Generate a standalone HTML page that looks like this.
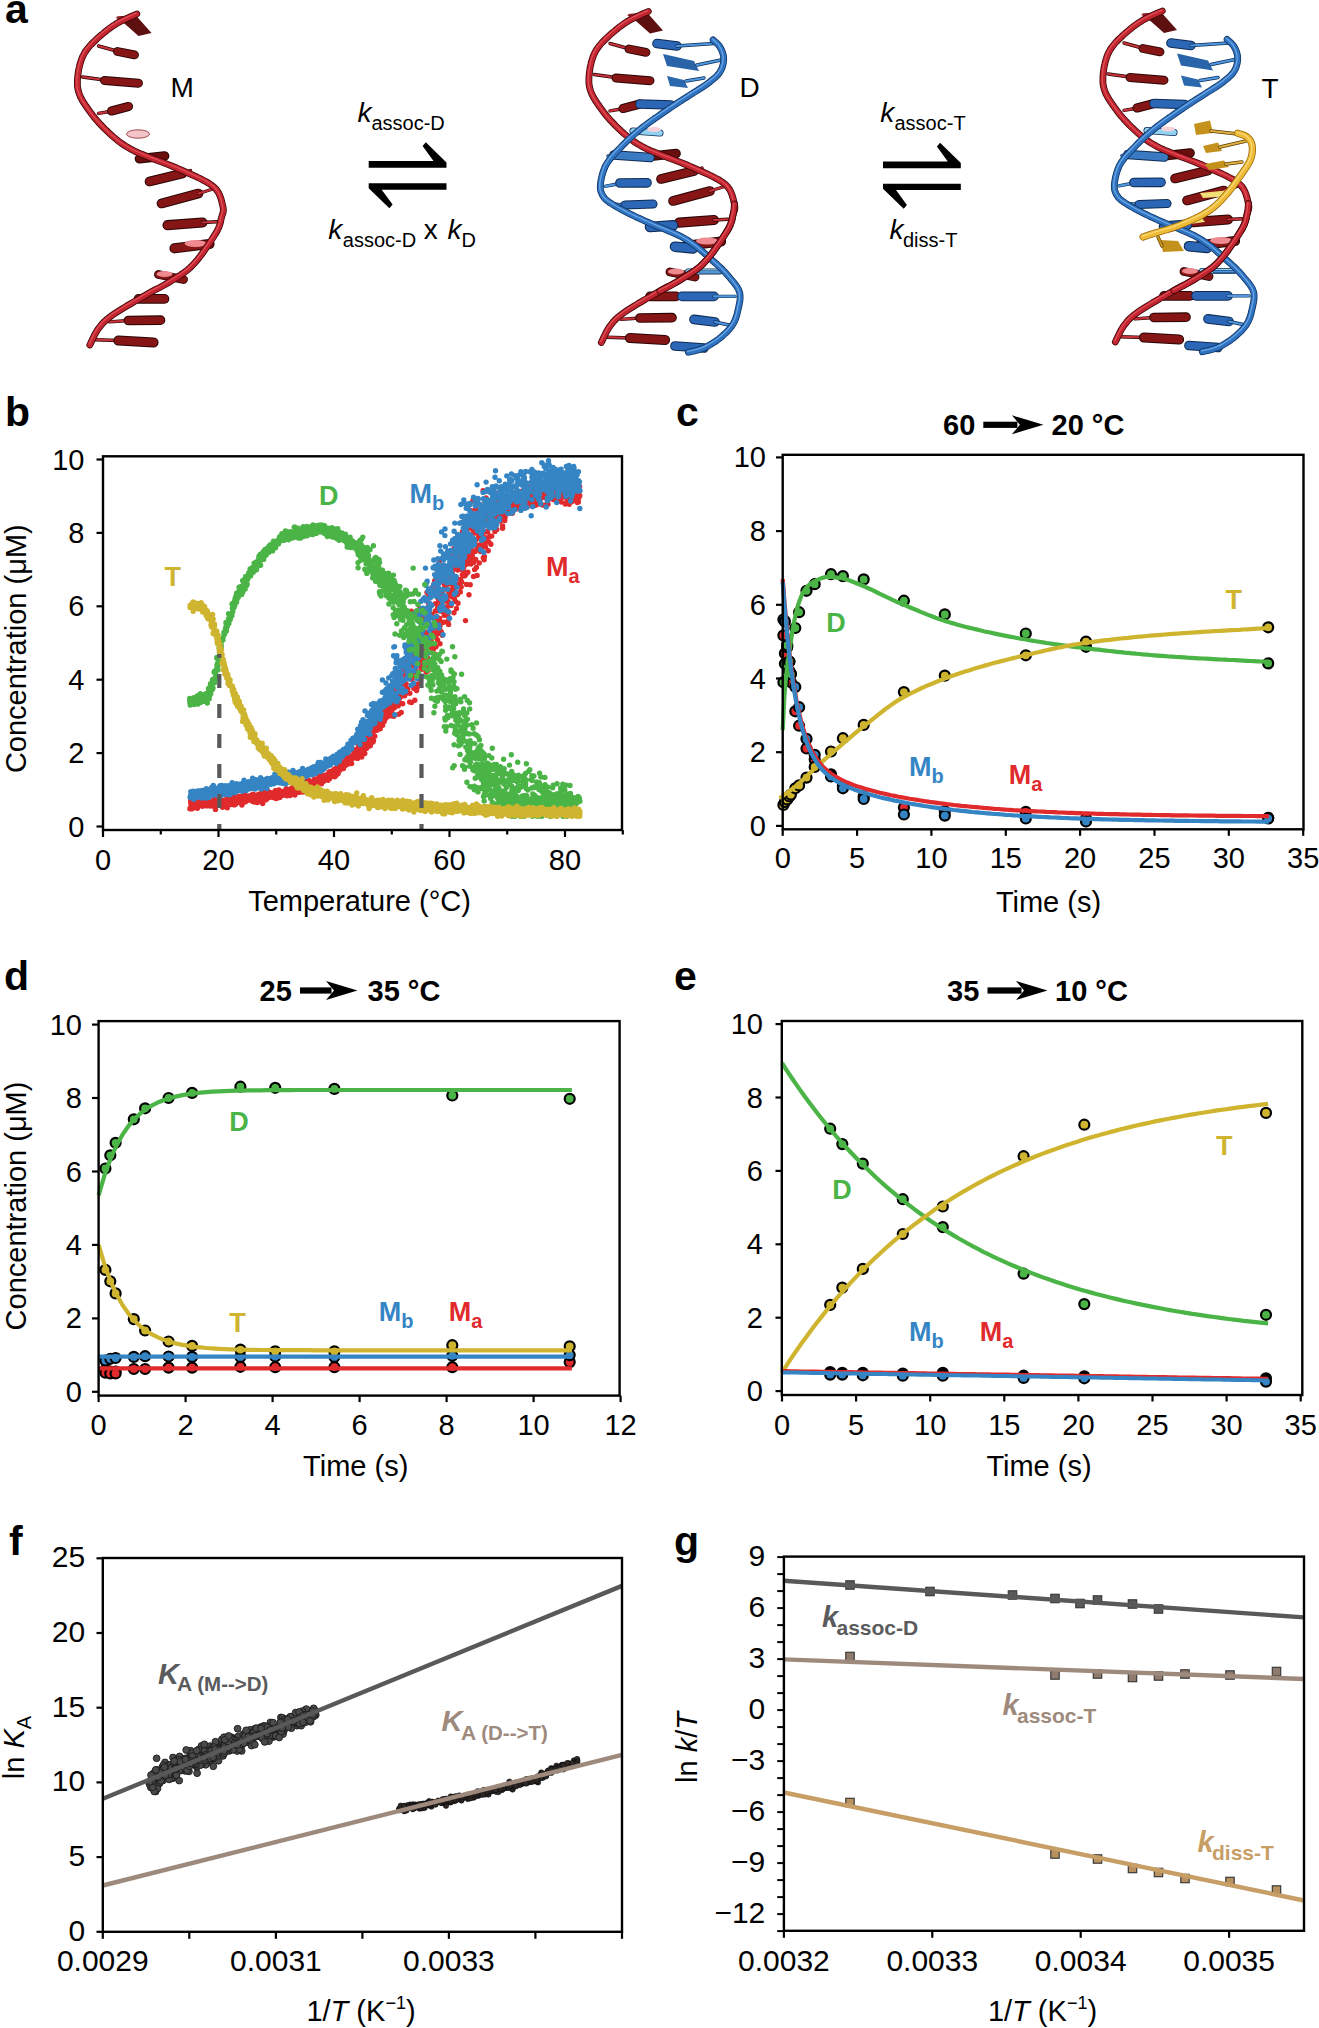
<!DOCTYPE html>
<html><head><meta charset="utf-8"><title>Figure</title><style>html,body{margin:0;padding:0;background:#fff;width:1319px;height:2028px;overflow:hidden;font-family:"Liberation Sans",sans-serif}</style></head><body>
<svg width="1319" height="2028" viewBox="0 0 1319 2028" style="display:block" font-family='"Liberation Sans", sans-serif'>
<rect width="1319" height="2028" fill="#fff"/>
<g transform="translate(-511.5 2.5)"><polygon points="628,14 647,12.5 663,30.5 650,33.5" fill="#5e0f0f"/><polygon points="627,15 640,13 645,17 632,19" fill="#a02028"/><line x1="610" y1="43.5" x2="630" y2="49" stroke="#2a0505" stroke-width="3.4" stroke-linecap="round"/><line x1="610" y1="43.5" x2="630" y2="49" stroke="#c8323a" stroke-width="2.2" stroke-linecap="round"/><line x1="629" y1="49" x2="646" y2="52.4" stroke="#2a0505" stroke-width="8.9" stroke-linecap="round"/><line x1="629" y1="49" x2="646" y2="52.4" stroke="#861616" stroke-width="7.0" stroke-linecap="round"/><line x1="594" y1="74.5" x2="616" y2="77.5" stroke="#2a0505" stroke-width="3.4" stroke-linecap="round"/><line x1="594" y1="74.5" x2="616" y2="77.5" stroke="#c8323a" stroke-width="2.2" stroke-linecap="round"/><line x1="616" y1="78" x2="650" y2="80.7" stroke="#2a0505" stroke-width="8.9" stroke-linecap="round"/><line x1="616" y1="78" x2="650" y2="80.7" stroke="#861616" stroke-width="7.0" stroke-linecap="round"/><line x1="610" y1="110.9" x2="624" y2="108.5" stroke="#2a0505" stroke-width="3.4" stroke-linecap="round"/><line x1="610" y1="110.9" x2="624" y2="108.5" stroke="#c8323a" stroke-width="2.2" stroke-linecap="round"/><line x1="623" y1="108.5" x2="640" y2="104" stroke="#2a0505" stroke-width="9.2" stroke-linecap="round"/><line x1="623" y1="108.5" x2="640" y2="104" stroke="#861616" stroke-width="7.2" stroke-linecap="round"/><line x1="651" y1="156.2" x2="676" y2="153.5" stroke="#2a0505" stroke-width="9.7" stroke-linecap="round"/><line x1="651" y1="156.2" x2="676" y2="153.5" stroke="#6a0e0e" stroke-width="7.6" stroke-linecap="round"/><line x1="661" y1="179" x2="694" y2="171" stroke="#2a0505" stroke-width="9.7" stroke-linecap="round"/><line x1="661" y1="179" x2="694" y2="171" stroke="#861616" stroke-width="7.6" stroke-linecap="round"/><line x1="694" y1="171" x2="702" y2="168" stroke="#2a0505" stroke-width="3.4" stroke-linecap="round"/><line x1="694" y1="171" x2="702" y2="168" stroke="#c8323a" stroke-width="2.2" stroke-linecap="round"/><line x1="673" y1="201" x2="710" y2="191" stroke="#2a0505" stroke-width="9.7" stroke-linecap="round"/><line x1="673" y1="201" x2="710" y2="191" stroke="#861616" stroke-width="7.6" stroke-linecap="round"/><line x1="710" y1="191" x2="726" y2="186" stroke="#2a0505" stroke-width="3.4" stroke-linecap="round"/><line x1="710" y1="191" x2="726" y2="186" stroke="#c8323a" stroke-width="2.2" stroke-linecap="round"/><line x1="679" y1="222.7" x2="714" y2="220" stroke="#2a0505" stroke-width="10.2" stroke-linecap="round"/><line x1="679" y1="222.7" x2="714" y2="220" stroke="#861616" stroke-width="8.0" stroke-linecap="round"/><line x1="714" y1="220" x2="733" y2="219" stroke="#2a0505" stroke-width="3.4" stroke-linecap="round"/><line x1="714" y1="220" x2="733" y2="219" stroke="#c8323a" stroke-width="2.2" stroke-linecap="round"/><line x1="686" y1="245.8" x2="721" y2="241.5" stroke="#2a0505" stroke-width="10.2" stroke-linecap="round"/><line x1="686" y1="245.8" x2="721" y2="241.5" stroke="#861616" stroke-width="8.0" stroke-linecap="round"/><ellipse cx="707" cy="241" rx="11" ry="3.5" fill="#ee8a90"/><line x1="670" y1="272" x2="695" y2="277" stroke="#2a0505" stroke-width="8.9" stroke-linecap="round"/><line x1="670" y1="272" x2="695" y2="277" stroke="#861616" stroke-width="7.0" stroke-linecap="round"/><ellipse cx="676" cy="271.5" rx="8" ry="3" fill="#ee8a90"/><line x1="650" y1="296.4" x2="676" y2="296.4" stroke="#2a0505" stroke-width="9.7" stroke-linecap="round"/><line x1="650" y1="296.4" x2="676" y2="296.4" stroke="#861616" stroke-width="7.6" stroke-linecap="round"/><line x1="621" y1="319.4" x2="640" y2="318" stroke="#2a0505" stroke-width="3.4" stroke-linecap="round"/><line x1="621" y1="319.4" x2="640" y2="318" stroke="#c8323a" stroke-width="2.2" stroke-linecap="round"/><line x1="640" y1="318" x2="672" y2="317.7" stroke="#2a0505" stroke-width="9.7" stroke-linecap="round"/><line x1="640" y1="318" x2="672" y2="317.7" stroke="#861616" stroke-width="7.6" stroke-linecap="round"/><line x1="607" y1="337.2" x2="630" y2="338" stroke="#2a0505" stroke-width="3.4" stroke-linecap="round"/><line x1="607" y1="337.2" x2="630" y2="338" stroke="#c8323a" stroke-width="2.2" stroke-linecap="round"/><line x1="630" y1="338" x2="665" y2="340" stroke="#2a0505" stroke-width="10.2" stroke-linecap="round"/><line x1="630" y1="338" x2="665" y2="340" stroke="#861616" stroke-width="8.0" stroke-linecap="round"/><path d="M648.3 11.5 L647.2 12 L645.8 12.6 L644 13.4 L642.1 14.2 L640.1 15.1 L637.9 16.1 L635.8 17.1 L633.7 18.1 L631.8 19 L630 20 L628.4 20.9 L626.9 21.9 L625.4 22.8 L624 23.7 L622.6 24.7 L621.2 25.7 L619.8 26.7 L618.4 27.8 L617 29 L615.5 30.2 L614 31.5 L612.3 32.9 L610.7 34.3 L609 35.8 L607.3 37.4 L605.7 38.9 L604.1 40.5 L602.6 42 L601.2 43.5 L600 45 L598.9 46.4 L597.9 47.7 L597 49 L596.2 50.2 L595.5 51.5 L594.8 52.8 L594.1 54.1 L593.5 55.5 L593 57 L592.4 58.6 L591.9 60.3 L591.3 62.2 L590.9 64.2 L590.4 66.2 L590 68.3 L589.7 70.4 L589.4 72.4 L589.2 74.4 L589 76.3 L588.9 78 L588.9 79.6 L588.9 81.1 L588.9 82.6 L589 84 L589.2 85.3 L589.4 86.6 L589.7 87.9 L590.1 89.3 L590.5 90.6 L591 92 L591.6 93.4 L592.2 94.9 L593 96.3 L593.7 97.7 L594.6 99.2 L595.5 100.6 L596.5 102.1 L597.4 103.5 L598.5 105 L599.5 106.5 L600.6 108 L601.7 109.5 L602.8 111 L604 112.6 L605.2 114.1 L606.4 115.7 L607.7 117.3 L609.1 118.8 L610.5 120.4 L612 122 L613.6 123.6 L615.2 125.3 L617 127.1 L618.8 128.8 L620.7 130.6 L622.5 132.3 L624.4 134 L626.2 135.5 L628 137 L629.7 138.4 L631.3 139.6 L632.9 140.8 L634.5 141.9 L636 142.9 L637.5 143.8 L639 144.7 L640.5 145.6 L642 146.4 L643.5 147.2 L645 148 L646.4 148.7 L647.7 149.4 L648.9 149.9 L650 150.4 L651.2 150.9 L652.5 151.4 L653.9 152 L655.6 152.7 L657.6 153.5 L659.9 154.4 L662.6 155.5 L665.8 156.7 L669.2 158 L672.8 159.4 L676.6 160.9 L680.5 162.4 L684.4 164 L688.2 165.5 L691.9 167.1 L695.3 168.6 L698.6 170.1 L702 171.6 L705.4 173.2 L708.8 174.7 L712.1 176.3 L715.2 177.9 L718.2 179.5 L720.9 181.2 L723.4 182.9 L725.5 184.6 L727.3 186.4 L728.8 188.4 L730.1 190.4 L731.1 192.5 L731.9 194.6 L732.6 196.7 L733.2 198.7 L733.6 200.6 L734 202.4 L734.4 204 L734.7 205.4 L734.8 206.7 L734.9 207.8 L734.8 208.8 L734.6 209.7 L734.4 210.7 L734.1 211.6 L733.7 212.6 L733.4 213.7 L733 215 L732.7 216.3 L732.4 217.6 L732.2 218.9 L731.9 220.2 L731.5 221.5 L731 223 L730.4 224.7 L729.6 226.4 L728.6 228.5 L727.3 230.7 L725.7 233.3 L723.8 236.3 L721.7 239.5 L719.4 243 L716.9 246.5 L714.4 250.1 L711.8 253.6 L709.2 256.9 L706.6 259.9 L704.2 262.6 L701.8 265 L699.4 267.1 L696.9 269.1 L694.4 270.9 L691.9 272.6 L689.4 274.2 L687 275.7 L684.6 277.2 L682.3 278.6 L680 280 L677.9 281.3 L676 282.4 L674.2 283.4 L672.4 284.4 L670.7 285.3 L668.9 286.2 L666.9 287.1 L664.8 288.2 L662.5 289.5 L659.9 291 L656.9 292.7 L653.4 294.7 L649.7 296.9 L645.8 299.1 L641.8 301.5 L637.8 303.8 L634 306.1 L630.4 308.4 L627.2 310.4 L624.4 312.3 L622.1 314 L620.1 315.5 L618.3 316.9 L616.8 318.2 L615.5 319.5 L614.3 320.7 L613.2 321.9 L612.2 323.2 L611.1 324.6 L610 326 L608.9 327.6 L607.8 329.4 L606.7 331.3 L605.7 333.2 L604.8 335.1 L603.9 337 L603.1 338.7 L602.4 340.2 L601.8 341.5 L601.3 342.5" fill="none" stroke="#3a0606" stroke-width="6.800000000000001" stroke-linecap="round" stroke-linejoin="round"/><path d="M648.3 11.5 L647.2 12 L645.8 12.6 L644 13.4 L642.1 14.2 L640.1 15.1 L637.9 16.1 L635.8 17.1 L633.7 18.1 L631.8 19 L630 20 L628.4 20.9 L626.9 21.9 L625.4 22.8 L624 23.7 L622.6 24.7 L621.2 25.7 L619.8 26.7 L618.4 27.8 L617 29 L615.5 30.2 L614 31.5 L612.3 32.9 L610.7 34.3 L609 35.8 L607.3 37.4 L605.7 38.9 L604.1 40.5 L602.6 42 L601.2 43.5 L600 45 L598.9 46.4 L597.9 47.7 L597 49 L596.2 50.2 L595.5 51.5 L594.8 52.8 L594.1 54.1 L593.5 55.5 L593 57 L592.4 58.6 L591.9 60.3 L591.3 62.2 L590.9 64.2 L590.4 66.2 L590 68.3 L589.7 70.4 L589.4 72.4 L589.2 74.4 L589 76.3 L588.9 78 L588.9 79.6 L588.9 81.1 L588.9 82.6 L589 84 L589.2 85.3 L589.4 86.6 L589.7 87.9 L590.1 89.3 L590.5 90.6 L591 92 L591.6 93.4 L592.2 94.9 L593 96.3 L593.7 97.7 L594.6 99.2 L595.5 100.6 L596.5 102.1 L597.4 103.5 L598.5 105 L599.5 106.5 L600.6 108 L601.7 109.5 L602.8 111 L604 112.6 L605.2 114.1 L606.4 115.7 L607.7 117.3 L609.1 118.8 L610.5 120.4 L612 122 L613.6 123.6 L615.2 125.3 L617 127.1 L618.8 128.8 L620.7 130.6 L622.5 132.3 L624.4 134 L626.2 135.5 L628 137 L629.7 138.4 L631.3 139.6 L632.9 140.8 L634.5 141.9 L636 142.9 L637.5 143.8 L639 144.7 L640.5 145.6 L642 146.4 L643.5 147.2 L645 148 L646.4 148.7 L647.7 149.4 L648.9 149.9 L650 150.4 L651.2 150.9 L652.5 151.4 L653.9 152 L655.6 152.7 L657.6 153.5 L659.9 154.4 L662.6 155.5 L665.8 156.7 L669.2 158 L672.8 159.4 L676.6 160.9 L680.5 162.4 L684.4 164 L688.2 165.5 L691.9 167.1 L695.3 168.6 L698.6 170.1 L702 171.6 L705.4 173.2 L708.8 174.7 L712.1 176.3 L715.2 177.9 L718.2 179.5 L720.9 181.2 L723.4 182.9 L725.5 184.6 L727.3 186.4 L728.8 188.4 L730.1 190.4 L731.1 192.5 L731.9 194.6 L732.6 196.7 L733.2 198.7 L733.6 200.6 L734 202.4 L734.4 204 L734.7 205.4 L734.8 206.7 L734.9 207.8 L734.8 208.8 L734.6 209.7 L734.4 210.7 L734.1 211.6 L733.7 212.6 L733.4 213.7 L733 215 L732.7 216.3 L732.4 217.6 L732.2 218.9 L731.9 220.2 L731.5 221.5 L731 223 L730.4 224.7 L729.6 226.4 L728.6 228.5 L727.3 230.7 L725.7 233.3 L723.8 236.3 L721.7 239.5 L719.4 243 L716.9 246.5 L714.4 250.1 L711.8 253.6 L709.2 256.9 L706.6 259.9 L704.2 262.6 L701.8 265 L699.4 267.1 L696.9 269.1 L694.4 270.9 L691.9 272.6 L689.4 274.2 L687 275.7 L684.6 277.2 L682.3 278.6 L680 280 L677.9 281.3 L676 282.4 L674.2 283.4 L672.4 284.4 L670.7 285.3 L668.9 286.2 L666.9 287.1 L664.8 288.2 L662.5 289.5 L659.9 291 L656.9 292.7 L653.4 294.7 L649.7 296.9 L645.8 299.1 L641.8 301.5 L637.8 303.8 L634 306.1 L630.4 308.4 L627.2 310.4 L624.4 312.3 L622.1 314 L620.1 315.5 L618.3 316.9 L616.8 318.2 L615.5 319.5 L614.3 320.7 L613.2 321.9 L612.2 323.2 L611.1 324.6 L610 326 L608.9 327.6 L607.8 329.4 L606.7 331.3 L605.7 333.2 L604.8 335.1 L603.9 337 L603.1 338.7 L602.4 340.2 L601.8 341.5 L601.3 342.5" fill="none" stroke="#c22430" stroke-width="5.2" stroke-linecap="round" stroke-linejoin="round"/><path d="M648.3 11.5 L647.2 12 L645.8 12.6 L644 13.4 L642.1 14.2 L640.1 15.1 L637.9 16.1 L635.8 17.1 L633.7 18.1 L631.8 19 L630 20 L628.4 20.9 L626.9 21.9 L625.4 22.8 L624 23.7 L622.6 24.7 L621.2 25.7 L619.8 26.7 L618.4 27.8 L617 29 L615.5 30.2 L614 31.5 L612.3 32.9 L610.7 34.3 L609 35.8 L607.3 37.4 L605.7 38.9 L604.1 40.5 L602.6 42 L601.2 43.5 L600 45 L598.9 46.4 L597.9 47.7 L597 49 L596.2 50.2 L595.5 51.5 L594.8 52.8 L594.1 54.1 L593.5 55.5 L593 57 L592.4 58.6 L591.9 60.3 L591.3 62.2 L590.9 64.2 L590.4 66.2 L590 68.3 L589.7 70.4 L589.4 72.4 L589.2 74.4 L589 76.3 L588.9 78 L588.9 79.6 L588.9 81.1 L588.9 82.6 L589 84 L589.2 85.3 L589.4 86.6 L589.7 87.9 L590.1 89.3 L590.5 90.6 L591 92 L591.6 93.4 L592.2 94.9 L593 96.3 L593.7 97.7 L594.6 99.2 L595.5 100.6 L596.5 102.1 L597.4 103.5 L598.5 105 L599.5 106.5 L600.6 108 L601.7 109.5 L602.8 111 L604 112.6 L605.2 114.1 L606.4 115.7 L607.7 117.3 L609.1 118.8 L610.5 120.4 L612 122 L613.6 123.6 L615.2 125.3 L617 127.1 L618.8 128.8 L620.7 130.6 L622.5 132.3 L624.4 134 L626.2 135.5 L628 137 L629.7 138.4 L631.3 139.6 L632.9 140.8 L634.5 141.9 L636 142.9 L637.5 143.8 L639 144.7 L640.5 145.6 L642 146.4 L643.5 147.2 L645 148 L646.4 148.7 L647.7 149.4 L648.9 149.9 L650 150.4 L651.2 150.9 L652.5 151.4 L653.9 152 L655.6 152.7 L657.6 153.5 L659.9 154.4 L662.6 155.5 L665.8 156.7 L669.2 158 L672.8 159.4 L676.6 160.9 L680.5 162.4 L684.4 164 L688.2 165.5 L691.9 167.1 L695.3 168.6 L698.6 170.1 L702 171.6 L705.4 173.2 L708.8 174.7 L712.1 176.3 L715.2 177.9 L718.2 179.5 L720.9 181.2 L723.4 182.9 L725.5 184.6 L727.3 186.4 L728.8 188.4 L730.1 190.4 L731.1 192.5 L731.9 194.6 L732.6 196.7 L733.2 198.7 L733.6 200.6 L734 202.4 L734.4 204 L734.7 205.4 L734.8 206.7 L734.9 207.8 L734.8 208.8 L734.6 209.7 L734.4 210.7 L734.1 211.6 L733.7 212.6 L733.4 213.7 L733 215 L732.7 216.3 L732.4 217.6 L732.2 218.9 L731.9 220.2 L731.5 221.5 L731 223 L730.4 224.7 L729.6 226.4 L728.6 228.5 L727.3 230.7 L725.7 233.3 L723.8 236.3 L721.7 239.5 L719.4 243 L716.9 246.5 L714.4 250.1 L711.8 253.6 L709.2 256.9 L706.6 259.9 L704.2 262.6 L701.8 265 L699.4 267.1 L696.9 269.1 L694.4 270.9 L691.9 272.6 L689.4 274.2 L687 275.7 L684.6 277.2 L682.3 278.6 L680 280 L677.9 281.3 L676 282.4 L674.2 283.4 L672.4 284.4 L670.7 285.3 L668.9 286.2 L666.9 287.1 L664.8 288.2 L662.5 289.5 L659.9 291 L656.9 292.7 L653.4 294.7 L649.7 296.9 L645.8 299.1 L641.8 301.5 L637.8 303.8 L634 306.1 L630.4 308.4 L627.2 310.4 L624.4 312.3 L622.1 314 L620.1 315.5 L618.3 316.9 L616.8 318.2 L615.5 319.5 L614.3 320.7 L613.2 321.9 L612.2 323.2 L611.1 324.6 L610 326 L608.9 327.6 L607.8 329.4 L606.7 331.3 L605.7 333.2 L604.8 335.1 L603.9 337 L603.1 338.7 L602.4 340.2 L601.8 341.5 L601.3 342.5" fill="none" stroke="#e65a60" stroke-width="1.3" stroke-linecap="round" stroke-linejoin="round" transform="translate(-0.6 -0.9)" opacity="0.8"/></g>
<ellipse cx="138" cy="134" rx="11.5" ry="4.2" fill="#f4c4c8" stroke="#8a2a30" stroke-width="0.8"/>
<g><polygon points="628,14 647,12.5 663,30.5 650,33.5" fill="#5e0f0f"/><polygon points="627,15 640,13 645,17 632,19" fill="#a02028"/><line x1="610" y1="43.5" x2="630" y2="49" stroke="#2a0505" stroke-width="3.4" stroke-linecap="round"/><line x1="610" y1="43.5" x2="630" y2="49" stroke="#c8323a" stroke-width="2.2" stroke-linecap="round"/><line x1="629" y1="49" x2="646" y2="52.4" stroke="#2a0505" stroke-width="8.9" stroke-linecap="round"/><line x1="629" y1="49" x2="646" y2="52.4" stroke="#861616" stroke-width="7.0" stroke-linecap="round"/><line x1="594" y1="74.5" x2="616" y2="77.5" stroke="#2a0505" stroke-width="3.4" stroke-linecap="round"/><line x1="594" y1="74.5" x2="616" y2="77.5" stroke="#c8323a" stroke-width="2.2" stroke-linecap="round"/><line x1="616" y1="78" x2="650" y2="80.7" stroke="#2a0505" stroke-width="8.9" stroke-linecap="round"/><line x1="616" y1="78" x2="650" y2="80.7" stroke="#861616" stroke-width="7.0" stroke-linecap="round"/><line x1="610" y1="110.9" x2="624" y2="108.5" stroke="#2a0505" stroke-width="3.4" stroke-linecap="round"/><line x1="610" y1="110.9" x2="624" y2="108.5" stroke="#c8323a" stroke-width="2.2" stroke-linecap="round"/><line x1="623" y1="108.5" x2="640" y2="104" stroke="#2a0505" stroke-width="9.2" stroke-linecap="round"/><line x1="623" y1="108.5" x2="640" y2="104" stroke="#861616" stroke-width="7.2" stroke-linecap="round"/><line x1="651" y1="156.2" x2="676" y2="153.5" stroke="#2a0505" stroke-width="9.7" stroke-linecap="round"/><line x1="651" y1="156.2" x2="676" y2="153.5" stroke="#6a0e0e" stroke-width="7.6" stroke-linecap="round"/><line x1="661" y1="179" x2="694" y2="171" stroke="#2a0505" stroke-width="9.7" stroke-linecap="round"/><line x1="661" y1="179" x2="694" y2="171" stroke="#861616" stroke-width="7.6" stroke-linecap="round"/><line x1="694" y1="171" x2="702" y2="168" stroke="#2a0505" stroke-width="3.4" stroke-linecap="round"/><line x1="694" y1="171" x2="702" y2="168" stroke="#c8323a" stroke-width="2.2" stroke-linecap="round"/><line x1="673" y1="201" x2="710" y2="191" stroke="#2a0505" stroke-width="9.7" stroke-linecap="round"/><line x1="673" y1="201" x2="710" y2="191" stroke="#861616" stroke-width="7.6" stroke-linecap="round"/><line x1="710" y1="191" x2="726" y2="186" stroke="#2a0505" stroke-width="3.4" stroke-linecap="round"/><line x1="710" y1="191" x2="726" y2="186" stroke="#c8323a" stroke-width="2.2" stroke-linecap="round"/><line x1="679" y1="222.7" x2="714" y2="220" stroke="#2a0505" stroke-width="10.2" stroke-linecap="round"/><line x1="679" y1="222.7" x2="714" y2="220" stroke="#861616" stroke-width="8.0" stroke-linecap="round"/><line x1="714" y1="220" x2="733" y2="219" stroke="#2a0505" stroke-width="3.4" stroke-linecap="round"/><line x1="714" y1="220" x2="733" y2="219" stroke="#c8323a" stroke-width="2.2" stroke-linecap="round"/><line x1="686" y1="245.8" x2="721" y2="241.5" stroke="#2a0505" stroke-width="10.2" stroke-linecap="round"/><line x1="686" y1="245.8" x2="721" y2="241.5" stroke="#861616" stroke-width="8.0" stroke-linecap="round"/><ellipse cx="707" cy="241" rx="11" ry="3.5" fill="#ee8a90"/><line x1="670" y1="272" x2="695" y2="277" stroke="#2a0505" stroke-width="8.9" stroke-linecap="round"/><line x1="670" y1="272" x2="695" y2="277" stroke="#861616" stroke-width="7.0" stroke-linecap="round"/><ellipse cx="676" cy="271.5" rx="8" ry="3" fill="#ee8a90"/><line x1="650" y1="296.4" x2="676" y2="296.4" stroke="#2a0505" stroke-width="9.7" stroke-linecap="round"/><line x1="650" y1="296.4" x2="676" y2="296.4" stroke="#861616" stroke-width="7.6" stroke-linecap="round"/><line x1="621" y1="319.4" x2="640" y2="318" stroke="#2a0505" stroke-width="3.4" stroke-linecap="round"/><line x1="621" y1="319.4" x2="640" y2="318" stroke="#c8323a" stroke-width="2.2" stroke-linecap="round"/><line x1="640" y1="318" x2="672" y2="317.7" stroke="#2a0505" stroke-width="9.7" stroke-linecap="round"/><line x1="640" y1="318" x2="672" y2="317.7" stroke="#861616" stroke-width="7.6" stroke-linecap="round"/><line x1="607" y1="337.2" x2="630" y2="338" stroke="#2a0505" stroke-width="3.4" stroke-linecap="round"/><line x1="607" y1="337.2" x2="630" y2="338" stroke="#c8323a" stroke-width="2.2" stroke-linecap="round"/><line x1="630" y1="338" x2="665" y2="340" stroke="#2a0505" stroke-width="10.2" stroke-linecap="round"/><line x1="630" y1="338" x2="665" y2="340" stroke="#861616" stroke-width="8.0" stroke-linecap="round"/><line x1="657" y1="43.5" x2="677" y2="46" stroke="#0e2c55" stroke-width="9.7" stroke-linecap="round"/><line x1="657" y1="43.5" x2="677" y2="46" stroke="#2b67b6" stroke-width="7.6" stroke-linecap="round"/><line x1="677" y1="46" x2="714" y2="43.5" stroke="#0e2c55" stroke-width="3.4" stroke-linecap="round"/><line x1="677" y1="46" x2="714" y2="43.5" stroke="#4f98e0" stroke-width="2.2" stroke-linecap="round"/><polygon points="663,54 694,61 699,71 667,66" fill="#2a64a8"/><line x1="697" y1="65" x2="721" y2="60" stroke="#0e2c55" stroke-width="3.4" stroke-linecap="round"/><line x1="697" y1="65" x2="721" y2="60" stroke="#4f98e0" stroke-width="2.2" stroke-linecap="round"/><polygon points="667,76 684,80 688,88 670,86" fill="#2c68ae"/><line x1="686" y1="81" x2="704" y2="78" stroke="#0e2c55" stroke-width="3.4" stroke-linecap="round"/><line x1="686" y1="81" x2="704" y2="78" stroke="#4f98e0" stroke-width="2.2" stroke-linecap="round"/><line x1="640" y1="104" x2="671" y2="105" stroke="#0e2c55" stroke-width="9.7" stroke-linecap="round"/><line x1="640" y1="104" x2="671" y2="105" stroke="#2b67b6" stroke-width="7.6" stroke-linecap="round"/><line x1="633" y1="131" x2="660" y2="133" stroke="#0e2c55" stroke-width="7.1" stroke-linecap="round"/><line x1="633" y1="131" x2="660" y2="133" stroke="#92d2f0" stroke-width="5.5" stroke-linecap="round"/><ellipse cx="654" cy="129.5" rx="7" ry="2.5" fill="#f6d0d8"/><line x1="608" y1="156" x2="614" y2="156" stroke="#0e2c55" stroke-width="3.4" stroke-linecap="round"/><line x1="608" y1="156" x2="614" y2="156" stroke="#4f98e0" stroke-width="2.2" stroke-linecap="round"/><line x1="614" y1="155" x2="650" y2="157.5" stroke="#0e2c55" stroke-width="9.7" stroke-linecap="round"/><line x1="614" y1="155" x2="650" y2="157.5" stroke="#3a7ac2" stroke-width="7.6" stroke-linecap="round"/><line x1="604.8" y1="186.3" x2="620" y2="183.5" stroke="#0e2c55" stroke-width="3.4" stroke-linecap="round"/><line x1="604.8" y1="186.3" x2="620" y2="183.5" stroke="#4f98e0" stroke-width="2.2" stroke-linecap="round"/><line x1="620" y1="183" x2="647" y2="182.8" stroke="#0e2c55" stroke-width="9.7" stroke-linecap="round"/><line x1="620" y1="183" x2="647" y2="182.8" stroke="#2b67b6" stroke-width="7.6" stroke-linecap="round"/><line x1="612" y1="204" x2="625" y2="205" stroke="#0e2c55" stroke-width="3.4" stroke-linecap="round"/><line x1="612" y1="204" x2="625" y2="205" stroke="#4f98e0" stroke-width="2.2" stroke-linecap="round"/><line x1="625" y1="205" x2="653" y2="204" stroke="#0e2c55" stroke-width="9.2" stroke-linecap="round"/><line x1="625" y1="205" x2="653" y2="204" stroke="#2b67b6" stroke-width="7.2" stroke-linecap="round"/><line x1="650" y1="227" x2="673" y2="225.4" stroke="#0e2c55" stroke-width="10.6" stroke-linecap="round"/><line x1="650" y1="227" x2="673" y2="225.4" stroke="#2b67b6" stroke-width="8.4" stroke-linecap="round"/><line x1="675" y1="246.7" x2="693" y2="248.4" stroke="#0e2c55" stroke-width="10.6" stroke-linecap="round"/><line x1="675" y1="246.7" x2="693" y2="248.4" stroke="#2b67b6" stroke-width="8.4" stroke-linecap="round"/><line x1="688" y1="271.5" x2="720" y2="271.5" stroke="#0e2c55" stroke-width="5.9" stroke-linecap="round"/><line x1="688" y1="271.5" x2="720" y2="271.5" stroke="#92d2f0" stroke-width="4.5" stroke-linecap="round"/><line x1="700" y1="272" x2="722" y2="272" stroke="#0e2c55" stroke-width="3.2" stroke-linecap="round"/><line x1="700" y1="272" x2="722" y2="272" stroke="#4f98e0" stroke-width="2.0" stroke-linecap="round"/><line x1="682" y1="296.4" x2="714" y2="296.4" stroke="#0e2c55" stroke-width="9.7" stroke-linecap="round"/><line x1="682" y1="296.4" x2="714" y2="296.4" stroke="#2b67b6" stroke-width="7.6" stroke-linecap="round"/><line x1="714" y1="296.4" x2="735" y2="296.4" stroke="#0e2c55" stroke-width="3.4" stroke-linecap="round"/><line x1="714" y1="296.4" x2="735" y2="296.4" stroke="#4f98e0" stroke-width="2.2" stroke-linecap="round"/><line x1="694" y1="319.4" x2="715" y2="322" stroke="#0e2c55" stroke-width="9.7" stroke-linecap="round"/><line x1="694" y1="319.4" x2="715" y2="322" stroke="#2b67b6" stroke-width="7.6" stroke-linecap="round"/><line x1="715" y1="322" x2="729" y2="325" stroke="#0e2c55" stroke-width="3.4" stroke-linecap="round"/><line x1="715" y1="322" x2="729" y2="325" stroke="#4f98e0" stroke-width="2.2" stroke-linecap="round"/><line x1="675" y1="346" x2="704" y2="348" stroke="#0e2c55" stroke-width="9.7" stroke-linecap="round"/><line x1="675" y1="346" x2="704" y2="348" stroke="#2b67b6" stroke-width="7.6" stroke-linecap="round"/><path d="M648.3 11.5 L647.2 12 L645.8 12.6 L644 13.4 L642.1 14.2 L640.1 15.1 L637.9 16.1 L635.8 17.1 L633.7 18.1 L631.8 19 L630 20 L628.4 20.9 L626.9 21.9 L625.4 22.8 L624 23.7 L622.6 24.7 L621.2 25.7 L619.8 26.7 L618.4 27.8 L617 29 L615.5 30.2 L614 31.5 L612.3 32.9 L610.7 34.3 L609 35.8 L607.3 37.4 L605.7 38.9 L604.1 40.5 L602.6 42 L601.2 43.5 L600 45 L598.9 46.4 L597.9 47.7 L597 49 L596.2 50.2 L595.5 51.5 L594.8 52.8 L594.1 54.1 L593.5 55.5 L593 57 L592.4 58.6 L591.9 60.3 L591.3 62.2 L590.9 64.2 L590.4 66.2 L590 68.3 L589.7 70.4 L589.4 72.4 L589.2 74.4 L589 76.3 L588.9 78 L588.9 79.6 L588.9 81.1 L588.9 82.6 L589 84 L589.2 85.3 L589.4 86.6 L589.7 87.9 L590.1 89.3 L590.5 90.6 L591 92 L591.6 93.4 L592.2 94.9 L593 96.3 L593.7 97.7 L594.6 99.2 L595.5 100.6 L596.5 102.1 L597.4 103.5 L598.5 105 L599.5 106.5 L600.6 108 L601.7 109.5 L602.8 111 L604 112.6 L605.2 114.1 L606.4 115.7 L607.7 117.3 L609.1 118.8 L610.5 120.4 L612 122 L613.6 123.6 L615.2 125.3 L617 127.1 L618.8 128.8 L620.7 130.6 L622.5 132.3 L624.4 134 L626.2 135.5 L628 137 L629.7 138.4 L631.3 139.6 L632.9 140.8 L634.5 141.9 L636 142.9 L637.5 143.8 L639 144.7 L640.5 145.6 L642 146.4 L643.5 147.2 L645 148 L646.4 148.7 L647.7 149.4 L648.9 149.9 L650 150.4 L651.2 150.9 L652.5 151.4 L653.9 152 L655.6 152.7 L657.6 153.5 L659.9 154.4 L662.6 155.5 L665.8 156.7 L669.2 158 L672.8 159.4 L676.6 160.9 L680.5 162.4 L684.4 164 L688.2 165.5 L691.9 167.1 L695.3 168.6 L698.6 170.1 L702 171.6 L705.4 173.2 L708.8 174.7 L712.1 176.3 L715.2 177.9 L718.2 179.5 L720.9 181.2 L723.4 182.9 L725.5 184.6 L727.3 186.4 L728.8 188.4 L730.1 190.4 L731.1 192.5 L731.9 194.6 L732.6 196.7 L733.2 198.7 L733.6 200.6 L734 202.4 L734.4 204 L734.7 205.4 L734.8 206.7 L734.9 207.8 L734.8 208.8 L734.6 209.7 L734.4 210.7 L734.1 211.6 L733.7 212.6 L733.4 213.7 L733 215 L732.7 216.3 L732.4 217.6 L732.2 218.9 L731.9 220.2 L731.5 221.5 L731 223 L730.4 224.7 L729.6 226.4 L728.6 228.5 L727.3 230.7 L725.7 233.3 L723.8 236.3 L721.7 239.5 L719.4 243 L716.9 246.5 L714.4 250.1 L711.8 253.6 L709.2 256.9 L706.6 259.9 L704.2 262.6 L701.8 265 L699.4 267.1 L696.9 269.1 L694.4 270.9 L691.9 272.6 L689.4 274.2 L687 275.7 L684.6 277.2 L682.3 278.6 L680 280 L677.9 281.3 L676 282.4 L674.2 283.4 L672.4 284.4 L670.7 285.3 L668.9 286.2 L666.9 287.1 L664.8 288.2 L662.5 289.5 L659.9 291 L656.9 292.7 L653.4 294.7 L649.7 296.9 L645.8 299.1 L641.8 301.5 L637.8 303.8 L634 306.1 L630.4 308.4 L627.2 310.4 L624.4 312.3 L622.1 314 L620.1 315.5 L618.3 316.9 L616.8 318.2 L615.5 319.5 L614.3 320.7 L613.2 321.9 L612.2 323.2 L611.1 324.6 L610 326 L608.9 327.6 L607.8 329.4 L606.7 331.3 L605.7 333.2 L604.8 335.1 L603.9 337 L603.1 338.7 L602.4 340.2 L601.8 341.5 L601.3 342.5" fill="none" stroke="#3a0606" stroke-width="6.800000000000001" stroke-linecap="round" stroke-linejoin="round"/><path d="M648.3 11.5 L647.2 12 L645.8 12.6 L644 13.4 L642.1 14.2 L640.1 15.1 L637.9 16.1 L635.8 17.1 L633.7 18.1 L631.8 19 L630 20 L628.4 20.9 L626.9 21.9 L625.4 22.8 L624 23.7 L622.6 24.7 L621.2 25.7 L619.8 26.7 L618.4 27.8 L617 29 L615.5 30.2 L614 31.5 L612.3 32.9 L610.7 34.3 L609 35.8 L607.3 37.4 L605.7 38.9 L604.1 40.5 L602.6 42 L601.2 43.5 L600 45 L598.9 46.4 L597.9 47.7 L597 49 L596.2 50.2 L595.5 51.5 L594.8 52.8 L594.1 54.1 L593.5 55.5 L593 57 L592.4 58.6 L591.9 60.3 L591.3 62.2 L590.9 64.2 L590.4 66.2 L590 68.3 L589.7 70.4 L589.4 72.4 L589.2 74.4 L589 76.3 L588.9 78 L588.9 79.6 L588.9 81.1 L588.9 82.6 L589 84 L589.2 85.3 L589.4 86.6 L589.7 87.9 L590.1 89.3 L590.5 90.6 L591 92 L591.6 93.4 L592.2 94.9 L593 96.3 L593.7 97.7 L594.6 99.2 L595.5 100.6 L596.5 102.1 L597.4 103.5 L598.5 105 L599.5 106.5 L600.6 108 L601.7 109.5 L602.8 111 L604 112.6 L605.2 114.1 L606.4 115.7 L607.7 117.3 L609.1 118.8 L610.5 120.4 L612 122 L613.6 123.6 L615.2 125.3 L617 127.1 L618.8 128.8 L620.7 130.6 L622.5 132.3 L624.4 134 L626.2 135.5 L628 137 L629.7 138.4 L631.3 139.6 L632.9 140.8 L634.5 141.9 L636 142.9 L637.5 143.8 L639 144.7 L640.5 145.6 L642 146.4 L643.5 147.2 L645 148 L646.4 148.7 L647.7 149.4 L648.9 149.9 L650 150.4 L651.2 150.9 L652.5 151.4 L653.9 152 L655.6 152.7 L657.6 153.5 L659.9 154.4 L662.6 155.5 L665.8 156.7 L669.2 158 L672.8 159.4 L676.6 160.9 L680.5 162.4 L684.4 164 L688.2 165.5 L691.9 167.1 L695.3 168.6 L698.6 170.1 L702 171.6 L705.4 173.2 L708.8 174.7 L712.1 176.3 L715.2 177.9 L718.2 179.5 L720.9 181.2 L723.4 182.9 L725.5 184.6 L727.3 186.4 L728.8 188.4 L730.1 190.4 L731.1 192.5 L731.9 194.6 L732.6 196.7 L733.2 198.7 L733.6 200.6 L734 202.4 L734.4 204 L734.7 205.4 L734.8 206.7 L734.9 207.8 L734.8 208.8 L734.6 209.7 L734.4 210.7 L734.1 211.6 L733.7 212.6 L733.4 213.7 L733 215 L732.7 216.3 L732.4 217.6 L732.2 218.9 L731.9 220.2 L731.5 221.5 L731 223 L730.4 224.7 L729.6 226.4 L728.6 228.5 L727.3 230.7 L725.7 233.3 L723.8 236.3 L721.7 239.5 L719.4 243 L716.9 246.5 L714.4 250.1 L711.8 253.6 L709.2 256.9 L706.6 259.9 L704.2 262.6 L701.8 265 L699.4 267.1 L696.9 269.1 L694.4 270.9 L691.9 272.6 L689.4 274.2 L687 275.7 L684.6 277.2 L682.3 278.6 L680 280 L677.9 281.3 L676 282.4 L674.2 283.4 L672.4 284.4 L670.7 285.3 L668.9 286.2 L666.9 287.1 L664.8 288.2 L662.5 289.5 L659.9 291 L656.9 292.7 L653.4 294.7 L649.7 296.9 L645.8 299.1 L641.8 301.5 L637.8 303.8 L634 306.1 L630.4 308.4 L627.2 310.4 L624.4 312.3 L622.1 314 L620.1 315.5 L618.3 316.9 L616.8 318.2 L615.5 319.5 L614.3 320.7 L613.2 321.9 L612.2 323.2 L611.1 324.6 L610 326 L608.9 327.6 L607.8 329.4 L606.7 331.3 L605.7 333.2 L604.8 335.1 L603.9 337 L603.1 338.7 L602.4 340.2 L601.8 341.5 L601.3 342.5" fill="none" stroke="#c22430" stroke-width="5.2" stroke-linecap="round" stroke-linejoin="round"/><path d="M648.3 11.5 L647.2 12 L645.8 12.6 L644 13.4 L642.1 14.2 L640.1 15.1 L637.9 16.1 L635.8 17.1 L633.7 18.1 L631.8 19 L630 20 L628.4 20.9 L626.9 21.9 L625.4 22.8 L624 23.7 L622.6 24.7 L621.2 25.7 L619.8 26.7 L618.4 27.8 L617 29 L615.5 30.2 L614 31.5 L612.3 32.9 L610.7 34.3 L609 35.8 L607.3 37.4 L605.7 38.9 L604.1 40.5 L602.6 42 L601.2 43.5 L600 45 L598.9 46.4 L597.9 47.7 L597 49 L596.2 50.2 L595.5 51.5 L594.8 52.8 L594.1 54.1 L593.5 55.5 L593 57 L592.4 58.6 L591.9 60.3 L591.3 62.2 L590.9 64.2 L590.4 66.2 L590 68.3 L589.7 70.4 L589.4 72.4 L589.2 74.4 L589 76.3 L588.9 78 L588.9 79.6 L588.9 81.1 L588.9 82.6 L589 84 L589.2 85.3 L589.4 86.6 L589.7 87.9 L590.1 89.3 L590.5 90.6 L591 92 L591.6 93.4 L592.2 94.9 L593 96.3 L593.7 97.7 L594.6 99.2 L595.5 100.6 L596.5 102.1 L597.4 103.5 L598.5 105 L599.5 106.5 L600.6 108 L601.7 109.5 L602.8 111 L604 112.6 L605.2 114.1 L606.4 115.7 L607.7 117.3 L609.1 118.8 L610.5 120.4 L612 122 L613.6 123.6 L615.2 125.3 L617 127.1 L618.8 128.8 L620.7 130.6 L622.5 132.3 L624.4 134 L626.2 135.5 L628 137 L629.7 138.4 L631.3 139.6 L632.9 140.8 L634.5 141.9 L636 142.9 L637.5 143.8 L639 144.7 L640.5 145.6 L642 146.4 L643.5 147.2 L645 148 L646.4 148.7 L647.7 149.4 L648.9 149.9 L650 150.4 L651.2 150.9 L652.5 151.4 L653.9 152 L655.6 152.7 L657.6 153.5 L659.9 154.4 L662.6 155.5 L665.8 156.7 L669.2 158 L672.8 159.4 L676.6 160.9 L680.5 162.4 L684.4 164 L688.2 165.5 L691.9 167.1 L695.3 168.6 L698.6 170.1 L702 171.6 L705.4 173.2 L708.8 174.7 L712.1 176.3 L715.2 177.9 L718.2 179.5 L720.9 181.2 L723.4 182.9 L725.5 184.6 L727.3 186.4 L728.8 188.4 L730.1 190.4 L731.1 192.5 L731.9 194.6 L732.6 196.7 L733.2 198.7 L733.6 200.6 L734 202.4 L734.4 204 L734.7 205.4 L734.8 206.7 L734.9 207.8 L734.8 208.8 L734.6 209.7 L734.4 210.7 L734.1 211.6 L733.7 212.6 L733.4 213.7 L733 215 L732.7 216.3 L732.4 217.6 L732.2 218.9 L731.9 220.2 L731.5 221.5 L731 223 L730.4 224.7 L729.6 226.4 L728.6 228.5 L727.3 230.7 L725.7 233.3 L723.8 236.3 L721.7 239.5 L719.4 243 L716.9 246.5 L714.4 250.1 L711.8 253.6 L709.2 256.9 L706.6 259.9 L704.2 262.6 L701.8 265 L699.4 267.1 L696.9 269.1 L694.4 270.9 L691.9 272.6 L689.4 274.2 L687 275.7 L684.6 277.2 L682.3 278.6 L680 280 L677.9 281.3 L676 282.4 L674.2 283.4 L672.4 284.4 L670.7 285.3 L668.9 286.2 L666.9 287.1 L664.8 288.2 L662.5 289.5 L659.9 291 L656.9 292.7 L653.4 294.7 L649.7 296.9 L645.8 299.1 L641.8 301.5 L637.8 303.8 L634 306.1 L630.4 308.4 L627.2 310.4 L624.4 312.3 L622.1 314 L620.1 315.5 L618.3 316.9 L616.8 318.2 L615.5 319.5 L614.3 320.7 L613.2 321.9 L612.2 323.2 L611.1 324.6 L610 326 L608.9 327.6 L607.8 329.4 L606.7 331.3 L605.7 333.2 L604.8 335.1 L603.9 337 L603.1 338.7 L602.4 340.2 L601.8 341.5 L601.3 342.5" fill="none" stroke="#e65a60" stroke-width="1.3" stroke-linecap="round" stroke-linejoin="round" transform="translate(-0.6 -0.9)" opacity="0.8"/><path d="M713.1 39.9 L713.5 40.3 L714.1 40.8 L714.8 41.4 L715.5 42 L716.3 42.7 L717.1 43.5 L717.9 44.3 L718.7 45.2 L719.4 46.1 L720 47 L720.5 48 L721.1 49 L721.6 50.1 L722.1 51.2 L722.5 52.4 L722.9 53.6 L723.2 54.8 L723.5 56.1 L723.6 57.3 L723.7 58.6 L723.7 59.9 L723.6 61.2 L723.4 62.6 L723.2 63.9 L722.8 65.3 L722.4 66.7 L722 68.1 L721.4 69.4 L720.7 70.7 L720 72 L719.1 73.2 L718.2 74.4 L717.1 75.6 L716 76.7 L714.8 77.8 L713.5 78.9 L712.1 80 L710.7 81.1 L709.3 82.3 L707.8 83.4 L706.2 84.6 L704.6 85.7 L702.9 86.9 L701.1 88 L699.2 89.2 L697.4 90.4 L695.5 91.5 L693.6 92.7 L691.8 93.8 L690 95 L688.3 96.1 L686.7 97.1 L685.1 98.1 L683.5 99.1 L681.9 100.1 L680.3 101.2 L678.5 102.3 L676.6 103.6 L674.6 105 L672.3 106.5 L669.7 108.2 L666.9 110.2 L663.9 112.2 L660.7 114.4 L657.4 116.7 L654.1 118.9 L650.9 121.2 L647.8 123.5 L644.8 125.7 L642.1 127.8 L639.6 129.8 L637.2 131.8 L634.9 133.8 L632.6 135.8 L630.5 137.8 L628.4 139.7 L626.4 141.6 L624.5 143.5 L622.6 145.4 L620.8 147.3 L619 149.1 L617.3 150.9 L615.6 152.7 L614 154.4 L612.4 156.1 L610.9 157.9 L609.6 159.6 L608.3 161.4 L607.1 163.2 L606 165 L605 166.9 L604.2 168.9 L603.4 171 L602.7 173.1 L602.1 175.2 L601.6 177.3 L601.2 179.3 L600.8 181.2 L600.6 183 L600.4 184.6 L600.3 186.1 L600.3 187.5 L600.4 188.7 L600.5 189.9 L600.8 191 L601.1 192.1 L601.5 193.1 L601.9 194.1 L602.4 195 L603 196 L603.6 196.9 L604.2 197.8 L604.9 198.6 L605.7 199.3 L606.5 200.1 L607.4 200.8 L608.4 201.6 L609.5 202.3 L610.7 203.1 L612 204 L613.4 204.9 L615 205.9 L616.6 206.9 L618.4 207.9 L620.2 208.9 L622.2 209.9 L624.1 211 L626.1 212 L628 213 L630 214 L631.9 214.9 L633.8 215.8 L635.6 216.7 L637.5 217.6 L639.4 218.4 L641.4 219.3 L643.5 220.3 L645.8 221.3 L648.3 222.4 L651 223.6 L654 224.9 L657.3 226.3 L660.8 227.7 L664.5 229.2 L668.3 230.8 L672.1 232.4 L675.9 234.1 L679.6 235.8 L683.2 237.7 L686.5 239.6 L689.7 241.7 L692.8 243.9 L696 246.2 L699 248.7 L702 251.1 L704.8 253.6 L707.6 256 L710.2 258.4 L712.6 260.6 L714.9 262.6 L717 264.5 L718.9 266.2 L720.6 267.8 L722.2 269.3 L723.6 270.8 L725 272.2 L726.3 273.7 L727.5 275.1 L728.8 276.5 L730 278 L731.2 279.5 L732.5 281 L733.7 282.4 L734.8 283.8 L735.9 285.3 L736.9 286.7 L737.8 288.2 L738.6 289.7 L739.2 291.2 L739.7 292.8 L740 294.4 L740.1 296.1 L740.1 297.9 L740 299.6 L739.8 301.4 L739.5 303.2 L739.1 304.9 L738.8 306.7 L738.4 308.4 L738 310 L737.6 311.6 L737.3 313.1 L736.9 314.7 L736.5 316.2 L736 317.7 L735.5 319.1 L734.9 320.6 L734.2 322 L733.4 323.4 L732.6 324.8 L731.6 326.2 L730.6 327.6 L729.4 329 L728.2 330.4 L727 331.7 L725.6 333 L724.2 334.3 L722.8 335.6 L721.4 336.8 L720 338 L718.6 339.1 L717 340.3 L715.5 341.4 L713.9 342.4 L712.3 343.4 L710.7 344.4 L709 345.4 L707.4 346.2 L705.8 347 L704.2 347.8 L702.5 348.5 L700.8 349.1 L698.9 349.7 L697.1 350.2 L695.3 350.7 L693.5 351.1 L691.9 351.4 L690.5 351.8 L689.2 352.1 L688.3 352.3" fill="none" stroke="#0f3464" stroke-width="6.800000000000001" stroke-linecap="round" stroke-linejoin="round"/><path d="M713.1 39.9 L713.5 40.3 L714.1 40.8 L714.8 41.4 L715.5 42 L716.3 42.7 L717.1 43.5 L717.9 44.3 L718.7 45.2 L719.4 46.1 L720 47 L720.5 48 L721.1 49 L721.6 50.1 L722.1 51.2 L722.5 52.4 L722.9 53.6 L723.2 54.8 L723.5 56.1 L723.6 57.3 L723.7 58.6 L723.7 59.9 L723.6 61.2 L723.4 62.6 L723.2 63.9 L722.8 65.3 L722.4 66.7 L722 68.1 L721.4 69.4 L720.7 70.7 L720 72 L719.1 73.2 L718.2 74.4 L717.1 75.6 L716 76.7 L714.8 77.8 L713.5 78.9 L712.1 80 L710.7 81.1 L709.3 82.3 L707.8 83.4 L706.2 84.6 L704.6 85.7 L702.9 86.9 L701.1 88 L699.2 89.2 L697.4 90.4 L695.5 91.5 L693.6 92.7 L691.8 93.8 L690 95 L688.3 96.1 L686.7 97.1 L685.1 98.1 L683.5 99.1 L681.9 100.1 L680.3 101.2 L678.5 102.3 L676.6 103.6 L674.6 105 L672.3 106.5 L669.7 108.2 L666.9 110.2 L663.9 112.2 L660.7 114.4 L657.4 116.7 L654.1 118.9 L650.9 121.2 L647.8 123.5 L644.8 125.7 L642.1 127.8 L639.6 129.8 L637.2 131.8 L634.9 133.8 L632.6 135.8 L630.5 137.8 L628.4 139.7 L626.4 141.6 L624.5 143.5 L622.6 145.4 L620.8 147.3 L619 149.1 L617.3 150.9 L615.6 152.7 L614 154.4 L612.4 156.1 L610.9 157.9 L609.6 159.6 L608.3 161.4 L607.1 163.2 L606 165 L605 166.9 L604.2 168.9 L603.4 171 L602.7 173.1 L602.1 175.2 L601.6 177.3 L601.2 179.3 L600.8 181.2 L600.6 183 L600.4 184.6 L600.3 186.1 L600.3 187.5 L600.4 188.7 L600.5 189.9 L600.8 191 L601.1 192.1 L601.5 193.1 L601.9 194.1 L602.4 195 L603 196 L603.6 196.9 L604.2 197.8 L604.9 198.6 L605.7 199.3 L606.5 200.1 L607.4 200.8 L608.4 201.6 L609.5 202.3 L610.7 203.1 L612 204 L613.4 204.9 L615 205.9 L616.6 206.9 L618.4 207.9 L620.2 208.9 L622.2 209.9 L624.1 211 L626.1 212 L628 213 L630 214 L631.9 214.9 L633.8 215.8 L635.6 216.7 L637.5 217.6 L639.4 218.4 L641.4 219.3 L643.5 220.3 L645.8 221.3 L648.3 222.4 L651 223.6 L654 224.9 L657.3 226.3 L660.8 227.7 L664.5 229.2 L668.3 230.8 L672.1 232.4 L675.9 234.1 L679.6 235.8 L683.2 237.7 L686.5 239.6 L689.7 241.7 L692.8 243.9 L696 246.2 L699 248.7 L702 251.1 L704.8 253.6 L707.6 256 L710.2 258.4 L712.6 260.6 L714.9 262.6 L717 264.5 L718.9 266.2 L720.6 267.8 L722.2 269.3 L723.6 270.8 L725 272.2 L726.3 273.7 L727.5 275.1 L728.8 276.5 L730 278 L731.2 279.5 L732.5 281 L733.7 282.4 L734.8 283.8 L735.9 285.3 L736.9 286.7 L737.8 288.2 L738.6 289.7 L739.2 291.2 L739.7 292.8 L740 294.4 L740.1 296.1 L740.1 297.9 L740 299.6 L739.8 301.4 L739.5 303.2 L739.1 304.9 L738.8 306.7 L738.4 308.4 L738 310 L737.6 311.6 L737.3 313.1 L736.9 314.7 L736.5 316.2 L736 317.7 L735.5 319.1 L734.9 320.6 L734.2 322 L733.4 323.4 L732.6 324.8 L731.6 326.2 L730.6 327.6 L729.4 329 L728.2 330.4 L727 331.7 L725.6 333 L724.2 334.3 L722.8 335.6 L721.4 336.8 L720 338 L718.6 339.1 L717 340.3 L715.5 341.4 L713.9 342.4 L712.3 343.4 L710.7 344.4 L709 345.4 L707.4 346.2 L705.8 347 L704.2 347.8 L702.5 348.5 L700.8 349.1 L698.9 349.7 L697.1 350.2 L695.3 350.7 L693.5 351.1 L691.9 351.4 L690.5 351.8 L689.2 352.1 L688.3 352.3" fill="none" stroke="#2f72c0" stroke-width="5.2" stroke-linecap="round" stroke-linejoin="round"/><path d="M713.1 39.9 L713.5 40.3 L714.1 40.8 L714.8 41.4 L715.5 42 L716.3 42.7 L717.1 43.5 L717.9 44.3 L718.7 45.2 L719.4 46.1 L720 47 L720.5 48 L721.1 49 L721.6 50.1 L722.1 51.2 L722.5 52.4 L722.9 53.6 L723.2 54.8 L723.5 56.1 L723.6 57.3 L723.7 58.6 L723.7 59.9 L723.6 61.2 L723.4 62.6 L723.2 63.9 L722.8 65.3 L722.4 66.7 L722 68.1 L721.4 69.4 L720.7 70.7 L720 72 L719.1 73.2 L718.2 74.4 L717.1 75.6 L716 76.7 L714.8 77.8 L713.5 78.9 L712.1 80 L710.7 81.1 L709.3 82.3 L707.8 83.4 L706.2 84.6 L704.6 85.7 L702.9 86.9 L701.1 88 L699.2 89.2 L697.4 90.4 L695.5 91.5 L693.6 92.7 L691.8 93.8 L690 95 L688.3 96.1 L686.7 97.1 L685.1 98.1 L683.5 99.1 L681.9 100.1 L680.3 101.2 L678.5 102.3 L676.6 103.6 L674.6 105 L672.3 106.5 L669.7 108.2 L666.9 110.2 L663.9 112.2 L660.7 114.4 L657.4 116.7 L654.1 118.9 L650.9 121.2 L647.8 123.5 L644.8 125.7 L642.1 127.8 L639.6 129.8 L637.2 131.8 L634.9 133.8 L632.6 135.8 L630.5 137.8 L628.4 139.7 L626.4 141.6 L624.5 143.5 L622.6 145.4 L620.8 147.3 L619 149.1 L617.3 150.9 L615.6 152.7 L614 154.4 L612.4 156.1 L610.9 157.9 L609.6 159.6 L608.3 161.4 L607.1 163.2 L606 165 L605 166.9 L604.2 168.9 L603.4 171 L602.7 173.1 L602.1 175.2 L601.6 177.3 L601.2 179.3 L600.8 181.2 L600.6 183 L600.4 184.6 L600.3 186.1 L600.3 187.5 L600.4 188.7 L600.5 189.9 L600.8 191 L601.1 192.1 L601.5 193.1 L601.9 194.1 L602.4 195 L603 196 L603.6 196.9 L604.2 197.8 L604.9 198.6 L605.7 199.3 L606.5 200.1 L607.4 200.8 L608.4 201.6 L609.5 202.3 L610.7 203.1 L612 204 L613.4 204.9 L615 205.9 L616.6 206.9 L618.4 207.9 L620.2 208.9 L622.2 209.9 L624.1 211 L626.1 212 L628 213 L630 214 L631.9 214.9 L633.8 215.8 L635.6 216.7 L637.5 217.6 L639.4 218.4 L641.4 219.3 L643.5 220.3 L645.8 221.3 L648.3 222.4 L651 223.6 L654 224.9 L657.3 226.3 L660.8 227.7 L664.5 229.2 L668.3 230.8 L672.1 232.4 L675.9 234.1 L679.6 235.8 L683.2 237.7 L686.5 239.6 L689.7 241.7 L692.8 243.9 L696 246.2 L699 248.7 L702 251.1 L704.8 253.6 L707.6 256 L710.2 258.4 L712.6 260.6 L714.9 262.6 L717 264.5 L718.9 266.2 L720.6 267.8 L722.2 269.3 L723.6 270.8 L725 272.2 L726.3 273.7 L727.5 275.1 L728.8 276.5 L730 278 L731.2 279.5 L732.5 281 L733.7 282.4 L734.8 283.8 L735.9 285.3 L736.9 286.7 L737.8 288.2 L738.6 289.7 L739.2 291.2 L739.7 292.8 L740 294.4 L740.1 296.1 L740.1 297.9 L740 299.6 L739.8 301.4 L739.5 303.2 L739.1 304.9 L738.8 306.7 L738.4 308.4 L738 310 L737.6 311.6 L737.3 313.1 L736.9 314.7 L736.5 316.2 L736 317.7 L735.5 319.1 L734.9 320.6 L734.2 322 L733.4 323.4 L732.6 324.8 L731.6 326.2 L730.6 327.6 L729.4 329 L728.2 330.4 L727 331.7 L725.6 333 L724.2 334.3 L722.8 335.6 L721.4 336.8 L720 338 L718.6 339.1 L717 340.3 L715.5 341.4 L713.9 342.4 L712.3 343.4 L710.7 344.4 L709 345.4 L707.4 346.2 L705.8 347 L704.2 347.8 L702.5 348.5 L700.8 349.1 L698.9 349.7 L697.1 350.2 L695.3 350.7 L693.5 351.1 L691.9 351.4 L690.5 351.8 L689.2 352.1 L688.3 352.3" fill="none" stroke="#7ab4ee" stroke-width="1.3" stroke-linecap="round" stroke-linejoin="round" transform="translate(-0.6 -0.9)" opacity="0.8"/><path d="M734.4 204 L734.3 204.6 L734.3 205.4 L734.2 206.3 L734.1 207.4 L734.1 208.5 L733.9 209.7 L733.8 211 L733.6 212.3 L733.3 213.7 L733 215 L732.7 216.3 L732.4 217.6 L732.2 218.9 L731.9 220.2 L731.5 221.5 L731 223 L730.4 224.7 L729.6 226.4 L728.6 228.5 L727.3 230.7 L725.7 233.3 L723.8 236.3 L721.7 239.5 L719.4 243 L716.9 246.5 L714.4 250.1 L711.8 253.6 L709.2 256.9 L706.6 259.9 L704.2 262.6 L701.8 265 L699.4 267.1 L696.9 269.1 L694.4 270.9 L691.9 272.6 L689.4 274.2 L687 275.7 L684.6 277.2 L682.3 278.6 L680 280 L677.7 281.4 L675.4 282.8 L673 284.1 L670.7 285.4 L668.4 286.6 L666.3 287.7 L664.3 288.7 L662.6 289.6 L661.1 290.4 L659.9 291" fill="none" stroke="#3a0606" stroke-width="6.800000000000001" stroke-linecap="round" stroke-linejoin="round"/><path d="M734.4 204 L734.3 204.6 L734.3 205.4 L734.2 206.3 L734.1 207.4 L734.1 208.5 L733.9 209.7 L733.8 211 L733.6 212.3 L733.3 213.7 L733 215 L732.7 216.3 L732.4 217.6 L732.2 218.9 L731.9 220.2 L731.5 221.5 L731 223 L730.4 224.7 L729.6 226.4 L728.6 228.5 L727.3 230.7 L725.7 233.3 L723.8 236.3 L721.7 239.5 L719.4 243 L716.9 246.5 L714.4 250.1 L711.8 253.6 L709.2 256.9 L706.6 259.9 L704.2 262.6 L701.8 265 L699.4 267.1 L696.9 269.1 L694.4 270.9 L691.9 272.6 L689.4 274.2 L687 275.7 L684.6 277.2 L682.3 278.6 L680 280 L677.7 281.4 L675.4 282.8 L673 284.1 L670.7 285.4 L668.4 286.6 L666.3 287.7 L664.3 288.7 L662.6 289.6 L661.1 290.4 L659.9 291" fill="none" stroke="#c22430" stroke-width="5.2" stroke-linecap="round" stroke-linejoin="round"/><path d="M734.4 204 L734.3 204.6 L734.3 205.4 L734.2 206.3 L734.1 207.4 L734.1 208.5 L733.9 209.7 L733.8 211 L733.6 212.3 L733.3 213.7 L733 215 L732.7 216.3 L732.4 217.6 L732.2 218.9 L731.9 220.2 L731.5 221.5 L731 223 L730.4 224.7 L729.6 226.4 L728.6 228.5 L727.3 230.7 L725.7 233.3 L723.8 236.3 L721.7 239.5 L719.4 243 L716.9 246.5 L714.4 250.1 L711.8 253.6 L709.2 256.9 L706.6 259.9 L704.2 262.6 L701.8 265 L699.4 267.1 L696.9 269.1 L694.4 270.9 L691.9 272.6 L689.4 274.2 L687 275.7 L684.6 277.2 L682.3 278.6 L680 280 L677.7 281.4 L675.4 282.8 L673 284.1 L670.7 285.4 L668.4 286.6 L666.3 287.7 L664.3 288.7 L662.6 289.6 L661.1 290.4 L659.9 291" fill="none" stroke="#e65a60" stroke-width="1.3" stroke-linecap="round" stroke-linejoin="round" transform="translate(-0.6 -0.9)" opacity="0.8"/></g>
<g transform="translate(514 -0.5)"><polygon points="628,14 647,12.5 663,30.5 650,33.5" fill="#5e0f0f"/><polygon points="627,15 640,13 645,17 632,19" fill="#a02028"/><line x1="610" y1="43.5" x2="630" y2="49" stroke="#2a0505" stroke-width="3.4" stroke-linecap="round"/><line x1="610" y1="43.5" x2="630" y2="49" stroke="#c8323a" stroke-width="2.2" stroke-linecap="round"/><line x1="629" y1="49" x2="646" y2="52.4" stroke="#2a0505" stroke-width="8.9" stroke-linecap="round"/><line x1="629" y1="49" x2="646" y2="52.4" stroke="#861616" stroke-width="7.0" stroke-linecap="round"/><line x1="594" y1="74.5" x2="616" y2="77.5" stroke="#2a0505" stroke-width="3.4" stroke-linecap="round"/><line x1="594" y1="74.5" x2="616" y2="77.5" stroke="#c8323a" stroke-width="2.2" stroke-linecap="round"/><line x1="616" y1="78" x2="650" y2="80.7" stroke="#2a0505" stroke-width="8.9" stroke-linecap="round"/><line x1="616" y1="78" x2="650" y2="80.7" stroke="#861616" stroke-width="7.0" stroke-linecap="round"/><line x1="610" y1="110.9" x2="624" y2="108.5" stroke="#2a0505" stroke-width="3.4" stroke-linecap="round"/><line x1="610" y1="110.9" x2="624" y2="108.5" stroke="#c8323a" stroke-width="2.2" stroke-linecap="round"/><line x1="623" y1="108.5" x2="640" y2="104" stroke="#2a0505" stroke-width="9.2" stroke-linecap="round"/><line x1="623" y1="108.5" x2="640" y2="104" stroke="#861616" stroke-width="7.2" stroke-linecap="round"/><line x1="651" y1="156.2" x2="676" y2="153.5" stroke="#2a0505" stroke-width="9.7" stroke-linecap="round"/><line x1="651" y1="156.2" x2="676" y2="153.5" stroke="#6a0e0e" stroke-width="7.6" stroke-linecap="round"/><line x1="661" y1="179" x2="694" y2="171" stroke="#2a0505" stroke-width="9.7" stroke-linecap="round"/><line x1="661" y1="179" x2="694" y2="171" stroke="#861616" stroke-width="7.6" stroke-linecap="round"/><line x1="694" y1="171" x2="702" y2="168" stroke="#2a0505" stroke-width="3.4" stroke-linecap="round"/><line x1="694" y1="171" x2="702" y2="168" stroke="#c8323a" stroke-width="2.2" stroke-linecap="round"/><line x1="673" y1="201" x2="710" y2="191" stroke="#2a0505" stroke-width="9.7" stroke-linecap="round"/><line x1="673" y1="201" x2="710" y2="191" stroke="#861616" stroke-width="7.6" stroke-linecap="round"/><line x1="710" y1="191" x2="726" y2="186" stroke="#2a0505" stroke-width="3.4" stroke-linecap="round"/><line x1="710" y1="191" x2="726" y2="186" stroke="#c8323a" stroke-width="2.2" stroke-linecap="round"/><line x1="679" y1="222.7" x2="714" y2="220" stroke="#2a0505" stroke-width="10.2" stroke-linecap="round"/><line x1="679" y1="222.7" x2="714" y2="220" stroke="#861616" stroke-width="8.0" stroke-linecap="round"/><line x1="714" y1="220" x2="733" y2="219" stroke="#2a0505" stroke-width="3.4" stroke-linecap="round"/><line x1="714" y1="220" x2="733" y2="219" stroke="#c8323a" stroke-width="2.2" stroke-linecap="round"/><line x1="686" y1="245.8" x2="721" y2="241.5" stroke="#2a0505" stroke-width="10.2" stroke-linecap="round"/><line x1="686" y1="245.8" x2="721" y2="241.5" stroke="#861616" stroke-width="8.0" stroke-linecap="round"/><ellipse cx="707" cy="241" rx="11" ry="3.5" fill="#ee8a90"/><line x1="670" y1="272" x2="695" y2="277" stroke="#2a0505" stroke-width="8.9" stroke-linecap="round"/><line x1="670" y1="272" x2="695" y2="277" stroke="#861616" stroke-width="7.0" stroke-linecap="round"/><ellipse cx="676" cy="271.5" rx="8" ry="3" fill="#ee8a90"/><line x1="650" y1="296.4" x2="676" y2="296.4" stroke="#2a0505" stroke-width="9.7" stroke-linecap="round"/><line x1="650" y1="296.4" x2="676" y2="296.4" stroke="#861616" stroke-width="7.6" stroke-linecap="round"/><line x1="621" y1="319.4" x2="640" y2="318" stroke="#2a0505" stroke-width="3.4" stroke-linecap="round"/><line x1="621" y1="319.4" x2="640" y2="318" stroke="#c8323a" stroke-width="2.2" stroke-linecap="round"/><line x1="640" y1="318" x2="672" y2="317.7" stroke="#2a0505" stroke-width="9.7" stroke-linecap="round"/><line x1="640" y1="318" x2="672" y2="317.7" stroke="#861616" stroke-width="7.6" stroke-linecap="round"/><line x1="607" y1="337.2" x2="630" y2="338" stroke="#2a0505" stroke-width="3.4" stroke-linecap="round"/><line x1="607" y1="337.2" x2="630" y2="338" stroke="#c8323a" stroke-width="2.2" stroke-linecap="round"/><line x1="630" y1="338" x2="665" y2="340" stroke="#2a0505" stroke-width="10.2" stroke-linecap="round"/><line x1="630" y1="338" x2="665" y2="340" stroke="#861616" stroke-width="8.0" stroke-linecap="round"/><line x1="657" y1="43.5" x2="677" y2="46" stroke="#0e2c55" stroke-width="9.7" stroke-linecap="round"/><line x1="657" y1="43.5" x2="677" y2="46" stroke="#2b67b6" stroke-width="7.6" stroke-linecap="round"/><line x1="677" y1="46" x2="714" y2="43.5" stroke="#0e2c55" stroke-width="3.4" stroke-linecap="round"/><line x1="677" y1="46" x2="714" y2="43.5" stroke="#4f98e0" stroke-width="2.2" stroke-linecap="round"/><polygon points="663,54 694,61 699,71 667,66" fill="#2a64a8"/><line x1="697" y1="65" x2="721" y2="60" stroke="#0e2c55" stroke-width="3.4" stroke-linecap="round"/><line x1="697" y1="65" x2="721" y2="60" stroke="#4f98e0" stroke-width="2.2" stroke-linecap="round"/><polygon points="667,76 684,80 688,88 670,86" fill="#2c68ae"/><line x1="686" y1="81" x2="704" y2="78" stroke="#0e2c55" stroke-width="3.4" stroke-linecap="round"/><line x1="686" y1="81" x2="704" y2="78" stroke="#4f98e0" stroke-width="2.2" stroke-linecap="round"/><line x1="640" y1="104" x2="671" y2="105" stroke="#0e2c55" stroke-width="9.7" stroke-linecap="round"/><line x1="640" y1="104" x2="671" y2="105" stroke="#2b67b6" stroke-width="7.6" stroke-linecap="round"/><line x1="633" y1="131" x2="660" y2="133" stroke="#0e2c55" stroke-width="7.1" stroke-linecap="round"/><line x1="633" y1="131" x2="660" y2="133" stroke="#92d2f0" stroke-width="5.5" stroke-linecap="round"/><ellipse cx="654" cy="129.5" rx="7" ry="2.5" fill="#f6d0d8"/><line x1="608" y1="156" x2="614" y2="156" stroke="#0e2c55" stroke-width="3.4" stroke-linecap="round"/><line x1="608" y1="156" x2="614" y2="156" stroke="#4f98e0" stroke-width="2.2" stroke-linecap="round"/><line x1="614" y1="155" x2="650" y2="157.5" stroke="#0e2c55" stroke-width="9.7" stroke-linecap="round"/><line x1="614" y1="155" x2="650" y2="157.5" stroke="#3a7ac2" stroke-width="7.6" stroke-linecap="round"/><line x1="604.8" y1="186.3" x2="620" y2="183.5" stroke="#0e2c55" stroke-width="3.4" stroke-linecap="round"/><line x1="604.8" y1="186.3" x2="620" y2="183.5" stroke="#4f98e0" stroke-width="2.2" stroke-linecap="round"/><line x1="620" y1="183" x2="647" y2="182.8" stroke="#0e2c55" stroke-width="9.7" stroke-linecap="round"/><line x1="620" y1="183" x2="647" y2="182.8" stroke="#2b67b6" stroke-width="7.6" stroke-linecap="round"/><line x1="612" y1="204" x2="625" y2="205" stroke="#0e2c55" stroke-width="3.4" stroke-linecap="round"/><line x1="612" y1="204" x2="625" y2="205" stroke="#4f98e0" stroke-width="2.2" stroke-linecap="round"/><line x1="625" y1="205" x2="653" y2="204" stroke="#0e2c55" stroke-width="9.2" stroke-linecap="round"/><line x1="625" y1="205" x2="653" y2="204" stroke="#2b67b6" stroke-width="7.2" stroke-linecap="round"/><line x1="650" y1="227" x2="673" y2="225.4" stroke="#0e2c55" stroke-width="10.6" stroke-linecap="round"/><line x1="650" y1="227" x2="673" y2="225.4" stroke="#2b67b6" stroke-width="8.4" stroke-linecap="round"/><line x1="675" y1="246.7" x2="693" y2="248.4" stroke="#0e2c55" stroke-width="10.6" stroke-linecap="round"/><line x1="675" y1="246.7" x2="693" y2="248.4" stroke="#2b67b6" stroke-width="8.4" stroke-linecap="round"/><line x1="688" y1="271.5" x2="720" y2="271.5" stroke="#0e2c55" stroke-width="5.9" stroke-linecap="round"/><line x1="688" y1="271.5" x2="720" y2="271.5" stroke="#92d2f0" stroke-width="4.5" stroke-linecap="round"/><line x1="700" y1="272" x2="722" y2="272" stroke="#0e2c55" stroke-width="3.2" stroke-linecap="round"/><line x1="700" y1="272" x2="722" y2="272" stroke="#4f98e0" stroke-width="2.0" stroke-linecap="round"/><line x1="682" y1="296.4" x2="714" y2="296.4" stroke="#0e2c55" stroke-width="9.7" stroke-linecap="round"/><line x1="682" y1="296.4" x2="714" y2="296.4" stroke="#2b67b6" stroke-width="7.6" stroke-linecap="round"/><line x1="714" y1="296.4" x2="735" y2="296.4" stroke="#0e2c55" stroke-width="3.4" stroke-linecap="round"/><line x1="714" y1="296.4" x2="735" y2="296.4" stroke="#4f98e0" stroke-width="2.2" stroke-linecap="round"/><line x1="694" y1="319.4" x2="715" y2="322" stroke="#0e2c55" stroke-width="9.7" stroke-linecap="round"/><line x1="694" y1="319.4" x2="715" y2="322" stroke="#2b67b6" stroke-width="7.6" stroke-linecap="round"/><line x1="715" y1="322" x2="729" y2="325" stroke="#0e2c55" stroke-width="3.4" stroke-linecap="round"/><line x1="715" y1="322" x2="729" y2="325" stroke="#4f98e0" stroke-width="2.2" stroke-linecap="round"/><line x1="675" y1="346" x2="704" y2="348" stroke="#0e2c55" stroke-width="9.7" stroke-linecap="round"/><line x1="675" y1="346" x2="704" y2="348" stroke="#2b67b6" stroke-width="7.6" stroke-linecap="round"/><path d="M648.3 11.5 L647.2 12 L645.8 12.6 L644 13.4 L642.1 14.2 L640.1 15.1 L637.9 16.1 L635.8 17.1 L633.7 18.1 L631.8 19 L630 20 L628.4 20.9 L626.9 21.9 L625.4 22.8 L624 23.7 L622.6 24.7 L621.2 25.7 L619.8 26.7 L618.4 27.8 L617 29 L615.5 30.2 L614 31.5 L612.3 32.9 L610.7 34.3 L609 35.8 L607.3 37.4 L605.7 38.9 L604.1 40.5 L602.6 42 L601.2 43.5 L600 45 L598.9 46.4 L597.9 47.7 L597 49 L596.2 50.2 L595.5 51.5 L594.8 52.8 L594.1 54.1 L593.5 55.5 L593 57 L592.4 58.6 L591.9 60.3 L591.3 62.2 L590.9 64.2 L590.4 66.2 L590 68.3 L589.7 70.4 L589.4 72.4 L589.2 74.4 L589 76.3 L588.9 78 L588.9 79.6 L588.9 81.1 L588.9 82.6 L589 84 L589.2 85.3 L589.4 86.6 L589.7 87.9 L590.1 89.3 L590.5 90.6 L591 92 L591.6 93.4 L592.2 94.9 L593 96.3 L593.7 97.7 L594.6 99.2 L595.5 100.6 L596.5 102.1 L597.4 103.5 L598.5 105 L599.5 106.5 L600.6 108 L601.7 109.5 L602.8 111 L604 112.6 L605.2 114.1 L606.4 115.7 L607.7 117.3 L609.1 118.8 L610.5 120.4 L612 122 L613.6 123.6 L615.2 125.3 L617 127.1 L618.8 128.8 L620.7 130.6 L622.5 132.3 L624.4 134 L626.2 135.5 L628 137 L629.7 138.4 L631.3 139.6 L632.9 140.8 L634.5 141.9 L636 142.9 L637.5 143.8 L639 144.7 L640.5 145.6 L642 146.4 L643.5 147.2 L645 148 L646.4 148.7 L647.7 149.4 L648.9 149.9 L650 150.4 L651.2 150.9 L652.5 151.4 L653.9 152 L655.6 152.7 L657.6 153.5 L659.9 154.4 L662.6 155.5 L665.8 156.7 L669.2 158 L672.8 159.4 L676.6 160.9 L680.5 162.4 L684.4 164 L688.2 165.5 L691.9 167.1 L695.3 168.6 L698.6 170.1 L702 171.6 L705.4 173.2 L708.8 174.7 L712.1 176.3 L715.2 177.9 L718.2 179.5 L720.9 181.2 L723.4 182.9 L725.5 184.6 L727.3 186.4 L728.8 188.4 L730.1 190.4 L731.1 192.5 L731.9 194.6 L732.6 196.7 L733.2 198.7 L733.6 200.6 L734 202.4 L734.4 204 L734.7 205.4 L734.8 206.7 L734.9 207.8 L734.8 208.8 L734.6 209.7 L734.4 210.7 L734.1 211.6 L733.7 212.6 L733.4 213.7 L733 215 L732.7 216.3 L732.4 217.6 L732.2 218.9 L731.9 220.2 L731.5 221.5 L731 223 L730.4 224.7 L729.6 226.4 L728.6 228.5 L727.3 230.7 L725.7 233.3 L723.8 236.3 L721.7 239.5 L719.4 243 L716.9 246.5 L714.4 250.1 L711.8 253.6 L709.2 256.9 L706.6 259.9 L704.2 262.6 L701.8 265 L699.4 267.1 L696.9 269.1 L694.4 270.9 L691.9 272.6 L689.4 274.2 L687 275.7 L684.6 277.2 L682.3 278.6 L680 280 L677.9 281.3 L676 282.4 L674.2 283.4 L672.4 284.4 L670.7 285.3 L668.9 286.2 L666.9 287.1 L664.8 288.2 L662.5 289.5 L659.9 291 L656.9 292.7 L653.4 294.7 L649.7 296.9 L645.8 299.1 L641.8 301.5 L637.8 303.8 L634 306.1 L630.4 308.4 L627.2 310.4 L624.4 312.3 L622.1 314 L620.1 315.5 L618.3 316.9 L616.8 318.2 L615.5 319.5 L614.3 320.7 L613.2 321.9 L612.2 323.2 L611.1 324.6 L610 326 L608.9 327.6 L607.8 329.4 L606.7 331.3 L605.7 333.2 L604.8 335.1 L603.9 337 L603.1 338.7 L602.4 340.2 L601.8 341.5 L601.3 342.5" fill="none" stroke="#3a0606" stroke-width="6.800000000000001" stroke-linecap="round" stroke-linejoin="round"/><path d="M648.3 11.5 L647.2 12 L645.8 12.6 L644 13.4 L642.1 14.2 L640.1 15.1 L637.9 16.1 L635.8 17.1 L633.7 18.1 L631.8 19 L630 20 L628.4 20.9 L626.9 21.9 L625.4 22.8 L624 23.7 L622.6 24.7 L621.2 25.7 L619.8 26.7 L618.4 27.8 L617 29 L615.5 30.2 L614 31.5 L612.3 32.9 L610.7 34.3 L609 35.8 L607.3 37.4 L605.7 38.9 L604.1 40.5 L602.6 42 L601.2 43.5 L600 45 L598.9 46.4 L597.9 47.7 L597 49 L596.2 50.2 L595.5 51.5 L594.8 52.8 L594.1 54.1 L593.5 55.5 L593 57 L592.4 58.6 L591.9 60.3 L591.3 62.2 L590.9 64.2 L590.4 66.2 L590 68.3 L589.7 70.4 L589.4 72.4 L589.2 74.4 L589 76.3 L588.9 78 L588.9 79.6 L588.9 81.1 L588.9 82.6 L589 84 L589.2 85.3 L589.4 86.6 L589.7 87.9 L590.1 89.3 L590.5 90.6 L591 92 L591.6 93.4 L592.2 94.9 L593 96.3 L593.7 97.7 L594.6 99.2 L595.5 100.6 L596.5 102.1 L597.4 103.5 L598.5 105 L599.5 106.5 L600.6 108 L601.7 109.5 L602.8 111 L604 112.6 L605.2 114.1 L606.4 115.7 L607.7 117.3 L609.1 118.8 L610.5 120.4 L612 122 L613.6 123.6 L615.2 125.3 L617 127.1 L618.8 128.8 L620.7 130.6 L622.5 132.3 L624.4 134 L626.2 135.5 L628 137 L629.7 138.4 L631.3 139.6 L632.9 140.8 L634.5 141.9 L636 142.9 L637.5 143.8 L639 144.7 L640.5 145.6 L642 146.4 L643.5 147.2 L645 148 L646.4 148.7 L647.7 149.4 L648.9 149.9 L650 150.4 L651.2 150.9 L652.5 151.4 L653.9 152 L655.6 152.7 L657.6 153.5 L659.9 154.4 L662.6 155.5 L665.8 156.7 L669.2 158 L672.8 159.4 L676.6 160.9 L680.5 162.4 L684.4 164 L688.2 165.5 L691.9 167.1 L695.3 168.6 L698.6 170.1 L702 171.6 L705.4 173.2 L708.8 174.7 L712.1 176.3 L715.2 177.9 L718.2 179.5 L720.9 181.2 L723.4 182.9 L725.5 184.6 L727.3 186.4 L728.8 188.4 L730.1 190.4 L731.1 192.5 L731.9 194.6 L732.6 196.7 L733.2 198.7 L733.6 200.6 L734 202.4 L734.4 204 L734.7 205.4 L734.8 206.7 L734.9 207.8 L734.8 208.8 L734.6 209.7 L734.4 210.7 L734.1 211.6 L733.7 212.6 L733.4 213.7 L733 215 L732.7 216.3 L732.4 217.6 L732.2 218.9 L731.9 220.2 L731.5 221.5 L731 223 L730.4 224.7 L729.6 226.4 L728.6 228.5 L727.3 230.7 L725.7 233.3 L723.8 236.3 L721.7 239.5 L719.4 243 L716.9 246.5 L714.4 250.1 L711.8 253.6 L709.2 256.9 L706.6 259.9 L704.2 262.6 L701.8 265 L699.4 267.1 L696.9 269.1 L694.4 270.9 L691.9 272.6 L689.4 274.2 L687 275.7 L684.6 277.2 L682.3 278.6 L680 280 L677.9 281.3 L676 282.4 L674.2 283.4 L672.4 284.4 L670.7 285.3 L668.9 286.2 L666.9 287.1 L664.8 288.2 L662.5 289.5 L659.9 291 L656.9 292.7 L653.4 294.7 L649.7 296.9 L645.8 299.1 L641.8 301.5 L637.8 303.8 L634 306.1 L630.4 308.4 L627.2 310.4 L624.4 312.3 L622.1 314 L620.1 315.5 L618.3 316.9 L616.8 318.2 L615.5 319.5 L614.3 320.7 L613.2 321.9 L612.2 323.2 L611.1 324.6 L610 326 L608.9 327.6 L607.8 329.4 L606.7 331.3 L605.7 333.2 L604.8 335.1 L603.9 337 L603.1 338.7 L602.4 340.2 L601.8 341.5 L601.3 342.5" fill="none" stroke="#c22430" stroke-width="5.2" stroke-linecap="round" stroke-linejoin="round"/><path d="M648.3 11.5 L647.2 12 L645.8 12.6 L644 13.4 L642.1 14.2 L640.1 15.1 L637.9 16.1 L635.8 17.1 L633.7 18.1 L631.8 19 L630 20 L628.4 20.9 L626.9 21.9 L625.4 22.8 L624 23.7 L622.6 24.7 L621.2 25.7 L619.8 26.7 L618.4 27.8 L617 29 L615.5 30.2 L614 31.5 L612.3 32.9 L610.7 34.3 L609 35.8 L607.3 37.4 L605.7 38.9 L604.1 40.5 L602.6 42 L601.2 43.5 L600 45 L598.9 46.4 L597.9 47.7 L597 49 L596.2 50.2 L595.5 51.5 L594.8 52.8 L594.1 54.1 L593.5 55.5 L593 57 L592.4 58.6 L591.9 60.3 L591.3 62.2 L590.9 64.2 L590.4 66.2 L590 68.3 L589.7 70.4 L589.4 72.4 L589.2 74.4 L589 76.3 L588.9 78 L588.9 79.6 L588.9 81.1 L588.9 82.6 L589 84 L589.2 85.3 L589.4 86.6 L589.7 87.9 L590.1 89.3 L590.5 90.6 L591 92 L591.6 93.4 L592.2 94.9 L593 96.3 L593.7 97.7 L594.6 99.2 L595.5 100.6 L596.5 102.1 L597.4 103.5 L598.5 105 L599.5 106.5 L600.6 108 L601.7 109.5 L602.8 111 L604 112.6 L605.2 114.1 L606.4 115.7 L607.7 117.3 L609.1 118.8 L610.5 120.4 L612 122 L613.6 123.6 L615.2 125.3 L617 127.1 L618.8 128.8 L620.7 130.6 L622.5 132.3 L624.4 134 L626.2 135.5 L628 137 L629.7 138.4 L631.3 139.6 L632.9 140.8 L634.5 141.9 L636 142.9 L637.5 143.8 L639 144.7 L640.5 145.6 L642 146.4 L643.5 147.2 L645 148 L646.4 148.7 L647.7 149.4 L648.9 149.9 L650 150.4 L651.2 150.9 L652.5 151.4 L653.9 152 L655.6 152.7 L657.6 153.5 L659.9 154.4 L662.6 155.5 L665.8 156.7 L669.2 158 L672.8 159.4 L676.6 160.9 L680.5 162.4 L684.4 164 L688.2 165.5 L691.9 167.1 L695.3 168.6 L698.6 170.1 L702 171.6 L705.4 173.2 L708.8 174.7 L712.1 176.3 L715.2 177.9 L718.2 179.5 L720.9 181.2 L723.4 182.9 L725.5 184.6 L727.3 186.4 L728.8 188.4 L730.1 190.4 L731.1 192.5 L731.9 194.6 L732.6 196.7 L733.2 198.7 L733.6 200.6 L734 202.4 L734.4 204 L734.7 205.4 L734.8 206.7 L734.9 207.8 L734.8 208.8 L734.6 209.7 L734.4 210.7 L734.1 211.6 L733.7 212.6 L733.4 213.7 L733 215 L732.7 216.3 L732.4 217.6 L732.2 218.9 L731.9 220.2 L731.5 221.5 L731 223 L730.4 224.7 L729.6 226.4 L728.6 228.5 L727.3 230.7 L725.7 233.3 L723.8 236.3 L721.7 239.5 L719.4 243 L716.9 246.5 L714.4 250.1 L711.8 253.6 L709.2 256.9 L706.6 259.9 L704.2 262.6 L701.8 265 L699.4 267.1 L696.9 269.1 L694.4 270.9 L691.9 272.6 L689.4 274.2 L687 275.7 L684.6 277.2 L682.3 278.6 L680 280 L677.9 281.3 L676 282.4 L674.2 283.4 L672.4 284.4 L670.7 285.3 L668.9 286.2 L666.9 287.1 L664.8 288.2 L662.5 289.5 L659.9 291 L656.9 292.7 L653.4 294.7 L649.7 296.9 L645.8 299.1 L641.8 301.5 L637.8 303.8 L634 306.1 L630.4 308.4 L627.2 310.4 L624.4 312.3 L622.1 314 L620.1 315.5 L618.3 316.9 L616.8 318.2 L615.5 319.5 L614.3 320.7 L613.2 321.9 L612.2 323.2 L611.1 324.6 L610 326 L608.9 327.6 L607.8 329.4 L606.7 331.3 L605.7 333.2 L604.8 335.1 L603.9 337 L603.1 338.7 L602.4 340.2 L601.8 341.5 L601.3 342.5" fill="none" stroke="#e65a60" stroke-width="1.3" stroke-linecap="round" stroke-linejoin="round" transform="translate(-0.6 -0.9)" opacity="0.8"/><path d="M713.1 39.9 L713.5 40.3 L714.1 40.8 L714.8 41.4 L715.5 42 L716.3 42.7 L717.1 43.5 L717.9 44.3 L718.7 45.2 L719.4 46.1 L720 47 L720.5 48 L721.1 49 L721.6 50.1 L722.1 51.2 L722.5 52.4 L722.9 53.6 L723.2 54.8 L723.5 56.1 L723.6 57.3 L723.7 58.6 L723.7 59.9 L723.6 61.2 L723.4 62.6 L723.2 63.9 L722.8 65.3 L722.4 66.7 L722 68.1 L721.4 69.4 L720.7 70.7 L720 72 L719.1 73.2 L718.2 74.4 L717.1 75.6 L716 76.7 L714.8 77.8 L713.5 78.9 L712.1 80 L710.7 81.1 L709.3 82.3 L707.8 83.4 L706.2 84.6 L704.6 85.7 L702.9 86.9 L701.1 88 L699.2 89.2 L697.4 90.4 L695.5 91.5 L693.6 92.7 L691.8 93.8 L690 95 L688.3 96.1 L686.7 97.1 L685.1 98.1 L683.5 99.1 L681.9 100.1 L680.3 101.2 L678.5 102.3 L676.6 103.6 L674.6 105 L672.3 106.5 L669.7 108.2 L666.9 110.2 L663.9 112.2 L660.7 114.4 L657.4 116.7 L654.1 118.9 L650.9 121.2 L647.8 123.5 L644.8 125.7 L642.1 127.8 L639.6 129.8 L637.2 131.8 L634.9 133.8 L632.6 135.8 L630.5 137.8 L628.4 139.7 L626.4 141.6 L624.5 143.5 L622.6 145.4 L620.8 147.3 L619 149.1 L617.3 150.9 L615.6 152.7 L614 154.4 L612.4 156.1 L610.9 157.9 L609.6 159.6 L608.3 161.4 L607.1 163.2 L606 165 L605 166.9 L604.2 168.9 L603.4 171 L602.7 173.1 L602.1 175.2 L601.6 177.3 L601.2 179.3 L600.8 181.2 L600.6 183 L600.4 184.6 L600.3 186.1 L600.3 187.5 L600.4 188.7 L600.5 189.9 L600.8 191 L601.1 192.1 L601.5 193.1 L601.9 194.1 L602.4 195 L603 196 L603.6 196.9 L604.2 197.8 L604.9 198.6 L605.7 199.3 L606.5 200.1 L607.4 200.8 L608.4 201.6 L609.5 202.3 L610.7 203.1 L612 204 L613.4 204.9 L615 205.9 L616.6 206.9 L618.4 207.9 L620.2 208.9 L622.2 209.9 L624.1 211 L626.1 212 L628 213 L630 214 L631.9 214.9 L633.8 215.8 L635.6 216.7 L637.5 217.6 L639.4 218.4 L641.4 219.3 L643.5 220.3 L645.8 221.3 L648.3 222.4 L651 223.6 L654 224.9 L657.3 226.3 L660.8 227.7 L664.5 229.2 L668.3 230.8 L672.1 232.4 L675.9 234.1 L679.6 235.8 L683.2 237.7 L686.5 239.6 L689.7 241.7 L692.8 243.9 L696 246.2 L699 248.7 L702 251.1 L704.8 253.6 L707.6 256 L710.2 258.4 L712.6 260.6 L714.9 262.6 L717 264.5 L718.9 266.2 L720.6 267.8 L722.2 269.3 L723.6 270.8 L725 272.2 L726.3 273.7 L727.5 275.1 L728.8 276.5 L730 278 L731.2 279.5 L732.5 281 L733.7 282.4 L734.8 283.8 L735.9 285.3 L736.9 286.7 L737.8 288.2 L738.6 289.7 L739.2 291.2 L739.7 292.8 L740 294.4 L740.1 296.1 L740.1 297.9 L740 299.6 L739.8 301.4 L739.5 303.2 L739.1 304.9 L738.8 306.7 L738.4 308.4 L738 310 L737.6 311.6 L737.3 313.1 L736.9 314.7 L736.5 316.2 L736 317.7 L735.5 319.1 L734.9 320.6 L734.2 322 L733.4 323.4 L732.6 324.8 L731.6 326.2 L730.6 327.6 L729.4 329 L728.2 330.4 L727 331.7 L725.6 333 L724.2 334.3 L722.8 335.6 L721.4 336.8 L720 338 L718.6 339.1 L717 340.3 L715.5 341.4 L713.9 342.4 L712.3 343.4 L710.7 344.4 L709 345.4 L707.4 346.2 L705.8 347 L704.2 347.8 L702.5 348.5 L700.8 349.1 L698.9 349.7 L697.1 350.2 L695.3 350.7 L693.5 351.1 L691.9 351.4 L690.5 351.8 L689.2 352.1 L688.3 352.3" fill="none" stroke="#0f3464" stroke-width="6.800000000000001" stroke-linecap="round" stroke-linejoin="round"/><path d="M713.1 39.9 L713.5 40.3 L714.1 40.8 L714.8 41.4 L715.5 42 L716.3 42.7 L717.1 43.5 L717.9 44.3 L718.7 45.2 L719.4 46.1 L720 47 L720.5 48 L721.1 49 L721.6 50.1 L722.1 51.2 L722.5 52.4 L722.9 53.6 L723.2 54.8 L723.5 56.1 L723.6 57.3 L723.7 58.6 L723.7 59.9 L723.6 61.2 L723.4 62.6 L723.2 63.9 L722.8 65.3 L722.4 66.7 L722 68.1 L721.4 69.4 L720.7 70.7 L720 72 L719.1 73.2 L718.2 74.4 L717.1 75.6 L716 76.7 L714.8 77.8 L713.5 78.9 L712.1 80 L710.7 81.1 L709.3 82.3 L707.8 83.4 L706.2 84.6 L704.6 85.7 L702.9 86.9 L701.1 88 L699.2 89.2 L697.4 90.4 L695.5 91.5 L693.6 92.7 L691.8 93.8 L690 95 L688.3 96.1 L686.7 97.1 L685.1 98.1 L683.5 99.1 L681.9 100.1 L680.3 101.2 L678.5 102.3 L676.6 103.6 L674.6 105 L672.3 106.5 L669.7 108.2 L666.9 110.2 L663.9 112.2 L660.7 114.4 L657.4 116.7 L654.1 118.9 L650.9 121.2 L647.8 123.5 L644.8 125.7 L642.1 127.8 L639.6 129.8 L637.2 131.8 L634.9 133.8 L632.6 135.8 L630.5 137.8 L628.4 139.7 L626.4 141.6 L624.5 143.5 L622.6 145.4 L620.8 147.3 L619 149.1 L617.3 150.9 L615.6 152.7 L614 154.4 L612.4 156.1 L610.9 157.9 L609.6 159.6 L608.3 161.4 L607.1 163.2 L606 165 L605 166.9 L604.2 168.9 L603.4 171 L602.7 173.1 L602.1 175.2 L601.6 177.3 L601.2 179.3 L600.8 181.2 L600.6 183 L600.4 184.6 L600.3 186.1 L600.3 187.5 L600.4 188.7 L600.5 189.9 L600.8 191 L601.1 192.1 L601.5 193.1 L601.9 194.1 L602.4 195 L603 196 L603.6 196.9 L604.2 197.8 L604.9 198.6 L605.7 199.3 L606.5 200.1 L607.4 200.8 L608.4 201.6 L609.5 202.3 L610.7 203.1 L612 204 L613.4 204.9 L615 205.9 L616.6 206.9 L618.4 207.9 L620.2 208.9 L622.2 209.9 L624.1 211 L626.1 212 L628 213 L630 214 L631.9 214.9 L633.8 215.8 L635.6 216.7 L637.5 217.6 L639.4 218.4 L641.4 219.3 L643.5 220.3 L645.8 221.3 L648.3 222.4 L651 223.6 L654 224.9 L657.3 226.3 L660.8 227.7 L664.5 229.2 L668.3 230.8 L672.1 232.4 L675.9 234.1 L679.6 235.8 L683.2 237.7 L686.5 239.6 L689.7 241.7 L692.8 243.9 L696 246.2 L699 248.7 L702 251.1 L704.8 253.6 L707.6 256 L710.2 258.4 L712.6 260.6 L714.9 262.6 L717 264.5 L718.9 266.2 L720.6 267.8 L722.2 269.3 L723.6 270.8 L725 272.2 L726.3 273.7 L727.5 275.1 L728.8 276.5 L730 278 L731.2 279.5 L732.5 281 L733.7 282.4 L734.8 283.8 L735.9 285.3 L736.9 286.7 L737.8 288.2 L738.6 289.7 L739.2 291.2 L739.7 292.8 L740 294.4 L740.1 296.1 L740.1 297.9 L740 299.6 L739.8 301.4 L739.5 303.2 L739.1 304.9 L738.8 306.7 L738.4 308.4 L738 310 L737.6 311.6 L737.3 313.1 L736.9 314.7 L736.5 316.2 L736 317.7 L735.5 319.1 L734.9 320.6 L734.2 322 L733.4 323.4 L732.6 324.8 L731.6 326.2 L730.6 327.6 L729.4 329 L728.2 330.4 L727 331.7 L725.6 333 L724.2 334.3 L722.8 335.6 L721.4 336.8 L720 338 L718.6 339.1 L717 340.3 L715.5 341.4 L713.9 342.4 L712.3 343.4 L710.7 344.4 L709 345.4 L707.4 346.2 L705.8 347 L704.2 347.8 L702.5 348.5 L700.8 349.1 L698.9 349.7 L697.1 350.2 L695.3 350.7 L693.5 351.1 L691.9 351.4 L690.5 351.8 L689.2 352.1 L688.3 352.3" fill="none" stroke="#2f72c0" stroke-width="5.2" stroke-linecap="round" stroke-linejoin="round"/><path d="M713.1 39.9 L713.5 40.3 L714.1 40.8 L714.8 41.4 L715.5 42 L716.3 42.7 L717.1 43.5 L717.9 44.3 L718.7 45.2 L719.4 46.1 L720 47 L720.5 48 L721.1 49 L721.6 50.1 L722.1 51.2 L722.5 52.4 L722.9 53.6 L723.2 54.8 L723.5 56.1 L723.6 57.3 L723.7 58.6 L723.7 59.9 L723.6 61.2 L723.4 62.6 L723.2 63.9 L722.8 65.3 L722.4 66.7 L722 68.1 L721.4 69.4 L720.7 70.7 L720 72 L719.1 73.2 L718.2 74.4 L717.1 75.6 L716 76.7 L714.8 77.8 L713.5 78.9 L712.1 80 L710.7 81.1 L709.3 82.3 L707.8 83.4 L706.2 84.6 L704.6 85.7 L702.9 86.9 L701.1 88 L699.2 89.2 L697.4 90.4 L695.5 91.5 L693.6 92.7 L691.8 93.8 L690 95 L688.3 96.1 L686.7 97.1 L685.1 98.1 L683.5 99.1 L681.9 100.1 L680.3 101.2 L678.5 102.3 L676.6 103.6 L674.6 105 L672.3 106.5 L669.7 108.2 L666.9 110.2 L663.9 112.2 L660.7 114.4 L657.4 116.7 L654.1 118.9 L650.9 121.2 L647.8 123.5 L644.8 125.7 L642.1 127.8 L639.6 129.8 L637.2 131.8 L634.9 133.8 L632.6 135.8 L630.5 137.8 L628.4 139.7 L626.4 141.6 L624.5 143.5 L622.6 145.4 L620.8 147.3 L619 149.1 L617.3 150.9 L615.6 152.7 L614 154.4 L612.4 156.1 L610.9 157.9 L609.6 159.6 L608.3 161.4 L607.1 163.2 L606 165 L605 166.9 L604.2 168.9 L603.4 171 L602.7 173.1 L602.1 175.2 L601.6 177.3 L601.2 179.3 L600.8 181.2 L600.6 183 L600.4 184.6 L600.3 186.1 L600.3 187.5 L600.4 188.7 L600.5 189.9 L600.8 191 L601.1 192.1 L601.5 193.1 L601.9 194.1 L602.4 195 L603 196 L603.6 196.9 L604.2 197.8 L604.9 198.6 L605.7 199.3 L606.5 200.1 L607.4 200.8 L608.4 201.6 L609.5 202.3 L610.7 203.1 L612 204 L613.4 204.9 L615 205.9 L616.6 206.9 L618.4 207.9 L620.2 208.9 L622.2 209.9 L624.1 211 L626.1 212 L628 213 L630 214 L631.9 214.9 L633.8 215.8 L635.6 216.7 L637.5 217.6 L639.4 218.4 L641.4 219.3 L643.5 220.3 L645.8 221.3 L648.3 222.4 L651 223.6 L654 224.9 L657.3 226.3 L660.8 227.7 L664.5 229.2 L668.3 230.8 L672.1 232.4 L675.9 234.1 L679.6 235.8 L683.2 237.7 L686.5 239.6 L689.7 241.7 L692.8 243.9 L696 246.2 L699 248.7 L702 251.1 L704.8 253.6 L707.6 256 L710.2 258.4 L712.6 260.6 L714.9 262.6 L717 264.5 L718.9 266.2 L720.6 267.8 L722.2 269.3 L723.6 270.8 L725 272.2 L726.3 273.7 L727.5 275.1 L728.8 276.5 L730 278 L731.2 279.5 L732.5 281 L733.7 282.4 L734.8 283.8 L735.9 285.3 L736.9 286.7 L737.8 288.2 L738.6 289.7 L739.2 291.2 L739.7 292.8 L740 294.4 L740.1 296.1 L740.1 297.9 L740 299.6 L739.8 301.4 L739.5 303.2 L739.1 304.9 L738.8 306.7 L738.4 308.4 L738 310 L737.6 311.6 L737.3 313.1 L736.9 314.7 L736.5 316.2 L736 317.7 L735.5 319.1 L734.9 320.6 L734.2 322 L733.4 323.4 L732.6 324.8 L731.6 326.2 L730.6 327.6 L729.4 329 L728.2 330.4 L727 331.7 L725.6 333 L724.2 334.3 L722.8 335.6 L721.4 336.8 L720 338 L718.6 339.1 L717 340.3 L715.5 341.4 L713.9 342.4 L712.3 343.4 L710.7 344.4 L709 345.4 L707.4 346.2 L705.8 347 L704.2 347.8 L702.5 348.5 L700.8 349.1 L698.9 349.7 L697.1 350.2 L695.3 350.7 L693.5 351.1 L691.9 351.4 L690.5 351.8 L689.2 352.1 L688.3 352.3" fill="none" stroke="#7ab4ee" stroke-width="1.3" stroke-linecap="round" stroke-linejoin="round" transform="translate(-0.6 -0.9)" opacity="0.8"/><path d="M734.4 204 L734.3 204.6 L734.3 205.4 L734.2 206.3 L734.1 207.4 L734.1 208.5 L733.9 209.7 L733.8 211 L733.6 212.3 L733.3 213.7 L733 215 L732.7 216.3 L732.4 217.6 L732.2 218.9 L731.9 220.2 L731.5 221.5 L731 223 L730.4 224.7 L729.6 226.4 L728.6 228.5 L727.3 230.7 L725.7 233.3 L723.8 236.3 L721.7 239.5 L719.4 243 L716.9 246.5 L714.4 250.1 L711.8 253.6 L709.2 256.9 L706.6 259.9 L704.2 262.6 L701.8 265 L699.4 267.1 L696.9 269.1 L694.4 270.9 L691.9 272.6 L689.4 274.2 L687 275.7 L684.6 277.2 L682.3 278.6 L680 280 L677.7 281.4 L675.4 282.8 L673 284.1 L670.7 285.4 L668.4 286.6 L666.3 287.7 L664.3 288.7 L662.6 289.6 L661.1 290.4 L659.9 291" fill="none" stroke="#3a0606" stroke-width="6.800000000000001" stroke-linecap="round" stroke-linejoin="round"/><path d="M734.4 204 L734.3 204.6 L734.3 205.4 L734.2 206.3 L734.1 207.4 L734.1 208.5 L733.9 209.7 L733.8 211 L733.6 212.3 L733.3 213.7 L733 215 L732.7 216.3 L732.4 217.6 L732.2 218.9 L731.9 220.2 L731.5 221.5 L731 223 L730.4 224.7 L729.6 226.4 L728.6 228.5 L727.3 230.7 L725.7 233.3 L723.8 236.3 L721.7 239.5 L719.4 243 L716.9 246.5 L714.4 250.1 L711.8 253.6 L709.2 256.9 L706.6 259.9 L704.2 262.6 L701.8 265 L699.4 267.1 L696.9 269.1 L694.4 270.9 L691.9 272.6 L689.4 274.2 L687 275.7 L684.6 277.2 L682.3 278.6 L680 280 L677.7 281.4 L675.4 282.8 L673 284.1 L670.7 285.4 L668.4 286.6 L666.3 287.7 L664.3 288.7 L662.6 289.6 L661.1 290.4 L659.9 291" fill="none" stroke="#c22430" stroke-width="5.2" stroke-linecap="round" stroke-linejoin="round"/><path d="M734.4 204 L734.3 204.6 L734.3 205.4 L734.2 206.3 L734.1 207.4 L734.1 208.5 L733.9 209.7 L733.8 211 L733.6 212.3 L733.3 213.7 L733 215 L732.7 216.3 L732.4 217.6 L732.2 218.9 L731.9 220.2 L731.5 221.5 L731 223 L730.4 224.7 L729.6 226.4 L728.6 228.5 L727.3 230.7 L725.7 233.3 L723.8 236.3 L721.7 239.5 L719.4 243 L716.9 246.5 L714.4 250.1 L711.8 253.6 L709.2 256.9 L706.6 259.9 L704.2 262.6 L701.8 265 L699.4 267.1 L696.9 269.1 L694.4 270.9 L691.9 272.6 L689.4 274.2 L687 275.7 L684.6 277.2 L682.3 278.6 L680 280 L677.7 281.4 L675.4 282.8 L673 284.1 L670.7 285.4 L668.4 286.6 L666.3 287.7 L664.3 288.7 L662.6 289.6 L661.1 290.4 L659.9 291" fill="none" stroke="#e65a60" stroke-width="1.3" stroke-linecap="round" stroke-linejoin="round" transform="translate(-0.6 -0.9)" opacity="0.8"/></g>
<polygon points="1194,124 1210,120.5 1213,133 1196,135" fill="#c4921c"/><line x1="1211" y1="131" x2="1238" y2="134" stroke="#5a3c05" stroke-width="3.4" stroke-linecap="round"/><line x1="1211" y1="131" x2="1238" y2="134" stroke="#e0b040" stroke-width="2.2" stroke-linecap="round"/><polygon points="1203,146 1218,142.5 1222,151 1206,153" fill="#c4921c"/><line x1="1220" y1="147" x2="1246" y2="141" stroke="#5a3c05" stroke-width="3.4" stroke-linecap="round"/><line x1="1220" y1="147" x2="1246" y2="141" stroke="#e0b040" stroke-width="2.2" stroke-linecap="round"/><polygon points="1205,164 1224,160.5 1229,167 1209,170" fill="#c4921c"/><line x1="1226" y1="164" x2="1242" y2="162" stroke="#5a3c05" stroke-width="3.4" stroke-linecap="round"/><line x1="1226" y1="164" x2="1242" y2="162" stroke="#e0b040" stroke-width="2.2" stroke-linecap="round"/><polygon points="1200,193 1226,190.5 1231,196 1203,198" fill="#f3df78"/><polygon points="1187,218 1200,215.5 1205,222 1190,224" fill="#f3e070"/><polygon points="1160,240 1178,241 1184,251 1163,252" fill="#c4921c"/><line x1="1158" y1="237" x2="1162" y2="246" stroke="#5a3c05" stroke-width="3.4" stroke-linecap="round"/><line x1="1158" y1="237" x2="1162" y2="246" stroke="#c4921c" stroke-width="2.2" stroke-linecap="round"/><path d="M1237.6 133.2 L1238.2 133.4 L1238.9 133.6 L1239.9 133.9 L1240.9 134.2 L1242 134.6 L1243.1 135 L1244.2 135.4 L1245.3 135.9 L1246.2 136.4 L1247 137 L1247.7 137.6 L1248.4 138.3 L1249 138.9 L1249.6 139.7 L1250.2 140.4 L1250.6 141.2 L1251.1 142.1 L1251.5 143 L1251.8 144 L1252 145 L1252.2 146.1 L1252.3 147.3 L1252.4 148.5 L1252.4 149.8 L1252.3 151.1 L1252.2 152.5 L1252 153.9 L1251.7 155.3 L1251.4 156.6 L1251 158 L1250.5 159.3 L1250 160.6 L1249.4 161.8 L1248.8 163 L1248.1 164.3 L1247.3 165.6 L1246.4 167 L1245.4 168.5 L1244.2 170.2 L1243 172 L1241.6 174 L1240 176.3 L1238.3 178.7 L1236.5 181.3 L1234.6 183.9 L1232.7 186.5 L1230.7 189.1 L1228.8 191.6 L1226.8 193.9 L1225 196 L1223.2 197.9 L1221.5 199.8 L1219.9 201.5 L1218.2 203.1 L1216.6 204.7 L1214.8 206.2 L1213.1 207.7 L1211.2 209.1 L1209.2 210.6 L1207 212 L1204.7 213.4 L1202.2 214.9 L1199.6 216.2 L1196.9 217.6 L1194.1 218.9 L1191.3 220.2 L1188.5 221.5 L1185.6 222.7 L1182.8 223.9 L1180 225 L1177.2 226.1 L1174.2 227.2 L1171.1 228.2 L1168 229.2 L1164.9 230.1 L1161.9 231 L1159 231.9 L1156.4 232.6 L1154 233.4 L1152 234 L1150.3 234.6 L1148.8 235 L1147.6 235.4 L1146.6 235.8 L1145.8 236.1 L1145 236.3 L1144.4 236.5 L1143.9 236.7 L1143.4 236.8 L1143 237" fill="none" stroke="#9a6a10" stroke-width="7.199999999999999" stroke-linecap="round" stroke-linejoin="round"/><path d="M1237.6 133.2 L1238.2 133.4 L1238.9 133.6 L1239.9 133.9 L1240.9 134.2 L1242 134.6 L1243.1 135 L1244.2 135.4 L1245.3 135.9 L1246.2 136.4 L1247 137 L1247.7 137.6 L1248.4 138.3 L1249 138.9 L1249.6 139.7 L1250.2 140.4 L1250.6 141.2 L1251.1 142.1 L1251.5 143 L1251.8 144 L1252 145 L1252.2 146.1 L1252.3 147.3 L1252.4 148.5 L1252.4 149.8 L1252.3 151.1 L1252.2 152.5 L1252 153.9 L1251.7 155.3 L1251.4 156.6 L1251 158 L1250.5 159.3 L1250 160.6 L1249.4 161.8 L1248.8 163 L1248.1 164.3 L1247.3 165.6 L1246.4 167 L1245.4 168.5 L1244.2 170.2 L1243 172 L1241.6 174 L1240 176.3 L1238.3 178.7 L1236.5 181.3 L1234.6 183.9 L1232.7 186.5 L1230.7 189.1 L1228.8 191.6 L1226.8 193.9 L1225 196 L1223.2 197.9 L1221.5 199.8 L1219.9 201.5 L1218.2 203.1 L1216.6 204.7 L1214.8 206.2 L1213.1 207.7 L1211.2 209.1 L1209.2 210.6 L1207 212 L1204.7 213.4 L1202.2 214.9 L1199.6 216.2 L1196.9 217.6 L1194.1 218.9 L1191.3 220.2 L1188.5 221.5 L1185.6 222.7 L1182.8 223.9 L1180 225 L1177.2 226.1 L1174.2 227.2 L1171.1 228.2 L1168 229.2 L1164.9 230.1 L1161.9 231 L1159 231.9 L1156.4 232.6 L1154 233.4 L1152 234 L1150.3 234.6 L1148.8 235 L1147.6 235.4 L1146.6 235.8 L1145.8 236.1 L1145 236.3 L1144.4 236.5 L1143.9 236.7 L1143.4 236.8 L1143 237" fill="none" stroke="#efbb36" stroke-width="5.6" stroke-linecap="round" stroke-linejoin="round"/><path d="M1237.6 133.2 L1238.2 133.4 L1238.9 133.6 L1239.9 133.9 L1240.9 134.2 L1242 134.6 L1243.1 135 L1244.2 135.4 L1245.3 135.9 L1246.2 136.4 L1247 137 L1247.7 137.6 L1248.4 138.3 L1249 138.9 L1249.6 139.7 L1250.2 140.4 L1250.6 141.2 L1251.1 142.1 L1251.5 143 L1251.8 144 L1252 145 L1252.2 146.1 L1252.3 147.3 L1252.4 148.5 L1252.4 149.8 L1252.3 151.1 L1252.2 152.5 L1252 153.9 L1251.7 155.3 L1251.4 156.6 L1251 158 L1250.5 159.3 L1250 160.6 L1249.4 161.8 L1248.8 163 L1248.1 164.3 L1247.3 165.6 L1246.4 167 L1245.4 168.5 L1244.2 170.2 L1243 172 L1241.6 174 L1240 176.3 L1238.3 178.7 L1236.5 181.3 L1234.6 183.9 L1232.7 186.5 L1230.7 189.1 L1228.8 191.6 L1226.8 193.9 L1225 196 L1223.2 197.9 L1221.5 199.8 L1219.9 201.5 L1218.2 203.1 L1216.6 204.7 L1214.8 206.2 L1213.1 207.7 L1211.2 209.1 L1209.2 210.6 L1207 212 L1204.7 213.4 L1202.2 214.9 L1199.6 216.2 L1196.9 217.6 L1194.1 218.9 L1191.3 220.2 L1188.5 221.5 L1185.6 222.7 L1182.8 223.9 L1180 225 L1177.2 226.1 L1174.2 227.2 L1171.1 228.2 L1168 229.2 L1164.9 230.1 L1161.9 231 L1159 231.9 L1156.4 232.6 L1154 233.4 L1152 234 L1150.3 234.6 L1148.8 235 L1147.6 235.4 L1146.6 235.8 L1145.8 236.1 L1145 236.3 L1144.4 236.5 L1143.9 236.7 L1143.4 236.8 L1143 237" fill="none" stroke="#fbe08a" stroke-width="1.3" stroke-linecap="round" stroke-linejoin="round" transform="translate(-0.6 -0.9)" opacity="0.8"/>
<text x="170.5" y="97.2" font-size="28" text-anchor="start" font-weight="normal" font-style="normal" fill="#000" >M</text>
<text x="739.5" y="97.2" font-size="28" text-anchor="start" font-weight="normal" font-style="normal" fill="#000" >D</text>
<text x="1261.5" y="97.8" font-size="28" text-anchor="start" font-weight="normal" font-style="normal" fill="#000" >T</text>
<g transform="translate(0 0)"><polygon points="368.7,161 433.5,161 422.6,146 425.8,142.3 446.5,162.5 446.5,167.8 368.7,167.8" fill="#000"/><polygon points="446.5,189.7 381.7,189.7 392.6,204.6 389.4,208.3 368.7,188.3 368.7,183.3 446.5,183.3" fill="#000"/></g>
<g transform="translate(514.3 0.4)"><polygon points="368.7,161 433.5,161 422.6,146 425.8,142.3 446.5,162.5 446.5,167.8 368.7,167.8" fill="#000"/><polygon points="446.5,189.7 381.7,189.7 392.6,204.6 389.4,208.3 368.7,188.3 368.7,183.3 446.5,183.3" fill="#000"/></g>
<text x="357.5" y="122" font-size="28" font-style="italic">k</text>
<text x="371.4" y="130.3" font-size="20">assoc-D</text>
<text x="328.2" y="238.7" font-size="28" font-style="italic">k</text>
<text x="342.8" y="246.9" font-size="20">assoc-D</text>
<text x="423.8" y="238.7" font-size="28" text-anchor="start" font-weight="normal" font-style="normal" fill="#000" >x</text>
<text x="447.6" y="238.7" font-size="28" font-style="italic">k</text>
<text x="461.6" y="246.9" font-size="20">D</text>
<text x="880.3" y="121.8" font-size="28" font-style="italic">k</text>
<text x="894.5" y="130.3" font-size="20">assoc-T</text>
<text x="889.4" y="238.6" font-size="28" font-style="italic">k</text>
<text x="903" y="247.1" font-size="20">diss-T</text>
<text x="5" y="23.2" font-size="41" text-anchor="start" font-weight="bold" font-style="normal" fill="#000" >a</text>
<path d="M433.7 585.1h0M539.9 499.8h0M492.4 527h0M277.5 793.8h0M306.8 783.4h0M530.7 497.3h0M191.7 804.7h0M510.2 507.7h0M500.8 509.7h0M372.3 726.8h0M307.9 785.3h0M298.3 792.1h0M289.1 793.3h0M363.4 739.8h0M386.6 712.6h0M405.7 679.1h0M578.3 493.5h0M499.1 514.5h0M432.5 587.3h0M575.7 492.4h0M273.7 796.8h0M252.2 798.6h0M428.8 596.2h0M206.8 805.9h0M203.6 804.4h0M390.6 695.8h0M371.6 733.7h0M547.7 497.5h0M435.3 657.2h0M390.3 700.7h0M383.6 708.4h0M286.3 788.6h0M194.2 804h0M264.7 794.1h0M459.8 586.7h0M267.9 795.3h0M333.9 774.7h0M191.1 804h0M513.7 500h0M249.9 795.8h0M294.1 792.4h0M533.3 490.6h0M388.6 708.1h0M520.3 505.7h0M439.4 620h0M479.2 562.9h0M225.3 801.6h0M400.9 678.1h0M387.9 711h0M529.8 494.8h0M330.7 775h0M423.2 653.7h0M212.8 806h0M341 767.8h0M315.7 783.8h0M248.3 799.3h0M508.3 506.4h0M337.8 770.4h0M571.7 501.5h0M420 656.1h0M425.8 613.8h0M438.7 599.9h0M453.7 554.3h0M248.5 796.6h0M361.5 739.2h0M283.1 791.9h0M346.8 761.7h0M227.4 803.7h0M567.5 497.7h0M273.6 795.6h0M451.9 596.8h0M306.9 785.8h0M530.9 496.9h0M448.1 601.5h0M241 798.4h0M519.5 499.6h0M558.5 491.1h0M542.5 493.1h0M412 643.5h0M246.4 801h0M264.8 795.2h0M551.9 491.1h0M405.2 694.3h0M260.1 797.8h0M534.8 485.1h0M440.1 625.7h0M412 677.2h0M336.5 768.9h0M350.1 760.7h0M283.1 792.6h0M204.5 799.5h0M531.7 492.3h0M372.2 725.9h0M403.4 680.6h0M315.4 781.6h0M482.9 524.8h0M199.5 804.2h0M334.9 773.5h0M201.5 803.5h0M237.6 797.9h0M567.2 491.6h0M446.4 596.5h0M356.8 756.4h0M394.1 695.8h0M530.4 486.2h0M324 776.2h0M420.1 656.9h0M456.5 608.5h0M328.4 775.4h0M392.3 706.2h0M488.4 517.8h0M544.6 496.8h0M248.6 796.5h0M554 486.2h0M191.6 808.9h0M483.6 510.7h0M506 508.3h0M243 802.4h0M353.2 758.2h0M507.9 506.9h0M195.2 801.7h0M435 654.1h0M499.2 507.7h0M389.9 692.1h0M473 529.2h0M278 792.5h0M267.1 795.9h0M331.4 776.5h0M259.7 795.9h0M324.7 776.3h0M559.8 489h0M413.4 665.7h0M322.4 777.8h0M295.6 788.8h0M561.3 485.1h0M363.1 751.8h0M572.4 499.4h0M390.9 704.4h0M393.1 684.6h0M539.6 491.7h0M479.6 524.9h0M416.3 634.8h0M356.2 749.5h0M532.5 492.9h0M350.3 759.5h0M549.9 490.5h0M216.5 800.6h0M357.5 758.4h0M392.4 685.2h0M560.9 489.1h0M287.6 791.5h0M504.3 504.1h0M453.7 567.6h0M469.6 548.5h0M435.4 603.6h0M568.9 497.3h0M319.5 779.1h0M345.1 765.8h0M268.8 793.5h0M209.4 802.3h0M272.7 792.7h0M547 494.4h0M517.6 508.8h0M233.5 796.5h0M425.3 633h0M376.7 720.7h0M421.8 645.5h0M447 609.6h0M309.3 780.5h0M564.9 491.4h0M371.5 725.3h0M434.8 635.1h0M437.6 608.3h0M261.4 797.1h0M213.8 803h0M350.3 757.6h0M487.9 525.4h0M507.9 497.7h0M474.6 569.6h0M233.8 800.4h0M546.2 497.1h0M502.7 500.7h0M532.3 498.9h0M393.9 704h0M547.1 495.7h0M207.8 801.7h0M201.4 801.4h0M197.5 804.9h0M288.3 791.6h0M286.7 795.2h0M262.8 795.7h0M411 655.2h0M204.8 804.5h0M420.1 634.4h0M254.4 802.1h0M454.3 588h0M197.9 806.9h0M310.9 786h0M555.9 492.5h0M399.8 692.9h0M506.5 508.5h0M446.5 601.2h0M428.1 670.6h0M264.3 799.1h0M413.9 688.4h0M205.1 798.7h0M502.6 528.3h0M564.4 493.7h0M523 492.5h0M209.4 802h0M321.8 781.8h0M313.8 783.4h0M233.6 798.7h0M434.2 618.7h0M500.9 514.4h0M312.1 782.2h0M526.5 497.6h0M500.8 506.2h0M240 796.7h0M489 522.2h0M534.2 502.7h0M266.6 794.9h0M413.6 650.8h0M439 632.5h0M427.5 657.7h0M227.2 796.2h0M447.7 589.9h0M436.3 621h0M511.3 507.3h0M503.3 511.3h0M317.3 781.5h0M471.5 510.7h0M528.2 502.5h0M538.2 497.9h0M252.7 801.5h0M200 802.6h0M443.7 622.3h0M273.4 794h0M409.7 702h0M558.5 494.3h0M337.7 767.1h0M288.3 791.6h0M367.8 735.4h0M446.2 572.3h0M229.1 801.8h0M338.2 773.4h0M241.8 797.3h0M448.2 590.8h0M513.9 499h0M336.7 773.5h0M334.7 776.7h0M400.2 695.9h0M273.6 796.7h0M286.2 790.1h0M318.4 779.9h0M368.2 736.2h0M221.5 801.7h0M483.5 513.9h0M415.7 656h0M306.6 785.7h0M219.9 801.7h0M487.6 532.1h0M240.8 800.3h0M241.6 796.3h0M240.6 800.6h0M221.3 802.3h0M543.5 497.3h0M294.7 791.2h0M309.2 782.1h0M514.7 504.6h0M431.6 642h0M262.7 803.5h0M359.4 752.2h0M534.7 505.4h0M336.2 775.3h0M467.1 552.2h0M227.4 799.5h0M473.6 576.5h0M492.8 514.8h0M512 502.4h0M452.8 569.4h0M334.4 769.2h0M214.7 806.2h0M392.2 716h0M485.3 543.1h0M264.1 798.6h0M293.6 788.6h0M398.9 680.1h0M481.8 529h0M539.6 499.5h0M238.7 799.3h0M261.6 797.3h0M501.8 499.5h0M441.2 631.8h0M471.1 544h0M578.8 497.7h0M556.3 492.6h0M518.7 505.7h0M493 514.2h0M343.8 761.4h0M440 643.8h0M261.6 796.6h0M486.1 497.9h0M485.4 517.9h0M471.2 544.4h0M363.3 748.6h0M337.3 769.5h0M353.5 754.4h0M202.6 803.9h0M519.2 501.3h0M401.4 691.5h0M340.9 765.2h0M403.6 695h0M471.3 558h0M338.5 768.6h0M513.9 500.1h0M548.6 494.6h0M340.9 768.6h0M243.4 800.3h0M486.5 541.3h0M577.3 495.3h0M247.4 800.1h0M467.8 549.8h0M511.8 509.1h0M549 495.6h0M237.8 802h0M225.5 804.1h0M575.3 491.3h0M235.2 801.5h0M258.6 796.1h0M414.1 684h0M363.8 743.4h0M482.6 539.3h0M264 797.4h0M546.6 496.5h0M274.4 793.2h0M489.9 510.9h0M216 803h0M374.4 722.6h0M202.3 803.3h0M312.1 782.3h0M311.5 782.5h0M470.6 556.4h0M367.3 740.7h0M211.8 802.3h0M578.2 497.5h0M536.6 494h0M547.3 488.6h0M285.9 790.7h0M343.5 768.5h0M278.3 796.9h0M238.4 800.3h0M202.5 804h0M386.1 703.1h0M237.7 800.9h0M258.5 797.7h0M525.5 495.4h0M378.7 724.7h0M261.3 797.2h0M451.1 573.8h0M293.4 787.4h0M395.3 679h0M300.1 787.8h0M391.1 707.1h0M435 618.9h0M399 689.8h0M344.1 764.2h0M498.4 512.3h0M530.6 497.2h0M259.6 797.4h0M242.8 798.8h0M233.8 797.5h0M572 492.7h0M557.2 500.8h0M279.7 796h0M568.3 501.2h0M270.8 796.9h0M387.3 705h0M383.8 712.5h0M546.8 496.6h0M205.4 802.9h0M312.7 785.2h0M423.8 665.4h0M215.5 805.9h0M282 795.5h0M371.2 724.7h0M533.5 502.9h0M486.7 511h0M513.3 498.1h0M486.7 537.7h0M465.9 558.5h0M521.3 503.8h0M455.7 560.4h0M476.8 516.8h0M307.4 784.8h0M255.1 795.3h0M485 516.7h0M254.4 797.1h0M548.6 492.6h0M422.5 659.3h0M318.2 780.7h0M555.3 498.2h0M250.2 797.4h0M390.5 702.1h0M225.4 803.5h0M566.5 483h0M414.2 655.1h0M503.4 518.2h0M299.7 788h0M502.6 526h0M464 544.1h0M440.9 601.1h0M560.7 497.4h0M358.9 751.8h0M351.7 756.6h0M459.8 556.9h0M515.6 499h0M320.4 777.9h0M451.1 569h0M271.2 796.4h0M405 664.2h0M489.9 522.9h0M215.1 804.1h0M473.8 523.5h0M195.6 802.5h0M563.8 491.9h0M372.6 727.2h0M349.3 757.5h0M470.9 564.1h0M393.9 716.3h0M474.9 541.3h0M222.7 801.8h0M409.3 672.7h0M407.5 664.1h0M553.5 490.9h0M205.1 805.4h0M366.4 740.6h0M436 646.7h0M404.6 695.7h0M218.6 801.1h0M421.2 653.2h0M276.4 798.6h0M266 796.9h0M532.7 494.4h0M266.9 795.4h0M367 732.8h0M482.5 536.7h0M465.8 547h0M405.7 689.4h0M504.7 512.3h0M371.5 730.2h0M431.8 614.3h0M509.3 508.7h0M454.3 586.8h0M440.2 611h0M348.2 761.9h0M407.6 677.7h0M344.3 764.3h0M480.2 544.7h0M338.1 773h0M371.8 732h0M484.5 514.2h0M386.2 702.9h0M321.6 778.3h0M512.4 513.2h0M338.3 769.7h0M519.4 498.9h0M496.2 515.1h0M364.2 740.7h0M467.9 572.3h0M203.1 799.8h0M341.8 762.7h0M525.5 498.8h0M415.9 663.5h0M407.4 662.4h0M449.1 575.3h0M454.2 548.3h0M417.5 612.1h0M353.8 756.4h0M261.3 796.2h0M303.9 787.8h0M304 785.8h0M357.8 749h0M579.6 486.5h0M327.3 776h0M364.3 745.3h0M334.7 770h0M416.6 690.5h0M559.7 494.5h0M536.7 485.2h0M336.9 773.3h0M293.8 791.3h0M534.9 495.9h0M382.4 722h0M457.3 569h0M218.2 799.9h0M527.9 502.2h0M311.8 784.9h0M382.7 717.4h0M266.9 798.1h0M353.7 756.9h0M512.9 503.7h0M512.7 493h0M374.5 725.2h0M489.4 517.9h0M368.4 745.5h0M335.4 772.5h0M402.7 703.8h0M268.2 794h0M313.2 784.1h0M465.4 548h0M490.4 536.3h0M211.8 804.4h0M475.7 559.4h0M508.7 503.4h0M363.4 752.3h0M214 805.4h0M456.2 577.1h0M285.7 794.1h0M440.8 603h0M336.7 767.9h0M438.4 618.1h0M290.4 790.7h0M375.7 725.8h0M394.5 691.5h0M436 637.5h0M268.9 794.8h0M565.2 497.6h0M302.5 790h0M309.1 785h0M289.7 792.2h0M216 801.4h0M354.7 750.7h0M490.9 544.2h0M466.6 584.4h0M266 791.6h0M243.1 797.4h0M315.1 780h0M489.5 520.2h0M380.2 728.8h0M550 498.8h0M445.9 578.8h0M432 644h0M489.3 524.1h0M482.5 534h0M323.9 777.3h0M290 795.6h0M360.5 752.2h0M380.6 710.1h0M245 794.3h0M361.9 747h0M439.4 628.2h0M242.6 800.5h0M243.5 800.9h0M257.4 802.5h0M300.2 785.9h0M565.1 494.8h0M199.7 798.6h0M261.4 796h0M254.1 797.4h0M374.8 736.3h0M195.5 800.9h0M368.5 739.7h0M253.2 798.2h0M294.9 795.1h0M499 519.3h0M261.5 794.3h0M430.5 644.7h0M348.2 761h0M352.7 755.3h0M508.5 502.4h0M252.4 797.9h0M550.3 485.4h0M538.4 496.8h0M450.5 590.2h0M208.9 804.2h0M448.6 624.4h0M424 647.5h0M491.1 503.2h0M273.1 794.6h0M561.8 496.7h0M535.6 494.7h0M234.3 804.9h0M312.7 784.2h0M202.3 802.6h0M514 500.8h0M546.9 497.7h0M576 490.5h0M428.5 602.8h0M449.6 593.2h0M454.5 581.1h0M412.2 673.8h0M561.4 502.1h0M426.9 643.3h0M320.7 779.8h0M389.8 704.3h0M196.9 805.4h0M472.3 543h0M460.5 566.7h0M354 751.7h0M522 501.3h0M484.6 532.1h0M321.1 776.7h0M219.9 800.9h0M241.2 797.9h0M261.6 796.3h0M308.3 780.2h0M364.3 741.3h0M551.9 490.9h0M298.3 792.4h0M540.4 497.8h0M455.3 601.2h0M522.8 499.6h0M347.1 761.4h0M190.9 806.2h0M496.8 529.4h0M285.5 794.7h0M245.2 799.9h0M501.7 505.5h0M457.6 568.9h0M272.5 793.6h0M294.1 788.9h0M556.3 494.3h0M294.5 786.2h0M463.8 561.8h0M240.2 799h0M507.8 511h0M235.5 804.2h0M391.1 706.1h0M203.4 804.4h0M404.4 694.6h0M520.1 497.1h0M222.6 807.3h0M296.7 792.4h0M488.2 550.7h0M427 592.4h0M311.7 785.8h0M435.1 621.4h0M367.1 744.2h0M526.3 494.2h0M304 788.3h0M485.4 524.4h0M437.8 633.1h0M478.7 512h0M337.3 769.6h0M472.6 551h0M462.3 532h0M340.9 766.9h0M200 804.2h0M565.5 489.5h0M468.2 538.3h0M269.6 796.1h0M474.9 528.4h0M298.4 790.4h0M372.8 726.6h0M525.3 494.6h0M364.5 743.7h0M302.1 783.5h0M308.9 788.6h0M219.7 802.8h0M275.3 790.8h0M295.5 791.2h0M257.2 800.9h0M214.2 799.7h0M371.5 729.3h0M273.3 797.4h0M478 538.5h0M549.8 498.6h0M296.2 792.5h0M413 663.3h0M387.4 708.5h0M218.9 804.7h0M238.4 800.9h0M535 500.9h0M374.7 728.6h0M503.7 516.5h0M215.6 800.8h0M421.8 651.2h0M527.4 504.5h0M528.1 504.2h0M191.9 804.9h0M393.3 687.9h0M333.7 770.1h0M486.3 539.1h0M218.2 800.5h0M293 792.8h0M506.9 497h0M372.9 731.9h0M366.5 735.2h0M567.7 490.4h0M314.5 783.8h0M205.9 802.6h0M342.7 767.6h0M249.5 798.5h0M221.6 799.6h0M411.3 611.2h0M561.9 489.4h0M415.8 651.1h0M442.3 635.3h0M316 779.9h0M412.6 653.6h0M483.3 539.9h0M419.7 653.4h0M503 511.4h0M404.5 661.2h0M267 793.4h0M417.1 687.8h0M381.3 720.4h0M254.4 800.8h0M431.3 659.8h0M508.6 503.8h0M242.4 798.1h0M402.4 673.4h0M476 508.5h0M347 762.5h0M295 789h0M335 775.6h0M401.1 695.1h0M457.7 570h0M407.9 675.7h0M231.4 802h0M508.9 507.9h0M550.3 486.9h0M229.2 797.3h0M287 795.8h0M257.4 798.4h0M521.1 499.2h0M545 488.4h0M206.9 805.2h0M319.4 779.1h0M264.8 797h0M372.9 716.5h0M549.4 491.7h0M217 802.6h0M256.5 798h0M379.8 714.7h0M394.2 707.9h0M480.7 538.2h0M360.5 748.5h0M244.7 802.1h0M327.7 777.9h0M573 500.5h0M482.7 546.2h0M235 801.8h0M505.1 517.3h0M311 783.1h0M494.7 509.4h0M194.6 804.8h0M529.8 502.8h0M253 796.3h0M367.5 747.1h0M448 620.9h0M387.9 701.3h0M254.2 796.4h0M243.9 797h0M300.7 789h0M210.1 806h0M274.2 795.9h0M240.4 798.4h0M371.1 739h0M328.8 776.9h0M418.7 683.6h0M299.3 791.2h0M202.9 801.8h0M318.9 779.9h0M484.4 556.4h0M289.5 793.6h0M347.6 762.2h0M484.4 522.8h0M348.4 764h0M535.9 497.2h0M548 504.2h0M310.9 787h0M476.9 533.3h0M288.4 790.1h0M244.1 801.8h0M360.6 750.2h0M424.8 641.4h0M554.9 494.9h0M246.6 799.8h0M467.7 537.4h0M375.2 725.9h0M241 797.2h0M569.3 489.5h0M461.2 586.9h0M239.9 800.1h0M543.2 494.9h0M229.9 804.1h0M225.8 803.7h0M319.1 778.8h0M555.8 500.5h0M202.5 801.5h0M548.1 492.7h0M428.4 647.2h0M215.8 801.5h0M411.6 673.3h0M368.7 730.2h0M409.8 693.2h0M477.4 549.4h0M454.6 580.4h0M578.9 486.6h0M250.8 796.2h0M507 509.5h0M350.1 759.8h0M495.4 529.3h0M537.8 495.5h0M576.9 494.5h0M293.5 785.6h0M366.4 748.5h0M557.7 487.8h0M558.8 490.6h0M335.2 773.7h0M556.7 493.5h0M348.1 761.9h0M335.9 771.1h0M485 515.3h0M373.6 737.1h0M364.6 735h0M340.4 768.6h0M358.6 740.4h0M244.2 798.3h0M213.5 800.2h0M484 512.9h0M410 651.6h0M451.9 564h0M502.8 518.4h0M279.5 792.2h0M280.9 791.9h0M298.1 783.9h0M308.3 790.2h0M486.6 523.1h0M335.7 769.1h0M315.8 785.8h0M438 628.6h0M262.5 791.7h0M231.2 797.8h0M461.8 582.1h0M484.9 501.8h0M305.3 783.6h0M437.9 587h0M202.9 802.8h0M347.5 760.9h0M415.3 658.3h0M288.6 793.1h0M325.6 776.5h0M427.6 621.6h0M419.9 608.2h0M249.8 799.2h0M465.5 620.6h0M220.9 803h0M568.2 491.8h0M268.6 794.8h0M288.6 791.5h0M267.8 797.6h0M576.7 487.8h0M301.5 789.3h0M425.9 649.3h0M576.4 496.3h0M560.5 498.3h0M206.2 800.1h0M393.1 704.3h0M424.4 667.7h0M463.8 567.5h0M320.8 781.2h0M317.6 780.6h0M191.3 804.7h0M203.4 804.6h0M404.4 658.9h0M219.3 802.8h0M268.7 796.1h0M319.7 783.6h0M217.1 804.2h0M201.7 802.3h0M551.5 490.6h0M359.5 747.6h0M269.6 797.1h0M466.2 530.5h0M193.3 808h0M285.3 793.3h0M564.7 493.9h0M540.1 499.3h0M437.9 597.9h0M226 802.8h0M313.8 784.9h0M200.5 799.8h0M275.2 793h0M199.6 801.2h0M238.9 799.8h0M436.8 587.3h0M228.8 799.4h0M250.4 795.6h0M542.1 483.4h0M320.6 780.6h0M319.6 780h0M223.4 802h0M500.3 520.5h0M453.7 589h0M403.2 683.7h0M430.9 595.9h0M228.8 802.3h0M291.2 788.5h0M417.5 637.4h0M561.4 494.5h0M508.6 499.5h0M439.8 629.6h0M392.2 684.4h0M195.5 806.4h0M537.4 488.4h0M215.7 803h0M240 800.6h0M460.2 565.9h0M506.7 508.5h0M496.7 504.9h0M366.2 733.4h0M258.7 794.3h0M203.4 802.2h0M522 503.9h0M571.3 494.6h0M284.9 790.6h0M527.7 500h0M346.8 755.7h0M311.2 784.7h0M386.8 712.3h0M192.8 801.7h0M362.5 741.4h0M267.5 795.9h0M467.8 541.5h0M385.8 710.7h0M528.8 493.8h0M539.7 491.1h0M313.3 784.9h0M299.1 787.9h0M556.3 488.6h0M386.4 708h0M227.3 807.8h0M207.5 805.4h0M576.3 498.8h0M415.7 641.2h0M210.9 802.5h0M389.2 700.9h0M386.4 706.1h0M359.6 750.2h0M561 492.4h0M560 484.1h0M238.4 801.3h0M248.9 797.6h0M348.7 757.7h0M515.2 501.3h0M433.1 643.8h0M474.5 551.3h0M414.5 652.1h0M271.6 795.3h0M508.9 501.5h0M195.1 803.1h0M462.3 574.6h0M265.5 794.2h0M373.5 726.8h0M570.3 492.9h0M400.1 675.4h0M211.9 802.4h0M357 751.4h0M447.4 596.5h0M211.8 802.8h0M288.3 794h0M196.8 806.8h0M400.5 694.5h0M338.6 769.1h0M386.3 709.1h0M305.1 786.1h0M446 573h0M257.2 797.1h0M543.6 494h0M564.4 496.6h0M382.1 711.4h0M371.3 734.6h0M525.2 493.6h0M302.8 791.8h0M503.1 517.1h0M301.8 785.1h0M470.7 541.2h0M320 782.1h0M424.9 618.7h0M551.1 498.2h0M210.8 802.8h0M504.8 520.5h0M401.2 712.4h0M337.6 770.6h0M326.4 776.7h0M216.7 800.6h0M290.5 793.3h0M432.9 593.6h0M227.7 802.6h0M451 605.5h0M565.3 504h0M572.5 486.6h0M536.8 496.3h0M504.5 510h0M259.1 798.6h0M568.4 498.4h0M268.8 792.3h0M528.9 497.9h0M532.3 488h0M432.4 625.8h0M393.1 714.8h0M267.9 793.7h0M392.4 690h0M303.1 788.1h0M238.8 796.3h0M239.7 800.2h0M502.4 499.9h0M549.7 493.3h0M245 800.8h0M194.8 803.1h0M292.5 791.5h0M242.1 796.6h0M263.3 794.4h0M417.3 653.8h0M354.5 753.4h0M357.2 750.2h0M269.9 796.3h0M449.1 604.7h0M302.6 787.8h0M345.4 761.9h0M370.5 739.3h0M542.7 493.9h0M285.8 791.4h0M470.2 584.7h0M310.4 785.5h0M538.8 497.9h0M343.5 764.3h0M386.8 714h0M532.1 494.6h0M452.3 567.8h0M226.5 800.8h0M243 802.8h0M576.4 494.6h0M201 801.5h0M307.1 786.9h0M564 487.3h0M195.5 802.7h0M252.6 796.9h0M272.9 795.6h0M223.4 802.8h0M373.9 731.2h0M420.9 667.5h0M313.9 782.2h0M232 799.8h0M506.2 505.9h0M503.7 505.7h0M409.1 672.2h0M243.4 802.6h0M401.2 690.4h0M435.4 611h0M356.8 753.7h0M526.9 499.9h0M341.9 766.3h0M389.1 712.5h0M234.2 799h0M409.6 671.1h0M488.8 541.8h0M475.1 541.4h0M289.9 793.5h0M576.8 486.3h0M470.7 538.1h0M355.1 752.5h0M351.6 757.1h0M493.9 517.2h0M258.2 797.1h0M439.3 561.6h0M470.3 559.1h0M391.2 697.8h0M530.5 491.7h0M372.6 735.3h0M371.1 723.3h0M300.8 786.3h0M548.5 488.9h0M313.1 785.3h0M461.1 563.5h0M349.4 759.1h0M554.8 495.3h0M559.7 481.5h0M201.4 802.5h0M577.9 496.5h0M425.8 642.3h0M218.5 800.4h0M383.7 706.4h0M208.9 801.8h0M403.9 669.6h0M262 793.3h0M333.3 775.4h0M308.6 786.2h0M424.7 663.7h0M510.7 504.3h0M555.2 485.6h0M318 780.8h0M412 679.4h0M191.9 804.9h0M334.9 770.1h0M564.7 495h0M236 800.1h0M529.2 496.1h0M444.4 584.4h0M304.4 784.8h0M493.4 511h0M302.6 786h0M539 499.6h0M221.9 803.5h0M236.1 801.4h0M482.4 522.7h0M365 740.9h0M247.2 798.1h0M390.1 693.3h0M305.6 783.7h0M404.1 694h0M480 533.9h0M524.1 491.1h0M212.7 803.5h0M420.9 650.6h0M573.6 486.4h0M369.1 738.1h0M490.1 515h0M227.6 801h0M530.6 500.7h0M416.9 671.9h0M536.4 496.9h0M496.9 504h0M529 499.5h0M212 803.3h0M469 594.8h0M266.5 798.9h0M293.4 787h0M316.4 786.5h0M420.5 679.2h0M434.7 580.8h0M553.3 499.5h0M194.6 802.7h0M265.1 793.6h0M330.9 776.3h0M509 504.8h0M404.3 679.4h0M389.5 702.2h0M486.4 531.4h0M445.4 577.4h0M302.8 784.1h0M223.6 800.6h0M370.1 725.6h0M533.2 493.1h0M423.1 661.4h0M210.4 802.5h0M361.4 745h0M339.8 770.2h0M417 634.8h0M418.8 654.2h0M561 490.6h0M321.6 781.7h0M348.9 759.7h0M429.1 637h0M535.7 497.5h0M465.3 526.8h0M373.5 740.7h0M507.6 500.1h0M379.1 728.8h0M565.8 503.1h0M299.9 790.2h0M239.4 801.5h0M513.8 500.8h0M305.7 788.2h0M520.4 499.2h0M427.5 666.3h0M388.3 693.1h0M223.6 800.5h0M496.6 493.4h0M215.4 804.8h0M566.4 489.6h0M532 501h0M307.9 784.2h0M239.5 798.4h0M535.4 503.6h0M377 730.3h0M238.4 802.4h0M384.2 721.6h0M286 793.7h0M348.8 761.3h0M439.6 618.4h0M547 493.2h0M502.3 507.8h0M252.5 800.7h0M376 727.5h0M381.7 717h0M575.9 495.9h0M223.5 803.3h0M389 703.3h0M546.6 489.8h0M345.3 761.2h0M291.8 791.2h0M406.7 646.1h0M314.6 779h0M551.5 494.9h0M222.7 801.9h0M270.3 792.5h0M222.4 803.7h0M467.5 547.5h0M304.1 786.7h0M541 498.2h0M538.5 496.2h0M555.2 500.1h0M289.6 792.7h0M189.9 808.7h0M340.9 762.2h0M565.4 485.5h0M487.8 509.3h0M212.9 802.2h0M463.9 539.2h0M547.6 487.5h0M567.4 488.4h0M469.1 528.3h0M526.5 502.5h0M518.2 499.5h0M329.5 777.3h0M228.3 803.8h0M473.6 562.4h0M243.1 798.2h0M339.6 765.9h0M578.4 502h0M408.2 656.4h0M393.3 681.6h0M559.7 494.3h0M300.5 789.1h0M579.8 495.8h0M545.7 489.1h0M331.7 775.2h0M317.4 783.9h0M239 798.7h0M547.1 503.6h0M262.2 796.2h0M193.1 801.7h0M537.1 494.3h0M423.1 618.6h0M451.9 574.8h0M475.8 524.2h0M206.3 802.9h0M225.5 803.1h0M384.8 714.9h0M209.2 803.2h0M386.5 702h0M477.1 511.8h0M446.3 580.8h0M430.4 640.2h0M207.7 804.7h0M282 793.5h0M540 488.3h0M237.7 799.1h0M397.8 682h0M209.2 804.8h0M556.3 488.5h0M256.6 796.5h0M349.7 758.9h0M403.1 684.6h0M470.2 538.3h0M555.6 493.5h0M477.1 527.5h0M325.2 775.1h0M219 802.1h0M465.8 574.6h0M569.3 493.9h0M196.3 805.8h0M492.1 518.5h0M258.4 799.2h0M369.2 731.3h0M393.7 706.7h0M429.5 647.6h0M575.9 490.6h0M458 603.2h0M342.8 764.1h0M468.8 552.8h0M371.8 730.7h0M350.9 761h0M332.4 773.7h0M382.2 709.9h0M299.4 792.3h0M284.1 792.7h0M247.6 798.7h0M361.5 755.9h0M304.1 785.5h0M516.4 501.9h0M520.6 503.2h0M323.9 780.9h0M431.3 605.2h0M541.9 496.3h0M329.8 778.6h0M406.2 689.8h0M362.8 745.2h0M443.5 609h0M564.3 493.2h0M243.7 801.4h0M566.5 490.3h0M449.5 579.1h0M500.3 521h0M437.6 640h0M529.4 499.7h0M317 779.9h0M466 547.7h0M292.7 791.3h0M388.2 707.6h0M455.7 549h0M268.1 791.2h0M213.5 804.2h0M498.4 504.2h0M505.4 498.9h0M449.5 591.4h0M315.1 782.8h0M446.6 600.7h0M222.4 802.8h0M448.3 582.3h0M414.6 630h0M430.6 641.3h0M364.1 743h0M277.5 793.8h0M473 500.5h0M370.8 739.5h0M480.6 518h0M331.8 772.3h0M223.9 801.5h0M401.4 696.2h0M432.7 634.9h0M549.5 489.9h0M536.2 489.4h0M211.9 803.3h0M490.9 513.6h0M291.7 791.3h0M461.8 567.1h0M337.8 770.1h0M315.4 784.5h0M380.2 714.8h0M396.7 679h0M460.7 550.4h0M438.6 633.2h0M454.4 598.7h0M339.6 765.6h0M454.1 578.9h0M324.5 778.4h0M426.8 632.5h0M369 742.3h0M409.3 643h0M196.5 803.4h0M384.3 715.1h0M275.5 796.4h0M340.2 767.2h0M218.4 803.3h0M446.1 573.5h0M538.4 489.1h0M328.1 780.2h0M230.6 802h0M431.8 630.7h0M239.2 802.4h0M537.7 500.8h0M237.4 799.9h0M330.9 774.4h0M382.7 725.2h0M235.6 801.5h0M314.1 781.9h0M297.1 791.9h0M468.1 560.9h0M574.7 487.1h0M331.3 771.4h0M498.3 518.7h0M244.4 802h0M416 670.9h0M358.6 757.3h0M302.1 788.4h0M510.4 507.1h0M481 529.4h0M241.9 805.1h0M303.8 791.7h0M509.6 511.1h0M577.1 489.8h0M428.4 606.5h0M529.9 505.5h0M573.9 491.9h0M478.7 514.4h0M441.3 605.7h0M276 795.2h0M334.2 769.9h0M433.1 630.8h0M551.3 492.5h0M307.5 784.2h0M343.9 765.5h0M198.3 804.7h0M461.6 565.4h0M362.8 740.3h0M501.1 516.1h0M280.8 794h0M447.1 570.5h0M452.4 573.5h0M370.9 729.9h0M263.3 799.8h0M346.9 760.6h0M480.5 531.8h0M263.5 798h0M224.8 803.4h0M370.3 726.9h0M281.2 791.5h0M502.2 518.4h0M508.7 511.4h0M558.7 492.5h0M517.5 504.1h0M442.4 581.8h0M262.6 799.8h0M510.9 512.9h0M473.9 521.4h0M481.2 531.8h0M461.9 553.1h0M513.7 500h0M305.9 781.2h0M452.1 577.7h0M391.6 705h0M321.5 783.8h0M317.2 781.2h0M250.3 796.4h0M381.5 717.9h0M333.6 770.5h0M354.2 754.2h0M522.1 492.6h0M455.7 552.9h0M455.2 586.3h0M573.8 497.5h0M274.7 798.1h0M387.9 716.4h0M225.7 800.9h0M343 763.3h0M560.6 483.2h0M223.2 801.8h0M485.4 546.8h0M527.5 503.2h0M388.3 703.6h0M501 503.4h0M361.8 751.2h0M327.6 775.6h0M387.1 708.1h0M265.7 799.9h0M309.7 783.6h0M308.8 784.7h0M575.5 496.4h0M320.5 781.9h0M279 790h0M556.5 485.3h0M243.7 795.1h0M566.7 498.5h0M522.7 502.9h0M442.2 592h0M356.6 755.1h0M266.6 797.4h0M231.1 804.6h0M230.1 796.8h0M325.9 775.1h0M348.6 759.8h0M550.2 492.3h0M399 674.8h0M576.4 496.5h0M471.1 549.2h0M246.7 800.3h0M405.7 678.3h0M251.8 798.8h0M204.9 805.5h0M558.1 486.4h0M321.5 779.8h0M263.6 795.2h0M229.4 802h0M444.2 615.3h0M369.7 730h0M194.2 807.2h0M468.8 558.8h0M289.8 794.6h0M494.3 528h0M380.4 717.9h0M398.7 714.2h0M368.1 734.8h0M453.5 594.3h0M576.1 490.8h0M501.1 517.2h0M216.6 803.5h0M382.8 720.4h0M281.1 794h0M229.6 799h0M265.8 797.7h0M286.5 791.2h0M564.3 489.5h0M480.4 551.6h0M522.6 505.7h0M462.4 563.7h0M312.9 784.9h0M342.3 765.3h0M361.7 757.1h0M304.2 785.3h0M354.2 753.6h0M490.7 517.5h0M219.2 805.3h0M297.6 789.2h0M376.6 727.9h0M453.6 551.3h0M441.8 597.7h0M472.7 533.5h0M230.7 801.8h0M260.2 793.6h0M310.2 789.3h0M299.6 790.5h0M484.6 506.5h0M577.4 502.5h0M456.3 564.6h0M202.5 806.3h0M305.8 785.7h0M503.1 511.1h0M550.5 495.4h0M421.9 669.2h0M325.8 778.7h0M328.3 776.8h0M436.9 577.3h0M527 497.9h0M322.7 781.9h0M264.1 794.1h0M190.7 802.6h0M243.3 796.5h0M521.9 491.3h0M433.5 648.9h0M576.4 489.7h0M216.7 800.1h0M332.5 774h0M500.3 521h0M447.8 616h0M215.7 803.8h0M346.3 757.7h0M438.6 624.1h0M458.1 584.1h0M366 738.2h0M263.1 795.2h0M566.7 485.2h0M371.7 741.3h0M469.7 559.5h0M398.4 686.8h0M221.1 804.9h0M282 793.4h0M214.2 798.5h0M264.1 793.1h0M267.8 794.6h0M351.6 763.5h0M315.2 783.7h0M331.2 773.6h0M508.5 507.7h0M198 804.2h0M230 794.2h0M505 506.6h0M398.1 705.9h0M361 746h0M294 791.2h0M401.3 679.2h0M276.1 794.8h0M524.7 495.3h0M511.3 502.7h0M315.3 785.2h0M199.2 804.1h0M536.2 493.5h0M306.2 787.5h0M446.1 581.5h0M524.6 495.1h0M501.3 520h0M526.3 496.8h0M380.6 706.3h0M518.4 493.5h0M369.7 737.3h0M292.6 788.9h0M377.4 729.4h0M320.6 783h0M489.1 509.1h0M514.3 501.7h0M244.7 798h0M253.8 797.9h0M339.4 767.6h0M370.5 736.5h0M563 490.3h0M557.3 488.6h0M567.1 493.4h0M474.5 525.8h0M454 612.8h0M295.2 792.1h0M335.1 768.6h0M190.7 800.5h0M514.8 501.9h0M297.4 789.5h0M220.6 804.9h0M312.8 782.5h0M315.8 780.7h0M472.3 555.6h0M191.9 803.1h0M279.4 792.8h0M539.6 492.9h0M523.4 505.1h0M435.2 636.5h0M407.8 688.6h0M276.5 790.8h0M531.3 496.3h0M486.6 525.1h0M389.9 697.4h0M252.5 795.4h0M273.9 796.4h0M337.7 765.2h0M318.9 782.7h0M213.5 802h0M348.3 757.4h0M364.8 753.5h0M301.7 785.5h0M339.7 768.4h0M319.4 780.8h0M336.7 772.3h0M431.3 616.8h0M383.8 719.4h0M266.8 798h0M500.1 516.8h0M390 711.6h0M368.6 729.1h0M468.1 550.2h0M483.3 557.7h0M521.1 501.9h0M506.3 499.1h0M450.8 580.2h0M471.1 550.1h0M251 798.8h0M462.6 545h0M289 791.6h0M290.3 789.3h0M236.5 798.6h0M344.6 765.4h0M197.4 808.3h0M446.1 568.7h0M481.7 522.3h0M492.4 517.1h0M239.9 798.9h0M439.9 606.2h0M516.9 506.5h0M203.7 804.2h0M265.1 796.8h0M294.2 791.4h0M370 742.9h0M256.8 798h0M400 703h0M323.9 780h0M445.4 607.3h0M397 705.5h0M457.5 594.6h0M285.8 792.7h0M465.7 564.6h0M476.4 567.4h0M471.5 546.2h0M216.3 804.3h0M559 490.2h0M414.8 700.2h0M295.9 788.3h0M359.1 752.8h0M391.7 710.7h0M391.8 692.5h0M286.4 793.1h0M293.1 789h0M331.6 775.5h0M494.5 510.1h0M360.4 741.9h0M204.7 800.8h0M366.2 737.4h0M268.2 793.5h0M194.5 803.1h0M571 490h0M304.3 784.9h0M399.5 683.7h0M329.5 776h0M210.5 802.6h0M541.3 483.2h0M554.9 492.7h0M262.4 797.1h0M352.8 756.5h0M335.5 771.8h0M254.9 796.9h0M447.9 584.3h0M494.9 531.5h0M486.2 515.3h0M453.2 586.3h0M196.5 803.6h0M279.3 793.3h0M390.5 697.7h0M464 536.5h0M340.5 766.9h0M365 746.2h0M517.8 507.4h0M198.8 805.6h0M294.5 789.6h0M302.8 792.1h0M577.2 494.5h0M278.5 793.7h0M208 801.8h0M352.2 755.7h0M443.2 597.9h0M249.5 800h0M517.4 503.6h0M266.3 799.6h0M464.6 575.9h0M252.8 794.2h0M533.8 495.6h0M268.2 794.6h0M475.1 551.6h0M517 495.7h0M289.2 793.1h0M225.9 799.6h0M418.4 620.6h0M384.4 716h0M376.7 718h0M494.7 515.7h0M370.4 733.6h0M383.7 712h0M379.8 721.1h0M367.1 741.1h0M348 761.9h0M252.4 798.8h0M304.9 786.4h0M293 791.3h0M286.5 795.3h0M495.2 524.4h0M234.1 801.5h0M269.8 795.5h0M395.1 697h0M311.6 788.4h0M283.4 792.4h0M335.4 775.9h0M385.6 718.5h0M452.9 585.7h0M569.2 504.2h0M522.5 508.5h0M357.5 749.9h0M365.9 740.9h0M351.9 757.9h0M282.9 794.8h0M561.2 482.2h0M216.4 802.9h0M269.6 797.5h0M448.1 552.9h0M419.8 660.8h0M298.4 789.3h0M555.4 487h0M349.5 758.4h0M422.4 611.4h0M225.2 801h0M537.4 500.2h0M229.8 799h0M343.5 765.1h0M535.3 500.6h0M558.5 496.1h0M542.5 489.7h0M512.7 504.8h0M280.7 793.3h0M202.1 802.2h0M366 738.3h0M214.3 806h0M564.6 489.7h0M192.8 802.2h0M316.7 779.7h0M269 792.1h0M195 803.3h0M384.5 710.5h0M219.3 798.6h0M541 496.3h0M458.1 536.4h0M334.1 769.5h0M518.2 497.9h0M500.7 496.7h0M317.1 780.2h0M520.4 504.8h0M552.5 487.7h0M431.6 661.4h0M327 775.9h0M541.2 493.9h0M557.7 486.2h0M325.2 776.4h0M223.3 803.4h0M528.4 495.7h0M449.2 578.8h0M280.2 795.3h0M410.9 641.6h0M309.9 786h0M548.5 496.3h0M323.2 777.8h0M266.2 793.9h0M206.5 799.2h0M323.3 776h0M575.9 489.8h0M274.9 792h0M368.4 728h0M569.1 495.1h0M192.2 802.8h0M304.8 786.7h0M510.2 505.7h0M227 802.4h0M552 495.5h0M515.4 503.9h0M245.5 801.8h0M420.9 617h0M406.5 664.5h0M460.4 549.6h0M309.4 784.5h0M339.6 766.9h0M283.6 794.3h0M303.6 787.4h0M258.2 800.8h0M542.7 505h0M536.1 505h0M330.2 771.4h0M460.3 591.9h0M381 713.8h0M299.2 785.2h0M326.1 779.7h0M566.4 485.1h0M322.9 775.1h0M415.5 638.4h0M558.6 481.2h0M305.8 784.9h0M505.4 513.9h0M234.2 799.2h0M475.9 545.2h0M504.5 516.9h0M516.6 508.5h0M570.3 482.6h0M467.2 563.9h0M571.1 493.5h0M298.3 790.1h0M393.2 706.8h0M273.2 795.3h0M222.2 802.7h0M361 752.1h0M470.6 547.2h0M493.5 527.6h0M196.3 803.4h0M557.5 482.7h0M286.1 789.6h0M303.7 782.8h0M514.6 500.1h0M538.7 495.6h0M477.1 575.4h0M319.6 780.1h0M370.3 745.7h0M515.4 504h0M329.1 772h0M504 504.2h0M494.9 498.8h0M372.6 734.7h0M539.6 501.3h0M339.7 769.4h0M482.4 535.3h0M439.4 566.7h0M318.9 776.3h0M397.2 701.3h0M426.2 672.2h0M399.2 689.1h0M232.8 801.3h0M576.7 500.7h0M567 492.3h0M204.3 802.7h0M558.3 490.7h0M397.1 697.6h0M238.7 799.9h0M510 513h0M358.7 745.3h0M468 556h0M512.6 505h0M399.7 697.9h0M209 804.3h0M510.7 508.9h0M460.6 579.4h0M544.9 485.5h0M295.1 789.4h0M496.1 511.6h0M530.5 487.4h0M328.2 776.4h0M349.8 756.9h0M320 779.6h0M191.9 801.6h0M280 792.3h0M319.1 780.2h0M231.9 801.3h0M488.5 518.1h0M356.3 749.2h0M411.5 702.6h0M300.7 788h0M330.3 776.3h0M483.7 547h0M373 742.1h0M422.5 664h0M354.6 757.3h0M407.1 663.7h0M539.9 497.2h0M294 793.8h0M392.3 689.8h0M457.9 569.6h0M223.5 803.8h0M565.2 494.2h0M384.3 712.4h0M285.4 792.3h0M486.5 520h0M508 496.5h0M435.8 627.4h0M547.3 499.4h0M224.3 802.9h0M395.6 703.6h0M479.6 533h0M547.5 496.3h0M440 592.9h0M424.8 612.6h0M341.2 765.8h0M412.8 676.2h0M406.2 684h0M542.9 495.2h0M512.5 497.3h0M477.4 533h0M550.3 487.6h0M215.5 809.4h0M490.1 522.5h0M370.6 727h0M483.1 490.6h0M305.2 786.3h0M372.1 739.2h0M511.5 501.7h0M203.4 804.8h0M303.3 791.2h0M380.3 722.6h0M522 494.1h0M295 787.5h0M510.9 500.5h0M285.1 795h0M308 779.9h0M405.8 675h0M444.9 586.4h0M533.2 503.1h0M533 490.4h0M287.3 790.9h0M480.7 529.4h0M437.5 569.6h0M340.4 767.8h0M492.6 512.6h0M540 504h0M376.7 719.6h0M547.3 489.3h0M239.4 800.4h0M254.5 797.6h0M488 512.8h0M308.9 781.7h0M418.1 659.6h0M383.7 711.9h0M246.5 799.9h0M484.1 559.8h0M479.1 533.4h0M246.3 798.7h0M291 791.6h0M502.2 505.2h0M545.8 490.3h0M529.3 495h0M385.5 710.4h0M333.1 770.6h0M363.4 740.8h0M258.5 797.1h0M383.3 712.2h0M279.8 797.5h0M252.8 795h0M338.2 771.2h0M214.6 800.8h0M373.2 728.3h0M461.4 569.4h0M443.9 612.6h0M570.4 497.5h0M535.4 490.1h0M437 610.9h0M540 494.1h0M363.1 744.1h0M501.5 500.5h0M300.7 786.8h0M395.2 694.6h0M572.2 501.5h0M423.4 657.2h0M387.5 707.4h0M497 500.7h0M311.6 783.3h0M514.1 503.5h0M196.9 801.2h0M282.6 793.2h0M258.8 796.9h0M290.1 790.9h0M558.8 499.4h0M199 801.6h0M306.3 784.5h0M413.9 658.2h0M464.1 571.9h0M491.7 536.1h0M339.3 764.7h0M275.6 795.6h0M522.4 504.9h0M237.3 799.2h0M215 806.1h0" stroke="#e02a2c" stroke-width="5.4" stroke-linecap="round" fill="none"/>
<path d="M373.9 709.8h0M448 565.9h0M304.9 770.4h0M341.5 753.7h0M410.6 645.7h0M307.9 772.8h0M246.6 785.8h0M544.3 466.6h0M237.5 790.3h0M574.9 484.8h0M519.3 495.9h0M364.1 723.3h0M525.6 471.4h0M214.7 792.7h0M409.2 679.1h0M327.7 761.4h0M307 770.4h0M538.9 499.7h0M204.6 794h0M526.2 489h0M220.4 796.3h0M454.1 531.2h0M301.1 772.8h0M395.3 668.4h0M550.9 492.1h0M500.9 507.4h0M228.3 790.7h0M308.8 770.2h0M380.1 711.6h0M469.5 503.4h0M191.8 794.6h0M526.9 507.5h0M518.3 475.4h0M562.9 480.7h0M268.7 782.5h0M272.9 780h0M514.8 509.5h0M390.6 686.4h0M285.4 783.9h0M196.3 797.5h0M274.2 776.7h0M453.2 561.5h0M475.7 517h0M327.9 764.9h0M547.9 474.5h0M388.6 690.8h0M391.7 685h0M343.7 750h0M347.1 752.6h0M329.8 760h0M511.6 513h0M361.5 722.2h0M279.9 782.9h0M359.6 736.4h0M551 488.6h0M439.1 564.9h0M230.6 786.8h0M353.3 741.2h0M371.8 712.6h0M195.1 793.9h0M565 483.2h0M547.3 500.7h0M229.3 794.8h0M405.2 658.3h0M311.6 771h0M272.3 781h0M296.7 775.6h0M210.5 792.1h0M458.3 544.9h0M332.8 762.2h0M462.8 562.3h0M507.9 513.6h0M413.2 630.3h0M323.8 763.6h0M244.3 789.3h0M443.9 577.3h0M453 550.9h0M494.6 487.6h0M243.4 787.9h0M207.6 792.7h0M532.8 475.9h0M426.4 640.6h0M226.4 791.7h0M466.4 520.7h0M211.6 794.3h0M436.4 569.2h0M406.2 664.8h0M468.9 543.8h0M226.3 791.9h0M544.3 476.1h0M556.7 476.2h0M574 489.3h0M488.7 511.5h0M311.3 773.9h0M571.6 484.4h0M429.4 625.4h0M470.1 504.5h0M447.8 556.6h0M270.3 779h0M522.7 494.8h0M442.1 601.1h0M275.9 776.8h0M337.2 755.3h0M245.7 788.1h0M358.6 732.4h0M575.9 478.4h0M339.4 752.5h0M344 752h0M503.1 501.4h0M221.9 789.7h0M236.4 783.7h0M480.8 516.6h0M240.5 788.8h0M428.3 638.8h0M508.5 507.4h0M409.4 661.6h0M220.9 791.5h0M270.2 778.4h0M400.6 677.4h0M562.1 472.5h0M444.9 535.6h0M461.7 535h0M422.1 641h0M316.9 767.7h0M426.9 582h0M193.4 795.1h0M351.3 746.4h0M506.6 497.5h0M269.4 780.9h0M442.8 605.4h0M470.9 513.4h0M250.7 784.3h0M524.5 477.8h0M284.8 779.3h0M565.4 490.3h0M324.1 763.1h0M428.4 589.9h0M560 481.1h0M509.7 490.4h0M379.3 702.3h0M265.5 782h0M429.6 630.4h0M419.1 656.6h0M214.6 792.9h0M338.9 757.3h0M549.1 464.7h0M394.9 677h0M260.3 785.3h0M441 579.5h0M366.8 726h0M546.4 490h0M380.9 715.6h0M199.8 792.4h0M252.6 782.8h0M258.1 783h0M561 485.8h0M329.9 761.4h0M325.8 763.3h0M570.7 493.5h0M270.1 781.9h0M432.4 617.9h0M559.6 475.7h0M544.9 481.4h0M252.2 788.1h0M373.5 718h0M288 773.2h0M462.9 545.5h0M285.7 777.5h0M258.7 785.1h0M295.8 772.6h0M240.7 787.3h0M469.3 536.2h0M298.7 777.7h0M345.8 750.9h0M297.1 773.4h0M338.1 754.2h0M308.8 774.9h0M327.6 759.7h0M466.4 526.9h0M257.5 786.2h0M457.7 549.8h0M325.2 766.4h0M226.2 790.8h0M236.4 789.3h0M541.2 485.1h0M206 794.6h0M297.5 779.3h0M526.7 482.9h0M220.6 792.1h0M272 777.6h0M294.6 774.3h0M515.9 486.3h0M234.8 787.5h0M558.8 470.3h0M236.4 788.6h0M410.4 672.4h0M491.5 490.3h0M407.7 669h0M387.7 695.2h0M360.4 730.2h0M288.3 778.4h0M577.1 474.8h0M347.3 747.6h0M439.3 583h0M417 650.1h0M565.1 472.9h0M284.9 779.7h0M250.1 786.3h0M540.6 477.9h0M388.3 689.2h0M439.9 569.7h0M433.7 584.2h0M495 521h0M516.7 485.8h0M463.5 538.8h0M191.6 796h0M516.5 478.2h0M206.2 788.9h0M524.5 495h0M190.1 797.2h0M492 524.3h0M439 593.1h0M199.8 792.3h0M483.9 507.1h0M415.9 659.3h0M236.9 789.5h0M531.9 499.7h0M420.4 633.8h0M370.2 728.5h0M558.7 496.6h0M268.9 781.2h0M258.5 782.5h0M538 479.7h0M252.3 784.8h0M508.8 501h0M271.6 781h0M507.4 490.7h0M348.9 747.8h0M430.6 594.3h0M426.7 619.4h0M343.7 753.8h0M392 696h0M443.1 634.8h0M242.9 783.9h0M547.2 497.9h0M511.1 490.3h0M270.9 784h0M277.6 775.9h0M343.7 749.6h0M490.9 516.1h0M391.4 689.2h0M312.6 773.4h0M489.6 510.7h0M266 780.7h0M466.2 508.2h0M483.8 538.7h0M229.4 786.2h0M412.1 648.8h0M421.5 643.9h0M568.8 475.9h0M306.3 771.2h0M369.2 716h0M555 484.3h0M240.6 787h0M539.8 483.8h0M332.3 758.1h0M323.7 769.2h0M578.1 491.2h0M342 756.7h0M286.2 780.2h0M270.6 783.1h0M461.2 535.3h0M437.9 558.6h0M282.9 775.1h0M382.9 706.7h0M301.5 773.7h0M516.5 501.9h0M329.3 762.4h0M430 606.1h0M546.3 478.3h0M282.8 776.5h0M561.4 483.7h0M379.1 716.7h0M439.6 608.5h0M295.8 775.8h0M460.7 522.6h0M472.2 514.9h0M420.8 641.2h0M526.4 487.6h0M373.7 712.3h0M195.5 792.3h0M546.2 484.2h0M411.3 653.3h0M429.7 609.3h0M423.3 636.6h0M205.7 792.5h0M301.9 777.8h0M224.7 790.1h0M443.3 580.9h0M523.3 507.6h0M447.5 572.6h0M507.2 496.5h0M319.5 766.4h0M201.9 790.4h0M349.5 744.6h0M255.5 779.6h0M308.8 773.1h0M282.9 776.5h0M260.2 786.2h0M458.1 542.6h0M422.9 630.6h0M510.8 495.9h0M573.9 479.4h0M282.4 783.3h0M555.8 481.3h0M489.3 521.9h0M409.4 654.7h0M569.3 480.1h0M389.7 691.8h0M200.7 795h0M238.4 790.1h0M311.7 769.4h0M461.5 558.3h0M410.7 643.8h0M456.3 559.6h0M196.9 791.3h0M286.4 780.6h0M406.2 649h0M445.1 610h0M358.3 732.2h0M274.8 780.4h0M310.6 769.5h0M486.7 503.9h0M469.8 511h0M286.2 776.3h0M560.7 476.2h0M206.8 789h0M281.1 780.6h0M360.7 725.4h0M503.6 502h0M410.3 653.9h0M453.3 557.1h0M561 484.1h0M332.9 756.6h0M260.5 784.5h0M349.5 746.6h0M409.6 634.3h0M242.1 791.3h0M204.7 792.2h0M473 523.5h0M575.6 472.8h0M553.2 467.5h0M336.5 757.1h0M366.9 730.4h0M513.2 492.2h0M574.1 483.3h0M328.7 761h0M561.2 485h0M462.4 565.9h0M247.1 786.1h0M365.5 732.3h0M190.8 791.7h0M348.7 749.1h0M393.8 685.4h0M501.2 497.2h0M318.7 770.8h0M443.2 577.9h0M448.5 569.6h0M394.2 693.2h0M429 642.8h0M369.2 714.4h0M428 591.2h0M369.5 727.3h0M545.6 487.3h0M233.7 786.6h0M526.9 494.6h0M480.5 508.7h0M194 795.3h0M470.3 535.1h0M331.2 762.7h0M387.6 694.2h0M391.7 690.9h0M476.6 526.8h0M379.5 711.5h0M437.8 584.6h0M275.2 780.3h0M217.2 792.2h0M450.5 550.4h0M575.5 486.4h0M219.9 790.9h0M545.2 484.7h0M339.7 756.1h0M444.7 599h0M293.5 777.9h0M459.5 546.8h0M359.8 737.2h0M500 510.8h0M297.8 776.2h0M319.6 766.1h0M433.8 560h0M230.8 791.4h0M570.3 479h0M426.7 622.2h0M569.2 487h0M259.2 782.4h0M466.4 545.4h0M268.3 779.5h0M222 790h0M362.6 735.1h0M373.6 705.4h0M407.5 650h0M371.7 710.4h0M266 785.6h0M455.9 557.3h0M293.5 777.8h0M302.9 772.3h0M494.6 492h0M455.8 576.4h0M473.5 517.5h0M549.5 484.2h0M522.5 480.6h0M275.3 780h0M570.7 495.1h0M392.6 681.3h0M407.7 664.2h0M298.4 776.9h0M340.9 755.4h0M407.2 654.3h0M202.7 793.1h0M470.8 535.5h0M325.8 759h0M459.8 523.2h0M475.4 506h0M431.1 588.5h0M218.8 796.3h0M409.5 662.6h0M328 763.9h0M468.6 504.2h0M467.2 515.9h0M385.8 700h0M475.1 502h0M245.6 783.2h0M508.2 495.8h0M568 472.6h0M541.2 481.7h0M506.6 503.1h0M347.8 752.8h0M553.7 483.6h0M409.1 644.3h0M273.6 783.7h0M401.4 672.8h0M521.8 485h0M454.3 594.2h0M514.8 475.6h0M203.3 795h0M568.3 477.1h0M549.8 466.1h0M385.9 705.2h0M550.1 492.5h0M260.6 777.7h0M332.2 761.1h0M255.6 784.5h0M451.1 573.3h0M547.8 473.7h0M553.3 470.6h0M220.8 790.7h0M489.6 504.5h0M407.8 655.5h0M275.9 778.7h0M539 473h0M396 685.7h0M206 789h0M336.4 760.7h0M456 543.8h0M521.8 474.2h0M267.3 778.4h0M420.7 628.3h0M223.4 792.7h0M545.6 490.3h0M193.4 795.6h0M568.7 481.1h0M410.3 658.2h0M483.2 530.3h0M450.9 571.3h0M387 691.5h0M360.7 730h0M270.8 784.2h0M301.5 775.2h0M226.4 793.9h0M294.3 777.8h0M445 528.9h0M405 645h0M411.2 685.2h0M396.1 662.8h0M558.8 493.2h0M521.5 507.1h0M292.7 776.8h0M407 645.5h0M567.9 470.2h0M294.1 779.9h0M463.4 537.2h0M442.5 576.9h0M451 571.4h0M406.8 669h0M478.8 529.1h0M336.2 757.9h0M555.4 469.2h0M411 671.5h0M321.6 765.5h0M439.1 628h0M457.2 560.9h0M548.5 473h0M437.9 586.7h0M393.6 655.8h0M327.5 761.9h0M355.8 736.7h0M301.5 778h0M431.7 636.8h0M525.9 495h0M421 631.8h0M268.9 778.9h0M203.8 793.2h0M532.4 475.3h0M304.9 775.8h0M458.5 539.2h0M558.7 491.2h0M556.6 481.8h0M406.2 664.1h0M546.1 485.4h0M346.8 752.7h0M556.8 483h0M454.6 583.1h0M221 789.2h0M506.7 495.7h0M252.3 781.9h0M578.9 484.9h0M208.9 797.4h0M485.2 501.8h0M249.2 788.9h0M400.5 682.8h0M334.9 756.2h0M531.3 487.1h0M296.6 774.1h0M470.7 537.1h0M556.7 502.6h0M214.7 793.3h0M468.4 551.4h0M222.4 794.4h0M493.7 514.6h0M524.2 486.5h0M244 785.1h0M534.8 472.1h0M360.7 728.5h0M310 772.9h0M566.6 482.3h0M339.6 753.6h0M271.5 783.6h0M318.3 765h0M542.8 476h0M573.8 487.1h0M367.3 726.2h0M382.4 679.9h0M423.1 599.2h0M517.4 483.1h0M193.2 791.1h0M500.2 488.9h0M569.3 482h0M347.9 746.2h0M360.5 738.7h0M563.5 476h0M348.5 751.6h0M336.7 757.2h0M525.1 483.8h0M374.4 722h0M442.2 558.2h0M301.4 777h0M455.1 539.2h0M333.2 760.7h0M495.5 494h0M381.9 706.7h0M548.5 460.7h0M403.3 665.2h0M524.4 472.7h0M361.6 727.4h0M450.9 561.6h0M293.9 776h0M418.5 674h0M448.5 555.7h0M264.2 781.7h0M401.9 681.9h0M549.4 495.3h0M268.4 782.2h0M380.2 701h0M516.5 496.4h0M356 738.5h0M201.3 794.5h0M394.8 714.7h0M370.1 724.4h0M551.8 489.3h0M448.8 612h0M492.7 504h0M333.3 757.5h0M539.5 494.6h0M513 511.6h0M225.2 788.4h0M447.6 589.4h0M542.7 485.3h0M443.5 554h0M568.8 470.7h0M291.5 774.8h0M419.1 632.8h0M397.9 681.3h0M304.9 770.7h0M494.6 507.1h0M358 741.2h0M443.2 599.8h0M495 477.2h0M473.5 497.3h0M228.8 791h0M211.2 789.9h0M509.9 496.4h0M443.5 560h0M247.5 786.4h0M240.4 784.8h0M383.9 701.9h0M259.1 784h0M552.9 482.5h0M277 779.2h0M558 487.3h0M469.1 540.1h0M406.6 651.6h0M451.6 580h0M459.8 564.3h0M301 780.1h0M380.2 719.4h0M215.5 793.1h0M208.3 789.7h0M558 496.7h0M521.7 492.3h0M483.8 552.4h0M230.2 786.3h0M433.1 567.8h0M468.8 545.2h0M357.7 729.3h0M337.2 754.3h0M473.2 513.7h0M193.6 797h0M373.3 724.3h0M289.8 779.6h0M362.9 739.4h0M405.4 647.3h0M353.8 741.8h0M531.9 485.1h0M533.9 484.1h0M486.1 482.1h0M499.8 509.3h0M385.1 690.8h0M295.4 774.2h0M508.1 495.9h0M235.1 792.6h0M421.6 608.6h0M436.9 582.5h0M232.2 789.8h0M269.4 780.3h0M452 562.6h0M524.4 478.6h0M342.2 753.4h0M397 701.8h0M466.1 527.5h0M416.7 664.7h0M370.3 716.1h0M438.7 591.5h0M466.8 523.9h0M502.3 504h0M408.7 675.4h0M447.6 568.8h0M265.9 779.2h0M252.7 785.9h0M505.7 507.8h0M276.9 780.4h0M360.2 733.9h0M535.1 487.1h0M246.9 785.1h0M454.6 577.4h0M286.6 773.7h0M434 591.1h0M508.4 503.8h0M509.9 481.8h0M493.2 521.5h0M391.8 675.4h0M401.8 681.5h0M256.7 779.9h0M235.2 787.9h0M481.6 540.3h0M210 790.5h0M553.8 485h0M262.2 784.8h0M470.7 517.5h0M364.4 739.3h0M428.8 622.3h0M485 505h0M305.2 773.7h0M511.8 480.8h0M484.5 512.9h0M416.2 666.5h0M413.8 662.6h0M339.6 756.4h0M568 473.1h0M340.9 756.1h0M283.7 780.5h0M407.6 630.6h0M549.2 482.3h0M551.1 482.7h0M415.3 612.9h0M342.7 754.9h0M481.3 510h0M407.9 674.8h0M510.8 497h0M514.9 486.6h0M463.8 499.9h0M569.4 494.8h0M442.9 608.1h0M570.2 476.7h0M444.1 576.7h0M274.9 774h0M434.6 574.6h0M489.4 516.4h0M354.8 740.8h0M255.1 789h0M326.9 760.1h0M494.7 498.7h0M270.7 781.8h0M194.1 793.9h0M532.8 481.5h0M569 465.5h0M528.8 493h0M502.4 511.7h0M474.5 540.5h0M404.9 646.5h0M444.1 594.9h0M481 524.8h0M317.9 766.6h0M269.8 782.1h0M460.5 546.8h0M425.2 598.2h0M576.3 487.9h0M351.5 742.8h0M351.3 741.6h0M237.3 790.7h0M195.4 797.4h0M244 780.3h0M420.7 636.6h0M565.9 492.1h0M233.8 788.9h0M252.1 786.1h0M455.8 565.3h0M307.6 773.4h0M207.4 793.3h0M536.2 485.4h0M247.8 784.2h0M360 744.5h0M484.2 525.1h0M494.1 492.1h0M562.8 486.1h0M420.9 645.2h0M247.4 785.1h0M221 794.3h0M440.7 551.1h0M398.6 692.1h0M286.9 777h0M254 781.5h0M326.4 759.3h0M302 774h0M328 762.6h0M326.8 764.6h0M483.4 498.8h0M369.8 734.2h0M520.6 493.8h0M385.6 693.5h0M303 772.2h0M550.4 489.7h0M443.9 567.9h0M518.7 480.4h0M280.6 778.8h0M569.6 485.5h0M437.5 576.9h0M335.9 758.2h0M287.6 774.7h0M228.2 785.8h0M202.5 795.2h0M266.1 784h0M310.6 773.7h0M396.8 659.1h0M345 751.6h0M207.4 792.3h0M246 785h0M196.8 793.9h0M205.4 793.5h0M305.7 775.1h0M438.9 571.8h0M249.5 785h0M534.6 482.2h0M575.1 488.7h0M429.7 603.5h0M208.5 789.6h0M260.5 783.9h0M389.1 689.3h0M554.6 484.9h0M573 492.4h0M477.3 530.7h0M537.2 490.2h0M227.5 791.6h0M387.6 690.3h0M376.3 717.3h0M274.2 781.2h0M409.8 635h0M409.4 673.9h0M568.9 479.7h0M215.8 789.6h0M306.4 776.3h0M256.4 784.7h0M276.7 782.5h0M313.9 766.8h0M333.6 759.3h0M563.4 477.5h0M317.8 764h0M378.5 710.3h0M254.4 784.2h0M275.7 778.8h0M274.2 781.2h0M411.7 633.7h0M307 770.6h0M298.1 772.7h0M394 673.8h0M196 795.3h0M526.7 491.1h0M209.7 793.5h0M350.2 749.7h0M575.5 481.9h0M255.2 782.1h0M207.2 792.9h0M379.3 708.6h0M435.8 577.3h0M338.9 755.7h0M275.6 778.7h0M459.4 548h0M419.9 635.3h0M325.1 763.8h0M430 597.9h0M517.6 490.9h0M390.6 691.6h0M341 757.1h0M430 615.7h0M386.8 692.4h0M228.2 786h0M542.2 489.8h0M238.1 786.2h0M479.5 516.1h0M358.8 730.4h0M495.5 503.6h0M393.8 647.1h0M510 486.3h0M373.1 721.8h0M286.1 777.4h0M490.4 515.3h0M512.7 510.5h0M385.8 702.7h0M552.3 496.2h0M465.8 534.2h0M553.7 473.4h0M265.9 782.8h0M558 483.2h0M489.3 517.6h0M557.7 484.3h0M326.3 764h0M406.7 678.1h0M538.8 489.3h0M452.1 574.1h0M302.5 774.9h0M302.5 771.8h0M559.1 485.7h0M451.7 603.5h0M210.3 793.2h0M290.6 773.6h0M407 671.1h0M263.6 784.3h0M371.5 715.4h0M450.3 566.4h0M222.5 790.4h0M288.7 772.1h0M533.5 485.6h0M205.6 792.7h0M233.2 789.9h0M509.7 479.9h0M453.7 551.8h0M373.7 712.1h0M525 502.8h0M271 779.8h0M191.8 796.7h0M506.7 488.2h0M438.6 573.2h0M321.1 769.1h0M415.8 665.5h0M221.4 788.7h0M311.7 770.5h0M411.6 649.2h0M519.3 499.7h0M313.2 772.1h0M213.4 795.2h0M224 787.7h0M309.2 771.1h0M434.1 623.5h0M464.9 532.8h0M460.9 541.8h0M531.2 515.8h0M455.8 539.4h0M451.4 582.2h0M421.5 623.5h0M449.8 561.9h0M474.8 519.2h0M570.7 487.2h0M259.7 785.5h0M440.7 589.8h0M238.2 788.1h0M270.1 782.2h0M551.4 480.9h0M347.6 747.6h0M411 660h0M272.3 780.3h0M388.7 702.2h0M199.1 790.9h0M416.4 642.1h0M562.1 482.9h0M457.9 565h0M449.4 564h0M406.2 652.2h0M314.7 767.2h0M491.7 527.9h0M341.3 754.2h0M321 767h0M403.3 659.8h0M570.2 488.7h0M476.2 526.5h0M453 576h0M239.6 788.1h0M505.1 502.8h0M354.7 741.2h0M435 590.6h0M408.6 671.5h0M496.3 494h0M202.1 793.6h0M227.7 788.3h0M299.4 771.8h0M268.7 783.7h0M455.7 579.4h0M235.2 789.2h0M225.7 788.3h0M396.5 668.6h0M215.5 792.2h0M499.7 518.2h0M318.3 764.5h0M307.7 773.9h0M422.8 608.1h0M570.7 474.4h0M300.1 774.2h0M277.8 775h0M333.4 756.3h0M493.8 491.9h0M554 480.2h0M249.8 783.6h0M201.3 797.1h0M309 771.4h0M314.8 769.4h0M481.4 521.1h0M455.3 543.6h0M481.3 534.1h0M343 750h0M356.9 734.3h0M557.3 493.4h0M208.5 792.4h0M198 790.9h0M196.2 794h0M508.5 504.3h0M391.8 699.8h0M460.9 504.5h0M444.8 556.6h0M507 503.7h0M396.5 660.2h0M317.9 770.8h0M233.4 789.3h0M350.1 745.5h0M265.8 782.2h0M551.2 488.8h0M487.5 489.5h0M300.7 774.4h0M389.3 690.9h0M372.9 709.4h0M425.6 622.1h0M559.3 483.9h0M297.2 772.8h0M429.4 615.4h0M386.5 692.6h0M562.3 473.2h0M274.8 778.6h0M442.5 589.4h0M225.1 790.2h0M401.9 688.1h0M564.3 483.5h0M470.5 520.7h0M201.9 791.9h0M573.7 483.8h0M400.3 676.9h0M415.9 657.8h0M558.7 482.5h0M417.9 664h0M275.8 776.8h0M357.2 737h0M482.1 519h0M344.4 752.1h0M255.4 785.3h0M341.5 755.4h0M229.9 794.6h0M228.6 793.1h0M237 790.9h0M388.5 688.5h0M315.1 769.4h0M259.8 783.5h0M478 521.8h0M428.4 621.5h0M509.7 484.8h0M252.4 783.8h0M431.8 605.2h0M292.4 772.7h0M382.9 707.3h0M363.8 732.4h0M417.3 642.2h0M412.3 633.1h0M548.2 485.1h0M433.4 627.7h0M326.9 765.3h0M499.8 495.4h0M252.6 778.3h0M492.3 486.8h0M414.8 661.9h0M291.2 779.3h0M483.4 508.8h0M234.2 791h0M203.5 793.1h0M295.7 774.6h0M386.7 700.7h0M435.9 567.4h0M312.3 771.6h0M415.6 657.6h0M572.4 471.6h0M579.4 481.8h0M471.1 546.7h0M307.6 774.5h0M375.7 710.4h0M505 489h0M536 478h0M561 469.3h0M341 753.8h0M321.6 768.7h0M320.8 762.5h0M496.1 486h0M563.3 475.2h0M409.5 637.1h0M362.6 738.5h0M449.7 562.9h0M354.2 742.9h0M412.2 646.5h0M263 785.3h0M228.3 790.3h0M347.9 744.2h0M294.4 774.4h0M249 786.4h0M566.3 466.5h0M461.5 559.5h0M341.2 752h0M576.8 488h0M231.4 787.7h0M325.8 765.4h0M534.7 493.1h0M567.6 481.3h0M499.1 512.3h0M262.3 781.5h0M410.8 653.8h0M217.4 789.2h0M214.4 792.9h0M526.6 494.6h0M190.6 795.1h0M227.5 787.1h0M230.9 793.7h0M467.4 520.3h0M435 566.3h0M273.9 783.6h0M349.8 747.3h0M561.1 476.6h0M271.8 782.7h0M216.1 793.4h0M442.1 575.2h0M231.8 791.1h0M406.8 651.9h0M289.2 782.3h0M202.3 796.6h0M446.7 576.9h0M483.1 492.4h0M312.3 768.1h0M251.4 788.2h0M570.9 466.9h0M285.2 776.5h0M285.8 778.4h0M332.5 758.9h0M283.3 777.5h0M285.6 779.7h0M550.5 498.1h0M221.6 793h0M515.4 492.1h0M398.4 698.5h0M203.4 795.5h0M248.6 783.2h0M445.6 596.2h0M408.3 674.7h0M284.1 779.3h0M303.4 773.5h0M551.6 492.4h0M477.4 513.2h0M448 575h0M550.4 498.1h0M280.1 778.9h0M318.3 768.2h0M516.9 484.9h0M361.5 729.9h0M364 733.1h0M505.5 501.5h0M579.8 508.5h0M536.1 495.5h0M490.7 492.7h0M363.9 721.2h0M465.3 546h0M277.7 778.7h0M288.7 776h0M269.4 780.1h0M455.8 592.4h0M559.7 489.8h0M484.6 505.5h0M293.7 772.7h0M447.4 581.9h0M326.5 765.4h0M511.3 497.1h0M379.1 708h0M287.1 780.2h0M303.1 778.2h0M223 790h0M330.7 763.5h0M322.1 766.7h0M368.5 713.3h0M446.3 580.5h0M552.1 488.9h0M508.7 490.5h0M413.6 683.4h0M330.7 758.1h0M256.2 783.4h0M420.4 647.3h0M214.6 790.5h0M210.5 789.2h0M440.4 567.2h0M253.8 786.9h0M520.9 471.8h0M451.1 559.2h0M394.4 672.7h0M555.1 488.3h0M241.1 786.1h0M310.6 772.3h0M387.9 690.7h0M566.5 485.4h0M220.4 792.6h0M424.6 597.7h0M548.6 480.2h0M246.2 790.6h0M464.5 557.1h0M459.3 552.9h0M330.3 765h0M398.7 682.3h0M554.8 486.6h0M372.3 718.7h0M367.8 726.9h0M409.9 672.7h0M202.1 795.5h0M505.7 489.6h0M209.6 795.8h0M571.7 479h0M568.5 479.7h0M509.2 499.2h0M539.2 482.5h0M429.9 636.9h0M309 772.9h0M425.3 608.6h0M454.6 538.6h0M244.9 783.1h0M492.1 507.5h0M308.2 769.3h0M389.7 702.9h0M293.7 778.1h0M299.8 777.2h0M531.8 472.2h0M490.3 506.3h0M214.1 790.5h0M490.7 525.4h0M550.7 482.1h0M464.4 531.8h0M459.9 548.1h0M292.7 782.9h0M462.5 568.1h0M337.6 755.4h0M549.9 471.5h0M464.6 544.1h0M315.6 773.5h0M534.6 487.8h0M491.8 500h0M268.1 783.4h0M273.5 779.3h0M194.7 796.3h0M490.2 501.8h0M223.2 788.2h0M297.1 776.8h0M477.1 484.8h0M309 771.1h0M301.2 773.7h0M215.5 793.4h0M209.3 792.8h0M412.9 660.3h0M243.7 789.8h0M565.9 496.5h0M199.7 793.5h0M312.9 771.1h0M261.4 789.1h0M540.6 503.7h0M482.7 519.2h0M233.1 789h0M211.3 790.9h0M222.1 793.5h0M478.3 521.4h0M481.4 530.8h0M436.6 616.4h0M380.6 703.3h0M370.4 714h0M422.1 629.7h0M232 786.6h0M499.8 505.9h0M493.2 506h0M455.4 556.1h0M281.6 780h0M273.4 781.2h0M572.3 488.5h0M559.9 476h0M481.7 512.9h0M496.2 494.8h0M368.5 721.3h0M532 477.5h0M459.2 549.4h0M360.5 726.7h0M455.6 554.1h0M220.7 789.3h0M343.7 751.9h0M519 501.6h0M376.9 718h0M406.8 647.4h0M408.5 666.3h0M557.8 478.4h0M268 781.7h0M455.7 547.1h0M365 710.9h0M281.5 781.5h0M208.5 793.3h0M427.9 611h0M261.3 785.5h0M417 638.5h0M357.5 738.8h0M348 748.6h0M536.3 489.8h0M224.7 788.4h0M408.7 646.1h0M351.4 742.7h0M248.7 781.8h0M343.9 749.3h0M528 497.9h0M266.9 788.5h0M455 552.9h0M294.4 774.7h0M392.3 675.3h0M404.7 667.5h0M217.5 792.6h0M505.1 494.6h0M337.4 759.7h0M271.5 780h0M270.7 781.9h0M574.2 489.5h0M557.8 472.8h0M372.8 713.2h0M295.3 779.4h0M466.1 530.3h0M210.3 790.8h0M525 496h0M191.8 796.3h0M208.9 793h0M320.1 767.8h0M367.7 721.3h0M191.7 794.2h0M301.1 775.5h0M573.7 466.5h0M491.7 518h0M212.5 793.6h0M531.9 469.4h0M371.5 704.4h0M575.8 485.8h0M315 770.1h0M310.5 774.3h0M454.8 523.1h0M380.2 702.5h0M297.5 777.4h0M394.4 656.2h0M438.4 563.9h0M311.6 769.3h0M511.4 474h0M481.9 525.5h0M483.6 521.5h0M447.4 557.7h0M279.5 777.9h0M465.2 533.9h0M257.8 781.3h0M245 783.6h0M386.3 696h0M256.9 782.1h0M239.4 784.3h0M420.8 601.4h0M570.4 495.1h0M211.3 788.3h0M363.1 726.8h0M224.9 791.4h0M399.9 673.3h0M414 670.8h0M381.1 713.5h0M204.9 793.8h0M463.2 548.8h0M387.9 691h0M413.4 639.9h0M450.5 543.9h0M543.3 485.1h0M359.3 734h0M546 486.4h0M258.2 784.3h0M366.8 732.9h0M258.7 781.2h0M335 757.9h0M542.3 489.3h0M570.3 482.1h0M374.1 717.2h0M297.6 776.8h0M315.6 768.7h0M541.6 473.9h0M360.8 733.4h0M267.1 785h0M515.6 497.8h0M388.7 677.9h0M356.4 739h0M542.3 473.8h0M480.9 510.3h0M195.2 793h0M566.9 484.4h0M367.1 733.4h0M259.9 784.1h0M545 465.3h0M353.4 743h0M456.9 539.9h0M482.7 515h0M265.6 782.3h0M573.6 482.1h0M409.4 637.9h0M211.9 787.3h0M399.2 662.3h0M196.8 795.3h0M571.9 490.5h0M449.6 618.3h0M337.7 759.8h0M501.6 501.4h0M499.6 520.1h0M463.1 516.3h0M281.4 776.8h0M226 790.7h0M523.9 500.1h0M536.4 485.5h0M324.5 765.1h0M340.5 751.7h0M347 751h0M297.7 776h0M555.9 482.8h0M397.1 687.2h0M466.6 549.1h0M425.9 600.8h0M224.6 794.2h0M217.8 792.8h0M247.2 786.3h0M383.6 692.3h0M434.7 584.5h0M578.4 471.7h0M541.2 481h0M478.1 499.4h0M339.3 755.9h0M324.2 767h0M461.8 516.4h0M324.6 768h0M488.5 507.6h0M474 526.9h0M236.5 784.6h0M503.5 504.4h0M226.1 788h0M313.7 771.4h0M570.3 495.2h0M443.9 565.1h0M524 487.5h0M551.4 493.1h0M292.9 778.4h0M500.3 502.7h0M335 757.6h0M214.9 790.7h0M231.3 788.3h0M238.9 786.3h0M436.1 596.2h0M440.1 598.5h0M520.5 495.7h0M304.8 776.7h0M487.3 526.1h0M293.8 775.3h0M312.1 770.8h0M445.7 598.1h0M342.9 756.1h0M579.2 488.7h0M313.2 770.5h0M282.3 780.9h0M532.9 484.1h0M530.5 490.7h0M253.2 787h0M321.4 764.2h0M388.8 698.5h0M215.5 789.5h0M334.4 760.3h0M490.3 509h0M489.6 513.3h0M247.7 787.4h0M308.1 774.7h0M294.4 775.4h0M456.9 587.2h0M241.1 783.9h0M574.5 477.8h0M234.9 784.8h0M396 696.8h0M464.2 543.5h0M559.8 487.7h0M429.4 610.6h0M523.6 485.9h0M396.9 677.6h0M275.9 780.3h0M354 740.5h0M426.6 615.9h0M396.9 655.7h0M495.1 527.6h0M400.3 667h0M339.3 754.7h0M390.7 690.2h0M392.5 684.3h0M193.5 791.5h0M317.8 768.9h0M413.3 628.6h0M467.8 542.4h0M356.5 735.9h0M480.9 508.9h0M386.1 699.3h0M333.9 759.5h0M284.3 775.6h0M501 492.1h0M549.6 478.5h0M474.4 544.8h0M275.7 779.7h0M465.2 503.6h0M386.8 688.7h0M550.6 479.6h0M192 797h0M491.4 506.7h0M371.7 713.6h0M523.7 477.2h0M426.1 645h0M192.6 792.5h0M459.7 546.6h0M397.8 663.1h0M283 780.9h0M237.2 787.3h0M345.1 753.4h0M408.6 650.8h0M376.4 706.5h0M196.3 797.1h0M247.4 787.5h0M455.4 553.2h0M402.7 681.3h0M479.6 520.3h0M351.5 746.9h0M289.9 774.8h0M501.2 486.7h0M274.8 781.1h0M213.3 792.9h0M333.5 759.7h0M365.8 728.3h0M271.3 781.5h0M562.7 474.9h0M280 778.7h0M237.2 787.9h0M447.9 569.6h0M245.5 782.5h0M298.9 776h0M351.2 744.7h0M296.6 778.3h0M444.9 580.3h0M244.3 786.4h0M441.1 609.8h0M234.8 786.7h0M416.1 632.4h0M571.7 496.4h0M496.8 524.6h0M559.1 473.4h0M402.8 692.8h0M251.5 781.3h0M334.2 759.7h0M492.7 504.5h0M241.1 785.8h0M448.9 553h0M315.5 769.6h0M547.8 491.3h0M326.4 763.1h0M315.5 766.5h0M295.9 776.9h0M400.4 672.3h0M561.5 487.2h0M400.6 662.6h0M479.1 531.5h0M392.8 673.6h0M221.9 785.5h0M418.6 658h0M421.6 623.9h0M422.4 676.2h0M306.2 772.3h0M293.8 774.9h0M318.2 768.6h0M201.7 793.5h0M252.5 786.9h0M301.7 774.5h0M389.6 694.4h0M545.5 486.7h0M463.2 528.2h0M391.1 689.8h0M469.4 537.6h0M363.1 731.7h0M208.1 793.1h0M457.6 534.4h0M465 522.1h0M445.4 546.8h0M522.4 502.3h0M494.8 510.5h0M513.2 486.3h0M207.6 795.3h0M580 490.7h0M419.3 621.7h0M421.1 650.8h0M429 652.8h0M295.1 777.2h0M307.9 771.2h0M531.9 477h0M424 639h0M564.6 474.1h0M271 780.3h0M418.2 636.3h0M423.9 614.3h0M204.1 794.9h0M434 593.3h0M339.7 753.3h0M357.5 736.4h0M262.1 782.6h0M421.7 635.5h0M452.5 560.6h0M537.9 497.4h0M518.3 498.2h0M572.3 494.3h0M570.6 501h0M463.1 536.9h0M299.2 777.5h0M400.5 677.7h0M222.2 793h0M410.7 658.8h0M308.9 772.1h0M399.1 663.1h0M482.4 510.8h0M213.3 793.1h0M531.6 481.6h0M204.4 792.1h0M380.9 702.8h0M274.9 782.6h0M204.9 794.9h0M376.9 715.9h0M291.9 777.2h0M220.9 790.6h0M511.5 480.1h0M285.5 774.9h0M555.9 476.4h0M427.2 581.1h0M328.3 762.2h0M213.3 785.4h0M523.6 476.3h0M232.1 782.6h0M492.7 496.7h0M396 680.4h0M367.5 715.4h0M221.1 790.3h0M353.7 740.9h0M196.1 797.3h0M487.6 499.7h0M465.7 531.6h0M242.7 784.9h0M388.6 693.3h0M259.1 787.7h0M467.6 523.4h0M263.4 779.9h0M257.1 787.1h0M300.6 776.6h0M568.9 486.4h0M509.1 497.7h0M347 753.1h0M499.8 489h0M330.7 758.3h0M262.9 784.3h0M539.8 500.5h0M203.9 793h0M499.3 480.7h0M564.3 475.4h0M222.5 787.8h0M525.1 496.9h0M494.2 496.7h0M206.2 797h0M363 719.7h0M291.2 774.9h0M339.6 759.6h0M338.7 760.6h0M343.6 751.2h0M193.4 795h0M295.5 776.4h0M302.9 772h0M443.1 570.5h0M461.3 537h0M482.6 539.3h0M438.3 566.4h0M538.7 496.4h0M406.8 664.4h0M312 769.8h0M205.3 793.7h0M473.4 538.4h0M409.2 667.7h0M253.4 786.3h0M389.3 687.2h0M558.3 484.5h0M426 585.4h0M310.3 772h0M504.6 498.4h0M343.7 752.1h0M195.5 795.1h0M220.8 791.9h0M565 481.6h0M226.2 794.1h0M495.5 470.8h0M201.6 795.7h0M355.1 741.4h0M299.7 775.7h0M323.9 766.9h0M225.1 788.9h0M346.6 748.6h0M486 523.1h0M394.5 700.7h0M241.2 789.3h0M504.1 510.2h0M529.8 471.8h0M367.7 730.3h0M329.8 764.3h0M196.6 794.7h0M217.2 788.3h0M336.1 763.4h0M233.9 791.9h0M568.1 482.8h0M441.1 606.6h0M311.8 774.8h0M418 655.5h0M255.3 786.3h0M547.7 476.8h0M385.1 697.4h0M462.7 523.1h0M260.7 783.3h0M374.6 714h0M468.3 506.2h0M340.9 754.9h0M215 791.5h0M372.8 721.4h0M511.3 500.2h0M370 717.1h0M572.1 487.2h0M408.1 678.1h0M534.2 480.4h0M202.3 792.4h0M436.1 584.7h0M388.9 697.4h0M329.3 760.9h0M541.8 462.7h0M225.5 792.2h0M379.4 716.2h0M309.3 773.7h0M564.4 491.1h0M494.8 513.9h0M268 784.6h0M239.5 785h0M198.9 792.4h0M259.7 779.6h0M552.3 476.4h0M530.4 491.3h0M501.9 490.4h0M345.9 750h0M377.7 709.1h0M414.2 670.4h0M505.9 487.5h0M191.3 793.1h0M260.4 784.1h0M416.6 646.1h0M244.8 786.2h0M555.9 480.8h0M207 791.4h0M569.7 483.5h0M273.4 779.6h0M265.3 785.8h0M355.3 740.1h0M438.6 625h0M572 469.4h0M375.6 703.9h0M540.2 478.6h0M537.3 475.8h0M574 468.2h0M330.1 759.6h0M374.9 720.6h0M198.1 795.2h0M339.5 761h0M327.7 766h0M238.2 790.6h0M514.6 492.8h0M298.6 774.1h0M240.7 789.3h0M234.7 789.2h0M199.2 793.7h0M484.5 517.5h0M397.3 671.9h0M394 695.7h0M351.1 744.9h0M565.9 476.2h0M337.2 757.5h0M375 723.2h0M459 552.4h0M552.3 480.8h0M524.8 497.7h0M533.8 480.4h0M261.2 785.3h0M558.4 485.5h0M511.3 495.4h0M318.4 762.5h0M504 499.3h0M561.6 487.7h0M479.8 504.3h0M478 518.7h0M517 489.9h0M532.7 506.7h0M494.6 507.4h0M220 791.2h0M271.1 784h0M236.8 784.8h0M371.5 719.3h0M215.3 792.4h0M404.6 680.1h0M550.5 497.5h0M572.8 490.1h0M204.3 797.5h0M456.1 554.8h0M245.5 784.1h0M526.2 493.9h0M201.8 798h0M229.9 789.9h0M316 771.7h0M191.7 795.7h0M448.1 557.7h0M269.9 782.4h0M470.7 542.2h0M560.3 473.4h0M373.3 703.5h0M373.2 720.2h0M578.6 480.7h0M312.1 771h0M535.5 495.4h0M468 538.2h0M193.2 794.6h0M305.8 772.8h0M471.1 525.2h0M207.2 793.5h0M524.4 498.9h0M545.8 468.5h0M486.1 491.5h0M506.3 502.1h0M422.9 623.1h0M505.2 484.1h0M372.1 719.5h0M349 746.2h0M464.1 557.6h0M371.3 714.3h0M310.9 772.1h0M293 770.4h0M360.3 734.2h0M338.8 755.1h0M484 509.7h0M495.7 503.9h0M501.3 490.6h0M519.4 492.4h0M331 762.1h0M333.8 759.8h0M516.8 498.6h0M259.9 780.7h0M463.7 521.3h0M394.5 646.6h0M449.8 568.3h0M461.7 557.2h0M450.8 568.1h0M281.4 778.7h0M198.8 791.6h0M561.5 480.4h0M540 486.7h0M386.7 689.6h0M447.8 551.3h0M225.2 785.8h0M368.6 732.1h0M419.2 614.9h0M462.8 550h0M275.1 782.1h0M225.8 789.9h0M564.9 493.3h0M520.9 510.4h0M259.3 785.3h0M510.8 497.4h0M506.8 475.9h0M260.5 785.2h0M503.7 508.7h0M338.8 760.4h0M320.1 768.1h0M252.3 785.6h0M420.5 649.1h0M428.9 609.8h0M389.3 697h0M228.6 794.8h0M500.3 500.3h0M313.3 774.1h0M292.9 782.5h0M439.9 545.8h0M261.8 781.6h0M545 481.4h0M442.7 567.3h0M497.7 509.9h0M322.6 763.8h0M356.9 738.9h0M287.8 773.3h0M287.6 777h0M351.6 748.5h0M496.9 497.7h0M386 683h0M514.9 495.7h0M233.2 786.1h0M302.5 774.4h0M203.9 795.6h0M546.2 507h0M214.2 789.3h0M401.2 660.5h0M452.5 540.3h0M269.3 783.9h0M572.2 493.1h0M572.5 474.7h0M282.6 779.5h0M244.1 787.5h0M443.3 571.5h0M390.5 686h0M425.5 568.1h0M430.9 597.2h0M562.9 484.6h0M489.6 527.7h0M311.7 767.6h0M481.4 532.8h0M365 726.7h0M570.4 469.3h0M376 712.7h0M193.9 799.2h0M547.6 492h0M297.7 776h0M510.4 479.4h0M428.4 607.1h0M480.2 527.7h0M478 498.4h0M543.1 473.1h0M514.9 499.3h0M441.6 531.9h0M317.1 767.7h0M382.4 700.5h0M298.5 780.7h0M321.1 766.1h0M369.4 713.6h0M354.8 740.8h0M302.6 768.5h0M308.5 771.7h0M311.2 773.9h0M264.4 780.8h0M417.2 678.7h0M225.7 788.3h0M286.6 778h0M256.2 780.9h0M465.5 552.4h0M298.9 774.1h0M228.5 792.3h0M510.2 501.6h0M360.5 732.5h0M503.6 501.4h0M314.9 770.7h0M324.9 766.4h0M407.9 647.1h0M216.8 789.8h0M571 478.1h0M241.7 784.3h0M546.1 482.2h0M447 582.9h0M488 524.4h0M271.6 781.6h0M537.9 492.7h0M398.8 685.6h0M351 740.4h0M264.9 786.6h0M256.5 782.9h0M526.4 483.6h0M568.2 485.6h0M352.9 738.3h0M472.1 517.7h0M462.3 552.8h0M382.4 692.2h0M377.1 714.3h0M405.6 691.3h0M324.9 767.7h0M480.7 549.8h0M352.8 743.2h0M386.6 694.5h0M260.6 786.5h0M570.5 481.3h0M220 785.7h0M469.5 535.6h0M447.5 557.4h0M324.1 764.2h0M570.9 473.6h0M203.9 795.4h0M296.1 777.4h0M321.4 769.3h0M440.3 610.4h0M420 610.1h0M467.4 532.9h0M525.5 508.3h0M197.2 797.4h0M408.5 665.1h0M346.2 747.9h0M458.7 551.3h0M395.3 672.9h0M325.6 763.4h0M192.3 795.5h0M310.9 769h0M363.7 732.2h0M321.2 770.8h0M337.7 756.8h0M443.8 558.2h0M320.6 771.5h0M521.8 482.2h0M330.7 759.8h0M359.3 738.2h0M358.8 734.4h0M542.2 487h0M425.7 637.5h0M566.2 475.8h0M191.4 797.9h0M562.7 473.4h0M265.7 779.7h0M539.9 476.7h0M206.8 798h0" stroke="#3585c5" stroke-width="5.4" stroke-linecap="round" fill="none"/>
<path d="M367.4 561.3h0M502.8 800.8h0M545 797.6h0M217.8 657.9h0M503.8 797.4h0M566.4 808.6h0M198.7 697.5h0M507.3 804h0M206.4 696.4h0M454.1 744.7h0M575.3 804.5h0M223 637.7h0M480.9 764.9h0M232.8 609.2h0M417.6 663.6h0M324.9 529.6h0M407.5 616.5h0M485.6 791h0M265.1 549.5h0M306.5 535.3h0M234.7 600.7h0M348.8 544.3h0M221.2 645.4h0M200.8 701.6h0M475.8 757.1h0M464.5 769.3h0M200.9 699.9h0M444.8 718.1h0M453.1 706.6h0M323.9 531.3h0M304.6 533.5h0M279.3 541.7h0M424.9 663.6h0M241.7 594.5h0M403.7 637.5h0M348.1 537.7h0M389.7 594.5h0M485.8 781.7h0M277.6 543.2h0M311.8 531.7h0M377.6 574.6h0M316.6 532.7h0M456.1 725.6h0M245.2 589h0M547.3 796.6h0M557.7 813.4h0M238.9 593.6h0M379.6 570.3h0M324.6 533.5h0M324.1 527.9h0M267.8 551.1h0M399.7 635.2h0M502.9 792.5h0M282.1 539.7h0M495.6 787.1h0M481.8 752.5h0M435.8 698.1h0M536.1 787.4h0M424.7 662.5h0M501.9 791.3h0M562.6 803.2h0M523.1 781.5h0M414.5 627.6h0M303.4 527.9h0M425.5 652.8h0M471.2 786.9h0M470.5 751.6h0M344.9 538.2h0M482.3 787.3h0M319.3 527h0M239.6 587h0M563.7 798.3h0M548.2 814.2h0M355.1 544.1h0M404.4 627.8h0M195.7 700.7h0M561.4 794.4h0M327.9 530.4h0M428.3 651.4h0M242.3 586h0M243.7 582.1h0M418.7 619.5h0M452.5 646.8h0M571.8 807.6h0M462.8 736.1h0M428.2 642.3h0M425.6 638.1h0M297 533.3h0M334 531.4h0M433.9 712.7h0M242.8 591.9h0M307.7 529.5h0M255.2 567h0M203.7 699.2h0M365.8 554.2h0M335.3 530.4h0M408.1 633.8h0M345.1 534.5h0M218.1 665.3h0M525.8 808.9h0M204.9 695.9h0M198.1 700.2h0M198.4 697.1h0M497.8 798.5h0M333.5 530.5h0M559 808.4h0M313.3 529.5h0M349.2 540.9h0M462.5 765.7h0M559.6 795.8h0M546 804.4h0M336.3 531.5h0M455.3 700.3h0M213.5 680.6h0M412.9 625.2h0M441.8 679.6h0M297.8 534.9h0M445.7 695.3h0M309 530.9h0M488.9 770.8h0M217.7 666.5h0M393.2 607.8h0M560.5 803.4h0M435.1 658.3h0M556.7 801.7h0M559.4 796.5h0M487.5 763.1h0M503.6 770.4h0M476.4 765.9h0M388.9 598.1h0M497.9 773.7h0M497.5 795.2h0M526.2 788.5h0M192.4 703.5h0M203.9 695.1h0M370.7 561.4h0M469.8 745.8h0M353.2 547.2h0M338.7 534.3h0M197.6 701.3h0M426.5 647.2h0M562.5 806.9h0M430 685.7h0M285.3 536.1h0M437.8 672.7h0M334.1 535.9h0M332.5 532.8h0M211.5 689h0M468.4 750.8h0M189.9 702.7h0M517.7 762.3h0M192.1 703h0M493.5 783.5h0M326.1 531.4h0M325.9 530.1h0M381 596h0M261.7 554.6h0M270.4 548.8h0M468.3 751.1h0M544.3 786h0M244.5 583.6h0M297.1 534.3h0M572.7 802.8h0M457.8 731.1h0M547.6 799.5h0M340.1 536.3h0M489.5 795h0M466.9 741.7h0M480.2 750h0M375.6 572.5h0M304.1 536.2h0M331.9 534.8h0M245.6 581.2h0M220.3 645.2h0M338 536.3h0M524.2 816.2h0M318.8 527.9h0M408.5 630.2h0M511.2 810.8h0M230.6 617h0M334.2 533.5h0M334.1 536.1h0M467.5 750.5h0M542.6 799.9h0M192.6 700.9h0M402.2 607.8h0M190.8 699.4h0M307 533.7h0M345.8 535.9h0M299.3 531.7h0M350.7 541.8h0M330.7 531.2h0M384.4 588h0M287.2 536.8h0M341.9 532.9h0M275.3 544.8h0M353.7 542.1h0M466.1 719.4h0M201.6 698.8h0M579.5 798.9h0M247.7 579h0M498.8 787.6h0M301.9 536.7h0M217.4 663.7h0M497.7 787.3h0M410.2 623.8h0M292.3 533h0M338.1 536.9h0M527 798.8h0M465.5 721.3h0M298.3 536.2h0M282.1 538.1h0M410.5 629h0M236.7 600.4h0M279 542.5h0M504.1 800.6h0M472.8 768h0M199.6 700.7h0M364.2 559.2h0M345.3 538.4h0M478 768.6h0M355.8 547.7h0M278.3 540.1h0M518.2 780.9h0M265.2 555.3h0M442.4 678h0M299.9 532.6h0M431.2 690.2h0M257 562.4h0M531.6 788h0M333.9 528.7h0M455.3 729.8h0M482.4 779.9h0M372.2 566.2h0M400 597.3h0M236 598.6h0M400.8 613.5h0M397.2 598.5h0M539.1 789.7h0M327 535.5h0M249.4 572.2h0M348.1 540.8h0M496.2 766.1h0M194.1 701.1h0M203.8 698.6h0M579.5 801.2h0M406.5 613.8h0M470.1 740.7h0M371.6 566.1h0M265.8 554.7h0M450.1 695.6h0M283.8 540.4h0M366 551.3h0M271.6 549.6h0M544.1 787h0M343.3 536.8h0M460.7 744.6h0M260.7 556h0M427.4 670.3h0M304.9 531.8h0M236 598.9h0M313 528.5h0M214.6 681.9h0M424.9 612.7h0M406.5 590.6h0M522.9 813.7h0M200.2 700h0M349 539h0M574 800.5h0M325.1 527.6h0M212.5 679.8h0M501.9 774.8h0M226 628.1h0M468.4 733.7h0M395 634h0M531.9 775.6h0M390 597.3h0M454.8 656.7h0M290 534.4h0M573.4 802.8h0M271.2 548.5h0M516.2 795.5h0M455.9 731.7h0M377.7 562.7h0M335.4 533.9h0M222.9 640h0M499.3 780.4h0M278.4 543.1h0M530.2 805.8h0M536.3 797.1h0M271.7 547.3h0M303.2 531.7h0M467.2 725.1h0M488.1 775.9h0M208.6 691.4h0M512 800.6h0M508.3 802h0M432.9 685h0M537.5 816.2h0M570.6 804.7h0M269.6 549.4h0M557.8 802h0M526.1 795.5h0M419 628.2h0M232.7 611.7h0M565 803h0M479.8 758.9h0M334.1 535.3h0M315.6 526.8h0M560.9 801h0M279.7 536.6h0M509.9 806.9h0M362.8 537.1h0M461.6 674.2h0M510.4 802.7h0M228.5 623.1h0M291.3 534.7h0M234.1 604.1h0M346.6 541.8h0M245 581.3h0M547 793.3h0M497.1 788.2h0M416.6 676.2h0M264.1 557h0M271.8 547.5h0M420.8 621.9h0M543.9 803.7h0M553.8 809.1h0M552.4 794.7h0M315.6 528.9h0M462 712.9h0M392.1 579.6h0M406.5 596.1h0M454 698.4h0M304.6 535.3h0M294.1 533.7h0M350.6 540.9h0M280.7 539.4h0M525.5 773.5h0M332.5 533.6h0M204.7 696.2h0M436.8 691.1h0M574.6 800.8h0M404 598.3h0M300.1 534.5h0M541.8 816.2h0M435.5 668.5h0M431.3 666.5h0M369.4 565.1h0M490.7 798.6h0M451.4 708.2h0M402.9 595h0M320.2 531.9h0M495.8 769.6h0M545.2 812.3h0M225.3 630.8h0M199.8 697.7h0M228.5 618.7h0M530.5 802.7h0M430.7 662.5h0M344.8 541h0M570.4 793.5h0M558.3 801.1h0M355.2 547.7h0M333.9 534.3h0M397.6 591.4h0M421 619.6h0M518.3 775.2h0M532.5 816.2h0M300.8 530.3h0M523.1 801.6h0M219.8 654.7h0M270.9 547.9h0M353.5 544.5h0M219.2 661.2h0M325 528.9h0M200.3 702.6h0M504.1 784.1h0M453.6 708.3h0M291.1 534.3h0M393.9 602.3h0M341.8 536.7h0M509.6 774.2h0M304.4 533.8h0M281.9 533.6h0M492.7 796.3h0M484.9 792.4h0M464.3 725.5h0M214.6 671.3h0M205.8 693.7h0M552.7 787.7h0M569.3 796.9h0M269.6 548.5h0M381.5 576.8h0M370.5 562h0M300.4 533.3h0M220.3 647.1h0M288.4 532h0M564.8 800.5h0M362.5 553.5h0M270.1 549.3h0M219.2 655.8h0M441.8 686.1h0M517.7 800.5h0M288 536.8h0M484.2 801h0M198.1 704.1h0M240.1 588.7h0M439 680.5h0M226.4 630.2h0M371.2 562.9h0M378.8 567.1h0M200.6 701.6h0M510.7 810.9h0M477.9 774.5h0M498.3 791.4h0M444.3 726.6h0M299.6 528.9h0M460.9 727h0M412.8 593.9h0M433.1 669.7h0M483.3 767.7h0M302.6 530h0M546.4 800.7h0M370 549.8h0M313 527.1h0M395.7 586.8h0M569.5 794.4h0M464.7 715.6h0M226.8 625.8h0M297.4 534.9h0M452.6 701.4h0M563.5 803h0M400 591.7h0M400.7 619.5h0M189.9 702.4h0M249.4 574.3h0M504.2 768.8h0M284.1 538.9h0M399.1 616.3h0M456.2 717.9h0M422.1 639.5h0M488.7 770.4h0M441.2 661.6h0M310.5 529.8h0M418.2 630.3h0M461.4 721h0M216.7 658h0M566.7 807.7h0M431.4 698.3h0M570.4 804.3h0M526.4 801.8h0M201.9 697.8h0M221.9 640.7h0M523.7 785.7h0M285.5 531h0M545.6 802.7h0M572 801.4h0M489.8 764.7h0M433.5 677h0M361 545.3h0M544.4 803.2h0M435.1 700.2h0M226.2 625.3h0M473.1 728.2h0M319 527.3h0M242.6 580.6h0M332.7 532.1h0M524.8 803.8h0M479.4 767.7h0M338 534.5h0M511.3 754.8h0M408 624.1h0M321.9 525.5h0M229.5 617.5h0M455.8 720.3h0M286.4 536.9h0M387 591.8h0M283.1 540.1h0M436.1 699.3h0M212.5 680.3h0M298.5 530.4h0M433.8 657h0M518.7 786.1h0M474.3 789.7h0M302.1 532.1h0M344.8 537.4h0M385.3 573.8h0M559.1 807.4h0M258.8 562h0M497.6 787.9h0M234 604.4h0M517.3 801.8h0M232.9 603.4h0M338.9 534.1h0M334 537.3h0M450.1 689.2h0M313 524.9h0M504.3 801.8h0M574.3 798h0M470.1 766.3h0M197.9 701h0M227.1 623.8h0M503.4 782.7h0M349.1 538.2h0M389.7 588.1h0M519.6 776.4h0M468.3 755.3h0M395.4 591.9h0M306.8 526.5h0M221 647h0M233.7 605.9h0M210.3 691.2h0M345.7 539.9h0M559.6 794.2h0M232.8 604.7h0M390.7 596.8h0M430.1 644h0M557.1 803.6h0M578 796.5h0M445.6 679.7h0M416 633.4h0M465.8 747.1h0M359.8 556h0M494.3 806h0M516.3 780.1h0M273.6 547.4h0M395.9 599h0M311.9 529.3h0M238.5 592h0M353.9 547h0M425.8 646.4h0M391.7 589.4h0M339.6 533.5h0M406.6 624.7h0M386.7 581.4h0M200.3 700.7h0M459 740.5h0M497.6 788.6h0M369.8 562.9h0M443.9 683.6h0M284 534.6h0M474.4 767.1h0M367.3 547.5h0M439.8 671.1h0M452.2 672.3h0M358.2 554.5h0M262.7 557.4h0M555.8 806h0M513.1 788.1h0M339.2 533.1h0M337.4 536.3h0M520.5 816.2h0M483.3 773.2h0M297.9 531.6h0M510.2 784.6h0M321.9 530.9h0M518.2 778h0M232.8 605h0M559.5 792.9h0M332.5 534.1h0M549.2 794.4h0M285.9 535h0M335.3 534.7h0M288.6 536.8h0M418.6 645.7h0M288.6 534.3h0M453 677.6h0M455 727.3h0M489.2 785.4h0M366.6 556.5h0M356.7 549.6h0M287.4 535.9h0M379.5 591.8h0M395.8 584.9h0M298 528.3h0M407.4 610.8h0M256.8 563.2h0M353 545.2h0M316.5 527.3h0M398 588.9h0M492.3 784.6h0M201.7 695.7h0M361.3 544.8h0M228.9 623.4h0M328 531.1h0M477 777.3h0M437.7 667.6h0M469.4 734h0M507.5 795.9h0M322.5 526.4h0M335.3 533.2h0M263.1 554.9h0M317.6 528.6h0M431 664.7h0M451.2 725.5h0M466.8 713.1h0M399.2 601.2h0M209.4 692.7h0M441.6 675h0M520.3 800.9h0M530.3 803h0M198.5 699.5h0M336.8 534.9h0M381.4 575.7h0M433.2 678.6h0M500.3 792h0M200.3 693.7h0M541.1 797.7h0M359.9 546.1h0M566.9 798.9h0M497.6 789.8h0M344.4 535.7h0M560.7 788.3h0M371.1 563.5h0M232 615.6h0M268 548.9h0M398.9 601.9h0M485.7 772.1h0M311.1 530.4h0M555.8 796.5h0M289.7 538.4h0M571.2 801.5h0M442.9 697.2h0M476.4 751.8h0M340.6 534.2h0M397.3 599.1h0M327.4 531.8h0M386.8 577.2h0M518.3 790.4h0M489.2 808h0M511.6 804.1h0M350.8 540.2h0M305.6 529.7h0M420.7 626.7h0M561.4 797.8h0M465.2 767.1h0M280.4 539.6h0M499 801.6h0M535.5 808.4h0M477.3 764.1h0M472.9 756.9h0M454 681.8h0M410.6 632h0M343.5 538.4h0M469.9 746.8h0M354.1 545.8h0M258.8 558.7h0M539.3 782.7h0M547.2 808.2h0M238.7 592.3h0M503.6 807.8h0M431.9 643.2h0M318.7 528.6h0M318.3 531.4h0M246.6 585.6h0M363.8 555.8h0M272.4 549.4h0M452.2 712.8h0M558.7 809.8h0M305.7 531.3h0M290.5 535.1h0M393.2 587.5h0M234.8 604.3h0M245 582.3h0M258.8 557.6h0M513.2 803.9h0M386 579.2h0M496.9 803.8h0M514.8 789.1h0M307.4 533.6h0M258.1 561.4h0M213.2 680.2h0M476.3 735h0M399.8 613.4h0M522.1 804.9h0M445.6 706.5h0M255.9 562.2h0M378.8 579.9h0M348 538.7h0M236.5 602.3h0M244.8 585.5h0M465 729h0M447.8 717.8h0M353.7 543.1h0M238.4 593.2h0M290.1 532.2h0M361.1 557.9h0M478.1 748.7h0M351.6 540.7h0M484.2 795h0M332 527.7h0M424.8 584.5h0M481.7 787.3h0M353.3 542.9h0M372.8 573.8h0M210.8 689.4h0M233.5 608.1h0M455.4 714.2h0M227.3 626.5h0M263.1 554.9h0M379.1 582.5h0M551.8 796.4h0M578.9 799.4h0M492.1 783.1h0M330.8 528.8h0M259 558.7h0M348.9 539.5h0M214.2 679.9h0M300.7 534.5h0M466 760h0M431.3 675.7h0M552.7 799.6h0M312.1 531.1h0M352.5 541.1h0M476.5 767.4h0M288 538.4h0M283.2 538.8h0M571.6 801.1h0M325.4 528.3h0M531.6 809.2h0M346.9 543.6h0M540.7 816.2h0M513.3 774.6h0M304.1 534h0M209.2 692.4h0M449.1 689h0M322.7 527.3h0M318.5 530.8h0M468.9 757.7h0M350.3 543.3h0M297.7 532.2h0M525.7 783.8h0M500.3 766.7h0M504.7 791h0M317 530.2h0M571.2 800.9h0M388.9 604h0M312.8 528.7h0M243.9 583.5h0M505.8 781.5h0M464.9 759.8h0M555.4 798.4h0M226.1 629.1h0M211 686.7h0M537 805.2h0M288 534.5h0M319 525.1h0M239.2 594.8h0M385.4 586.1h0M270.4 548h0M213 688h0M562.2 803.3h0M243.6 580h0M332.9 534.4h0M267.8 551.1h0M511.2 772.8h0M494.6 777.6h0M548.5 797.2h0M375 571.6h0M496.8 787h0M506.3 787.5h0M517.3 781.9h0M250.7 571.6h0M381.1 570.5h0M445.3 720.1h0M309.1 528.6h0M496 791.6h0M437.8 668.9h0M503.1 793.1h0M480.3 772.6h0M359.8 550h0M235.1 602.3h0M284 540.2h0M383 579.6h0M561.4 790.4h0M270.5 544.8h0M508.3 794.1h0M289.7 535.4h0M419.2 630.6h0M541.3 799.6h0M364.7 554.9h0M275.5 541.5h0M310.6 529.1h0M480.9 745.4h0M451 669.9h0M434.4 698.7h0M272.8 543.8h0M484.2 755.2h0M516.8 815.1h0M369.9 570.7h0M297 534.3h0M426.9 624.1h0M496.6 782.6h0M367.1 561.1h0M408.5 636h0M481.6 779.6h0M547.7 797.5h0M220.7 648.8h0M458.5 745.7h0M214.5 682.8h0M294.7 526.9h0M455.6 701.4h0M257.8 561h0M449.4 706.9h0M495.1 784.7h0M455.6 712.9h0M511.1 776.9h0M427.9 684.9h0M386 589.3h0M574.7 801.6h0M322.7 529.8h0M256.8 563.8h0M382.9 579.4h0M418.5 594.3h0M331 531.3h0M561.7 792.3h0M319.2 527.1h0M262.4 556.4h0M398.8 604.1h0M276.5 543.8h0M434.8 663.8h0M303.5 532.1h0M332.7 533.5h0M457.6 724.9h0M454.9 696.6h0M208.3 697.2h0M410.3 601.8h0M410.7 614.5h0M330 532.8h0M334.1 533.2h0M426.1 644.4h0M494.9 794.2h0M494.4 781.2h0M519.7 803.2h0M397.3 601.4h0M290.2 535.5h0M475.7 758.5h0M253.7 567.3h0M197.2 695.9h0M243.9 586.6h0M210.6 693.6h0M354.5 543.9h0M344.2 540.7h0M566.1 785.1h0M522.5 815.2h0M512.5 809.5h0M477 764.8h0M260.4 554.2h0M250.3 575.5h0M509.7 781.2h0M487.3 766.4h0M208.5 688.7h0M351.6 545.9h0M295.2 532.6h0M405.6 590.1h0M366.1 563.8h0M371.8 562.6h0M432.2 658.9h0M491.8 758h0M537 799.5h0M379.1 559.7h0M337.1 533.6h0M523.5 778.3h0M199.1 702h0M490.2 790h0M210.8 693.6h0M305 527.3h0M550 816.2h0M311 534.2h0M208.8 693.1h0M239 595.5h0M563 816.2h0M349.7 541.9h0M333.4 533.5h0M542.9 788.8h0M520.9 816.2h0M286 538h0M236.5 594.8h0M539 786.6h0M338.5 537h0M369.4 562.7h0M251.1 574.1h0M349.9 538.7h0M538.5 803.5h0M544.4 788.2h0M263.8 554.1h0M440.5 679.9h0M244.9 581.8h0M387.1 581.2h0M495.9 774.6h0M290.7 531.6h0M419.4 636.4h0M265.5 550.6h0M298.7 531.1h0M439.7 697.3h0M321.1 530.4h0M274.5 543.6h0M315 529h0M487.2 785.3h0M352.5 543.2h0M424.3 668.3h0M291.3 536.5h0M433.1 637h0M206.1 699.3h0M211.8 688.3h0M274.4 543.5h0M497.9 783.8h0M258 562.3h0M353.4 546.7h0M577.5 800.8h0M280.5 540.6h0M246.7 580.6h0M297.5 534h0M397.3 612.4h0M539.8 785.7h0M201.9 694.6h0M397.1 592h0M196.5 697.1h0M576.8 800.5h0M367.9 569.4h0M453.7 686.1h0M290.3 532.3h0M374.7 558.5h0M511.1 801.5h0M235.7 597h0M273.5 547.5h0M308.1 532.3h0M510.5 797h0M540.9 777h0M482.4 763.8h0M285.4 535.3h0M312.9 534.6h0M476.7 764.1h0M363.2 552.8h0M325.4 527.7h0M578.6 801.7h0M289.7 533.1h0M493.9 795.5h0M258.5 564.8h0M545.7 811.3h0M300.9 529.1h0M549.3 792.8h0M466.9 782.3h0M530.9 779.7h0M438.1 674.2h0M229.9 619.1h0M344.7 540.5h0M571.9 801.8h0M238.1 597.5h0M397.5 595.6h0M393.2 614.7h0M360.1 540.3h0M299.2 529.5h0M310.1 532.1h0M269.1 548.4h0M292.1 537.4h0M204.2 696.6h0M482.1 788.5h0M538.4 799.2h0M275.7 541.4h0M212.1 689.7h0M339.6 532.5h0M231.8 613.3h0M355.9 547.1h0M289.2 535h0M414.7 616.2h0M479.2 747.3h0M531.7 798.6h0M469.3 749.5h0M512.9 780.2h0M578.1 800.5h0M346.2 537.6h0M250.7 568.8h0M256 562.9h0M371.2 568.2h0M460.7 737.4h0M514.2 799.4h0M254.5 570.6h0M394.1 580.5h0M219.5 652.5h0M413.2 568.1h0M527.3 802.4h0M324.1 527.9h0M454.3 674h0M436.6 668.8h0M448.8 696.8h0M260.9 556.6h0M388.6 588.8h0M211.1 687.8h0M350.6 547.6h0M210.5 689.3h0M566.5 805.9h0M324.6 525.6h0M286.4 535.1h0M542.1 791.7h0M358.4 542.5h0M389.3 590.5h0M528.4 771.4h0M393.7 595h0M342.8 539.5h0M477.6 754h0M307.2 528.4h0M248.7 572.9h0M469.9 762.2h0M383.8 575.8h0M579 797.4h0M402.8 603.7h0M539.6 773.3h0M206.4 695.6h0M198.7 695.4h0M326.6 533h0M515.4 776.9h0M375.2 566.3h0M427.6 645.4h0M331.3 535.3h0M324.5 526.9h0M318.6 529.7h0M300.4 533.8h0M203.7 699.2h0M453.7 701.1h0M310.1 530.1h0M548.3 805.5h0M419.9 654.7h0M250.4 570.7h0M304.4 531.3h0M260.6 554.1h0M484.2 785h0M288.4 534.2h0M407.7 615.8h0M358.9 549.9h0M333.2 530.3h0M527.9 790h0M389.6 587.2h0M310.7 526.6h0M256.2 565.7h0M306.1 532.2h0M263.6 559.4h0M448.9 708.2h0M479.9 753.3h0M422.6 655.5h0M467.4 719.3h0M481.8 769.6h0M413.5 636.2h0M263.3 556.2h0M439.6 684h0M199 695.5h0M375.6 567.1h0M252.4 567.4h0M461.7 731.9h0M450.4 690.5h0M319 529h0M417.8 633.5h0M467.3 700.4h0M389.2 587.7h0M289 534.9h0M233.7 605h0M529.8 769.7h0M224 635h0M267.1 550.1h0M494.1 780.7h0M209 693.2h0M245.6 582.8h0M334.7 532.2h0M248.6 574.7h0M205.5 697h0M492.3 802.5h0M257.2 562.9h0M546.3 796.5h0M208.9 689.3h0M296.4 530.3h0M412.5 618.5h0M228.6 613.7h0M376.4 558h0M379.7 593.8h0M423.9 642.8h0M551.2 802.2h0M349.1 539h0M544.4 796.5h0M274.8 546.2h0M444.8 688h0M356.9 546h0M492.5 781.2h0M392.9 582.5h0M522.9 798.1h0M250.1 569h0M292.8 534.2h0M402.2 600.6h0M437.4 701.3h0M337.6 533.1h0M503.2 773.2h0M337.3 536.8h0M554.1 806.6h0M553 796h0M206.3 695h0M440 660.1h0M525.5 786.2h0M209.4 687.8h0M477.9 773.9h0M417.1 647.8h0M391.5 580.5h0M296.5 534.3h0M476.5 722.9h0M275.6 547.5h0M260.9 557.1h0M326.2 533.3h0M576.6 799.9h0M348.1 538.3h0M245.5 579.7h0M345.7 537.4h0M488.5 781.4h0M433.3 658.2h0M469.9 786.6h0M512.1 795.7h0M303.2 526.8h0M325.2 532.3h0M524.4 801.4h0M338.9 537.8h0M389.7 577.9h0M514.9 793.9h0M435.3 656.9h0M546.1 808h0M195.3 697.6h0M431.6 659.4h0M388.8 582.6h0M350 541.6h0M305.2 528.9h0M336.6 531.4h0M508.9 779.3h0M375.6 581.3h0M275.5 547.8h0M460.5 730.5h0M509.6 784.8h0M348.2 542.9h0M240.5 591.4h0M480.2 773.9h0M459.4 737.3h0M460.4 737.8h0M195.2 698.9h0M236.4 600.1h0M567.1 794.3h0M406 613.9h0M291.1 532.8h0M209 696.4h0M375.3 570.8h0M316.1 533.4h0M250.4 573.7h0M438.6 678.5h0M259.8 556.5h0M559.5 794.7h0M280.3 537.3h0M536.6 781.9h0M328.2 528.6h0M303.8 530.4h0M485.7 776h0M387 589.7h0M244.4 584.8h0M517.7 805.7h0M404.5 615.5h0M411.7 621.9h0M337.1 538.8h0M511.8 816.2h0M429.6 680.8h0M218.4 660.4h0M535.1 801.1h0M410.6 594.3h0M296 534.3h0M205.7 700.1h0M205.9 696.5h0M237.4 596.8h0M290 532.1h0M395.8 615.5h0M277.7 541.1h0M497.4 794.3h0M395.2 590.8h0M356.9 546h0M357.2 546.7h0M283.6 537h0M399.6 594.9h0M280.5 539.7h0M315.8 529.8h0M388.9 592.2h0M437.5 670.1h0M317.6 528.8h0M471.2 743.1h0M329.3 528.4h0M546.9 792.2h0M247.8 575.5h0M415.2 643.2h0M328.1 534.2h0M367.2 561.3h0M234.8 605.6h0M321.6 532h0M263.3 555.3h0M453.6 704h0M492.4 791.8h0M496.4 785h0M545.8 799.7h0M339.1 536.3h0M439.4 698.1h0M562.9 801.6h0M384.7 581.2h0M392.6 601.1h0M445.6 710.3h0M201.5 700.7h0M521.1 786.9h0M352.1 546h0M484.4 758.8h0M241.4 589.8h0M381.8 577.2h0M411.7 649.2h0M491.4 775.3h0M422.6 611.4h0M432.5 653.1h0M550.5 814.4h0M295.3 531.8h0M364.8 569.3h0M533.5 801.7h0M367.8 554.4h0M420.7 645.5h0M387 582.4h0M569.8 799.7h0M454.7 733.2h0M491.4 794.3h0M202.1 696.1h0M343.7 535.5h0M481.4 778.6h0M255.3 567.9h0M494 775.4h0M549.2 805.2h0M486.8 779.7h0M471.9 758h0M297 531.7h0M236.9 596.6h0M556 796.6h0M354.3 547.8h0M541.6 810.6h0M450.2 701.4h0M553.2 785.1h0M199.5 700h0M501.8 800.9h0M478.2 736.6h0M409.5 650h0M253.2 568.3h0M269.1 546h0M552.4 807.2h0M341.8 537.1h0M483.4 774.7h0M570.6 797h0M278.6 539.5h0M215.7 674.2h0M203.5 697h0M358 562.6h0M511.5 785.9h0M501.7 782.1h0M420.1 646.9h0M190.7 704.2h0M285.8 537.5h0M247.6 579.2h0M250.7 568.8h0M241.4 592.1h0M203.1 699.2h0M386.4 586.9h0M323 528.2h0M327.3 530.5h0M297.3 532h0M498.5 794.6h0M302.9 529.3h0M251 573.5h0M299.9 531.1h0M286.8 536h0M325 527.3h0M337.8 534.9h0M278.4 543.9h0M434.9 706.3h0M250.2 573h0M544.5 788.3h0M534.4 802.9h0M382.3 579.8h0M474.8 743.6h0M273.2 545.6h0M303.4 530.7h0M544.3 796.7h0M374.6 574.8h0M478.8 764.7h0M506.7 774h0M463.6 708.9h0M366.4 559.7h0M337.8 528.6h0M213.1 679.1h0M527.2 799.4h0M460.1 754.4h0M214.1 672.3h0M515.2 780.2h0M300.8 538.1h0M521.9 796.3h0M248 578.3h0M198.3 699.6h0M524.8 795.9h0M536.8 816h0M382.2 586.1h0M546.1 789.4h0M224.5 633.9h0M248.2 576.2h0M568.7 803.4h0M556.4 794h0M460.8 701.8h0M320.4 527.4h0M468.3 745.9h0M189.7 700.6h0M328 533.5h0M522.3 776.3h0M278.9 542.4h0M239.9 592.7h0M381.4 580.8h0M452.7 767.7h0M311 529.4h0M508.9 779.2h0M543.7 788.8h0M274.2 543.8h0M339.9 536.8h0M515.7 796h0M385.8 592.7h0M481.2 764.8h0M311.9 526.3h0M508.9 801h0M515.6 798.9h0M492.2 769.4h0M532.8 794h0M342.4 534.2h0M391.2 600.2h0M504.7 804.6h0M471.8 724.8h0M399.1 604h0M203.4 698.6h0M274.5 543.8h0M366.8 573.4h0M483.5 782.7h0M542.8 803.6h0M574.8 799.8h0M339.8 535.4h0M566.8 816.2h0M338.7 533.3h0M260.6 565.2h0M552.2 802.8h0M230.9 617.1h0M375.6 574.9h0M492.3 782.6h0M434.3 622.4h0M521.8 806.5h0M396.8 623.8h0M363.4 547.2h0M321.5 528.2h0M433 675.1h0M410 632.4h0M388.2 592.4h0M455 696.9h0M387.2 591.6h0M460.5 699.2h0M384.8 575.2h0M492.3 748.2h0M269 552.3h0M330.2 532.8h0M308.9 530.6h0M532.7 799.4h0M416.4 652.2h0M557.1 783.7h0M407.3 631.4h0M555 801.2h0M478.2 767.6h0M538.6 798.3h0M306.2 533.6h0M578.3 801.6h0M306.8 529.6h0M482 751.8h0M431.7 635.3h0M328.3 528.3h0M230.2 618.9h0M207.3 703.1h0M193.8 697.7h0M404.8 634.1h0M408.7 635.4h0M232 604h0M204.6 699.9h0M197.2 701.7h0M415.9 642.3h0M484 753.6h0M540.4 785.4h0M372.7 577.9h0M479.5 739.8h0M282.4 539h0M208.7 693h0M414.4 638.1h0M316.7 525.8h0M346.3 537.4h0M234.4 602.2h0M459.6 719.5h0M534.4 787.6h0M479.5 767.2h0M242.7 586.8h0M295.7 535.3h0M266.2 555.1h0M576.4 803.3h0M341.5 537.9h0M247 579.3h0M507.3 780.6h0M272.6 550.9h0M220.3 647.7h0M334.7 534.4h0M204 701.2h0M368.6 561.8h0M359.7 551.8h0M311.6 530.7h0M406.9 592.5h0M497.3 779.8h0M322.9 527.6h0M295.7 532.8h0M438.2 657.7h0M353.7 545.8h0M290.8 536.6h0M558.8 795.3h0M271.5 545.8h0M345.4 534.1h0M303.5 532h0M505.4 803.1h0M448.9 682.8h0M544.6 802.1h0M295.2 535.8h0M511.7 771.4h0M450.4 692.7h0M233.6 606.1h0M287.4 537.3h0M517.2 789.1h0M359.4 550.2h0M252.7 572h0M240.4 592.6h0M303.5 530.7h0M442.4 651.5h0M242.2 589.4h0M250.7 569.4h0M523.1 795.8h0M292.5 538h0M455.6 689.2h0M514.9 816.2h0M481.6 787.9h0M434.6 667.9h0M365.2 570.1h0M464.6 696.6h0M332.4 533.4h0M487.7 783.7h0M462.1 741.5h0M234.1 607.2h0M192.4 701.1h0M448.8 697.7h0M375.7 570.1h0M426.8 651.8h0M449.3 686.4h0M372.6 569.3h0M241.1 591.8h0M416.1 653.3h0M302.7 532.4h0M385.1 588.4h0M200.8 702.1h0M564.3 785.9h0M260.9 560.2h0M577.2 797.3h0M499.2 768.9h0M340.2 533.2h0M410.4 623.1h0M275.1 543.1h0M194.7 699.5h0M382.4 575.3h0M217 667.5h0M259 556.2h0M215.1 679.2h0M405.4 612.7h0M450 678.8h0M564.8 789.8h0M284.8 539.3h0M516.7 787.6h0M419.2 653.4h0M194.8 700.1h0M332.2 536.9h0M572.1 798.9h0M475.2 778.3h0M451 671.3h0M462.9 727.9h0M563.5 801.3h0M399.8 586.5h0M242.8 585.8h0M209.4 696.1h0M411.4 613.9h0M258.9 557h0M554.8 806h0M570.8 799.2h0M410 633.8h0M428.2 661.6h0M240.4 587.1h0M506.3 773.6h0M355.8 544.2h0M484.1 754.3h0M356.9 546.1h0M502.8 782.2h0M237.1 597.8h0M570 785.5h0M456.9 734.7h0M324.3 532.3h0M350.1 537.1h0M273.5 541.2h0M388.6 573.2h0M539 784.9h0M375.8 567.1h0M319.3 530.7h0M370.2 569.8h0M352.2 540.6h0M355 542.6h0M391.4 589.2h0M470.4 761.9h0M469.6 746.4h0M200.6 700.2h0M556.7 802h0M327.4 536.5h0M361.4 549.8h0M391.2 579.5h0M543.9 802.7h0M205.7 697.4h0M519 788.2h0M454.2 765.6h0M398.8 616.1h0M347 541.1h0M398.9 614.1h0M463.2 739.2h0M365.8 556.1h0M551.2 798.5h0M411.4 640.3h0M368.5 555.5h0M544.1 806.6h0M200.4 696.9h0M541.5 804.7h0M379.8 584.2h0M243.9 585.2h0M461 738.9h0M288 537.8h0M376.7 571.6h0M399.5 604.9h0M568.2 794.2h0M455.7 703.8h0M366.5 556.8h0M443.6 699.4h0M445.3 701.5h0M247.9 577.8h0M339.1 535.3h0M258.2 563.8h0M235.7 601.4h0M319.7 527.6h0M204.6 700.2h0M262.4 555.9h0M261.8 554.6h0M401.5 630.9h0M356.2 548h0M232.4 608.2h0M578 801.5h0M483.1 769h0M457.1 720.7h0M441.7 691.9h0M474.4 753h0M266.2 553.2h0M474.5 770.8h0M333.4 532.3h0M268.9 550.8h0M304 528.9h0M513.2 795.3h0M350.7 542.1h0M532.1 811h0M578.2 801.7h0M556.8 807.7h0M377.6 577.8h0M410.7 675.4h0M425.7 652.5h0M225.5 628.1h0M485.8 806.7h0M503.6 759.2h0M268.5 549.9h0M322.7 527.3h0M437.8 697.4h0M562.8 784.3h0M330.2 533.7h0M533.2 797.5h0M216.9 657.5h0M404.3 607.1h0M307.1 535.8h0M526.8 796h0M263.3 559.2h0M227.1 623.1h0M338.8 536.6h0M485.5 795.3h0M477 758h0M323.8 526.5h0M474.4 786.2h0M248.2 577.3h0M365.4 559.5h0M532 780.1h0M253.7 567.7h0M284.7 534.6h0M330.7 532.1h0M273.4 546.4h0M397.5 600.3h0M354.2 545.6h0M422.4 610.2h0M197.7 699.3h0M507.8 795.5h0M344.8 537.7h0M216.5 669.8h0M432 681h0M258.3 564.3h0M274 541.8h0M485.2 773.6h0M218 669.9h0M559.6 800.9h0M285.8 534.8h0M426.6 676.9h0M236.5 600.6h0M579.9 801.2h0M562 794.9h0M445.9 689.2h0M294.2 527.1h0M331.3 533.7h0M416.7 610.8h0M298.5 538h0M419 649.5h0M543.7 792h0M247.2 584.2h0M296.2 537.3h0M565.4 799.7h0M525.7 779.7h0M203 695.2h0M228.5 621h0M441.9 651.2h0M515.8 811.6h0M571.7 796.9h0M240.4 594.6h0M375.2 558.6h0M390 596.1h0M522.7 799.4h0M379.6 562.5h0M204.8 699.2h0M219.1 648h0M385 586.2h0M242.3 591.8h0M389.7 598.4h0M419.3 621h0M387.6 588.5h0M415.5 649.2h0M195.7 703.8h0M461.2 743.3h0M204.1 695.5h0M385.6 582.1h0M248.7 574.6h0M347.2 547.1h0M505.2 798.3h0M517.8 789.7h0M535.1 795.6h0M460.5 730.7h0M398.2 587.4h0M502.8 795.8h0M216.9 665.1h0M202 701.1h0M534.1 795h0M471.6 755.8h0M357.2 551h0M289.2 532.6h0M569 801.1h0M273.3 545.3h0M288.5 539.7h0M558.1 804.1h0M486.2 767.7h0M521.6 785.7h0M556.1 799.3h0M563.5 802h0M342.9 536.6h0M285.8 536.1h0M409 641.5h0M339.1 540.3h0M321 525h0M415.5 590.4h0M538.7 800h0M403.2 602h0M322 532.1h0M263.5 551.5h0M514.7 788.4h0M438.4 682.7h0M274.4 545.8h0M506.6 787h0M220.9 643.2h0M224 632.2h0M303.9 530h0M495.8 777.9h0M394.8 615.5h0M459.6 719.7h0M543.5 796.7h0M574.8 801.3h0M517.2 797.2h0M360.7 560.3h0M402.4 611.8h0M190.2 705.1h0M220.3 649h0M360.7 551h0M317 529.1h0M393.8 601.9h0M191.9 702h0M560.1 805.4h0M377.7 562.8h0M253.3 572.3h0M439.3 688.6h0M414.9 592.4h0M465.8 733.6h0M575.8 804.2h0M361.4 539.4h0M189.7 698.4h0M267.9 547.7h0M348.9 547h0M288.1 536.1h0M379.8 583.2h0M436.3 671.2h0M394.1 617.5h0M210.5 683.7h0M199.4 700.9h0M200.5 698h0M457 688.6h0M348.2 539h0M404.8 594.7h0M345.7 539.5h0M459.3 712.8h0M576.4 801.3h0M429 677h0M269.9 545.8h0M473 770.1h0M273.1 546.9h0M458.4 716h0M413.7 631h0M194.1 703.5h0M263.2 558.7h0M278.2 540.5h0M337 531.7h0M534.8 796.2h0M466.9 757.2h0M376.9 561.5h0M348 541.3h0M201.3 702.1h0M274.6 548h0M533.1 794.1h0M337 531.7h0M296.6 533.9h0M556.8 805h0M276.3 543h0M502.2 803.7h0M338.5 536.5h0M332.2 532h0M320 530.9h0M295.1 531.3h0M292.5 536.5h0M299.6 530.6h0M371.1 561.4h0M362.7 556.1h0M197.1 700.3h0M343.5 537.7h0M509.5 765.1h0M483.5 796.6h0M239.1 587.5h0M270.6 545.1h0M435.3 673.7h0M435 625.5h0M209.2 698.8h0M311 529.5h0M389.1 586.5h0M455.8 688.5h0M409.2 619.9h0M440.7 697.6h0M535.7 799.7h0M531.7 779.6h0M268 550h0M528.6 810.5h0M272.1 544.2h0M191 701.9h0M494.5 794.8h0M543.6 794.1h0M230.1 619.7h0M483.4 770.4h0M221.2 646.9h0M546.9 800.4h0M370.7 562.3h0M380 585.2h0M545 784.8h0M308.3 529.1h0M400.7 595.2h0M229 619.3h0M258.7 565.7h0M398.4 594.3h0M527.9 810.7h0M334.5 532.7h0M191.8 703.9h0M280.4 537.8h0M383.8 582.4h0M214.5 679.1h0M245.7 576.5h0M277.4 540.6h0M518.6 813.3h0M356.2 546.5h0M243.8 581.7h0M399.5 600.4h0M414.1 601.4h0M430.4 666.6h0M478 791.9h0M411 621.9h0M210 694.7h0M421.7 629.3h0M426.1 656.6h0M385.9 575.4h0M246 577.7h0M270.1 549h0M434.4 654.3h0M490.4 778.9h0M218.2 660h0M486.7 786h0M365.7 550.7h0M435 658.4h0M496.4 764.4h0M222.4 639.2h0M474.3 733.8h0M479.9 769.7h0M372.3 568.7h0M290.3 533.9h0M413.9 649.9h0M418.7 672.7h0M347 540.9h0M394.9 582.8h0M477.3 754.1h0M499 800.1h0M558.4 799.1h0M569.7 799.7h0M198.8 698.8h0M542.9 803.8h0M533.9 776h0M579 801.6h0M498.9 772.2h0M559.3 814h0M572.7 799.9h0M242 590.3h0M236.6 593.2h0M408.7 631.1h0M547.1 794.4h0M397.2 592.3h0M387.6 590.4h0M524.3 775.4h0M417.9 604.4h0M511.5 777.5h0M425.3 627h0M391.7 583.1h0M384 577.8h0M499.8 769.4h0M237.7 596.9h0M321.9 530.7h0M227.6 622h0M446.8 659.1h0M347.7 537.9h0M539 807.7h0M322.8 529.1h0M547.9 787.1h0M311.3 534h0M558 807.5h0M540.3 787.6h0M302.5 529.9h0M397.3 611.4h0M218.7 663.5h0M432.1 662.6h0M454.6 704.5h0M369.4 559.9h0M358.1 567.7h0M382.5 570.1h0M497.5 783.3h0M267.6 551.1h0M515.7 809.6h0M469.5 702.8h0M344.6 537.3h0M569.8 797.5h0M417.3 620.4h0M388.8 586.9h0M396.5 594.7h0M323.3 525.4h0M395.6 610.6h0M226.1 630.1h0M426.3 663.2h0M322.4 525.5h0M447.5 715.5h0M425.4 638h0M577.1 800.8h0M477.8 787.8h0M192.8 702.6h0M236.5 601.4h0M383 590.9h0M400.5 616h0M375.6 557.4h0M475.6 764.7h0M554.3 807.2h0M213.8 681.3h0M434.4 643.7h0M302.3 535.5h0M342.1 537.1h0M562.3 798.1h0M215.8 675.9h0M269.7 547.7h0M386.4 595.8h0M481.6 776.7h0M561.1 801.3h0M569.4 797.3h0M551.9 799.2h0M493.3 791.5h0M365.5 558.7h0M300.8 536.7h0M526.4 763.7h0M481.5 758.5h0M466.9 747.1h0M490.8 782.6h0M547.4 794.4h0M402.9 620.3h0M289.3 537.4h0M194.2 704.6h0M283.4 539.1h0M445.8 731h0M333.6 534h0M266.4 552.4h0M241.4 586.7h0M203.1 695.4h0M412.4 623.6h0M446.4 726.7h0M562.1 795.7h0M494.9 767h0M250.6 575.9h0M269.9 547.4h0M567 799.2h0M303 532.7h0M400.6 593.1h0M503.5 780.2h0M439.3 654.4h0M204.9 694.8h0M374 568.3h0M397.5 610.2h0M399.3 594.6h0M233.2 607.9h0M565.8 802.9h0M384.8 585.2h0M452.1 715.8h0M488.8 755.6h0M288.2 538.2h0M199.9 696.5h0M429.9 686.6h0M544.9 777.4h0M536.8 807.5h0M532.2 780.6h0M269.1 550.9h0M534.6 786.6h0M219.4 657.2h0M300.8 531.9h0M511.9 790.4h0M226 622.4h0M494.4 764.5h0M500.2 795.2h0M543.7 801.1h0M524 814.1h0M469.7 708.9h0M254.9 567.6h0M235.1 598.7h0M220.9 647.9h0M311.1 531.7h0M311.4 529.3h0M576.5 797.9h0M523 797.3h0M226.2 631.3h0M373.4 545.8h0M502.4 777.4h0M342.6 535.7h0M393.4 575.1h0M531.8 808.1h0M547.5 796.8h0M256.5 569.8h0M510 782.2h0M365.2 553h0M198.4 701.6h0M307.9 532.6h0M536.9 800h0M261.4 559.5h0M254.1 563.1h0M563.1 802.4h0M358.7 549.3h0M546 800.3h0M299.3 536.1h0M213.6 680.4h0M547.1 810h0M314.4 529.5h0M556.7 816.2h0" stroke="#4bb447" stroke-width="5.4" stroke-linecap="round" fill="none"/>
<path d="M517.2 811.2h0M249.2 726.8h0M383.6 804.1h0M360.3 799.1h0M508.4 810.1h0M463.4 807.4h0M435.7 808h0M539.6 812.3h0M232.3 689.3h0M235.9 699.8h0M379.1 802.9h0M445.4 810.2h0M449.8 809.4h0M525.4 814.2h0M258.3 742.1h0M230.6 685.8h0M325.9 796.6h0M460.3 807.1h0M306.9 788.7h0M472.8 808.8h0M402.5 804.7h0M302.5 784.7h0M407.8 804.5h0M370.6 806.3h0M519.6 808.7h0M503 809.2h0M279.9 773.5h0M274.4 762.2h0M519.8 811.9h0M520.9 811.3h0M526.6 809.1h0M335 795.4h0M239.4 701.6h0M402.7 800.2h0M561.6 810.1h0M418.6 808h0M456.7 811.4h0M201.3 605.5h0M349.8 802.6h0M258.5 744.5h0M221.4 656.4h0M275.2 765.3h0M302 783.6h0M385 803.2h0M428.8 807.9h0M401 803.3h0M329.1 796.5h0M249.2 725.4h0M383.1 799.7h0M540.4 812.1h0M540.5 812.2h0M546.7 809.8h0M537.5 815.6h0M413.6 808.5h0M392 806.2h0M276 769.8h0M480.5 809.2h0M416.7 805.4h0M346.5 798.9h0M213.4 626.3h0M260 744h0M458 807.1h0M390.9 802h0M492.7 810.4h0M234.6 699.6h0M453.8 805.6h0M533 811h0M201.6 605.2h0M570.9 813.3h0M213.3 625.5h0M473.8 811.1h0M398 804.3h0M310.8 789h0M326.7 796.4h0M203.6 606.5h0M485.6 813h0M198.1 603.8h0M564.8 814.4h0M568.4 811.8h0M515.9 812.8h0M239.2 703.8h0M432.1 806h0M506.6 811.7h0M347.6 801.4h0M355.1 801.5h0M499.2 810.9h0M197.8 604.2h0M336.2 793.8h0M518.9 814.7h0M502.2 810.4h0M551.3 813h0M528.1 811.6h0M267.8 756h0M550.8 810.6h0M286.6 775.6h0M404.6 805.4h0M414.5 803.5h0M451.4 808h0M432 807.2h0M279.3 766.6h0M528.8 813.9h0M247.7 725.6h0M480 807.4h0M191.2 606.2h0M539 815.3h0M532.5 810.2h0M291.8 777.8h0M405.3 807.1h0M378.4 805.8h0M553.5 812.2h0M303.3 785.6h0M219.5 647.6h0M344.6 800.6h0M310.4 788.6h0M292 779.4h0M492.7 813.6h0M339.4 800.3h0M244.5 719.3h0M261.9 748.1h0M529.2 811.3h0M370.8 801.3h0M268.3 754.7h0M376 802.3h0M232.4 686.9h0M377 805.8h0M282.9 774h0M339.3 795.8h0M553.1 814.9h0M378.6 800.7h0M477.8 808.2h0M316.5 791.2h0M264.8 752.3h0M325.2 797.2h0M272.4 762.8h0M388.4 805.2h0M452.5 809.7h0M293.1 778.8h0M464.2 810.2h0M389.7 805.6h0M499.7 814.2h0M486.9 809.9h0M557.3 812.2h0M457.6 806.8h0M214.5 631.6h0M323.7 793.5h0M344.6 800.2h0M530.3 811.3h0M528.1 811.1h0M274.4 765.8h0M540.2 814h0M351.2 799h0M452.5 810.8h0M450.7 808.2h0M357.8 801h0M409 810.1h0M373.6 801.5h0M456.2 804.7h0M512.3 812h0M401.4 806h0M532.3 810h0M385.7 806.4h0M210.6 620.2h0M422.4 805.9h0M316.2 793.2h0M477.6 810.3h0M300.5 787.3h0M441.1 808.3h0M264.8 750.9h0M442.8 809h0M424.5 808.3h0M459.8 809.8h0M202.4 607.8h0M365.6 802.1h0M480.7 812h0M364.1 800.6h0M303.7 790.5h0M483.7 813.8h0M454.1 807.9h0M362.6 797.5h0M518.2 812.4h0M454.8 808.4h0M578 815.2h0M446.5 807.6h0M566.7 812h0M477.4 808.7h0M365.4 802.5h0M193.1 601.9h0M476.9 811.8h0M357 797.3h0M526.7 813.7h0M534.8 810.3h0M514.9 808.8h0M403.6 800.9h0M436.3 807.2h0M440 810.5h0M363.8 799.6h0M346.5 800.2h0M571.5 814.5h0M190.1 607.4h0M528.4 813.4h0M240.8 707.3h0M233.5 690.9h0M490.3 808.9h0M195.4 603.7h0M447.7 809h0M283.7 773h0M524.7 809.3h0M410.1 801.8h0M279.3 769h0M417.5 806.3h0M475.7 810.3h0M520.9 812.3h0M197.2 605.3h0M550.7 811.6h0M511.8 813.8h0M280.4 770.7h0M424.6 806.9h0M394.2 806.6h0M426.2 808.3h0M285 775h0M550 813.9h0M465.3 808.3h0M410.8 808.6h0M559.6 811.8h0M334.3 799.2h0M399.6 802.9h0M436.7 806.1h0M430.4 804.7h0M320.4 795.1h0M421.9 809.3h0M356.8 802.7h0M473.4 810.2h0M331.4 794.2h0M365.4 800.2h0M419.7 805.5h0M262 751h0M402.8 803h0M532.7 810.4h0M461.1 810.1h0M385 808.6h0M240.1 707.3h0M414 806.6h0M350.5 796.4h0M336.3 796.7h0M469.5 808.5h0M570.2 809.4h0M392 800.3h0M262.2 748.5h0M454.6 807.2h0M365.7 799.3h0M521.8 812.9h0M484.2 809.6h0M328.7 796.4h0M511 813h0M398.1 803.9h0M465.6 806.6h0M213.5 626.8h0M298 782.2h0M523.7 809.4h0M198 606.6h0M457.9 811.2h0M551 813.3h0M518.6 810.7h0M249.1 727.9h0M239.3 703.2h0M336.4 795.2h0M213.1 623.3h0M429.4 803.3h0M446.7 806.6h0M455.9 804.8h0M511.9 811.5h0M314.5 789.8h0M195.4 605.8h0M259.5 745.7h0M510.4 809h0M247.5 721.2h0M231.1 686.2h0M457.9 807.6h0M427.5 808.1h0M547.5 812.4h0M506.4 810.2h0M532.2 814.1h0M541.8 812.7h0M194.5 607.6h0M560.5 811.8h0M292.5 778.7h0M226.1 670.1h0M542 812.4h0M305.8 790h0M245.9 724.9h0M410.7 806h0M512.4 808.3h0M316.3 793h0M524 811.7h0M567.7 813.2h0M398.2 806.8h0M279.7 767.2h0M306.2 787h0M255.4 742.1h0M362 803.3h0M344.7 796.2h0M303.3 788.6h0M347.4 799.1h0M291.9 782.9h0M524.6 810.9h0M547.2 813.5h0M359.4 801.7h0M235 700.6h0M304.1 783.8h0M456.8 803.3h0M572 812h0M484.9 809.1h0M215.3 631.1h0M325.6 795h0M215.8 635.3h0M408.9 807.1h0M343.9 797h0M364 803.4h0M301 786.8h0M224.6 665.5h0M495.2 813.2h0M323.9 791.6h0M217 639.2h0M268.5 757.6h0M209 614.4h0M531 811.8h0M256.8 739.9h0M556.1 813.3h0M568.9 811.3h0M237.4 700.4h0M497.9 812.4h0M273.6 761.7h0M467.8 807.5h0M566.9 811.4h0M370.5 803.7h0M273.5 762h0M447.2 804.9h0M427.2 808.3h0M284.8 777.6h0M400 806.1h0M388 804.1h0M349.9 796.7h0M335.2 794.8h0M549.7 810.7h0M447.4 808.6h0M349.9 797.9h0M409.5 805.9h0M434.3 809.5h0M529 815.1h0M365.4 799.5h0M507.5 814.2h0M251.5 731.5h0M474.4 805.3h0M463.7 809.2h0M194.4 607h0M441 808.7h0M218.4 643h0M544.6 811.2h0M406.3 803.9h0M248.3 724.3h0M475.5 809.7h0M296.1 783h0M216.6 631.3h0M408.9 803.4h0M501.9 812.6h0M468.5 809.7h0M503.1 810.9h0M467 812.3h0M340 798.9h0M274.6 763h0M322 796.6h0M514.6 810.9h0M198.7 605.4h0M219.8 645.7h0M548.3 810h0M193.7 607.3h0M406.3 804.4h0M539.3 812.3h0M393.1 802.3h0M480.1 811.5h0M201.4 607.1h0M477.9 809.1h0M430.7 804.3h0M436.8 804h0M297.2 785.1h0M427.6 806h0M487.4 811.6h0M519.2 809.5h0M219.7 644.5h0M535.5 812.3h0M467.7 808.4h0M402.5 802.4h0M477 809h0M481.4 810.7h0M404.7 807.6h0M525.2 812.9h0M530.8 809.7h0M505.2 813.9h0M276.1 763.2h0M340.6 797.6h0M549 812h0M410.7 803.9h0M256 739.5h0M504.4 808.5h0M258.2 747.9h0M565.8 810.3h0M447.3 809h0M559.7 811.7h0M311.8 791.2h0M534.2 808.5h0M309.2 790.8h0M219.4 650.8h0M484.1 806.5h0M553.5 810.5h0M550.2 812.1h0M241.8 709.4h0M406.6 808.3h0M450.2 809.3h0M312.2 789.8h0M474.9 807.4h0M336.8 795.8h0M527.6 808.8h0M409.1 805.4h0M357.2 801.9h0M385.2 804.5h0M351.3 796.8h0M378.9 803.1h0M462.4 806.2h0M318.1 796h0M198.8 606.8h0M455.2 810.1h0M365.3 800.8h0M526.8 813.1h0M198.4 608.1h0M488.8 810.8h0M307.2 793h0M507.8 812.3h0M315.6 790.9h0M237.5 706.2h0M442.1 806.7h0M272.3 762.4h0M501.2 811.8h0M405.7 804.8h0M522 810.6h0M452.9 808.1h0M366.4 803.1h0M424.8 802.9h0M211.3 620.3h0M228.8 678.5h0M287.4 774.2h0M390.4 805.2h0M539.8 808h0M193.1 603.9h0M292 780h0M224.9 674.3h0M509.7 812.8h0M535 813.3h0M405.6 806.2h0M275.2 763.1h0M512.1 810.9h0M319 793.1h0M430.9 806.2h0M499.8 811.5h0M321.8 796.5h0M273.2 765.1h0M216.8 631.2h0M548.2 812.5h0M203.8 606.1h0M509.7 807.4h0M555.2 811.5h0M352.5 798.1h0M242.3 712.5h0M458.1 809.1h0M266.4 753.8h0M360.5 800.7h0M318.8 790.4h0M473.7 809.8h0M481.6 807.8h0M431.1 807.3h0M388.1 802.8h0M478.6 805.8h0M260.2 750.1h0M268.8 753.7h0M257 742.9h0M264.4 752.2h0M366.6 802.3h0M245.5 720.1h0M551.4 814.7h0M217.2 642.1h0M553.7 807.8h0M499.4 808.4h0M405.7 806.2h0M395.1 808.5h0M500.8 809.8h0M317.6 789h0M507.3 810.2h0M358.3 803.7h0M503.2 812h0M391.3 803.8h0M570.8 812.5h0M429.8 804.6h0M440.8 809.7h0M280.9 772.6h0M579.4 816.2h0M214.6 624.5h0M199.8 605.2h0M328.4 796.5h0M572.7 816h0M291.6 778.7h0M216.5 637h0M314.9 794h0M488.1 813.9h0M498.2 812.9h0M220 650.9h0M352.1 801.9h0M357 798.2h0M257.2 740.6h0M247.6 727.8h0M314.9 792.5h0M339.5 798h0M426.1 809.1h0M444.9 806.9h0M429 808.6h0M354.6 800.9h0M257.7 741.6h0M233.4 694.1h0M243.3 718.1h0M476.3 807.2h0M264.3 755.9h0M374.5 805.2h0M285.5 777.7h0M293 782.1h0M480.4 809.4h0M497.6 816.2h0M399.3 806.5h0M433.6 804h0M437.5 804.7h0M501.1 809h0M190.2 606.4h0M294.6 781.5h0M499.6 811.8h0M579.8 815.9h0M462.9 808h0M511.4 809h0M261.8 747.7h0M204.3 609.6h0M555.9 810.4h0M284.4 775h0M297.6 781h0M437.7 808.2h0M391.1 808.1h0M519.1 810.4h0M283.7 772.3h0M258.3 744h0M220.4 652.8h0M498.7 808.6h0M444.8 813.7h0M454.3 803.7h0M293.8 780.8h0M267 754.8h0M474.1 812.2h0M502.4 814.3h0M302.1 778.7h0M312.5 791.4h0M499.3 809.1h0M503.3 812h0M256.7 740h0M291.8 778.4h0M485.8 811.7h0M465.5 808.4h0M338.4 798.2h0M501.9 809.4h0M459.3 807.2h0M359.9 801.1h0M383.5 800.8h0M271.4 759.9h0M348.1 799.8h0M233.8 689.7h0M391.1 804.9h0M218.1 638.1h0M193.2 611.2h0M565.5 815.9h0M243 717.8h0M314.4 788.7h0M534.4 810.1h0M222 663h0M414.6 804.8h0M384.6 807.5h0M418.7 805.6h0M445.2 804.8h0M383.5 802.5h0M541.7 807.5h0M440.2 808h0M250.6 727.2h0M415.6 804.9h0M210 616.3h0M291.9 778.6h0M542.2 810.3h0M211.6 617.8h0M323.5 794.4h0M216.3 633h0M538.5 812h0M211.7 625h0M409.7 807.8h0M370 799.8h0M533.9 810.3h0M208.3 615.4h0M195.7 605.3h0M511.6 812.6h0M261.2 747.6h0M360.7 803h0M545.1 813.5h0M313.8 788.7h0M272.7 760.4h0M512.1 814.2h0M502.9 812.9h0M577.6 809.7h0M499.1 807.5h0M423.8 804.3h0M270.8 756.5h0M483.5 811.5h0M406 804.1h0M354.3 801.2h0M418.2 801.4h0M249.9 729.7h0M554.1 811.2h0M335.1 796.2h0M552.7 813.4h0M494 811.1h0M442.8 813.7h0M299.8 786.3h0M462.9 811h0M332.9 794.9h0M548.1 809.2h0M330.5 795.6h0M524.9 813.5h0M208 618.7h0M504.8 809.9h0M385.1 804.2h0M424 806.6h0M431.9 808.9h0M573.1 811.8h0M431.8 806.9h0M559.5 810.4h0M465.7 811.1h0M365.1 801.3h0M549 814.8h0M484.9 808.9h0M462.4 808.8h0M548.1 812.6h0M263.8 750.2h0M260.2 749.2h0M425.3 803h0M326.1 794.4h0M250.5 731.7h0M295.3 782.1h0M205.3 611.1h0M514.7 812.3h0M237.3 697h0M200.4 606.3h0M406 805h0M292.7 780.1h0M248.5 729.7h0M392.4 803.7h0M352.1 802.1h0M340.6 793.8h0M447.4 805.7h0M254.2 735.4h0M380.7 802.5h0M548.6 812h0M330.6 794h0M476.5 804h0M336.1 797.6h0M283.7 775.5h0M342.3 798.2h0M217.5 643.8h0M301.5 783.6h0M310.4 792.3h0M513.3 812h0M522.1 812h0M488.3 808h0M383.4 801.3h0M217.6 640.6h0M458.5 807h0M385.9 803.6h0M505 810.6h0M377.6 807.5h0M207.5 614.7h0M392.5 806.2h0M238.1 705h0M537.4 811.5h0M209.2 615.2h0M359.4 800.5h0M243.2 716.6h0M408.4 804.3h0M209.4 619.3h0M571.7 813.8h0M444.1 805.3h0M516.1 811.8h0M337.9 795.5h0M323.9 796.3h0M349.6 799.6h0M199.2 606.8h0M460.8 810.5h0M400.3 803.6h0M430.3 810.3h0M310.1 788.7h0M211 625h0M449.4 807.3h0M515.4 811.2h0M346.3 796.4h0M348.5 794.9h0M291.1 781h0M278.2 767.2h0M480.3 812.5h0M400.1 805.2h0M574.4 812.3h0M428.3 805.9h0M258.7 742.8h0M291.9 779.2h0M453.1 806h0M328.6 796.8h0M464.7 808.1h0M445.7 809.1h0M495.2 811.4h0M424.5 811.2h0M383.8 803.8h0M386.8 803.9h0M292.7 781.4h0M266.9 757h0M515.5 814.8h0M454.7 809.9h0M414.1 807.1h0M498.1 810.1h0M225.4 668.1h0M423.5 807.8h0M517.8 811.7h0M412.9 805.4h0M531.5 813.4h0M238.7 700.7h0M560.8 808.1h0M303.4 785.5h0M463.3 809.4h0M565.4 811.8h0M407.5 803.6h0M300.9 783.5h0M572.5 815.1h0M290.6 778.2h0M469.5 810.8h0M420 807.1h0M391 803.8h0M493.6 809.7h0M550.7 812.6h0M561.7 813.9h0M494.4 810.2h0M511 813.3h0M201.1 602.7h0M335 800h0M409 804.4h0M375.1 802.4h0M554.7 812.1h0M547.3 814.1h0M377.5 804.2h0M548.8 812.7h0M328 796.5h0M499.4 811.4h0M241.6 711.2h0M576 813.4h0M366.3 800.6h0M569.8 810.9h0M289.6 779.6h0M298.5 783.1h0M299.2 783.6h0M304.1 788.1h0M224.1 663.4h0M497.4 808.6h0M388.9 804.8h0M390.5 808.1h0M293 778.3h0M377.6 801.1h0M369.4 804.3h0M195.8 605.7h0M306.6 787.3h0M256.3 742.9h0M306 786.5h0M357 798.7h0M574.6 810.8h0M335.8 794.2h0M537.8 813.9h0M478.6 807.1h0M574.6 807.9h0M508.5 815.7h0M557.3 813h0M247 722h0M495.7 812.8h0M326.3 799h0M342.8 798h0M232.8 690.6h0M245.5 722h0M454.5 808.2h0M275.3 762.3h0M441.8 805.4h0M328.5 795.3h0M437.3 809.9h0M434.2 807.3h0M273.9 768.4h0M544.2 814.1h0M467.8 809h0M410.3 805.2h0M431.3 807.8h0M442.7 808.6h0M328 799.9h0M427.8 809.8h0M250.5 734.1h0M575.2 813.7h0M463 810.2h0M489.1 806.7h0M480.8 807.9h0M521.7 813.7h0M370.1 803.5h0M289 779.8h0M202 607.3h0M390.8 805.5h0M250 732.9h0M370.9 800.1h0M213.7 629.1h0M492.6 809.1h0M329.1 795.8h0M309 788.7h0M502.4 811.8h0M345 802.8h0M373 802.4h0M448.5 807.6h0M202.7 612.1h0M310.9 794.8h0M578.1 810.3h0M457.2 810.4h0M240.4 708.9h0M560.4 813.8h0M552.7 808.8h0M445.3 810.4h0M196.1 603.3h0M352.1 805h0M340.2 796.2h0M259.3 747.6h0M425.5 811.2h0M301.9 785.8h0M451.5 809h0M285.9 779.1h0M545.4 811.4h0M296.9 783h0M195.3 604.4h0M520.6 814.4h0M276.6 766.7h0M206.7 615.1h0M559.7 812.1h0M315.9 793.2h0M463.7 811.2h0M232.2 686h0M505.5 811.9h0M518.3 809.3h0M298 782.8h0M284 774.7h0M242.6 721.4h0M418.6 806.7h0M350.7 798.2h0M537.5 809.6h0M333.8 796h0M387.6 803.3h0M340.9 799.4h0M294.1 782.7h0M212.6 614.5h0M421.8 804.2h0M303.4 789h0M544.6 811.4h0M444.9 806.2h0M436.5 811.2h0M527.8 812.4h0M263.3 749.3h0M537.3 808.6h0M508.2 807.9h0M261.9 749.1h0M275.2 764.8h0M207.3 612.5h0M363.7 800.7h0M235.2 693.6h0M507.3 813.3h0M297.7 783.8h0M278 769.4h0M546.7 813.7h0M311 791.5h0M320.4 789.8h0M407.2 801.3h0M399.9 802.2h0M306.7 791.7h0M430.9 807h0M273.6 758.5h0M451.4 808.7h0M311.5 791.7h0M277.8 767.2h0M323.6 794.8h0M292.2 780.5h0M500.9 810.4h0M485.9 809.4h0M233.1 693.1h0M540.1 812h0M510 813.4h0M226.8 678.3h0M382.7 802.4h0M394.5 805.1h0M387.3 804.5h0M197.5 608.5h0M548.2 809.8h0M357.6 802.7h0M474.6 808.6h0M404.3 806.4h0M551.1 810.5h0M305.9 786.4h0M464.2 809.5h0M313.9 797.1h0M551.9 816.2h0M308.8 790.9h0M206 615.1h0M379.3 802.6h0M464.7 804.5h0M348.9 798h0M481.6 810.6h0M479.9 806.7h0M277.5 769h0M347.5 797.2h0M575.9 811.8h0M391.6 808.4h0M532.3 809.8h0M345.2 795.4h0M276.9 767.4h0M533.5 810.2h0M367.2 800.7h0M195.2 605.9h0M463.4 809.8h0M399 802.7h0M511.6 812.6h0M565.1 813.5h0M459 806.8h0M240.6 705.8h0M227.5 674.8h0M523.5 812.8h0M477.9 812.8h0M508.9 809h0M402.5 809.1h0M420.3 806.5h0M217.9 640.4h0M355.7 796.6h0M409.8 806h0M300.9 787.9h0M220.6 651.5h0M534.6 809.1h0M248.8 729.5h0M390 806.9h0M451.8 806.7h0M381.5 803.3h0M537.3 813.9h0M281.3 771.9h0M539.2 811.8h0M526.4 814h0M402.4 806.4h0M352.5 796.9h0M525.4 810.9h0M380.6 801.1h0M565.2 812.4h0M247.8 725.5h0M228.1 680.2h0M256.7 743.5h0M517.6 810.7h0M359 801.3h0M372.5 803h0M450.6 808.7h0M269.3 759.4h0M361.6 798.1h0M426.2 809.6h0M200 605.8h0M359.8 803.1h0M418.9 804.5h0M353 800.3h0M266.8 755.2h0M214.5 625.7h0M559.8 811.5h0M500.5 810.7h0M405.7 804.5h0M473.7 809.1h0M198.4 606.4h0M579.9 813.2h0M321.5 794h0M363.4 802.6h0M215.1 630.5h0M315 788.6h0M235.3 702.4h0M321.4 790.4h0M352.8 800.8h0M425.4 806.2h0M240.4 710.1h0M528.9 812.1h0M558.5 811.1h0M241.2 706.4h0M247.9 727.3h0M496.3 810.3h0M319.9 794.8h0M295.5 778h0M293.3 779h0M262.6 747.3h0M543.1 811.9h0M450.2 812.4h0M273.9 763.6h0M579.6 816.2h0M318.6 794.7h0M487.1 807.9h0M475.8 811h0M360.1 802.2h0M452.3 812.7h0M299.7 783.6h0M474.5 808.1h0M268.9 758.6h0M239.7 708.1h0M337.5 800.9h0M464.9 810.5h0M468.3 809h0M298.6 782.4h0M202.4 607.3h0M404.9 808.5h0M482.4 810.9h0M204.6 606.7h0M244.5 719.7h0M368.1 801.3h0M265.7 752.7h0M339.7 799.1h0M259.5 744.9h0M464 812.9h0M493.6 811.9h0M562.4 812.3h0M201.5 605.4h0M243 712.2h0M532 812.7h0M460.1 808h0M458.4 808.1h0M196.5 606.9h0M578.7 814.2h0M313.3 791.3h0M210.9 620.7h0M232.3 691.1h0M245.9 718.1h0M442.7 807.7h0M351.2 798.2h0M308 789.9h0M254.9 733.8h0M297.5 787.9h0M505.4 811.6h0M333.3 796.7h0M192.7 603.4h0M578.9 812.7h0M563.5 814.4h0M335 793.8h0M442.7 806.5h0M225.6 673.1h0M412.7 806.3h0M210.1 618.3h0M281.6 771.6h0M557 815.7h0M241.1 709.5h0M395.3 806.5h0M422.6 805.1h0M276.7 767.2h0M564.9 814.5h0M386.7 801.4h0M220 646.2h0M489.4 812.5h0M375.2 804.9h0M257.7 744.6h0M328.7 795.4h0M407.5 803.6h0M383.4 805.5h0M361.2 802.6h0M191.5 605.1h0M228.5 680h0M352.1 799.9h0M570.7 812.7h0M256.8 741.5h0M282.9 769.8h0M367.6 800h0M310.2 790.3h0M533.2 809.3h0M484.9 806.7h0M459.6 808.3h0M244.1 717.3h0M333.7 798h0M498.7 810.8h0M408.6 805.1h0M245.9 719.4h0M521.6 813.5h0M548.2 815.4h0M487.7 810.5h0M422 805h0M253.8 741.5h0M327.3 796.1h0M362.8 802.8h0M412.8 808.3h0M400.2 804.8h0M245.9 720.1h0M423 809.1h0M505.5 810.7h0M272.5 763.6h0M218.1 635.1h0M342.5 798.4h0M342.2 799.6h0M551.2 810.4h0M293.7 779.7h0M491.9 813h0M511 815.3h0M241.2 711.5h0M544.4 811.7h0M414.1 804.1h0M526.4 812.9h0M497.9 811.6h0M379.8 807h0M520.2 812.5h0M317.4 792.5h0M315.1 793h0M422.9 806.7h0M336.4 799.2h0M271.8 760.9h0M504.7 810.6h0M506.8 814.5h0M221.9 654h0M465.6 806.9h0M548.4 813.3h0M506.6 811.8h0M246.8 724.9h0M223.7 669h0M363.4 802.5h0M539.1 814.6h0M545.6 812.6h0M199.7 607.3h0M540.9 814.3h0M441.5 807.3h0M446.5 806h0M282.3 770.7h0M434.5 808h0M556.7 812.4h0M416.9 808.6h0M546.1 812.6h0M458.4 806.5h0M282.8 771.9h0M326.8 793h0M290.8 782.6h0M306.2 785.1h0M450.6 807.8h0M380.9 800.6h0M542 812.1h0M266.7 752.6h0M240.6 707.2h0M224.2 667.3h0M286.7 775h0M468.7 810.1h0M254.3 735h0M439.2 806.7h0M545.7 810.6h0M434.1 804.7h0M270.3 758.8h0M487.4 813.5h0M517.1 809.2h0M395.5 806.8h0M339.1 797.8h0M426.3 807.7h0M228 683.5h0M447.2 806.5h0M278.4 770.8h0M438.3 808.7h0M310.9 787.2h0M334.6 801.6h0M552.1 815.7h0M322.8 792.3h0M497.3 812.1h0M229.9 681h0M459.6 809.3h0M219.8 653.5h0M387.4 803h0M536.1 813.4h0M294.6 783.8h0M299.3 783.2h0M547.2 814.4h0M357.4 803.2h0M437 810.5h0M468.4 807.5h0M472.5 805.5h0M565.8 810.1h0M561.9 813.7h0M219.6 649.5h0M209.9 617.3h0M480.2 810.3h0M268.6 756.5h0M463.4 809.8h0M234.3 694.8h0M369.1 808.6h0M359.2 800.1h0M360 803.6h0M406.5 806.7h0M239.9 708h0M364.2 801.2h0M576.4 811.2h0M213.2 619h0M498.5 815.7h0M411.6 808.8h0M262.2 743.3h0M451.1 807.9h0M322.7 795.6h0M377.6 803.8h0M273.7 762.5h0M578.7 810.6h0M553.7 812.9h0M386.5 804.2h0M376.9 805.8h0M343.1 795.4h0M415.1 805.6h0M435.7 808.1h0M485.6 813.2h0M246.5 720.8h0M545.7 810.3h0M218.8 641.2h0M554.3 808.4h0M274.3 765h0M379.8 804.2h0M517 813.5h0M327.7 794.8h0M230.3 685.7h0M455.1 808.7h0M473.8 809.3h0M348.5 798.4h0M446.8 810.4h0M517.9 809.2h0M190.7 606.4h0M443.2 809.9h0M432.9 808.2h0M366.7 801.3h0M267.6 755.6h0M322.1 792h0M349 796.9h0M508.2 806.7h0M478.9 810.2h0M388.6 801.7h0M307.8 793.9h0M530 808h0M205 611.2h0M330.6 793.7h0M320.3 794h0M378.7 802.4h0M207.1 611.6h0M355.7 801.5h0M245.7 719.7h0M213.1 633.5h0M577.2 811.4h0M515.1 811.7h0M320.7 794.4h0M443.9 805.8h0M282.7 771.4h0M535.9 811.4h0M438.7 811.2h0M360.8 800.5h0M302.2 786.4h0M361.6 798.9h0M482.2 811.1h0M493.7 813.1h0M211 620.5h0M568.9 808.7h0M393.5 807h0M542.3 809.4h0M211.7 626.9h0M525.3 815.7h0M420.1 805.7h0M226.6 673.5h0M190.1 605.4h0M282.8 775.2h0M546.8 812.5h0M446.2 810.3h0M317.4 786.9h0M308.1 788.1h0M470.4 813.6h0M345.2 797h0M223.9 665.7h0M439.2 808.7h0M388.2 805.4h0M530.8 811.9h0M227.8 674.5h0M447.9 809.6h0M491.5 812.1h0M386.5 802h0M501.8 811.9h0M535.8 814h0M476.8 810.3h0M266.5 753.5h0M238 702.8h0M403.1 806.2h0M572.9 809.6h0M562.9 809.5h0M368.3 805.2h0M432.4 809h0M311.3 792.2h0M438.3 808.3h0M196.8 605.5h0M539.8 812.1h0M544 811.9h0M456.7 807.2h0M244.9 719.5h0M299.2 788.1h0M527.5 811h0M308.1 786.6h0M498.8 810.4h0M525 812.5h0M467.3 807.4h0M306.8 788.1h0M432.3 808.9h0M524.4 812.4h0M470.1 808.3h0M509.4 810.5h0M531.1 810.4h0M397.1 806.1h0M452.6 806.8h0M410.7 802.6h0M572.9 813.2h0M226.1 675.2h0M200 604.3h0M500.6 810.8h0M491.7 812.9h0M429.4 808h0M194.1 602.8h0M308.8 789h0M518.7 807.7h0M248.4 726.4h0M199.5 605.5h0M571.8 810.3h0M402.2 806.5h0M235.4 693.8h0M333.9 797h0M521.4 812h0M520 810.7h0M290.3 779.9h0M490.4 812.7h0M322.1 795.6h0M262 746.1h0M413.9 805.6h0M336 797.2h0M492.5 808.8h0M537.2 813.6h0M570 813.2h0M483.9 807.3h0M329.2 797.9h0M324.9 792.3h0M263.1 752.8h0M372.1 801h0M480 809.6h0M208.3 616h0M233.9 692.2h0M460 806.8h0M289.5 780.4h0M404.3 807h0M395.3 802.7h0M255.1 742h0M533.3 812.1h0M370.9 802.6h0M203.6 610.3h0M532.2 815.4h0M474.8 809.7h0M254.1 738h0M501.4 813.7h0M235.9 698h0M378.6 802.5h0M450.6 804.7h0M577.2 813.6h0M561 809.5h0M535.2 812.7h0M552.7 811.2h0M235.1 698.6h0M208.8 614.6h0M233.1 690.5h0M455.8 809.6h0M206.7 616.6h0M268.2 754.3h0M209.1 618.2h0M434.7 809.1h0M453.4 804.6h0M279.7 769.5h0M287.1 775.9h0M570.5 812.1h0M358.5 800.2h0M294.8 783.3h0M452.7 807.1h0M470.5 809.1h0M393.5 802.6h0M224 665.8h0M291.1 779h0M502.2 810.3h0M298.1 781.7h0M252.1 731.4h0M298.6 780.1h0M482 810h0M544.8 814.2h0M531 809.4h0M536.8 811.6h0M539 810.3h0M567.8 813h0M521 809.7h0M434.2 810.3h0M306.6 788.2h0M579.2 815.2h0M275.2 760.7h0M314.1 791.8h0M488.3 814.2h0M361.2 798.3h0M206 610h0M404.1 802.8h0M532.6 813.9h0M394.1 802h0M489.1 807.6h0M267.2 754.5h0M495 809.2h0M318.3 793.8h0M329 796.3h0M478.4 806.9h0M408.4 807h0M358.4 800.3h0M328.4 794.8h0M311.1 789.2h0M532.5 810h0M415.5 809.7h0M490.4 808.5h0M562.4 814.6h0M366.7 802h0M469 809.3h0M217.8 641.6h0M383.6 804.1h0M454.9 809.5h0M485.6 808.6h0M431.1 803.2h0M375 803.8h0M553.1 813.3h0M258.9 746.2h0M458.5 810.9h0M342.4 800.5h0M195 606.2h0M578.7 811h0M491 810.9h0M521.1 813.1h0M233 690.7h0M510.6 812.7h0M363.4 795.6h0M299.7 781.7h0M406.7 805.3h0M521.3 814.8h0M557.7 813.2h0M387.3 805.8h0M483.7 811.4h0M515 815.6h0M441.3 809.2h0M575.1 813.6h0M368.7 803.3h0M229.4 685.4h0M363.8 800.4h0M394.7 806.3h0M485.8 815.2h0M514 813.3h0M207 610.7h0M282.3 769.1h0M250.4 732.7h0M544.3 812.2h0M229.2 680.2h0M528.5 809.8h0M264.6 753.7h0M528.2 811h0M387.9 805h0M502.7 814.3h0M561.5 810.4h0M575 812.6h0M221.6 653.9h0M534.2 812.1h0M480.5 811.9h0M328.1 796.6h0M270.9 759.4h0M443.4 810.6h0M461.8 805.2h0M242.9 711.1h0M474.2 813.6h0M405.3 803h0M455.9 809.2h0M514 810.1h0M369.9 801.6h0M550.7 812.4h0M413.2 803.7h0M295 782h0M334.1 794h0M305.1 787.2h0M557.4 815h0M445.7 808.2h0M400.6 804h0M547.1 813.1h0M425.9 809.5h0M388.4 800.3h0M364 801.3h0M528.3 811.7h0M391.6 807.7h0M333.6 795.6h0M268.3 757.1h0M304.4 785h0M493.2 807.2h0M270.7 760h0M522.1 812.9h0M505.3 808.8h0M283.7 771.8h0M234.4 696.9h0M519.7 810h0M417.3 806.3h0M519.8 811.5h0M557.2 812.1h0M260.4 750.1h0M444.1 805.7h0M288.8 774.9h0M383.3 805.4h0M236.8 700.2h0M501.5 810.3h0M341.7 796.8h0M246.6 723h0M236.4 703.8h0M352.4 798.8h0M309.1 789.4h0M464.4 810.6h0M257.4 742.1h0M309.3 789.8h0M551.3 810.7h0M325.2 797.8h0M239.4 708h0M263.7 752.7h0M541.9 811.8h0M252.4 730.4h0M271.2 762.2h0M416.1 802.9h0M332.4 795.2h0M207.4 611.1h0M351.9 796.1h0M273.3 762.5h0M349.4 801.2h0M413.3 806.2h0M382.2 800.4h0M238.1 702.2h0M452.2 804.6h0M271.3 755.7h0M505.2 810h0M384.9 805.5h0M205 609.3h0M577.5 811.9h0M285.3 772.5h0M192 604h0M520.6 813.1h0M356.5 797.7h0M334.6 797.8h0M486.3 810h0M579.8 811.2h0M244.5 714.2h0M500.1 810.3h0M573.1 813.4h0M554.7 812.3h0M309 786.9h0M209.3 619.1h0M387.5 806.3h0M431.6 812h0M281.8 769.6h0M422.3 807.9h0M202 607.5h0M524.7 813.6h0M328.1 796.8h0M209.1 618.1h0M294.9 778.3h0M537.6 813.5h0M264.6 753.6h0M289.8 778h0M321.8 792.3h0M359.4 802.5h0M262.6 746.6h0M278.2 765.9h0M499.7 810h0M424 809.7h0M273.1 759.9h0M572.1 812.9h0M322.9 793.7h0M403.2 806h0M438.8 807.1h0M572.1 816.2h0M460.7 808.3h0M523.6 808.8h0M346.8 798.6h0M308 788.4h0M486.3 810.3h0M427.2 803.3h0M362.2 802.6h0M229.8 683.3h0M365.4 803.6h0M219.3 648.5h0M473.6 809.8h0M278.4 767.1h0M395.6 806h0M374.7 804.7h0M192 603.8h0M566.2 810.2h0M268.1 757.5h0M477.1 808.7h0M550.3 812.4h0M375 803.7h0M316.9 792.2h0M222.1 654.6h0M306.5 791.6h0M367.1 804.1h0M345 800.2h0M274.8 764.1h0M430.3 805.4h0M493.3 809.3h0M343.3 800.3h0M280.2 769.1h0M306 790.7h0M266.8 756.8h0M564.6 810.3h0M526.6 811.9h0M220.2 647.5h0M238.3 705.4h0M510.2 812.1h0M379.2 804.7h0M313.3 795.1h0M551.4 809.5h0M348.1 797.3h0M356.7 793h0M528.4 807.5h0M477.9 809.4h0M400 806.1h0M198.7 609.1h0M388.8 805h0M512.7 811.3h0M395.9 806.8h0M254.9 735.7h0M431.3 805h0M492.2 812.7h0M391.7 805h0M382.9 806.5h0M498.5 808.5h0M320.6 795.3h0M302.5 787.1h0M347.7 803.1h0M325.3 797.2h0M449.6 811.7h0M485.9 807.7h0M390 803.2h0M551.1 814.6h0M526.8 813.5h0M523.1 811.7h0M475.5 809.1h0M559.8 814.4h0M302.4 783h0M460.1 807.4h0M346.2 794.9h0M358.4 806.1h0M569.1 815.6h0M396.4 803.4h0M417.9 805.9h0M234.3 694.5h0M496.6 813.2h0M298.9 783.5h0M360.9 801.9h0M286 773.3h0M445.6 805.7h0M278.4 767.4h0M412.6 809.8h0M356.2 799.7h0M416 802.4h0M532.5 808h0M378 800.5h0M426 804.4h0M419.3 808h0M266.1 751.2h0M516.4 807.6h0M391.5 803.5h0M518.3 810.3h0M210.8 620.1h0M388.7 803.8h0M311.9 791h0M221.2 655.2h0M562.6 812.7h0M451.5 810.8h0M534.4 813h0M421.7 805.5h0M323.1 793.5h0M379.3 800.2h0M232.5 690.3h0M431.1 804.4h0M451.2 808.3h0M403.9 803.7h0M484.6 810.9h0M307.5 789.9h0M540.6 810.1h0M452.4 807.9h0M281.6 772.2h0M453.2 806.3h0M461.4 805.8h0M545 810.4h0M377.6 800.3h0M281.3 769.8h0M243.7 710h0M319.7 795h0M355.5 804h0M481.2 810.3h0M213.5 632.6h0M232.8 691.4h0M479.8 812.3h0M267.6 757.1h0M199.2 607.4h0M224.2 664.8h0M443.6 809.6h0M419.7 806.9h0M553.5 809.1h0M245.9 723.8h0M448.8 811.5h0M216.5 630.9h0M507.9 809.5h0M388 804.2h0M210.3 618.9h0M191 605.6h0M560.5 813h0M375.6 800.7h0M548 812.7h0M241.6 710.1h0M375 801.7h0M460.6 810.6h0M213.1 627h0M408.6 808.3h0M565.7 813.4h0M288.2 776.9h0M289.5 779.3h0M288.2 774.9h0M394.5 804.3h0M319.9 792.8h0M420.4 810.4h0M567.7 811.2h0M223.3 669.7h0M557 816.2h0M493.9 810.1h0M435.6 806.6h0M333.5 798.3h0M488.2 812.4h0M244.6 721.3h0M197.7 605.4h0M413.7 806.2h0M272.3 762.4h0M296.3 778.1h0M309 789.3h0M320.9 793.4h0M411.8 808.9h0M528.2 811.1h0M542.2 810.1h0M392.9 806.8h0M249 724h0M326.4 796.3h0M567 812.1h0M237.8 705.5h0M503 811.5h0M413.9 812.1h0M490.8 808.6h0M501.7 816.1h0M409.4 803.4h0M509.8 813.5h0M505 812.1h0M516.7 806.3h0M532.7 813.7h0M247.5 728.8h0M377.8 805.7h0M576.2 812.9h0M301.1 784.6h0M318.4 789.7h0M520.8 816.2h0M491.1 810.7h0M502 809.9h0M521.1 809.7h0M578.9 814.2h0M251.1 727.4h0M397.4 800.1h0M349.6 798.7h0M346 794.8h0M520.6 814h0M576.5 814h0M462.2 808.8h0M198.9 607.8h0M351.9 798.5h0M560.1 814.5h0M393.6 804h0M276.7 770h0M238.2 704.2h0M266 754.6h0M223.9 662.4h0M509.3 813.2h0M452.3 811.5h0M436.2 806.4h0M492.2 812.2h0M370.2 801.1h0M496.1 807.5h0M503.2 809.8h0M454.9 810.7h0M262.3 748.2h0M565.7 810.1h0M382.9 804.8h0M473.6 810.6h0M294.4 778h0M233.3 690.9h0M210.8 618.8h0M213.1 625.6h0M570.6 811.3h0M223.2 659.2h0M245 715.5h0M543.5 811.7h0M193 605.4h0M513.1 811.9h0M493.3 808.2h0M545.8 814.4h0M440.9 805.2h0M288.8 779.3h0M576.9 816.2h0M492.4 808.6h0M293.1 779.8h0M296.8 782.4h0M488.8 810.5h0M404.9 805.8h0M538 813.1h0M329.6 793.4h0M266.2 750.7h0M480.1 809.7h0M214 627.8h0M309 788.9h0M352.5 797.7h0M408.4 804.9h0M391.5 805.3h0M536.6 812.2h0M513.2 810.7h0M254 738.7h0M245.7 722.7h0M447.2 805.5h0M336.1 796.5h0M572.6 810.5h0M306.6 789.6h0M267.4 753.4h0M324.1 794.7h0M464.5 810.3h0M411.4 806h0M286.7 776.9h0M544.6 812.9h0M554.6 811.8h0M505.8 811.3h0M306 783.8h0M212.3 620.3h0M441.6 806.9h0M448 808.3h0M539.5 813.4h0M199.3 607.7h0M281.5 770.8h0M554.5 815.2h0M578.5 809.2h0M323.7 791.1h0M528.8 814.6h0M510.2 808.6h0M233.3 692h0M489.4 807.9h0M347.6 797.8h0M316.3 789.3h0M467.6 811.4h0M357.6 801.2h0M534.6 810.5h0M299.5 784.3h0M284.5 777.2h0M219.9 643.9h0M521.6 809.3h0M338.2 798.1h0M213.6 626h0M571 810.4h0M250.3 737.3h0M275.6 765h0M453.6 809.7h0M568.7 812.6h0M566.6 814.8h0M576 815h0M323.3 793.9h0M327.2 791.2h0M213.2 632.9h0M490.5 806.8h0M525.3 809.6h0M198.3 603.6h0M317.8 789.6h0M537.4 812.6h0M350.7 797.3h0M499.2 813.7h0M352.7 801.3h0M565.7 811.6h0M224.3 667.2h0M475.9 812.7h0M556.6 815.9h0M499.7 809.6h0M521.4 810.8h0M313.2 788.5h0M404 804.8h0M386 806.5h0M202.7 605.2h0M498.9 808.9h0M215.1 632.4h0M277.8 763.4h0M301.7 785.5h0M554.7 809h0M545.6 812.2h0M324.1 800.2h0M334 799.2h0M259.8 749.2h0M298.3 783.8h0M221.8 655.8h0M546.8 815.4h0M323.7 792.9h0M268.9 756.9h0M225.4 669.4h0M246.6 720.6h0M203.1 610.2h0M348.9 797.9h0M511.5 811.2h0M548.9 810.1h0M284.7 769.6h0M233 688.7h0M336.6 794h0M197.7 605.7h0M506.8 810h0M309.4 788.8h0M308.6 789.8h0M533.6 811.4h0M554.8 812.9h0M543.1 810.7h0M387.9 806.2h0M320.5 795.3h0M221.5 649.7h0M562.7 811.1h0M203.7 608.4h0M511.3 810h0M523.2 809.3h0M506.5 809.8h0M520.9 809.5h0M356.2 801.6h0M527.1 810.4h0M330.5 798h0M557.6 814.5h0M209.2 616h0M527.3 810.2h0M336.9 797.3h0M414.4 803h0M203.6 607.2h0M194.5 604.4h0M229.2 681h0M278 770.1h0M307.5 788.4h0M439.8 808.5h0M355.3 796.4h0M430.5 808.4h0M296.2 782.7h0M230.1 679.9h0M487.3 810h0M420 809.6h0M530.5 810.9h0M547.7 811.9h0M369.9 801.6h0M266.3 748.1h0M257 743.1h0M364.9 800.2h0M304 786.1h0M467.4 807.2h0M371.7 797.6h0M415.7 802.5h0M324.7 793.6h0M493.2 812.5h0M390.8 803.3h0M521.8 814.7h0M374 804.2h0M520.9 812.6h0M509 813.3h0M300.5 785h0M304.6 787.7h0M575.8 813.9h0M348 798.3h0M434.5 809.1h0M544.6 809.2h0M399.9 803.6h0M215.7 632.3h0M349.4 798.2h0M396.3 806.3h0M559 813.4h0M556.7 810h0M296.4 786.1h0M233.5 695.3h0M383.1 799.5h0" stroke="#cfb52f" stroke-width="5.4" stroke-linecap="round" fill="none"/>
<line x1="219.3" y1="831" x2="219.3" y2="654" stroke="#58595b" stroke-width="4.2" stroke-dasharray="14 16" stroke-dashoffset="7"/>
<line x1="421.5" y1="831" x2="421.5" y2="641" stroke="#58595b" stroke-width="4.2" stroke-dasharray="14 16" stroke-dashoffset="7"/>
<rect x="103" y="456.3" width="519" height="373.7" fill="none" stroke="#000" stroke-width="2.4"/>
<line x1="96.5" y1="826.5" x2="103" y2="826.5" stroke="#000" stroke-width="2.2"/>
<text x="84.5" y="836.5" font-size="29" text-anchor="end" font-weight="normal" font-style="normal" fill="#000" >0</text>
<line x1="96.5" y1="753.1" x2="103" y2="753.1" stroke="#000" stroke-width="2.2"/>
<text x="84.5" y="763.1" font-size="29" text-anchor="end" font-weight="normal" font-style="normal" fill="#000" >2</text>
<line x1="96.5" y1="679.7" x2="103" y2="679.7" stroke="#000" stroke-width="2.2"/>
<text x="84.5" y="689.7" font-size="29" text-anchor="end" font-weight="normal" font-style="normal" fill="#000" >4</text>
<line x1="96.5" y1="606.3" x2="103" y2="606.3" stroke="#000" stroke-width="2.2"/>
<text x="84.5" y="616.3" font-size="29" text-anchor="end" font-weight="normal" font-style="normal" fill="#000" >6</text>
<line x1="96.5" y1="532.9" x2="103" y2="532.9" stroke="#000" stroke-width="2.2"/>
<text x="84.5" y="542.9" font-size="29" text-anchor="end" font-weight="normal" font-style="normal" fill="#000" >8</text>
<line x1="96.5" y1="459.5" x2="103" y2="459.5" stroke="#000" stroke-width="2.2"/>
<text x="84.5" y="469.5" font-size="29" text-anchor="end" font-weight="normal" font-style="normal" fill="#000" >10</text>
<line x1="103" y1="830" x2="103" y2="837" stroke="#000" stroke-width="2.2"/>
<text x="103" y="869.5" font-size="29" text-anchor="middle" font-weight="normal" font-style="normal" fill="#000" >0</text>
<line x1="160.8" y1="830" x2="160.8" y2="834.5" stroke="#000" stroke-width="2.2"/>
<line x1="218.5" y1="830" x2="218.5" y2="837" stroke="#000" stroke-width="2.2"/>
<text x="218.5" y="869.5" font-size="29" text-anchor="middle" font-weight="normal" font-style="normal" fill="#000" >20</text>
<line x1="276.2" y1="830" x2="276.2" y2="834.5" stroke="#000" stroke-width="2.2"/>
<line x1="334" y1="830" x2="334" y2="837" stroke="#000" stroke-width="2.2"/>
<text x="334" y="869.5" font-size="29" text-anchor="middle" font-weight="normal" font-style="normal" fill="#000" >40</text>
<line x1="391.8" y1="830" x2="391.8" y2="834.5" stroke="#000" stroke-width="2.2"/>
<line x1="449.5" y1="830" x2="449.5" y2="837" stroke="#000" stroke-width="2.2"/>
<text x="449.5" y="869.5" font-size="29" text-anchor="middle" font-weight="normal" font-style="normal" fill="#000" >60</text>
<line x1="507.2" y1="830" x2="507.2" y2="834.5" stroke="#000" stroke-width="2.2"/>
<line x1="565" y1="830" x2="565" y2="837" stroke="#000" stroke-width="2.2"/>
<text x="565" y="869.5" font-size="29" text-anchor="middle" font-weight="normal" font-style="normal" fill="#000" >80</text>
<line x1="622.8" y1="830" x2="622.8" y2="834.5" stroke="#000" stroke-width="2.2"/>
<text transform="translate(25.5 648.7) rotate(-90)" font-size="29" text-anchor="middle">Concentration (μM)</text>
<text x="359.5" y="911" font-size="29" text-anchor="middle" font-weight="normal" font-style="normal" fill="#000" >Temperature (°C)</text>
<text x="319" y="505.3" font-size="27" text-anchor="start" font-weight="bold" font-style="normal" fill="#4bb447" >D</text>
<text x="164.5" y="586.1" font-size="27" text-anchor="start" font-weight="bold" font-style="normal" fill="#cfb52f" >T</text>
<text x="409.4" y="502.5" font-size="27" font-weight="bold" fill="#3585c5">M<tspan font-size="20" dy="7">b</tspan></text>
<text x="546" y="576" font-size="27" font-weight="bold" fill="#e02a2c">M<tspan font-size="20" dy="7">a</tspan></text>
<text x="5" y="425.5" font-size="41" text-anchor="start" font-weight="bold" font-style="normal" fill="#000" >b</text>
<circle cx="783.4" cy="635.4" r="5" fill="#e02a2c" stroke="#000" stroke-width="2.2"/>
<circle cx="784.9" cy="653.4" r="5" fill="#e02a2c" stroke="#000" stroke-width="2.2"/>
<circle cx="787.2" cy="647.2" r="5" fill="#e02a2c" stroke="#000" stroke-width="2.2"/>
<circle cx="789.4" cy="671.1" r="5" fill="#e02a2c" stroke="#000" stroke-width="2.2"/>
<circle cx="790.9" cy="682.2" r="5" fill="#e02a2c" stroke="#000" stroke-width="2.2"/>
<circle cx="795.3" cy="711.3" r="5" fill="#e02a2c" stroke="#000" stroke-width="2.2"/>
<circle cx="799.1" cy="725.7" r="5" fill="#e02a2c" stroke="#000" stroke-width="2.2"/>
<circle cx="806.5" cy="748.5" r="5" fill="#e02a2c" stroke="#000" stroke-width="2.2"/>
<circle cx="814.7" cy="759.6" r="5" fill="#e02a2c" stroke="#000" stroke-width="2.2"/>
<circle cx="831" cy="774.3" r="5" fill="#e02a2c" stroke="#000" stroke-width="2.2"/>
<circle cx="842.9" cy="785.4" r="5" fill="#e02a2c" stroke="#000" stroke-width="2.2"/>
<circle cx="863.7" cy="796.4" r="5" fill="#e02a2c" stroke="#000" stroke-width="2.2"/>
<circle cx="903.9" cy="807.5" r="5" fill="#e02a2c" stroke="#000" stroke-width="2.2"/>
<circle cx="944.8" cy="811.2" r="5" fill="#e02a2c" stroke="#000" stroke-width="2.2"/>
<circle cx="1025.8" cy="811.9" r="5" fill="#e02a2c" stroke="#000" stroke-width="2.2"/>
<circle cx="1086" cy="818.5" r="5" fill="#e02a2c" stroke="#000" stroke-width="2.2"/>
<circle cx="1268.2" cy="817.8" r="5" fill="#e02a2c" stroke="#000" stroke-width="2.2"/>
<circle cx="783.4" cy="619.5" r="5" fill="#3585c5" stroke="#000" stroke-width="2.2"/>
<circle cx="784.9" cy="621.4" r="5" fill="#3585c5" stroke="#000" stroke-width="2.2"/>
<circle cx="787.2" cy="645.3" r="5" fill="#3585c5" stroke="#000" stroke-width="2.2"/>
<circle cx="789.4" cy="661.5" r="5" fill="#3585c5" stroke="#000" stroke-width="2.2"/>
<circle cx="790.9" cy="674.1" r="5" fill="#3585c5" stroke="#000" stroke-width="2.2"/>
<circle cx="795.3" cy="687" r="5" fill="#3585c5" stroke="#000" stroke-width="2.2"/>
<circle cx="799.1" cy="707.2" r="5" fill="#3585c5" stroke="#000" stroke-width="2.2"/>
<circle cx="806.5" cy="738.9" r="5" fill="#3585c5" stroke="#000" stroke-width="2.2"/>
<circle cx="814.7" cy="754.8" r="5" fill="#3585c5" stroke="#000" stroke-width="2.2"/>
<circle cx="831" cy="776.5" r="5" fill="#3585c5" stroke="#000" stroke-width="2.2"/>
<circle cx="842.9" cy="788.3" r="5" fill="#3585c5" stroke="#000" stroke-width="2.2"/>
<circle cx="863.7" cy="799" r="5" fill="#3585c5" stroke="#000" stroke-width="2.2"/>
<circle cx="903.9" cy="814.5" r="5" fill="#3585c5" stroke="#000" stroke-width="2.2"/>
<circle cx="944.8" cy="815.6" r="5" fill="#3585c5" stroke="#000" stroke-width="2.2"/>
<circle cx="1025.8" cy="818.5" r="5" fill="#3585c5" stroke="#000" stroke-width="2.2"/>
<circle cx="1086" cy="821.5" r="5" fill="#3585c5" stroke="#000" stroke-width="2.2"/>
<circle cx="1268.2" cy="818.5" r="5" fill="#3585c5" stroke="#000" stroke-width="2.2"/>
<circle cx="783.4" cy="682.2" r="5" fill="#4bb447" stroke="#000" stroke-width="2.2"/>
<circle cx="784.9" cy="663.8" r="5" fill="#4bb447" stroke="#000" stroke-width="2.2"/>
<circle cx="787.2" cy="645.3" r="5" fill="#4bb447" stroke="#000" stroke-width="2.2"/>
<circle cx="789.4" cy="661.5" r="5" fill="#4bb447" stroke="#000" stroke-width="2.2"/>
<circle cx="790.9" cy="674.1" r="5" fill="#4bb447" stroke="#000" stroke-width="2.2"/>
<circle cx="795.3" cy="628" r="5" fill="#4bb447" stroke="#000" stroke-width="2.2"/>
<circle cx="799.1" cy="612.2" r="5" fill="#4bb447" stroke="#000" stroke-width="2.2"/>
<circle cx="806.5" cy="590.8" r="5" fill="#4bb447" stroke="#000" stroke-width="2.2"/>
<circle cx="814.7" cy="584.2" r="5" fill="#4bb447" stroke="#000" stroke-width="2.2"/>
<circle cx="831" cy="574.2" r="5" fill="#4bb447" stroke="#000" stroke-width="2.2"/>
<circle cx="842.9" cy="576.1" r="5" fill="#4bb447" stroke="#000" stroke-width="2.2"/>
<circle cx="863.7" cy="579.4" r="5" fill="#4bb447" stroke="#000" stroke-width="2.2"/>
<circle cx="903.9" cy="600.7" r="5" fill="#4bb447" stroke="#000" stroke-width="2.2"/>
<circle cx="944.8" cy="614.4" r="5" fill="#4bb447" stroke="#000" stroke-width="2.2"/>
<circle cx="1025.8" cy="633.5" r="5" fill="#4bb447" stroke="#000" stroke-width="2.2"/>
<circle cx="1086" cy="646.8" r="5" fill="#4bb447" stroke="#000" stroke-width="2.2"/>
<circle cx="1268.2" cy="663.4" r="5" fill="#4bb447" stroke="#000" stroke-width="2.2"/>
<circle cx="783.4" cy="804.9" r="5" fill="#cfb52f" stroke="#000" stroke-width="2.2"/>
<circle cx="784.9" cy="801.9" r="5" fill="#cfb52f" stroke="#000" stroke-width="2.2"/>
<circle cx="787.2" cy="799.4" r="5" fill="#cfb52f" stroke="#000" stroke-width="2.2"/>
<circle cx="789.4" cy="796.4" r="5" fill="#cfb52f" stroke="#000" stroke-width="2.2"/>
<circle cx="790.9" cy="794.6" r="5" fill="#cfb52f" stroke="#000" stroke-width="2.2"/>
<circle cx="795.3" cy="788.3" r="5" fill="#cfb52f" stroke="#000" stroke-width="2.2"/>
<circle cx="799.1" cy="785.4" r="5" fill="#cfb52f" stroke="#000" stroke-width="2.2"/>
<circle cx="806.5" cy="777.6" r="5" fill="#cfb52f" stroke="#000" stroke-width="2.2"/>
<circle cx="814.7" cy="766.9" r="5" fill="#cfb52f" stroke="#000" stroke-width="2.2"/>
<circle cx="831" cy="751.5" r="5" fill="#cfb52f" stroke="#000" stroke-width="2.2"/>
<circle cx="842.9" cy="738.2" r="5" fill="#cfb52f" stroke="#000" stroke-width="2.2"/>
<circle cx="863.7" cy="724.9" r="5" fill="#cfb52f" stroke="#000" stroke-width="2.2"/>
<circle cx="903.9" cy="692.1" r="5" fill="#cfb52f" stroke="#000" stroke-width="2.2"/>
<circle cx="944.8" cy="675.6" r="5" fill="#cfb52f" stroke="#000" stroke-width="2.2"/>
<circle cx="1025.8" cy="655.3" r="5" fill="#cfb52f" stroke="#000" stroke-width="2.2"/>
<circle cx="1086" cy="641.6" r="5" fill="#cfb52f" stroke="#000" stroke-width="2.2"/>
<circle cx="1268.2" cy="627.3" r="5" fill="#cfb52f" stroke="#000" stroke-width="2.2"/>
<path d="M782.7 730.1 L783.5 714.2 L784.2 699.3 L785 688.8 L785.7 680.5 L786.5 673.3 L787.2 666.8 L788 660.8 L788.7 655.4 L789.5 650.2 L790.3 645.2 L791 640.2 L791.8 635.3 L792.5 630.6 L793.3 626.2 L794 622.3 L794.8 618.6 L795.6 615.1 L796.3 611.8 L797.1 608.7 L797.8 605.9 L798.6 603.5 L799.3 601.3 L800.1 599.3 L800.8 597.3 L801.6 595.5 L802.4 593.8 L803.1 592.3 L803.9 591 L804.6 589.8 L805.4 588.8 L806.1 587.9 L806.9 587.1 L807.7 586.3 L808.4 585.5 L809.2 584.8 L809.9 584.2 L810.7 583.6 L811.4 583.1 L812.2 582.6 L812.9 582.1 L813.7 581.7 L814.5 581.3 L815.2 581 L816 580.6 L816.7 580.2 L817.5 579.9 L818.2 579.5 L819 579.2 L819.7 578.9 L820.5 578.6 L821.3 578.3 L822 578.1 L822.8 577.8 L823.5 577.6 L824.3 577.4 L825 577.2 L825.8 577.1 L826.6 576.9 L827.3 576.9 L828.1 576.8 L831.8 576.9 L835.5 577.3 L839.2 577.8 L842.9 578.4 L846.6 579.4 L850.3 580.7 L854 582.2 L857.7 583.7 L861.4 585.2 L865.1 586.8 L868.8 588.5 L872.5 590.2 L876.2 592 L879.9 593.8 L883.6 595.6 L887.3 597.4 L891 599.1 L894.7 600.8 L898.4 602.5 L902.2 604 L905.9 605.6 L909.6 607.2 L913.3 608.8 L917 610.3 L920.7 611.9 L924.4 613.4 L928.1 614.9 L931.8 616.3 L935.5 617.7 L939.2 619 L942.9 620.3 L946.6 621.5 L950.3 622.6 L954 623.6 L957.7 624.7 L961.4 625.7 L965.1 626.7 L968.8 627.6 L972.5 628.5 L976.3 629.4 L980 630.3 L983.7 631.2 L987.4 632 L991.1 632.8 L994.8 633.6 L998.5 634.4 L1002.2 635.1 L1005.9 635.9 L1009.6 636.6 L1013.3 637.3 L1017 638 L1020.7 638.7 L1024.4 639.3 L1028.1 640 L1031.8 640.6 L1035.5 641.2 L1039.2 641.8 L1042.9 642.4 L1046.6 643 L1050.4 643.5 L1054.1 644.1 L1057.8 644.6 L1061.5 645.1 L1065.2 645.6 L1068.9 646.1 L1072.6 646.6 L1076.3 647.1 L1080 647.5 L1083.7 648 L1087.4 648.4 L1091.1 648.9 L1094.8 649.3 L1098.5 649.7 L1102.2 650.2 L1105.9 650.6 L1109.6 651 L1113.3 651.4 L1117 651.8 L1120.7 652.2 L1124.5 652.6 L1128.2 652.9 L1131.9 653.3 L1135.6 653.7 L1139.3 654 L1143 654.4 L1146.7 654.7 L1150.4 655 L1154.1 655.3 L1157.8 655.6 L1161.5 655.9 L1165.2 656.2 L1168.9 656.5 L1172.6 656.7 L1176.3 657 L1180 657.2 L1183.7 657.4 L1187.4 657.7 L1191.1 657.9 L1194.8 658.1 L1198.6 658.3 L1202.3 658.5 L1206 658.7 L1209.7 658.9 L1213.4 659.1 L1217.1 659.3 L1220.8 659.5 L1224.5 659.7 L1228.2 659.9 L1231.9 660 L1235.6 660.2 L1239.3 660.4 L1243 660.6 L1246.7 660.8 L1250.4 661 L1254.1 661.1 L1257.8 661.3 L1261.5 661.5 L1265.2 661.7 L1268.9 661.9" fill="none" stroke="#4bb447" stroke-width="4.2" stroke-linejoin="round"/>
<path d="M779.7 798.3 L782.7 796 L783.5 795.5 L784.2 794.9 L785 794.3 L785.7 793.8 L786.5 793.2 L787.2 792.7 L788 792.1 L788.7 791.5 L789.5 791 L790.3 790.4 L791 789.8 L791.8 789.3 L792.5 788.7 L793.3 788.1 L794 787.5 L794.8 786.9 L795.6 786.3 L796.3 785.7 L797.1 785 L797.8 784.4 L798.6 783.8 L799.3 783.1 L800.1 782.4 L800.8 781.8 L801.6 781.1 L802.4 780.4 L803.1 779.7 L803.9 779 L804.6 778.3 L805.4 777.5 L806.1 776.8 L806.9 776.1 L807.7 775.4 L808.4 774.6 L809.2 773.9 L809.9 773.1 L810.7 772.4 L811.4 771.7 L812.2 770.9 L812.9 770.2 L813.7 769.5 L814.5 768.8 L815.2 768 L816 767.3 L816.7 766.6 L817.5 765.9 L818.2 765.2 L819 764.6 L819.7 763.9 L820.5 763.2 L821.3 762.5 L822 761.8 L822.8 761.2 L823.5 760.5 L824.3 759.8 L825 759.2 L825.8 758.5 L826.6 757.8 L827.3 757.2 L828.1 756.5 L831.8 753.3 L835.5 750.1 L839.2 746.9 L842.9 743.7 L846.6 740.5 L850.3 737.3 L854 734.2 L857.7 731.1 L861.4 728.1 L865.1 725.2 L868.8 722.3 L872.5 719.3 L876.2 716.3 L879.9 713.4 L883.6 710.5 L887.3 707.7 L891 705.1 L894.7 702.5 L898.4 700.1 L902.2 697.9 L905.9 695.9 L909.6 693.9 L913.3 692.1 L917 690.3 L920.7 688.5 L924.4 686.9 L928.1 685.2 L931.8 683.7 L935.5 682.2 L939.2 680.7 L942.9 679.3 L946.6 677.9 L950.3 676.6 L954 675.3 L957.7 674 L961.4 672.7 L965.1 671.5 L968.8 670.4 L972.5 669.2 L976.3 668.1 L980 667 L983.7 665.9 L987.4 664.9 L991.1 663.8 L994.8 662.8 L998.5 661.9 L1002.2 660.9 L1005.9 660 L1009.6 659 L1013.3 658.1 L1017 657.2 L1020.7 656.3 L1024.4 655.4 L1028.1 654.6 L1031.8 653.7 L1035.5 652.8 L1039.2 652 L1042.9 651.1 L1046.6 650.3 L1050.4 649.4 L1054.1 648.6 L1057.8 647.8 L1061.5 647.1 L1065.2 646.3 L1068.9 645.6 L1072.6 644.9 L1076.3 644.3 L1080 643.7 L1083.7 643.1 L1087.4 642.6 L1091.1 642.1 L1094.8 641.6 L1098.5 641.1 L1102.2 640.6 L1105.9 640.2 L1109.6 639.8 L1113.3 639.3 L1117 638.9 L1120.7 638.5 L1124.5 638.1 L1128.2 637.8 L1131.9 637.4 L1135.6 637 L1139.3 636.7 L1143 636.4 L1146.7 636 L1150.4 635.7 L1154.1 635.4 L1157.8 635.1 L1161.5 634.8 L1165.2 634.5 L1168.9 634.2 L1172.6 633.9 L1176.3 633.6 L1180 633.4 L1183.7 633.1 L1187.4 632.9 L1191.1 632.6 L1194.8 632.4 L1198.6 632.1 L1202.3 631.9 L1206 631.7 L1209.7 631.5 L1213.4 631.2 L1217.1 631 L1220.8 630.8 L1224.5 630.6 L1228.2 630.4 L1231.9 630.2 L1235.6 630 L1239.3 629.8 L1243 629.5 L1246.7 629.3 L1250.4 629.1 L1254.1 628.9 L1257.8 628.7 L1261.5 628.5 L1265.2 628.2 L1268.9 628" fill="none" stroke="#cfb52f" stroke-width="4.2" stroke-linejoin="round"/>
<path d="M782.7 579 L783.5 589.2 L784.2 598.8 L785 607.9 L785.7 616.5 L786.5 624.7 L787.2 632.5 L788 639.8 L788.7 646.8 L789.5 653.4 L790.3 659.6 L791 665.5 L791.8 671.2 L792.5 676.5 L793.3 681.6 L794 686.4 L794.8 690.9 L795.6 695.3 L796.3 699.4 L797.1 703.3 L797.8 707 L798.6 710.5 L799.3 713.8 L800.1 717 L800.8 720 L801.6 722.9 L802.4 725.6 L803.1 728.2 L803.9 730.7 L804.6 733.1 L805.4 735.3 L806.1 737.5 L806.9 739.5 L807.7 741.4 L808.4 743.3 L809.2 745 L809.9 746.7 L810.7 748.3 L811.4 749.9 L812.2 751.4 L812.9 752.8 L813.7 754.1 L814.5 755.4 L815.2 756.6 L816 757.8 L816.7 758.9 L817.5 760 L818.2 761 L819 762 L819.7 763 L820.5 763.9 L821.3 764.8 L822 765.6 L822.8 766.5 L823.5 767.2 L824.3 768 L825 768.7 L825.8 769.4 L826.6 770.1 L827.3 770.8 L828.1 771.4 L831.8 774.2 L835.5 776.6 L839.2 778.7 L842.9 780.6 L846.6 782.3 L850.3 783.8 L854 785.2 L857.7 786.5 L861.4 787.6 L865.1 788.8 L868.8 789.8 L872.5 790.8 L876.2 791.8 L879.9 792.7 L883.6 793.5 L887.3 794.4 L891 795.2 L894.7 795.9 L898.4 796.7 L902.2 797.4 L905.9 798 L909.6 798.7 L913.3 799.3 L917 799.9 L920.7 800.5 L924.4 801.1 L928.1 801.6 L931.8 802.2 L935.5 802.7 L939.2 803.2 L942.9 803.6 L946.6 804.1 L950.3 804.5 L954 805 L957.7 805.4 L961.4 805.8 L965.1 806.1 L968.8 806.5 L972.5 806.9 L976.3 807.2 L980 807.5 L983.7 807.9 L987.4 808.2 L991.1 808.5 L994.8 808.8 L998.5 809 L1002.2 809.3 L1005.9 809.6 L1009.6 809.8 L1013.3 810.1 L1017 810.3 L1020.7 810.5 L1024.4 810.7 L1028.1 810.9 L1031.8 811.1 L1035.5 811.3 L1039.2 811.5 L1042.9 811.7 L1046.6 811.9 L1050.4 812 L1054.1 812.2 L1057.8 812.4 L1061.5 812.5 L1065.2 812.7 L1068.9 812.8 L1072.6 812.9 L1076.3 813.1 L1080 813.2 L1083.7 813.3 L1087.4 813.4 L1091.1 813.5 L1094.8 813.7 L1098.5 813.8 L1102.2 813.9 L1105.9 814 L1109.6 814.1 L1113.3 814.2 L1117 814.2 L1120.7 814.3 L1124.5 814.4 L1128.2 814.5 L1131.9 814.6 L1135.6 814.6 L1139.3 814.7 L1143 814.8 L1146.7 814.8 L1150.4 814.9 L1154.1 815 L1157.8 815 L1161.5 815.1 L1165.2 815.1 L1168.9 815.2 L1172.6 815.3 L1176.3 815.3 L1180 815.4 L1183.7 815.4 L1187.4 815.4 L1191.1 815.5 L1194.8 815.5 L1198.6 815.6 L1202.3 815.6 L1206 815.6 L1209.7 815.7 L1213.4 815.7 L1217.1 815.8 L1220.8 815.8 L1224.5 815.8 L1228.2 815.8 L1231.9 815.9 L1235.6 815.9 L1239.3 815.9 L1243 816 L1246.7 816 L1250.4 816 L1254.1 816 L1257.8 816.1 L1261.5 816.1 L1265.2 816.1 L1268.9 816.1" fill="none" stroke="#e02a2c" stroke-width="4.2" stroke-linejoin="round"/>
<path d="M782.7 582 L783.5 592.1 L784.2 601.8 L785 610.9 L785.7 619.5 L786.5 627.7 L787.2 635.5 L788 642.9 L788.7 649.9 L789.5 656.5 L790.3 662.7 L791 668.7 L791.8 674.3 L792.5 679.7 L793.3 684.8 L794 689.6 L794.8 694.2 L795.6 698.5 L796.3 702.6 L797.1 706.5 L797.8 710.3 L798.6 713.8 L799.3 717.2 L800.1 720.4 L800.8 723.4 L801.6 726.3 L802.4 729 L803.1 731.6 L803.9 734.1 L804.6 736.5 L805.4 738.8 L806.1 740.9 L806.9 743 L807.7 744.9 L808.4 746.8 L809.2 748.6 L809.9 750.3 L810.7 751.9 L811.4 753.5 L812.2 754.9 L812.9 756.4 L813.7 757.7 L814.5 759 L815.2 760.3 L816 761.4 L816.7 762.6 L817.5 763.7 L818.2 764.7 L819 765.7 L819.7 766.7 L820.5 767.6 L821.3 768.5 L822 769.4 L822.8 770.2 L823.5 771 L824.3 771.8 L825 772.5 L825.8 773.3 L826.6 773.9 L827.3 774.6 L828.1 775.3 L831.8 778.1 L835.5 780.6 L839.2 782.8 L842.9 784.7 L846.6 786.4 L850.3 788 L854 789.4 L857.7 790.7 L861.4 792 L865.1 793.1 L868.8 794.2 L872.5 795.3 L876.2 796.2 L879.9 797.2 L883.6 798.1 L887.3 798.9 L891 799.8 L894.7 800.6 L898.4 801.3 L902.2 802.1 L905.9 802.8 L909.6 803.5 L913.3 804.1 L917 804.8 L920.7 805.4 L924.4 806 L928.1 806.5 L931.8 807.1 L935.5 807.6 L939.2 808.1 L942.9 808.6 L946.6 809.1 L950.3 809.5 L954 810 L957.7 810.4 L961.4 810.8 L965.1 811.2 L968.8 811.6 L972.5 812 L976.3 812.3 L980 812.7 L983.7 813 L987.4 813.3 L991.1 813.7 L994.8 814 L998.5 814.2 L1002.2 814.5 L1005.9 814.8 L1009.6 815 L1013.3 815.3 L1017 815.5 L1020.7 815.8 L1024.4 816 L1028.1 816.2 L1031.8 816.4 L1035.5 816.6 L1039.2 816.8 L1042.9 817 L1046.6 817.2 L1050.4 817.4 L1054.1 817.5 L1057.8 817.7 L1061.5 817.9 L1065.2 818 L1068.9 818.2 L1072.6 818.3 L1076.3 818.4 L1080 818.6 L1083.7 818.7 L1087.4 818.8 L1091.1 818.9 L1094.8 819.1 L1098.5 819.2 L1102.2 819.3 L1105.9 819.4 L1109.6 819.5 L1113.3 819.6 L1117 819.7 L1120.7 819.8 L1124.5 819.8 L1128.2 819.9 L1131.9 820 L1135.6 820.1 L1139.3 820.2 L1143 820.2 L1146.7 820.3 L1150.4 820.4 L1154.1 820.4 L1157.8 820.5 L1161.5 820.5 L1165.2 820.6 L1168.9 820.7 L1172.6 820.7 L1176.3 820.8 L1180 820.8 L1183.7 820.9 L1187.4 820.9 L1191.1 821 L1194.8 821 L1198.6 821 L1202.3 821.1 L1206 821.1 L1209.7 821.2 L1213.4 821.2 L1217.1 821.2 L1220.8 821.3 L1224.5 821.3 L1228.2 821.3 L1231.9 821.4 L1235.6 821.4 L1239.3 821.4 L1243 821.5 L1246.7 821.5 L1250.4 821.5 L1254.1 821.5 L1257.8 821.6 L1261.5 821.6 L1265.2 821.6 L1268.9 821.6" fill="none" stroke="#3585c5" stroke-width="4.2" stroke-linejoin="round"/>
<rect x="782.7" y="454.8" width="520.8" height="374.5" fill="none" stroke="#000" stroke-width="2.4"/>
<line x1="776" y1="825.9" x2="782.7" y2="825.9" stroke="#000" stroke-width="2.2"/>
<text x="766" y="835.9" font-size="29" text-anchor="end" font-weight="normal" font-style="normal" fill="#000" >0</text>
<line x1="776" y1="752.2" x2="782.7" y2="752.2" stroke="#000" stroke-width="2.2"/>
<text x="766" y="762.2" font-size="29" text-anchor="end" font-weight="normal" font-style="normal" fill="#000" >2</text>
<line x1="776" y1="678.5" x2="782.7" y2="678.5" stroke="#000" stroke-width="2.2"/>
<text x="766" y="688.5" font-size="29" text-anchor="end" font-weight="normal" font-style="normal" fill="#000" >4</text>
<line x1="776" y1="604.8" x2="782.7" y2="604.8" stroke="#000" stroke-width="2.2"/>
<text x="766" y="614.8" font-size="29" text-anchor="end" font-weight="normal" font-style="normal" fill="#000" >6</text>
<line x1="776" y1="531.1" x2="782.7" y2="531.1" stroke="#000" stroke-width="2.2"/>
<text x="766" y="541.1" font-size="29" text-anchor="end" font-weight="normal" font-style="normal" fill="#000" >8</text>
<line x1="776" y1="457.4" x2="782.7" y2="457.4" stroke="#000" stroke-width="2.2"/>
<text x="766" y="467.4" font-size="29" text-anchor="end" font-weight="normal" font-style="normal" fill="#000" >10</text>
<line x1="782.7" y1="829.3" x2="782.7" y2="835.8" stroke="#000" stroke-width="2.2"/>
<text x="782.7" y="868.3" font-size="29" text-anchor="middle" font-weight="normal" font-style="normal" fill="#000" >0</text>
<line x1="857.1" y1="829.3" x2="857.1" y2="835.8" stroke="#000" stroke-width="2.2"/>
<text x="857.1" y="868.3" font-size="29" text-anchor="middle" font-weight="normal" font-style="normal" fill="#000" >5</text>
<line x1="931.4" y1="829.3" x2="931.4" y2="835.8" stroke="#000" stroke-width="2.2"/>
<text x="931.4" y="868.3" font-size="29" text-anchor="middle" font-weight="normal" font-style="normal" fill="#000" >10</text>
<line x1="1005.8" y1="829.3" x2="1005.8" y2="835.8" stroke="#000" stroke-width="2.2"/>
<text x="1005.8" y="868.3" font-size="29" text-anchor="middle" font-weight="normal" font-style="normal" fill="#000" >15</text>
<line x1="1080.1" y1="829.3" x2="1080.1" y2="835.8" stroke="#000" stroke-width="2.2"/>
<text x="1080.1" y="868.3" font-size="29" text-anchor="middle" font-weight="normal" font-style="normal" fill="#000" >20</text>
<line x1="1154.5" y1="829.3" x2="1154.5" y2="835.8" stroke="#000" stroke-width="2.2"/>
<text x="1154.5" y="868.3" font-size="29" text-anchor="middle" font-weight="normal" font-style="normal" fill="#000" >25</text>
<line x1="1228.8" y1="829.3" x2="1228.8" y2="835.8" stroke="#000" stroke-width="2.2"/>
<text x="1228.8" y="868.3" font-size="29" text-anchor="middle" font-weight="normal" font-style="normal" fill="#000" >30</text>
<line x1="1303.2" y1="829.3" x2="1303.2" y2="835.8" stroke="#000" stroke-width="2.2"/>
<text x="1303.2" y="868.3" font-size="29" text-anchor="middle" font-weight="normal" font-style="normal" fill="#000" >35</text>
<text x="1048.5" y="911.5" font-size="29" text-anchor="middle" font-weight="normal" font-style="normal" fill="#000" >Time (s)</text>
<text x="826.2" y="632" font-size="27" text-anchor="start" font-weight="bold" font-style="normal" fill="#4bb447" >D</text>
<text x="1225.6" y="609.1" font-size="27" text-anchor="start" font-weight="bold" font-style="normal" fill="#cfb52f" >T</text>
<text x="909" y="776.1" font-size="27" font-weight="bold" fill="#3585c5">M<tspan font-size="20" dy="7">b</tspan></text>
<text x="1008.7" y="783.8" font-size="27" font-weight="bold" fill="#e02a2c">M<tspan font-size="20" dy="7">a</tspan></text>
<text x="676" y="425.5" font-size="41" text-anchor="start" font-weight="bold" font-style="normal" fill="#000" >c</text>
<text x="943" y="435.3" font-size="29" text-anchor="start" font-weight="bold" font-style="normal" fill="#000" >60</text>
<rect x="983.3" y="421.7" width="34.1" height="6.2" fill="#000"/>
<path d="M1043.4 424.8 L1011.9 415.3 L1019.9 424.8 L1011.9 434.3 Z" fill="#000"/>
<text x="1051.5" y="435.3" font-size="29" text-anchor="start" font-weight="bold" font-style="normal" fill="#000" >20 °C</text>
<circle cx="105.4" cy="1369.8" r="5" fill="#e02a2c" stroke="#000" stroke-width="2.2"/>
<circle cx="110.3" cy="1371.6" r="5" fill="#e02a2c" stroke="#000" stroke-width="2.2"/>
<circle cx="115.6" cy="1371.6" r="5" fill="#e02a2c" stroke="#000" stroke-width="2.2"/>
<circle cx="133.8" cy="1369" r="5" fill="#e02a2c" stroke="#000" stroke-width="2.2"/>
<circle cx="145.1" cy="1369" r="5" fill="#e02a2c" stroke="#000" stroke-width="2.2"/>
<circle cx="168.6" cy="1367.6" r="5" fill="#e02a2c" stroke="#000" stroke-width="2.2"/>
<circle cx="192.1" cy="1367.6" r="5" fill="#e02a2c" stroke="#000" stroke-width="2.2"/>
<circle cx="240.4" cy="1366.8" r="5" fill="#e02a2c" stroke="#000" stroke-width="2.2"/>
<circle cx="275.2" cy="1367.2" r="5" fill="#e02a2c" stroke="#000" stroke-width="2.2"/>
<circle cx="334.4" cy="1367.2" r="5" fill="#e02a2c" stroke="#000" stroke-width="2.2"/>
<circle cx="452.3" cy="1367.2" r="5" fill="#e02a2c" stroke="#000" stroke-width="2.2"/>
<circle cx="569.7" cy="1362.1" r="5" fill="#e02a2c" stroke="#000" stroke-width="2.2"/>
<circle cx="105.4" cy="1360.6" r="5" fill="#3585c5" stroke="#000" stroke-width="2.2"/>
<circle cx="110.3" cy="1358.8" r="5" fill="#3585c5" stroke="#000" stroke-width="2.2"/>
<circle cx="115.6" cy="1358" r="5" fill="#3585c5" stroke="#000" stroke-width="2.2"/>
<circle cx="133.8" cy="1356.9" r="5" fill="#3585c5" stroke="#000" stroke-width="2.2"/>
<circle cx="145.1" cy="1356.2" r="5" fill="#3585c5" stroke="#000" stroke-width="2.2"/>
<circle cx="168.6" cy="1356.5" r="5" fill="#3585c5" stroke="#000" stroke-width="2.2"/>
<circle cx="192.1" cy="1356.9" r="5" fill="#3585c5" stroke="#000" stroke-width="2.2"/>
<circle cx="240.4" cy="1356.9" r="5" fill="#3585c5" stroke="#000" stroke-width="2.2"/>
<circle cx="275.2" cy="1356.5" r="5" fill="#3585c5" stroke="#000" stroke-width="2.2"/>
<circle cx="334.4" cy="1356.9" r="5" fill="#3585c5" stroke="#000" stroke-width="2.2"/>
<circle cx="452.3" cy="1355.8" r="5" fill="#3585c5" stroke="#000" stroke-width="2.2"/>
<circle cx="569.7" cy="1355.1" r="5" fill="#3585c5" stroke="#000" stroke-width="2.2"/>
<circle cx="105.4" cy="1168.5" r="5" fill="#4bb447" stroke="#000" stroke-width="2.2"/>
<circle cx="110.3" cy="1155.3" r="5" fill="#4bb447" stroke="#000" stroke-width="2.2"/>
<circle cx="115.6" cy="1142.8" r="5" fill="#4bb447" stroke="#000" stroke-width="2.2"/>
<circle cx="133.8" cy="1119.3" r="5" fill="#4bb447" stroke="#000" stroke-width="2.2"/>
<circle cx="145.1" cy="1108.3" r="5" fill="#4bb447" stroke="#000" stroke-width="2.2"/>
<circle cx="168.6" cy="1098" r="5" fill="#4bb447" stroke="#000" stroke-width="2.2"/>
<circle cx="192.1" cy="1092.9" r="5" fill="#4bb447" stroke="#000" stroke-width="2.2"/>
<circle cx="240.4" cy="1086.7" r="5" fill="#4bb447" stroke="#000" stroke-width="2.2"/>
<circle cx="275.2" cy="1087.8" r="5" fill="#4bb447" stroke="#000" stroke-width="2.2"/>
<circle cx="334.4" cy="1088.9" r="5" fill="#4bb447" stroke="#000" stroke-width="2.2"/>
<circle cx="452.3" cy="1095.5" r="5" fill="#4bb447" stroke="#000" stroke-width="2.2"/>
<circle cx="569.7" cy="1098.8" r="5" fill="#4bb447" stroke="#000" stroke-width="2.2"/>
<circle cx="105.4" cy="1269.9" r="5" fill="#cfb52f" stroke="#000" stroke-width="2.2"/>
<circle cx="110.3" cy="1281.3" r="5" fill="#cfb52f" stroke="#000" stroke-width="2.2"/>
<circle cx="115.6" cy="1293.4" r="5" fill="#cfb52f" stroke="#000" stroke-width="2.2"/>
<circle cx="133.8" cy="1319.1" r="5" fill="#cfb52f" stroke="#000" stroke-width="2.2"/>
<circle cx="145.1" cy="1330.5" r="5" fill="#cfb52f" stroke="#000" stroke-width="2.2"/>
<circle cx="168.6" cy="1341.5" r="5" fill="#cfb52f" stroke="#000" stroke-width="2.2"/>
<circle cx="192.1" cy="1345.9" r="5" fill="#cfb52f" stroke="#000" stroke-width="2.2"/>
<circle cx="240.4" cy="1349.6" r="5" fill="#cfb52f" stroke="#000" stroke-width="2.2"/>
<circle cx="275.2" cy="1351.4" r="5" fill="#cfb52f" stroke="#000" stroke-width="2.2"/>
<circle cx="334.4" cy="1351.4" r="5" fill="#cfb52f" stroke="#000" stroke-width="2.2"/>
<circle cx="452.3" cy="1345.2" r="5" fill="#cfb52f" stroke="#000" stroke-width="2.2"/>
<circle cx="569.7" cy="1346.3" r="5" fill="#cfb52f" stroke="#000" stroke-width="2.2"/>
<circle cx="105.4" cy="1372.7" r="5" fill="#e02a2c" stroke="#000" stroke-width="2.2"/>
<circle cx="110.3" cy="1373.4" r="5" fill="#e02a2c" stroke="#000" stroke-width="2.2"/>
<circle cx="115.6" cy="1373.4" r="5" fill="#e02a2c" stroke="#000" stroke-width="2.2"/>
<path d="M98.6 1195.3 L104.6 1174.9 L110.6 1158.5 L116.6 1145.2 L122.6 1134.5 L128.6 1125.9 L134.5 1118.9 L140.5 1113.3 L146.5 1108.8 L152.5 1105.2 L158.5 1102.2 L164.5 1099.8 L170.5 1097.9 L176.5 1096.4 L182.5 1095.1 L188.5 1094.1 L194.5 1093.3 L200.4 1092.7 L206.4 1092.2 L212.4 1091.7 L218.4 1091.4 L224.4 1091.1 L230.4 1090.9 L236.4 1090.7 L242.4 1090.6 L248.4 1090.4 L254.4 1090.4 L260.4 1090.3 L266.3 1090.2 L272.3 1090.2 L278.3 1090.1 L284.3 1090.1 L290.3 1090.1 L296.3 1090 L302.3 1090 L308.3 1090 L314.3 1090 L320.3 1090 L326.3 1090 L332.2 1090 L338.2 1090 L344.2 1090 L350.2 1090 L356.2 1090 L362.2 1090 L368.2 1090 L374.2 1090 L380.2 1090 L386.2 1090 L392.2 1090 L398.1 1090 L404.1 1090 L410.1 1090 L416.1 1090 L422.1 1090 L428.1 1090 L434.1 1090 L440.1 1090 L446.1 1090 L452.1 1090 L458.1 1090 L464 1090 L470 1090 L476 1090 L482 1090 L488 1090 L494 1090 L500 1090 L506 1090 L512 1090 L518 1090 L524 1090 L529.9 1090 L535.9 1090 L541.9 1090 L547.9 1090 L553.9 1090 L559.9 1090 L565.9 1090 L571.9 1090" fill="none" stroke="#4bb447" stroke-width="4.2"/>
<path d="M98.6 1244.9 L104.6 1265 L110.6 1281.3 L116.6 1294.5 L122.6 1305.2 L128.6 1313.8 L134.5 1320.7 L140.5 1326.4 L146.5 1331 L152.5 1334.7 L158.5 1337.6 L164.5 1340.1 L170.5 1342 L176.5 1343.6 L182.5 1344.9 L188.5 1345.9 L194.5 1346.8 L200.4 1347.4 L206.4 1348 L212.4 1348.4 L218.4 1348.8 L224.4 1349.1 L230.4 1349.3 L236.4 1349.5 L242.4 1349.7 L248.4 1349.8 L254.4 1349.9 L260.4 1350 L266.3 1350 L272.3 1350.1 L278.3 1350.1 L284.3 1350.2 L290.3 1350.2 L296.3 1350.2 L302.3 1350.2 L308.3 1350.2 L314.3 1350.3 L320.3 1350.3 L326.3 1350.3 L332.2 1350.3 L338.2 1350.3 L344.2 1350.3 L350.2 1350.3 L356.2 1350.3 L362.2 1350.3 L368.2 1350.3 L374.2 1350.3 L380.2 1350.3 L386.2 1350.3 L392.2 1350.3 L398.1 1350.3 L404.1 1350.3 L410.1 1350.3 L416.1 1350.3 L422.1 1350.3 L428.1 1350.3 L434.1 1350.3 L440.1 1350.3 L446.1 1350.3 L452.1 1350.3 L458.1 1350.3 L464 1350.3 L470 1350.3 L476 1350.3 L482 1350.3 L488 1350.3 L494 1350.3 L500 1350.3 L506 1350.3 L512 1350.3 L518 1350.3 L524 1350.3 L529.9 1350.3 L535.9 1350.3 L541.9 1350.3 L547.9 1350.3 L553.9 1350.3 L559.9 1350.3 L565.9 1350.3 L571.9 1350.3" fill="none" stroke="#cfb52f" stroke-width="4.2"/>
<path d="M98.6 1356.7 L104.6 1356.7 L110.6 1356.7 L116.6 1356.7 L122.6 1356.7 L128.6 1356.7 L134.5 1356.7 L140.5 1356.7 L146.5 1356.7 L152.5 1356.7 L158.5 1356.7 L164.5 1356.7 L170.5 1356.7 L176.5 1356.7 L182.5 1356.7 L188.5 1356.7 L194.5 1356.7 L200.4 1356.7 L206.4 1356.7 L212.4 1356.7 L218.4 1356.7 L224.4 1356.7 L230.4 1356.7 L236.4 1356.7 L242.4 1356.7 L248.4 1356.7 L254.4 1356.7 L260.4 1356.7 L266.3 1356.7 L272.3 1356.7 L278.3 1356.7 L284.3 1356.7 L290.3 1356.7 L296.3 1356.7 L302.3 1356.7 L308.3 1356.7 L314.3 1356.7 L320.3 1356.7 L326.3 1356.7 L332.2 1356.7 L338.2 1356.7 L344.2 1356.7 L350.2 1356.7 L356.2 1356.7 L362.2 1356.7 L368.2 1356.7 L374.2 1356.7 L380.2 1356.7 L386.2 1356.7 L392.2 1356.7 L398.1 1356.7 L404.1 1356.7 L410.1 1356.7 L416.1 1356.7 L422.1 1356.7 L428.1 1356.7 L434.1 1356.7 L440.1 1356.7 L446.1 1356.7 L452.1 1356.7 L458.1 1356.7 L464 1356.7 L470 1356.7 L476 1356.7 L482 1356.7 L488 1356.7 L494 1356.7 L500 1356.7 L506 1356.7 L512 1356.7 L518 1356.7 L524 1356.7 L529.9 1356.7 L535.9 1356.7 L541.9 1356.7 L547.9 1356.7 L553.9 1356.7 L559.9 1356.7 L565.9 1356.7 L571.9 1356.7" fill="none" stroke="#3585c5" stroke-width="4.2"/>
<path d="M98.6 1368.3 L104.6 1368.3 L110.6 1368.3 L116.6 1368.3 L122.6 1368.3 L128.6 1368.3 L134.5 1368.3 L140.5 1368.3 L146.5 1368.3 L152.5 1368.3 L158.5 1368.3 L164.5 1368.3 L170.5 1368.3 L176.5 1368.3 L182.5 1368.3 L188.5 1368.3 L194.5 1368.3 L200.4 1368.3 L206.4 1368.3 L212.4 1368.3 L218.4 1368.3 L224.4 1368.3 L230.4 1368.3 L236.4 1368.3 L242.4 1368.3 L248.4 1368.3 L254.4 1368.3 L260.4 1368.3 L266.3 1368.3 L272.3 1368.3 L278.3 1368.3 L284.3 1368.3 L290.3 1368.3 L296.3 1368.3 L302.3 1368.3 L308.3 1368.3 L314.3 1368.3 L320.3 1368.3 L326.3 1368.3 L332.2 1368.3 L338.2 1368.3 L344.2 1368.3 L350.2 1368.3 L356.2 1368.3 L362.2 1368.3 L368.2 1368.3 L374.2 1368.3 L380.2 1368.3 L386.2 1368.3 L392.2 1368.3 L398.1 1368.3 L404.1 1368.3 L410.1 1368.3 L416.1 1368.3 L422.1 1368.3 L428.1 1368.3 L434.1 1368.3 L440.1 1368.3 L446.1 1368.3 L452.1 1368.3 L458.1 1368.3 L464 1368.3 L470 1368.3 L476 1368.3 L482 1368.3 L488 1368.3 L494 1368.3 L500 1368.3 L506 1368.3 L512 1368.3 L518 1368.3 L524 1368.3 L529.9 1368.3 L535.9 1368.3 L541.9 1368.3 L547.9 1368.3 L553.9 1368.3 L559.9 1368.3 L565.9 1368.3 L571.9 1368.3" fill="none" stroke="#e02a2c" stroke-width="4.2"/>
<rect x="98.6" y="1021.1" width="521" height="374.5" fill="none" stroke="#000" stroke-width="2.4"/>
<line x1="92" y1="1391.8" x2="98.6" y2="1391.8" stroke="#000" stroke-width="2.2"/>
<text x="82" y="1401.8" font-size="29" text-anchor="end" font-weight="normal" font-style="normal" fill="#000" >0</text>
<line x1="92" y1="1318.4" x2="98.6" y2="1318.4" stroke="#000" stroke-width="2.2"/>
<text x="82" y="1328.4" font-size="29" text-anchor="end" font-weight="normal" font-style="normal" fill="#000" >2</text>
<line x1="92" y1="1244.9" x2="98.6" y2="1244.9" stroke="#000" stroke-width="2.2"/>
<text x="82" y="1254.9" font-size="29" text-anchor="end" font-weight="normal" font-style="normal" fill="#000" >4</text>
<line x1="92" y1="1171.5" x2="98.6" y2="1171.5" stroke="#000" stroke-width="2.2"/>
<text x="82" y="1181.5" font-size="29" text-anchor="end" font-weight="normal" font-style="normal" fill="#000" >6</text>
<line x1="92" y1="1098" x2="98.6" y2="1098" stroke="#000" stroke-width="2.2"/>
<text x="82" y="1108" font-size="29" text-anchor="end" font-weight="normal" font-style="normal" fill="#000" >8</text>
<line x1="92" y1="1024.6" x2="98.6" y2="1024.6" stroke="#000" stroke-width="2.2"/>
<text x="82" y="1034.6" font-size="29" text-anchor="end" font-weight="normal" font-style="normal" fill="#000" >10</text>
<line x1="98.6" y1="1395.6" x2="98.6" y2="1402.1" stroke="#000" stroke-width="2.2"/>
<text x="98.6" y="1434.5" font-size="29" text-anchor="middle" font-weight="normal" font-style="normal" fill="#000" >0</text>
<line x1="185.6" y1="1395.6" x2="185.6" y2="1402.1" stroke="#000" stroke-width="2.2"/>
<text x="185.6" y="1434.5" font-size="29" text-anchor="middle" font-weight="normal" font-style="normal" fill="#000" >2</text>
<line x1="272.6" y1="1395.6" x2="272.6" y2="1402.1" stroke="#000" stroke-width="2.2"/>
<text x="272.6" y="1434.5" font-size="29" text-anchor="middle" font-weight="normal" font-style="normal" fill="#000" >4</text>
<line x1="359.6" y1="1395.6" x2="359.6" y2="1402.1" stroke="#000" stroke-width="2.2"/>
<text x="359.6" y="1434.5" font-size="29" text-anchor="middle" font-weight="normal" font-style="normal" fill="#000" >6</text>
<line x1="446.6" y1="1395.6" x2="446.6" y2="1402.1" stroke="#000" stroke-width="2.2"/>
<text x="446.6" y="1434.5" font-size="29" text-anchor="middle" font-weight="normal" font-style="normal" fill="#000" >8</text>
<line x1="533.6" y1="1395.6" x2="533.6" y2="1402.1" stroke="#000" stroke-width="2.2"/>
<text x="533.6" y="1434.5" font-size="29" text-anchor="middle" font-weight="normal" font-style="normal" fill="#000" >10</text>
<line x1="620.6" y1="1395.6" x2="620.6" y2="1402.1" stroke="#000" stroke-width="2.2"/>
<text x="620.6" y="1434.5" font-size="29" text-anchor="middle" font-weight="normal" font-style="normal" fill="#000" >12</text>
<text transform="translate(25.5 1206) rotate(-90)" font-size="29" text-anchor="middle">Concentration (μM)</text>
<text x="355.7" y="1476" font-size="29" text-anchor="middle" font-weight="normal" font-style="normal" fill="#000" >Time (s)</text>
<text x="229.2" y="1130.5" font-size="27" text-anchor="start" font-weight="bold" font-style="normal" fill="#4bb447" >D</text>
<text x="229.2" y="1332.2" font-size="27" text-anchor="start" font-weight="bold" font-style="normal" fill="#cfb52f" >T</text>
<text x="378.7" y="1321.4" font-size="27" font-weight="bold" fill="#3585c5">M<tspan font-size="20" dy="7">b</tspan></text>
<text x="448.7" y="1321.4" font-size="27" font-weight="bold" fill="#e02a2c">M<tspan font-size="20" dy="7">a</tspan></text>
<text x="4" y="989.6" font-size="41" text-anchor="start" font-weight="bold" font-style="normal" fill="#000" >d</text>
<text x="259.5" y="1001" font-size="29" text-anchor="start" font-weight="bold" font-style="normal" fill="#000" >25</text>
<rect x="300" y="987.4" width="31.5" height="6.2" fill="#000"/>
<path d="M357.5 990.5 L326 981 L334 990.5 L326 1000 Z" fill="#000"/>
<text x="367.5" y="1001" font-size="29" text-anchor="start" font-weight="bold" font-style="normal" fill="#000" >35 °C</text>
<circle cx="830.2" cy="1372" r="5" fill="#000" stroke="#000" stroke-width="2.2"/>
<circle cx="842.3" cy="1372.8" r="5" fill="#000" stroke="#000" stroke-width="2.2"/>
<circle cx="862.8" cy="1372.8" r="5" fill="#000" stroke="#000" stroke-width="2.2"/>
<circle cx="902.8" cy="1373.5" r="5" fill="#000" stroke="#000" stroke-width="2.2"/>
<circle cx="942.8" cy="1372.8" r="5" fill="#000" stroke="#000" stroke-width="2.2"/>
<circle cx="1023.6" cy="1375.7" r="5" fill="#000" stroke="#000" stroke-width="2.2"/>
<circle cx="1084.3" cy="1376.4" r="5" fill="#000" stroke="#000" stroke-width="2.2"/>
<circle cx="1266" cy="1378.3" r="5" fill="#000" stroke="#000" stroke-width="2.2"/>
<circle cx="830.2" cy="1374.6" r="5" fill="#3585c5" stroke="#000" stroke-width="2.2"/>
<circle cx="842.3" cy="1374.6" r="5" fill="#3585c5" stroke="#000" stroke-width="2.2"/>
<circle cx="862.8" cy="1375.3" r="5" fill="#3585c5" stroke="#000" stroke-width="2.2"/>
<circle cx="902.8" cy="1375.7" r="5" fill="#3585c5" stroke="#000" stroke-width="2.2"/>
<circle cx="942.8" cy="1375.7" r="5" fill="#3585c5" stroke="#000" stroke-width="2.2"/>
<circle cx="1023.6" cy="1377.9" r="5" fill="#3585c5" stroke="#000" stroke-width="2.2"/>
<circle cx="1084.3" cy="1378.3" r="5" fill="#3585c5" stroke="#000" stroke-width="2.2"/>
<circle cx="1266" cy="1381.6" r="5" fill="#3585c5" stroke="#000" stroke-width="2.2"/>
<circle cx="830.2" cy="1128.7" r="5" fill="#4bb447" stroke="#000" stroke-width="2.2"/>
<circle cx="842.3" cy="1144.1" r="5" fill="#4bb447" stroke="#000" stroke-width="2.2"/>
<circle cx="862.8" cy="1163.6" r="5" fill="#4bb447" stroke="#000" stroke-width="2.2"/>
<circle cx="902.8" cy="1199.2" r="5" fill="#4bb447" stroke="#000" stroke-width="2.2"/>
<circle cx="942.8" cy="1227.1" r="5" fill="#4bb447" stroke="#000" stroke-width="2.2"/>
<circle cx="1023.6" cy="1273.7" r="5" fill="#4bb447" stroke="#000" stroke-width="2.2"/>
<circle cx="1084.3" cy="1304.1" r="5" fill="#4bb447" stroke="#000" stroke-width="2.2"/>
<circle cx="1266" cy="1314.8" r="5" fill="#4bb447" stroke="#000" stroke-width="2.2"/>
<circle cx="830.2" cy="1304.9" r="5" fill="#cfb52f" stroke="#000" stroke-width="2.2"/>
<circle cx="842.3" cy="1287.6" r="5" fill="#cfb52f" stroke="#000" stroke-width="2.2"/>
<circle cx="862.8" cy="1268.9" r="5" fill="#cfb52f" stroke="#000" stroke-width="2.2"/>
<circle cx="902.8" cy="1234" r="5" fill="#cfb52f" stroke="#000" stroke-width="2.2"/>
<circle cx="942.8" cy="1206.5" r="5" fill="#cfb52f" stroke="#000" stroke-width="2.2"/>
<circle cx="1023.6" cy="1156.2" r="5" fill="#cfb52f" stroke="#000" stroke-width="2.2"/>
<circle cx="1084.3" cy="1124.7" r="5" fill="#cfb52f" stroke="#000" stroke-width="2.2"/>
<circle cx="1266" cy="1112.9" r="5" fill="#cfb52f" stroke="#000" stroke-width="2.2"/>
<path d="M782 1063 L786.9 1070.6 L791.8 1078 L796.7 1085.1 L801.6 1092.1 L806.6 1098.9 L811.5 1105.5 L816.4 1112 L821.3 1118.2 L826.2 1124.3 L831.1 1130.2 L836 1136 L840.9 1141.6 L845.8 1147 L850.7 1152.3 L855.7 1157.5 L860.6 1162.5 L865.5 1167.3 L870.4 1172.1 L875.3 1176.7 L880.2 1181.2 L885.1 1185.6 L890 1189.8 L894.9 1193.9 L899.8 1198 L904.8 1201.9 L909.7 1205.7 L914.6 1209.4 L919.5 1213 L924.4 1216.5 L929.3 1219.9 L934.2 1223.2 L939.1 1226.4 L944 1229.6 L948.9 1232.6 L953.9 1235.6 L958.8 1238.5 L963.7 1241.3 L968.6 1244 L973.5 1246.7 L978.4 1249.2 L983.3 1251.8 L988.2 1254.2 L993.1 1256.6 L998 1258.9 L1003 1261.1 L1007.9 1263.3 L1012.8 1265.5 L1017.7 1267.5 L1022.6 1269.5 L1027.5 1271.5 L1032.4 1273.4 L1037.3 1275.3 L1042.2 1277.1 L1047.1 1278.8 L1052.1 1280.5 L1057 1282.2 L1061.9 1283.8 L1066.8 1285.4 L1071.7 1286.9 L1076.6 1288.4 L1081.5 1289.9 L1086.4 1291.3 L1091.3 1292.6 L1096.2 1294 L1101.2 1295.3 L1106.1 1296.5 L1111 1297.7 L1115.9 1298.9 L1120.8 1300.1 L1125.7 1301.2 L1130.6 1302.3 L1135.5 1303.4 L1140.4 1304.4 L1145.3 1305.4 L1150.3 1306.4 L1155.2 1307.4 L1160.1 1308.3 L1165 1309.2 L1169.9 1310.1 L1174.8 1311 L1179.7 1311.8 L1184.6 1312.6 L1189.5 1313.4 L1194.4 1314.2 L1199.4 1314.9 L1204.3 1315.6 L1209.2 1316.3 L1214.1 1317 L1219 1317.7 L1223.9 1318.3 L1228.8 1319 L1233.7 1319.6 L1238.6 1320.2 L1243.5 1320.8 L1248.5 1321.3 L1253.4 1321.9 L1258.3 1322.4 L1263.2 1322.9 L1268.1 1323.4" fill="none" stroke="#4bb447" stroke-width="4.2"/>
<path d="M782 1372.4 L786.9 1364.8 L791.8 1357.4 L796.7 1350.2 L801.6 1343.3 L806.6 1336.4 L811.5 1329.8 L816.4 1323.3 L821.3 1317.1 L826.2 1310.9 L831.1 1305 L836 1299.2 L840.9 1293.5 L845.8 1288 L850.7 1282.6 L855.7 1277.4 L860.6 1272.3 L865.5 1267.3 L870.4 1262.5 L875.3 1257.8 L880.2 1253.2 L885.1 1248.8 L890 1244.4 L894.9 1240.2 L899.8 1236.1 L904.8 1232.1 L909.7 1228.2 L914.6 1224.4 L919.5 1220.7 L924.4 1217.1 L929.3 1213.6 L934.2 1210.1 L939.1 1206.8 L944 1203.6 L948.9 1200.4 L953.9 1197.3 L958.8 1194.3 L963.7 1191.4 L968.6 1188.6 L973.5 1185.8 L978.4 1183.1 L983.3 1180.5 L988.2 1177.9 L993.1 1175.5 L998 1173 L1003 1170.7 L1007.9 1168.4 L1012.8 1166.1 L1017.7 1164 L1022.6 1161.8 L1027.5 1159.8 L1032.4 1157.8 L1037.3 1155.8 L1042.2 1153.9 L1047.1 1152 L1052.1 1150.2 L1057 1148.5 L1061.9 1146.7 L1066.8 1145.1 L1071.7 1143.4 L1076.6 1141.9 L1081.5 1140.3 L1086.4 1138.8 L1091.3 1137.3 L1096.2 1135.9 L1101.2 1134.5 L1106.1 1133.2 L1111 1131.9 L1115.9 1130.6 L1120.8 1129.3 L1125.7 1128.1 L1130.6 1126.9 L1135.5 1125.8 L1140.4 1124.6 L1145.3 1123.6 L1150.3 1122.5 L1155.2 1121.4 L1160.1 1120.4 L1165 1119.5 L1169.9 1118.5 L1174.8 1117.6 L1179.7 1116.7 L1184.6 1115.8 L1189.5 1114.9 L1194.4 1114.1 L1199.4 1113.3 L1204.3 1112.5 L1209.2 1111.7 L1214.1 1110.9 L1219 1110.2 L1223.9 1109.5 L1228.8 1108.8 L1233.7 1108.1 L1238.6 1107.4 L1243.5 1106.8 L1248.5 1106.2 L1253.4 1105.6 L1258.3 1105 L1263.2 1104.4 L1268.1 1103.8" fill="none" stroke="#cfb52f" stroke-width="4.2"/>
<path d="M782 1370.5 L786.9 1370.6 L791.8 1370.7 L796.7 1370.8 L801.6 1370.9 L806.6 1370.9 L811.5 1371 L816.4 1371.1 L821.3 1371.2 L826.2 1371.2 L831.1 1371.3 L836 1371.4 L840.9 1371.5 L845.8 1371.6 L850.7 1371.6 L855.7 1371.7 L860.6 1371.8 L865.5 1371.9 L870.4 1371.9 L875.3 1372 L880.2 1372.1 L885.1 1372.2 L890 1372.3 L894.9 1372.3 L899.8 1372.4 L904.8 1372.5 L909.7 1372.6 L914.6 1372.6 L919.5 1372.7 L924.4 1372.8 L929.3 1372.9 L934.2 1373 L939.1 1373 L944 1373.1 L948.9 1373.2 L953.9 1373.3 L958.8 1373.4 L963.7 1373.4 L968.6 1373.5 L973.5 1373.6 L978.4 1373.7 L983.3 1373.7 L988.2 1373.8 L993.1 1373.9 L998 1374 L1003 1374.1 L1007.9 1374.1 L1012.8 1374.2 L1017.7 1374.3 L1022.6 1374.4 L1027.5 1374.4 L1032.4 1374.5 L1037.3 1374.6 L1042.2 1374.7 L1047.1 1374.8 L1052.1 1374.8 L1057 1374.9 L1061.9 1375 L1066.8 1375.1 L1071.7 1375.1 L1076.6 1375.2 L1081.5 1375.3 L1086.4 1375.4 L1091.3 1375.5 L1096.2 1375.5 L1101.2 1375.6 L1106.1 1375.7 L1111 1375.8 L1115.9 1375.8 L1120.8 1375.9 L1125.7 1376 L1130.6 1376.1 L1135.5 1376.2 L1140.4 1376.2 L1145.3 1376.3 L1150.3 1376.4 L1155.2 1376.5 L1160.1 1376.5 L1165 1376.6 L1169.9 1376.7 L1174.8 1376.8 L1179.7 1376.9 L1184.6 1376.9 L1189.5 1377 L1194.4 1377.1 L1199.4 1377.2 L1204.3 1377.2 L1209.2 1377.3 L1214.1 1377.4 L1219 1377.5 L1223.9 1377.6 L1228.8 1377.6 L1233.7 1377.7 L1238.6 1377.8 L1243.5 1377.9 L1248.5 1377.9 L1253.4 1378 L1258.3 1378.1 L1263.2 1378.2 L1268.1 1378.3" fill="none" stroke="#e02a2c" stroke-width="3.0"/>
<path d="M782 1372.4 L786.9 1372.5 L791.8 1372.5 L796.7 1372.6 L801.6 1372.7 L806.6 1372.8 L811.5 1372.9 L816.4 1373 L821.3 1373 L826.2 1373.1 L831.1 1373.2 L836 1373.3 L840.9 1373.4 L845.8 1373.4 L850.7 1373.5 L855.7 1373.6 L860.6 1373.7 L865.5 1373.8 L870.4 1373.9 L875.3 1373.9 L880.2 1374 L885.1 1374.1 L890 1374.2 L894.9 1374.3 L899.8 1374.3 L904.8 1374.4 L909.7 1374.5 L914.6 1374.6 L919.5 1374.7 L924.4 1374.7 L929.3 1374.8 L934.2 1374.9 L939.1 1375 L944 1375.1 L948.9 1375.2 L953.9 1375.2 L958.8 1375.3 L963.7 1375.4 L968.6 1375.5 L973.5 1375.6 L978.4 1375.6 L983.3 1375.7 L988.2 1375.8 L993.1 1375.9 L998 1376 L1003 1376.1 L1007.9 1376.1 L1012.8 1376.2 L1017.7 1376.3 L1022.6 1376.4 L1027.5 1376.5 L1032.4 1376.5 L1037.3 1376.6 L1042.2 1376.7 L1047.1 1376.8 L1052.1 1376.9 L1057 1377 L1061.9 1377 L1066.8 1377.1 L1071.7 1377.2 L1076.6 1377.3 L1081.5 1377.4 L1086.4 1377.4 L1091.3 1377.5 L1096.2 1377.6 L1101.2 1377.7 L1106.1 1377.8 L1111 1377.8 L1115.9 1377.9 L1120.8 1378 L1125.7 1378.1 L1130.6 1378.2 L1135.5 1378.3 L1140.4 1378.3 L1145.3 1378.4 L1150.3 1378.5 L1155.2 1378.6 L1160.1 1378.7 L1165 1378.7 L1169.9 1378.8 L1174.8 1378.9 L1179.7 1379 L1184.6 1379.1 L1189.5 1379.2 L1194.4 1379.2 L1199.4 1379.3 L1204.3 1379.4 L1209.2 1379.5 L1214.1 1379.6 L1219 1379.6 L1223.9 1379.7 L1228.8 1379.8 L1233.7 1379.9 L1238.6 1380 L1243.5 1380 L1248.5 1380.1 L1253.4 1380.2 L1258.3 1380.3 L1263.2 1380.4 L1268.1 1380.5" fill="none" stroke="#3585c5" stroke-width="4.0"/>
<rect x="781.8" y="1021" width="520.5" height="374" fill="none" stroke="#000" stroke-width="2.4"/>
<line x1="775.5" y1="1391.1" x2="781.8" y2="1391.1" stroke="#000" stroke-width="2.2"/>
<text x="763" y="1401.1" font-size="29" text-anchor="end" font-weight="normal" font-style="normal" fill="#000" >0</text>
<line x1="775.5" y1="1317.7" x2="781.8" y2="1317.7" stroke="#000" stroke-width="2.2"/>
<text x="763" y="1327.7" font-size="29" text-anchor="end" font-weight="normal" font-style="normal" fill="#000" >2</text>
<line x1="775.5" y1="1244.3" x2="781.8" y2="1244.3" stroke="#000" stroke-width="2.2"/>
<text x="763" y="1254.3" font-size="29" text-anchor="end" font-weight="normal" font-style="normal" fill="#000" >4</text>
<line x1="775.5" y1="1170.9" x2="781.8" y2="1170.9" stroke="#000" stroke-width="2.2"/>
<text x="763" y="1180.9" font-size="29" text-anchor="end" font-weight="normal" font-style="normal" fill="#000" >6</text>
<line x1="775.5" y1="1097.5" x2="781.8" y2="1097.5" stroke="#000" stroke-width="2.2"/>
<text x="763" y="1107.5" font-size="29" text-anchor="end" font-weight="normal" font-style="normal" fill="#000" >8</text>
<line x1="775.5" y1="1024.1" x2="781.8" y2="1024.1" stroke="#000" stroke-width="2.2"/>
<text x="763" y="1034.1" font-size="29" text-anchor="end" font-weight="normal" font-style="normal" fill="#000" >10</text>
<line x1="782" y1="1395" x2="782" y2="1401.5" stroke="#000" stroke-width="2.2"/>
<text x="782" y="1434.5" font-size="29" text-anchor="middle" font-weight="normal" font-style="normal" fill="#000" >0</text>
<line x1="856.1" y1="1395" x2="856.1" y2="1401.5" stroke="#000" stroke-width="2.2"/>
<text x="856.1" y="1434.5" font-size="29" text-anchor="middle" font-weight="normal" font-style="normal" fill="#000" >5</text>
<line x1="930.2" y1="1395" x2="930.2" y2="1401.5" stroke="#000" stroke-width="2.2"/>
<text x="930.2" y="1434.5" font-size="29" text-anchor="middle" font-weight="normal" font-style="normal" fill="#000" >10</text>
<line x1="1004.3" y1="1395" x2="1004.3" y2="1401.5" stroke="#000" stroke-width="2.2"/>
<text x="1004.3" y="1434.5" font-size="29" text-anchor="middle" font-weight="normal" font-style="normal" fill="#000" >15</text>
<line x1="1078.4" y1="1395" x2="1078.4" y2="1401.5" stroke="#000" stroke-width="2.2"/>
<text x="1078.4" y="1434.5" font-size="29" text-anchor="middle" font-weight="normal" font-style="normal" fill="#000" >20</text>
<line x1="1152.5" y1="1395" x2="1152.5" y2="1401.5" stroke="#000" stroke-width="2.2"/>
<text x="1152.5" y="1434.5" font-size="29" text-anchor="middle" font-weight="normal" font-style="normal" fill="#000" >25</text>
<line x1="1226.6" y1="1395" x2="1226.6" y2="1401.5" stroke="#000" stroke-width="2.2"/>
<text x="1226.6" y="1434.5" font-size="29" text-anchor="middle" font-weight="normal" font-style="normal" fill="#000" >30</text>
<line x1="1300.7" y1="1395" x2="1300.7" y2="1401.5" stroke="#000" stroke-width="2.2"/>
<text x="1300.7" y="1434.5" font-size="29" text-anchor="middle" font-weight="normal" font-style="normal" fill="#000" >35</text>
<text x="1039" y="1476" font-size="29" text-anchor="middle" font-weight="normal" font-style="normal" fill="#000" >Time (s)</text>
<text x="832.3" y="1199.1" font-size="27" text-anchor="start" font-weight="bold" font-style="normal" fill="#4bb447" >D</text>
<text x="1216" y="1155.1" font-size="27" text-anchor="start" font-weight="bold" font-style="normal" fill="#cfb52f" >T</text>
<text x="909.1" y="1341.4" font-size="27" font-weight="bold" fill="#3585c5">M<tspan font-size="20" dy="7">b</tspan></text>
<text x="979.7" y="1341.4" font-size="27" font-weight="bold" fill="#e02a2c">M<tspan font-size="20" dy="7">a</tspan></text>
<text x="674" y="989.6" font-size="41" text-anchor="start" font-weight="bold" font-style="normal" fill="#000" >e</text>
<text x="947" y="1001" font-size="29" text-anchor="start" font-weight="bold" font-style="normal" fill="#000" >35</text>
<rect x="987.5" y="987.4" width="34" height="6.2" fill="#000"/>
<path d="M1047.5 990.5 L1016 981 L1024 990.5 L1016 1000 Z" fill="#000"/>
<text x="1055" y="1001" font-size="29" text-anchor="start" font-weight="bold" font-style="normal" fill="#000" >10 °C</text>
<g fill="#4a4a4a" stroke="#1c1c1c" stroke-width="0.9"><circle cx="170.5" cy="1774.7" r="3.4"/><circle cx="232.4" cy="1747.1" r="3.4"/><circle cx="249.5" cy="1737.7" r="3.4"/><circle cx="153.8" cy="1785.1" r="3.4"/><circle cx="173.7" cy="1767.3" r="3.4"/><circle cx="304" cy="1716" r="3.4"/><circle cx="160.8" cy="1778.2" r="3.4"/><circle cx="170.7" cy="1770.2" r="3.4"/><circle cx="307.4" cy="1717.6" r="3.4"/><circle cx="252.9" cy="1730.1" r="3.4"/><circle cx="210.6" cy="1762.2" r="3.4"/><circle cx="234.4" cy="1739" r="3.4"/><circle cx="259.7" cy="1732.3" r="3.4"/><circle cx="195" cy="1754.4" r="3.4"/><circle cx="172" cy="1773.1" r="3.4"/><circle cx="280.6" cy="1732.2" r="3.4"/><circle cx="261" cy="1737.2" r="3.4"/><circle cx="234.6" cy="1746.5" r="3.4"/><circle cx="285.4" cy="1719" r="3.4"/><circle cx="240.7" cy="1736.7" r="3.4"/><circle cx="312.8" cy="1710.4" r="3.4"/><circle cx="183.2" cy="1760.5" r="3.4"/><circle cx="241.5" cy="1745.1" r="3.4"/><circle cx="229.8" cy="1745.3" r="3.4"/><circle cx="208" cy="1756.5" r="3.4"/><circle cx="247.8" cy="1739.7" r="3.4"/><circle cx="188.3" cy="1758.8" r="3.4"/><circle cx="283" cy="1722.6" r="3.4"/><circle cx="293.8" cy="1717.9" r="3.4"/><circle cx="170.5" cy="1773.3" r="3.4"/><circle cx="227" cy="1747.1" r="3.4"/><circle cx="195.3" cy="1764.7" r="3.4"/><circle cx="162.9" cy="1780.6" r="3.4"/><circle cx="298.6" cy="1714.1" r="3.4"/><circle cx="220.8" cy="1746.1" r="3.4"/><circle cx="173.7" cy="1769.7" r="3.4"/><circle cx="261.5" cy="1726.8" r="3.4"/><circle cx="182.8" cy="1762.8" r="3.4"/><circle cx="299.5" cy="1722.4" r="3.4"/><circle cx="185.3" cy="1770.9" r="3.4"/><circle cx="154.5" cy="1785" r="3.4"/><circle cx="182.5" cy="1766" r="3.4"/><circle cx="206.7" cy="1756.3" r="3.4"/><circle cx="227.3" cy="1750.5" r="3.4"/><circle cx="300.3" cy="1717" r="3.4"/><circle cx="265.5" cy="1733.1" r="3.4"/><circle cx="205.7" cy="1764.8" r="3.4"/><circle cx="151.8" cy="1777.8" r="3.4"/><circle cx="175.7" cy="1764.6" r="3.4"/><circle cx="315.4" cy="1710.7" r="3.4"/><circle cx="225.8" cy="1748.8" r="3.4"/><circle cx="264.4" cy="1734" r="3.4"/><circle cx="158.1" cy="1777.7" r="3.4"/><circle cx="154.7" cy="1781.8" r="3.4"/><circle cx="290.3" cy="1716.8" r="3.4"/><circle cx="247.2" cy="1733.9" r="3.4"/><circle cx="200.6" cy="1760.7" r="3.4"/><circle cx="202" cy="1754.6" r="3.4"/><circle cx="163.9" cy="1766.1" r="3.4"/><circle cx="177.8" cy="1760.6" r="3.4"/><circle cx="153.1" cy="1773.9" r="3.4"/><circle cx="289.1" cy="1722.7" r="3.4"/><circle cx="226.9" cy="1740.6" r="3.4"/><circle cx="170.2" cy="1772" r="3.4"/><circle cx="272.5" cy="1737.2" r="3.4"/><circle cx="181.7" cy="1765.2" r="3.4"/><circle cx="159.3" cy="1783.6" r="3.4"/><circle cx="248.9" cy="1738.4" r="3.4"/><circle cx="298.6" cy="1715" r="3.4"/><circle cx="153.5" cy="1777.6" r="3.4"/><circle cx="283.5" cy="1722.1" r="3.4"/><circle cx="180.8" cy="1770.6" r="3.4"/><circle cx="164.5" cy="1766.9" r="3.4"/><circle cx="152" cy="1787.7" r="3.4"/><circle cx="197.9" cy="1763.8" r="3.4"/><circle cx="270.4" cy="1722.4" r="3.4"/><circle cx="231.4" cy="1747.5" r="3.4"/><circle cx="291.4" cy="1728.2" r="3.4"/><circle cx="185.3" cy="1760.6" r="3.4"/><circle cx="201.6" cy="1764.6" r="3.4"/><circle cx="192.1" cy="1753.1" r="3.4"/><circle cx="312.4" cy="1713.1" r="3.4"/><circle cx="306.1" cy="1709.5" r="3.4"/><circle cx="205.9" cy="1760.3" r="3.4"/><circle cx="221.8" cy="1739.5" r="3.4"/><circle cx="201.5" cy="1745.9" r="3.4"/><circle cx="273.7" cy="1731.6" r="3.4"/><circle cx="155.7" cy="1791.5" r="3.4"/><circle cx="160.3" cy="1772.2" r="3.4"/><circle cx="216.5" cy="1755.5" r="3.4"/><circle cx="189.9" cy="1763.9" r="3.4"/><circle cx="290.2" cy="1721.7" r="3.4"/><circle cx="272.9" cy="1732.7" r="3.4"/><circle cx="240.1" cy="1748" r="3.4"/><circle cx="259.5" cy="1727.8" r="3.4"/><circle cx="264.6" cy="1734.3" r="3.4"/><circle cx="279.4" cy="1729.1" r="3.4"/><circle cx="303.9" cy="1711.4" r="3.4"/><circle cx="174" cy="1777.8" r="3.4"/><circle cx="253.6" cy="1743.9" r="3.4"/><circle cx="173" cy="1763.9" r="3.4"/><circle cx="223" cy="1755.9" r="3.4"/><circle cx="280.3" cy="1727.6" r="3.4"/><circle cx="298.4" cy="1718.6" r="3.4"/><circle cx="275.8" cy="1735.4" r="3.4"/><circle cx="154.9" cy="1779.7" r="3.4"/><circle cx="209" cy="1757.6" r="3.4"/><circle cx="176.2" cy="1776.3" r="3.4"/><circle cx="315.8" cy="1714.9" r="3.4"/><circle cx="173.1" cy="1774.2" r="3.4"/><circle cx="189.8" cy="1755.9" r="3.4"/><circle cx="208.7" cy="1748.2" r="3.4"/><circle cx="159.2" cy="1782.8" r="3.4"/><circle cx="294.4" cy="1717.6" r="3.4"/><circle cx="255.3" cy="1735.3" r="3.4"/><circle cx="175.7" cy="1762" r="3.4"/><circle cx="232.2" cy="1742.6" r="3.4"/><circle cx="162.1" cy="1767.3" r="3.4"/><circle cx="251" cy="1743.5" r="3.4"/><circle cx="187.7" cy="1758.6" r="3.4"/><circle cx="155.5" cy="1777.4" r="3.4"/><circle cx="168.2" cy="1770.6" r="3.4"/><circle cx="241.7" cy="1745.3" r="3.4"/><circle cx="255.4" cy="1728.5" r="3.4"/><circle cx="203.2" cy="1758.8" r="3.4"/><circle cx="256.5" cy="1733.3" r="3.4"/><circle cx="207.8" cy="1759.4" r="3.4"/><circle cx="170.8" cy="1773" r="3.4"/><circle cx="201.6" cy="1757.1" r="3.4"/><circle cx="215" cy="1753.5" r="3.4"/><circle cx="301.4" cy="1716.4" r="3.4"/><circle cx="168.3" cy="1774.3" r="3.4"/><circle cx="163.4" cy="1773.5" r="3.4"/><circle cx="242.8" cy="1736.5" r="3.4"/><circle cx="309.9" cy="1713.4" r="3.4"/><circle cx="300.5" cy="1719.5" r="3.4"/><circle cx="265.9" cy="1741.1" r="3.4"/><circle cx="160.1" cy="1772.9" r="3.4"/><circle cx="283.7" cy="1727" r="3.4"/><circle cx="263.1" cy="1738.4" r="3.4"/><circle cx="173" cy="1757.5" r="3.4"/><circle cx="226.6" cy="1737.2" r="3.4"/><circle cx="157.2" cy="1770.2" r="3.4"/><circle cx="282.9" cy="1725.7" r="3.4"/><circle cx="269" cy="1741.1" r="3.4"/><circle cx="283.4" cy="1727.5" r="3.4"/><circle cx="276" cy="1734.1" r="3.4"/><circle cx="193.6" cy="1761" r="3.4"/><circle cx="280.9" cy="1717.4" r="3.4"/><circle cx="190.6" cy="1750.7" r="3.4"/><circle cx="172" cy="1775.5" r="3.4"/><circle cx="214.2" cy="1753.7" r="3.4"/><circle cx="232.1" cy="1737.4" r="3.4"/><circle cx="196.7" cy="1767" r="3.4"/><circle cx="250.2" cy="1729.8" r="3.4"/><circle cx="249.6" cy="1741.9" r="3.4"/><circle cx="189" cy="1771.4" r="3.4"/><circle cx="253" cy="1732.2" r="3.4"/><circle cx="208.7" cy="1750.6" r="3.4"/><circle cx="271.7" cy="1733.9" r="3.4"/><circle cx="197.5" cy="1755.1" r="3.4"/><circle cx="282.4" cy="1729.8" r="3.4"/><circle cx="218.3" cy="1744.4" r="3.4"/><circle cx="241.4" cy="1743.7" r="3.4"/><circle cx="261.4" cy="1733" r="3.4"/><circle cx="235.6" cy="1740.2" r="3.4"/><circle cx="192" cy="1757.9" r="3.4"/><circle cx="312.6" cy="1713" r="3.4"/><circle cx="165" cy="1762.4" r="3.4"/><circle cx="203.3" cy="1757.6" r="3.4"/><circle cx="240.7" cy="1738.4" r="3.4"/><circle cx="153.8" cy="1783" r="3.4"/><circle cx="174.9" cy="1761.3" r="3.4"/><circle cx="282.5" cy="1733.1" r="3.4"/><circle cx="279.9" cy="1726.3" r="3.4"/><circle cx="255.4" cy="1729.7" r="3.4"/><circle cx="299.6" cy="1723.7" r="3.4"/><circle cx="275.2" cy="1736.4" r="3.4"/><circle cx="198.9" cy="1759.4" r="3.4"/><circle cx="256.7" cy="1730.3" r="3.4"/><circle cx="205.8" cy="1758" r="3.4"/><circle cx="274.2" cy="1727.1" r="3.4"/><circle cx="213.3" cy="1751.8" r="3.4"/><circle cx="174.6" cy="1777.2" r="3.4"/><circle cx="295.4" cy="1722" r="3.4"/><circle cx="264.3" cy="1732.6" r="3.4"/><circle cx="273.4" cy="1731.5" r="3.4"/><circle cx="242.5" cy="1739.3" r="3.4"/><circle cx="279.8" cy="1730.9" r="3.4"/><circle cx="223.8" cy="1751.2" r="3.4"/><circle cx="243.5" cy="1737.5" r="3.4"/><circle cx="159.4" cy="1776.7" r="3.4"/><circle cx="241.7" cy="1750.9" r="3.4"/><circle cx="285" cy="1726.8" r="3.4"/><circle cx="266.8" cy="1730.7" r="3.4"/><circle cx="283.1" cy="1734.1" r="3.4"/><circle cx="231.8" cy="1743.7" r="3.4"/><circle cx="296.2" cy="1716.1" r="3.4"/><circle cx="167.1" cy="1776.1" r="3.4"/><circle cx="295.2" cy="1717.3" r="3.4"/><circle cx="211" cy="1752.3" r="3.4"/><circle cx="164.2" cy="1775.6" r="3.4"/><circle cx="252.4" cy="1735.2" r="3.4"/><circle cx="225" cy="1742.6" r="3.4"/><circle cx="220.5" cy="1746.3" r="3.4"/><circle cx="291.3" cy="1720.1" r="3.4"/><circle cx="172" cy="1776.3" r="3.4"/><circle cx="252" cy="1732.7" r="3.4"/><circle cx="218.1" cy="1747.6" r="3.4"/><circle cx="237.2" cy="1751" r="3.4"/><circle cx="232.4" cy="1740.8" r="3.4"/><circle cx="171.4" cy="1778.5" r="3.4"/><circle cx="234.5" cy="1748.7" r="3.4"/><circle cx="293" cy="1721.1" r="3.4"/><circle cx="177.6" cy="1759.5" r="3.4"/><circle cx="150.9" cy="1783.1" r="3.4"/><circle cx="160.3" cy="1779.6" r="3.4"/><circle cx="225.8" cy="1750.6" r="3.4"/><circle cx="311.7" cy="1712.8" r="3.4"/><circle cx="156.4" cy="1784.7" r="3.4"/><circle cx="314.5" cy="1715.9" r="3.4"/><circle cx="238.5" cy="1736.2" r="3.4"/><circle cx="169.1" cy="1779.4" r="3.4"/><circle cx="218.9" cy="1750.8" r="3.4"/><circle cx="183.6" cy="1762.3" r="3.4"/><circle cx="268.3" cy="1729.8" r="3.4"/><circle cx="239.4" cy="1749.3" r="3.4"/><circle cx="197.1" cy="1766.2" r="3.4"/><circle cx="191.7" cy="1753.2" r="3.4"/><circle cx="293.8" cy="1721.6" r="3.4"/><circle cx="277" cy="1728.3" r="3.4"/><circle cx="221.8" cy="1747.3" r="3.4"/><circle cx="216.7" cy="1748.7" r="3.4"/><circle cx="272.2" cy="1724.4" r="3.4"/><circle cx="311.1" cy="1715.9" r="3.4"/><circle cx="162.3" cy="1769.2" r="3.4"/><circle cx="175.6" cy="1766" r="3.4"/><circle cx="209.5" cy="1752.6" r="3.4"/><circle cx="233.8" cy="1739.5" r="3.4"/><circle cx="160.9" cy="1779.7" r="3.4"/><circle cx="157.9" cy="1779.1" r="3.4"/><circle cx="185.7" cy="1761.1" r="3.4"/><circle cx="213.5" cy="1748.5" r="3.4"/><circle cx="272.5" cy="1728.3" r="3.4"/><circle cx="250.9" cy="1740.6" r="3.4"/><circle cx="153.9" cy="1779.7" r="3.4"/><circle cx="156.5" cy="1779" r="3.4"/><circle cx="224.5" cy="1745" r="3.4"/><circle cx="295.1" cy="1719.7" r="3.4"/><circle cx="301.8" cy="1718.3" r="3.4"/><circle cx="210" cy="1746.1" r="3.4"/><circle cx="297.2" cy="1725.7" r="3.4"/><circle cx="304.2" cy="1713.6" r="3.4"/><circle cx="216.9" cy="1748.4" r="3.4"/><circle cx="273.6" cy="1735.5" r="3.4"/><circle cx="210" cy="1756.5" r="3.4"/><circle cx="174.6" cy="1768.6" r="3.4"/><circle cx="245.1" cy="1735.9" r="3.4"/><circle cx="163.4" cy="1765.1" r="3.4"/><circle cx="259.8" cy="1733.7" r="3.4"/><circle cx="284.1" cy="1730.3" r="3.4"/><circle cx="301.9" cy="1714.3" r="3.4"/><circle cx="223.8" cy="1753.5" r="3.4"/><circle cx="168.6" cy="1765" r="3.4"/><circle cx="299.7" cy="1715.9" r="3.4"/><circle cx="294.4" cy="1722.9" r="3.4"/><circle cx="310.6" cy="1713.1" r="3.4"/><circle cx="248.2" cy="1740.5" r="3.4"/><circle cx="261.5" cy="1729.4" r="3.4"/><circle cx="211.3" cy="1749.4" r="3.4"/><circle cx="179.6" cy="1756.4" r="3.4"/><circle cx="197.7" cy="1754.5" r="3.4"/><circle cx="269.3" cy="1726.5" r="3.4"/><circle cx="203.3" cy="1751.6" r="3.4"/><circle cx="264.5" cy="1733.2" r="3.4"/><circle cx="232.9" cy="1740.1" r="3.4"/><circle cx="224" cy="1737.2" r="3.4"/><circle cx="310.6" cy="1721.8" r="3.4"/><circle cx="176.7" cy="1763" r="3.4"/><circle cx="230.4" cy="1738.2" r="3.4"/><circle cx="175.7" cy="1774.9" r="3.4"/><circle cx="305.6" cy="1719.8" r="3.4"/><circle cx="230.6" cy="1738.6" r="3.4"/><circle cx="204.4" cy="1751" r="3.4"/><circle cx="177.1" cy="1762" r="3.4"/><circle cx="248.2" cy="1742.4" r="3.4"/><circle cx="215.6" cy="1750.4" r="3.4"/><circle cx="170.2" cy="1766.1" r="3.4"/><circle cx="154.4" cy="1778.5" r="3.4"/><circle cx="214.3" cy="1758.7" r="3.4"/><circle cx="246.4" cy="1731.8" r="3.4"/><circle cx="235.6" cy="1740.4" r="3.4"/><circle cx="299.3" cy="1713.7" r="3.4"/><circle cx="301.2" cy="1725.7" r="3.4"/><circle cx="305.4" cy="1722.3" r="3.4"/><circle cx="282.5" cy="1730.1" r="3.4"/><circle cx="228.8" cy="1744.2" r="3.4"/><circle cx="236.5" cy="1744.9" r="3.4"/><circle cx="215.4" cy="1741.7" r="3.4"/><circle cx="215.7" cy="1753.3" r="3.4"/><circle cx="155.9" cy="1770" r="3.4"/><circle cx="282.4" cy="1721.2" r="3.4"/><circle cx="190.1" cy="1759.5" r="3.4"/><circle cx="153.9" cy="1776.8" r="3.4"/><circle cx="226.9" cy="1748.2" r="3.4"/><circle cx="268.9" cy="1733.9" r="3.4"/><circle cx="221.8" cy="1749.4" r="3.4"/><circle cx="209.8" cy="1750.7" r="3.4"/><circle cx="259" cy="1736.2" r="3.4"/><circle cx="176.2" cy="1767.2" r="3.4"/><circle cx="150.9" cy="1787.5" r="3.4"/><circle cx="247.9" cy="1733.4" r="3.4"/><circle cx="237.6" cy="1728.7" r="3.4"/><circle cx="293.6" cy="1719.6" r="3.4"/><circle cx="218.5" cy="1760.8" r="3.4"/><circle cx="280.3" cy="1729.2" r="3.4"/><circle cx="152" cy="1778.7" r="3.4"/><circle cx="153.6" cy="1784.3" r="3.4"/><circle cx="249" cy="1739.3" r="3.4"/><circle cx="186.8" cy="1766.9" r="3.4"/><circle cx="160.2" cy="1772.7" r="3.4"/><circle cx="170.3" cy="1771" r="3.4"/><circle cx="211.6" cy="1755.4" r="3.4"/><circle cx="205.3" cy="1755" r="3.4"/><circle cx="243.2" cy="1734.2" r="3.4"/><circle cx="297.2" cy="1720.2" r="3.4"/><circle cx="210.1" cy="1760.2" r="3.4"/><circle cx="179.8" cy="1770.2" r="3.4"/><circle cx="245.5" cy="1740.6" r="3.4"/><circle cx="149.4" cy="1784.2" r="3.4"/><circle cx="213.3" cy="1766.3" r="3.4"/><circle cx="202" cy="1760.8" r="3.4"/><circle cx="213.7" cy="1758.3" r="3.4"/><circle cx="157.5" cy="1788.6" r="3.4"/><circle cx="241.6" cy="1740.2" r="3.4"/><circle cx="253.2" cy="1736.6" r="3.4"/><circle cx="274.2" cy="1734.1" r="3.4"/><circle cx="308.9" cy="1719.9" r="3.4"/><circle cx="208.2" cy="1758" r="3.4"/><circle cx="258.6" cy="1735" r="3.4"/><circle cx="222.8" cy="1748" r="3.4"/><circle cx="184.9" cy="1758.4" r="3.4"/><circle cx="297.5" cy="1723.7" r="3.4"/><circle cx="273.6" cy="1729" r="3.4"/><circle cx="306.4" cy="1709.1" r="3.4"/><circle cx="286.2" cy="1724.1" r="3.4"/><circle cx="302.2" cy="1711.1" r="3.4"/><circle cx="170.4" cy="1764.9" r="3.4"/><circle cx="151.6" cy="1780.2" r="3.4"/><circle cx="182.2" cy="1760.9" r="3.4"/><circle cx="217.8" cy="1755.9" r="3.4"/><circle cx="263.8" cy="1725.9" r="3.4"/><circle cx="222.2" cy="1749.2" r="3.4"/><circle cx="234.7" cy="1745.1" r="3.4"/><circle cx="276.1" cy="1735.1" r="3.4"/><circle cx="160.8" cy="1780.8" r="3.4"/><circle cx="262.3" cy="1733.4" r="3.4"/><circle cx="157.1" cy="1777.8" r="3.4"/><circle cx="190.5" cy="1762.9" r="3.4"/><circle cx="269.6" cy="1735.6" r="3.4"/><circle cx="263.1" cy="1729.5" r="3.4"/><circle cx="216.7" cy="1753.9" r="3.4"/><circle cx="198.2" cy="1760.2" r="3.4"/><circle cx="287.3" cy="1725.2" r="3.4"/><circle cx="194.9" cy="1760.4" r="3.4"/><circle cx="154.2" cy="1791.4" r="3.4"/><circle cx="190.3" cy="1759.8" r="3.4"/><circle cx="152.5" cy="1781.2" r="3.4"/><circle cx="284.4" cy="1726.6" r="3.4"/><circle cx="169.4" cy="1774.6" r="3.4"/><circle cx="311.7" cy="1714.2" r="3.4"/><circle cx="184.6" cy="1767.5" r="3.4"/><circle cx="200.1" cy="1765.2" r="3.4"/><circle cx="246.7" cy="1731.3" r="3.4"/><circle cx="200.5" cy="1760" r="3.4"/><circle cx="212.3" cy="1747.8" r="3.4"/><circle cx="166.4" cy="1774" r="3.4"/><circle cx="214" cy="1747.1" r="3.4"/><circle cx="153.2" cy="1773.6" r="3.4"/><circle cx="186.4" cy="1764.2" r="3.4"/><circle cx="300.9" cy="1723.2" r="3.4"/><circle cx="195.9" cy="1764.5" r="3.4"/><circle cx="194.2" cy="1763.6" r="3.4"/><circle cx="262.4" cy="1738.4" r="3.4"/><circle cx="296.4" cy="1716.6" r="3.4"/><circle cx="198.4" cy="1749.7" r="3.4"/><circle cx="211.8" cy="1752.2" r="3.4"/><circle cx="268.4" cy="1730" r="3.4"/><circle cx="281.3" cy="1731.8" r="3.4"/><circle cx="251.5" cy="1745.6" r="3.4"/><circle cx="178.9" cy="1759.7" r="3.4"/><circle cx="179.2" cy="1780.6" r="3.4"/><circle cx="275.6" cy="1735.8" r="3.4"/><circle cx="267" cy="1734.9" r="3.4"/><circle cx="298.7" cy="1720.5" r="3.4"/><circle cx="279.2" cy="1737.5" r="3.4"/><circle cx="219.3" cy="1750.1" r="3.4"/><circle cx="171.3" cy="1767.5" r="3.4"/><circle cx="297.7" cy="1720.1" r="3.4"/><circle cx="265.2" cy="1726.1" r="3.4"/><circle cx="245.3" cy="1740.7" r="3.4"/><circle cx="262.9" cy="1731.9" r="3.4"/><circle cx="213.3" cy="1755.1" r="3.4"/><circle cx="206.3" cy="1759.5" r="3.4"/><circle cx="245.1" cy="1733.9" r="3.4"/><circle cx="229.6" cy="1750.8" r="3.4"/><circle cx="267.4" cy="1727.2" r="3.4"/><circle cx="305.3" cy="1719" r="3.4"/><circle cx="290.5" cy="1716.8" r="3.4"/><circle cx="213.7" cy="1755" r="3.4"/><circle cx="211.2" cy="1750.6" r="3.4"/><circle cx="303.8" cy="1716.8" r="3.4"/><circle cx="214.9" cy="1749.2" r="3.4"/><circle cx="282.6" cy="1717.8" r="3.4"/><circle cx="164.5" cy="1767.2" r="3.4"/><circle cx="224.3" cy="1747" r="3.4"/><circle cx="235.2" cy="1745.3" r="3.4"/><circle cx="284.1" cy="1720" r="3.4"/><circle cx="295.6" cy="1712.6" r="3.4"/><circle cx="174.5" cy="1763.7" r="3.4"/><circle cx="252.1" cy="1735" r="3.4"/><circle cx="254.1" cy="1732.4" r="3.4"/><circle cx="174.3" cy="1764.1" r="3.4"/><circle cx="288.2" cy="1727.1" r="3.4"/><circle cx="241.4" cy="1744.4" r="3.4"/><circle cx="309.6" cy="1716.3" r="3.4"/><circle cx="180.1" cy="1761.5" r="3.4"/><circle cx="236.7" cy="1742.2" r="3.4"/><circle cx="203" cy="1758.2" r="3.4"/><circle cx="256.3" cy="1728.2" r="3.4"/><circle cx="250.5" cy="1740.4" r="3.4"/><circle cx="234.6" cy="1743.1" r="3.4"/><circle cx="203.3" cy="1756.6" r="3.4"/><circle cx="233.2" cy="1749.8" r="3.4"/><circle cx="211.2" cy="1758.6" r="3.4"/><circle cx="297.8" cy="1722.7" r="3.4"/><circle cx="226.1" cy="1751.7" r="3.4"/><circle cx="228.4" cy="1748.4" r="3.4"/><circle cx="192.2" cy="1756" r="3.4"/><circle cx="191.4" cy="1760.9" r="3.4"/><circle cx="308.3" cy="1717.9" r="3.4"/><circle cx="201.4" cy="1755.7" r="3.4"/><circle cx="294" cy="1721.4" r="3.4"/><circle cx="248.3" cy="1739.2" r="3.4"/><circle cx="312.7" cy="1717.1" r="3.4"/><circle cx="176.4" cy="1775.1" r="3.4"/><circle cx="306.2" cy="1718.6" r="3.4"/><circle cx="278" cy="1727.7" r="3.4"/><circle cx="243.9" cy="1743.2" r="3.4"/><circle cx="267.4" cy="1733.6" r="3.4"/><circle cx="269.6" cy="1730.2" r="3.4"/><circle cx="223.9" cy="1753.5" r="3.4"/><circle cx="255" cy="1737" r="3.4"/><circle cx="187.2" cy="1760.2" r="3.4"/><circle cx="152.6" cy="1787.2" r="3.4"/><circle cx="262" cy="1731.4" r="3.4"/><circle cx="228.2" cy="1747.9" r="3.4"/><circle cx="300.2" cy="1712.8" r="3.4"/><circle cx="193.1" cy="1762.3" r="3.4"/><circle cx="285.6" cy="1721.3" r="3.4"/><circle cx="313.7" cy="1708.3" r="3.4"/><circle cx="299" cy="1712" r="3.4"/><circle cx="310.1" cy="1720.9" r="3.4"/><circle cx="175.6" cy="1767.3" r="3.4"/><circle cx="176.6" cy="1769.1" r="3.4"/><circle cx="187.1" cy="1770.3" r="3.4"/><circle cx="209.4" cy="1755.2" r="3.4"/><circle cx="168.3" cy="1774.6" r="3.4"/><circle cx="174.2" cy="1761.1" r="3.4"/><circle cx="152.1" cy="1781.1" r="3.4"/><circle cx="304.9" cy="1714.6" r="3.4"/><circle cx="209.3" cy="1758.4" r="3.4"/><circle cx="253.5" cy="1736.2" r="3.4"/><circle cx="224.9" cy="1739.7" r="3.4"/><circle cx="273.1" cy="1722.6" r="3.4"/><circle cx="283.6" cy="1721.9" r="3.4"/><circle cx="213" cy="1757.3" r="3.4"/><circle cx="238.4" cy="1743.1" r="3.4"/><circle cx="165.3" cy="1775.5" r="3.4"/><circle cx="196.7" cy="1750.6" r="3.4"/><circle cx="186.2" cy="1750" r="3.4"/><circle cx="200.5" cy="1756.7" r="3.4"/><circle cx="203.2" cy="1757.3" r="3.4"/><circle cx="245" cy="1735.9" r="3.4"/><circle cx="204.6" cy="1760.4" r="3.4"/><circle cx="203.6" cy="1758" r="3.4"/><circle cx="287.8" cy="1719.4" r="3.4"/><circle cx="151" cy="1775.1" r="3.4"/><circle cx="149.9" cy="1781.8" r="3.4"/><circle cx="158.5" cy="1777" r="3.4"/><circle cx="293.5" cy="1721.1" r="3.4"/><circle cx="254.8" cy="1744.7" r="3.4"/><circle cx="270.6" cy="1729.6" r="3.4"/><circle cx="308.9" cy="1714.4" r="3.4"/><circle cx="185.4" cy="1759.4" r="3.4"/><circle cx="302.6" cy="1715.9" r="3.4"/><circle cx="189.5" cy="1766.3" r="3.4"/><circle cx="235.7" cy="1744.8" r="3.4"/><circle cx="262.7" cy="1731.6" r="3.4"/><circle cx="282.1" cy="1728.1" r="3.4"/><circle cx="190.4" cy="1763.5" r="3.4"/><circle cx="228.7" cy="1735.9" r="3.4"/><circle cx="156.6" cy="1758.3" r="3.4"/><circle cx="197.1" cy="1773.2" r="3.4"/><circle cx="312.8" cy="1714.9" r="3.4"/><circle cx="300.2" cy="1718.2" r="3.4"/><circle cx="246.2" cy="1730.3" r="3.4"/><circle cx="280.3" cy="1722.3" r="3.4"/><circle cx="299.7" cy="1723.6" r="3.4"/><circle cx="204.4" cy="1744.3" r="3.4"/><circle cx="312.7" cy="1710.9" r="3.4"/><circle cx="223.9" cy="1751.1" r="3.4"/><circle cx="175.5" cy="1768.9" r="3.4"/><circle cx="237.5" cy="1744.9" r="3.4"/><circle cx="248.1" cy="1736.8" r="3.4"/><circle cx="264.7" cy="1741.9" r="3.4"/><circle cx="261" cy="1728.3" r="3.4"/><circle cx="155.9" cy="1769.9" r="3.4"/><circle cx="255.7" cy="1735.7" r="3.4"/><circle cx="302.9" cy="1722.2" r="3.4"/></g>
<g fill="#2e2826" stroke="#0e0e0e" stroke-width="0.6"><circle cx="446" cy="1803.8" r="2.7"/><circle cx="549.2" cy="1772.6" r="2.7"/><circle cx="541.3" cy="1772.5" r="2.7"/><circle cx="419.4" cy="1808.3" r="2.7"/><circle cx="461.5" cy="1796.8" r="2.7"/><circle cx="528.3" cy="1782.2" r="2.7"/><circle cx="552.9" cy="1768.9" r="2.7"/><circle cx="499.3" cy="1789.1" r="2.7"/><circle cx="529.1" cy="1781.8" r="2.7"/><circle cx="441.5" cy="1802.3" r="2.7"/><circle cx="538.9" cy="1776.8" r="2.7"/><circle cx="545.9" cy="1776.1" r="2.7"/><circle cx="471.9" cy="1796.7" r="2.7"/><circle cx="441.2" cy="1802" r="2.7"/><circle cx="404.9" cy="1808.8" r="2.7"/><circle cx="511.7" cy="1784.7" r="2.7"/><circle cx="512.2" cy="1788.1" r="2.7"/><circle cx="399.2" cy="1808.7" r="2.7"/><circle cx="492.1" cy="1791.2" r="2.7"/><circle cx="567" cy="1765.8" r="2.7"/><circle cx="404.2" cy="1806.5" r="2.7"/><circle cx="423.6" cy="1803.7" r="2.7"/><circle cx="409.3" cy="1807.6" r="2.7"/><circle cx="477.1" cy="1795.2" r="2.7"/><circle cx="467.9" cy="1799" r="2.7"/><circle cx="554.8" cy="1769.7" r="2.7"/><circle cx="410.9" cy="1805.5" r="2.7"/><circle cx="434.9" cy="1804.1" r="2.7"/><circle cx="566.9" cy="1766.5" r="2.7"/><circle cx="402.4" cy="1809.6" r="2.7"/><circle cx="445.4" cy="1801.8" r="2.7"/><circle cx="469.6" cy="1794.8" r="2.7"/><circle cx="399.1" cy="1810.2" r="2.7"/><circle cx="450.4" cy="1799.2" r="2.7"/><circle cx="506.9" cy="1787.6" r="2.7"/><circle cx="509.1" cy="1783.8" r="2.7"/><circle cx="508" cy="1787.6" r="2.7"/><circle cx="515.5" cy="1783.3" r="2.7"/><circle cx="509" cy="1787.8" r="2.7"/><circle cx="405.2" cy="1810.4" r="2.7"/><circle cx="516.2" cy="1786" r="2.7"/><circle cx="503.5" cy="1785.9" r="2.7"/><circle cx="438" cy="1801.3" r="2.7"/><circle cx="474.1" cy="1794.2" r="2.7"/><circle cx="441.5" cy="1803" r="2.7"/><circle cx="554.4" cy="1769.7" r="2.7"/><circle cx="448.9" cy="1800.8" r="2.7"/><circle cx="428.2" cy="1805" r="2.7"/><circle cx="541.6" cy="1777.7" r="2.7"/><circle cx="535.2" cy="1780.2" r="2.7"/><circle cx="551.5" cy="1772.8" r="2.7"/><circle cx="520.2" cy="1783.1" r="2.7"/><circle cx="473.6" cy="1795.9" r="2.7"/><circle cx="484.1" cy="1790" r="2.7"/><circle cx="498.4" cy="1787" r="2.7"/><circle cx="505.7" cy="1786" r="2.7"/><circle cx="568.2" cy="1763.1" r="2.7"/><circle cx="446.5" cy="1801.4" r="2.7"/><circle cx="536.5" cy="1780.4" r="2.7"/><circle cx="402" cy="1807.4" r="2.7"/><circle cx="433.1" cy="1802.9" r="2.7"/><circle cx="568" cy="1764.2" r="2.7"/><circle cx="443.9" cy="1801.7" r="2.7"/><circle cx="490.5" cy="1790.3" r="2.7"/><circle cx="563.1" cy="1767.1" r="2.7"/><circle cx="516.2" cy="1784.7" r="2.7"/><circle cx="486.4" cy="1792.7" r="2.7"/><circle cx="524.6" cy="1783.2" r="2.7"/><circle cx="574.1" cy="1763.1" r="2.7"/><circle cx="567.5" cy="1765.3" r="2.7"/><circle cx="431.4" cy="1806.6" r="2.7"/><circle cx="424.1" cy="1805.3" r="2.7"/><circle cx="450.5" cy="1801.5" r="2.7"/><circle cx="425" cy="1805.2" r="2.7"/><circle cx="535.8" cy="1778.3" r="2.7"/><circle cx="548.2" cy="1771.7" r="2.7"/><circle cx="424.2" cy="1804.1" r="2.7"/><circle cx="412.1" cy="1807" r="2.7"/><circle cx="457" cy="1798.1" r="2.7"/><circle cx="522" cy="1782.1" r="2.7"/><circle cx="536.9" cy="1780.6" r="2.7"/><circle cx="481.5" cy="1793.3" r="2.7"/><circle cx="513.4" cy="1786.7" r="2.7"/><circle cx="563.2" cy="1766.8" r="2.7"/><circle cx="556.6" cy="1769.8" r="2.7"/><circle cx="420.1" cy="1805.2" r="2.7"/><circle cx="526.7" cy="1781.7" r="2.7"/><circle cx="538" cy="1782.4" r="2.7"/><circle cx="561.4" cy="1768.2" r="2.7"/><circle cx="473.8" cy="1797" r="2.7"/><circle cx="426.9" cy="1805.1" r="2.7"/><circle cx="483.8" cy="1794.1" r="2.7"/><circle cx="465.3" cy="1795.7" r="2.7"/><circle cx="469.5" cy="1795.3" r="2.7"/><circle cx="542.7" cy="1776.7" r="2.7"/><circle cx="515.7" cy="1785.6" r="2.7"/><circle cx="520.7" cy="1782.4" r="2.7"/><circle cx="515.8" cy="1784" r="2.7"/><circle cx="424.4" cy="1804.7" r="2.7"/><circle cx="409.4" cy="1807" r="2.7"/><circle cx="469.7" cy="1794.8" r="2.7"/><circle cx="551.1" cy="1768.3" r="2.7"/><circle cx="515.1" cy="1784.4" r="2.7"/><circle cx="540.7" cy="1774.8" r="2.7"/><circle cx="510.4" cy="1784.3" r="2.7"/><circle cx="539.4" cy="1777.1" r="2.7"/><circle cx="577.3" cy="1760.5" r="2.7"/><circle cx="526.7" cy="1781.8" r="2.7"/><circle cx="553.2" cy="1768.8" r="2.7"/><circle cx="573.1" cy="1763.2" r="2.7"/><circle cx="531.6" cy="1778.6" r="2.7"/><circle cx="544.5" cy="1773.7" r="2.7"/><circle cx="413.1" cy="1807.6" r="2.7"/><circle cx="405.5" cy="1808.2" r="2.7"/><circle cx="564.3" cy="1765.4" r="2.7"/><circle cx="441.6" cy="1802.5" r="2.7"/><circle cx="453.7" cy="1799.9" r="2.7"/><circle cx="423.2" cy="1805.7" r="2.7"/><circle cx="512.6" cy="1787.6" r="2.7"/><circle cx="404.3" cy="1807.2" r="2.7"/><circle cx="542" cy="1777.1" r="2.7"/><circle cx="452.4" cy="1800.5" r="2.7"/><circle cx="532.2" cy="1779.6" r="2.7"/><circle cx="562" cy="1765" r="2.7"/><circle cx="522.6" cy="1783.5" r="2.7"/><circle cx="475" cy="1795.5" r="2.7"/><circle cx="510.9" cy="1785.7" r="2.7"/><circle cx="552.1" cy="1769.8" r="2.7"/><circle cx="526.3" cy="1781.5" r="2.7"/><circle cx="444.2" cy="1800.1" r="2.7"/><circle cx="400.4" cy="1808.6" r="2.7"/><circle cx="556.5" cy="1765.7" r="2.7"/><circle cx="510.6" cy="1785.6" r="2.7"/><circle cx="410.4" cy="1804.9" r="2.7"/><circle cx="497.6" cy="1788.6" r="2.7"/><circle cx="504.4" cy="1788.4" r="2.7"/><circle cx="451.5" cy="1799.6" r="2.7"/><circle cx="557.6" cy="1767.4" r="2.7"/><circle cx="441.9" cy="1802.6" r="2.7"/><circle cx="424.7" cy="1804.7" r="2.7"/><circle cx="454.4" cy="1798.8" r="2.7"/><circle cx="459.6" cy="1797.9" r="2.7"/><circle cx="557.2" cy="1770.5" r="2.7"/><circle cx="516.6" cy="1785" r="2.7"/><circle cx="420.8" cy="1806.6" r="2.7"/><circle cx="469.5" cy="1794.8" r="2.7"/><circle cx="417.4" cy="1807.3" r="2.7"/><circle cx="525.3" cy="1779.8" r="2.7"/><circle cx="552" cy="1770.5" r="2.7"/><circle cx="415.7" cy="1804.8" r="2.7"/><circle cx="488.5" cy="1794.5" r="2.7"/><circle cx="442.8" cy="1799.1" r="2.7"/><circle cx="450" cy="1802.1" r="2.7"/><circle cx="532.7" cy="1781" r="2.7"/><circle cx="573.9" cy="1760.4" r="2.7"/><circle cx="448.9" cy="1800.1" r="2.7"/><circle cx="496.1" cy="1791.7" r="2.7"/><circle cx="454.5" cy="1801.1" r="2.7"/><circle cx="410.1" cy="1804.6" r="2.7"/><circle cx="506.8" cy="1785.9" r="2.7"/><circle cx="426.8" cy="1803" r="2.7"/><circle cx="522.1" cy="1781" r="2.7"/><circle cx="532.8" cy="1778.8" r="2.7"/><circle cx="424.5" cy="1807.9" r="2.7"/><circle cx="505.7" cy="1787.1" r="2.7"/><circle cx="436.3" cy="1802.6" r="2.7"/><circle cx="535.6" cy="1778.5" r="2.7"/><circle cx="450.2" cy="1801.2" r="2.7"/><circle cx="522.4" cy="1783.5" r="2.7"/><circle cx="515" cy="1783.1" r="2.7"/><circle cx="502" cy="1790.1" r="2.7"/><circle cx="438" cy="1801" r="2.7"/><circle cx="548.3" cy="1771.8" r="2.7"/><circle cx="462.5" cy="1798.5" r="2.7"/><circle cx="536.9" cy="1781.2" r="2.7"/><circle cx="484" cy="1792.2" r="2.7"/><circle cx="479.2" cy="1794.4" r="2.7"/><circle cx="526.5" cy="1783.4" r="2.7"/><circle cx="460" cy="1799.3" r="2.7"/><circle cx="535.7" cy="1780.7" r="2.7"/><circle cx="478.6" cy="1795.7" r="2.7"/><circle cx="531.6" cy="1780.4" r="2.7"/><circle cx="523.9" cy="1783" r="2.7"/><circle cx="568.2" cy="1766.1" r="2.7"/><circle cx="472.1" cy="1795.8" r="2.7"/><circle cx="461.5" cy="1800.5" r="2.7"/><circle cx="577.1" cy="1759" r="2.7"/><circle cx="491.4" cy="1789.4" r="2.7"/><circle cx="473.9" cy="1797.6" r="2.7"/><circle cx="524.4" cy="1782.6" r="2.7"/><circle cx="443.8" cy="1800.5" r="2.7"/><circle cx="570.4" cy="1764.6" r="2.7"/><circle cx="533.9" cy="1781.1" r="2.7"/><circle cx="515.2" cy="1783.6" r="2.7"/><circle cx="451.2" cy="1801.2" r="2.7"/><circle cx="543.9" cy="1775" r="2.7"/><circle cx="563.5" cy="1766.1" r="2.7"/><circle cx="540.7" cy="1777.3" r="2.7"/><circle cx="562.3" cy="1768.3" r="2.7"/><circle cx="415.5" cy="1804.8" r="2.7"/><circle cx="531.7" cy="1779.5" r="2.7"/><circle cx="554.1" cy="1770.1" r="2.7"/><circle cx="484.2" cy="1790.8" r="2.7"/><circle cx="413.3" cy="1804.4" r="2.7"/><circle cx="496.1" cy="1790.3" r="2.7"/><circle cx="442.4" cy="1801.7" r="2.7"/><circle cx="404.8" cy="1807.5" r="2.7"/><circle cx="566.5" cy="1765.5" r="2.7"/><circle cx="548" cy="1771" r="2.7"/><circle cx="512.6" cy="1789.5" r="2.7"/><circle cx="533" cy="1778.2" r="2.7"/><circle cx="519.2" cy="1782.7" r="2.7"/><circle cx="481.8" cy="1791.2" r="2.7"/><circle cx="420.7" cy="1805.3" r="2.7"/><circle cx="450.7" cy="1802.4" r="2.7"/><circle cx="489.6" cy="1791.3" r="2.7"/><circle cx="503.2" cy="1788.5" r="2.7"/><circle cx="453" cy="1799" r="2.7"/><circle cx="421.8" cy="1808.4" r="2.7"/><circle cx="460.3" cy="1798.5" r="2.7"/><circle cx="432.2" cy="1801.8" r="2.7"/><circle cx="565.6" cy="1766.7" r="2.7"/><circle cx="438.6" cy="1801.9" r="2.7"/><circle cx="469.5" cy="1797.4" r="2.7"/><circle cx="496" cy="1789.7" r="2.7"/><circle cx="444.2" cy="1801.8" r="2.7"/><circle cx="487.6" cy="1792" r="2.7"/><circle cx="497.9" cy="1787.6" r="2.7"/><circle cx="407.8" cy="1805.1" r="2.7"/><circle cx="568.6" cy="1766.1" r="2.7"/><circle cx="495.3" cy="1789.5" r="2.7"/><circle cx="425.1" cy="1805.5" r="2.7"/><circle cx="574.9" cy="1762" r="2.7"/><circle cx="429.1" cy="1801.2" r="2.7"/><circle cx="529.2" cy="1778.8" r="2.7"/><circle cx="485.4" cy="1794.4" r="2.7"/><circle cx="445.1" cy="1800" r="2.7"/><circle cx="467" cy="1796.4" r="2.7"/><circle cx="485.1" cy="1790.2" r="2.7"/><circle cx="465.4" cy="1796.5" r="2.7"/><circle cx="443.2" cy="1801" r="2.7"/><circle cx="473.5" cy="1795.2" r="2.7"/><circle cx="477" cy="1794.5" r="2.7"/><circle cx="522.1" cy="1781.6" r="2.7"/><circle cx="434.4" cy="1802.4" r="2.7"/><circle cx="407.1" cy="1807.4" r="2.7"/><circle cx="548.2" cy="1772.8" r="2.7"/><circle cx="411.4" cy="1806.7" r="2.7"/><circle cx="512" cy="1787.9" r="2.7"/><circle cx="497.3" cy="1789.5" r="2.7"/><circle cx="573.5" cy="1763.4" r="2.7"/><circle cx="433" cy="1802.5" r="2.7"/><circle cx="557.9" cy="1769.5" r="2.7"/><circle cx="422.3" cy="1804" r="2.7"/><circle cx="429.7" cy="1801.7" r="2.7"/><circle cx="516" cy="1782.7" r="2.7"/><circle cx="428.7" cy="1805.3" r="2.7"/><circle cx="504" cy="1785.7" r="2.7"/><circle cx="519.8" cy="1785.1" r="2.7"/><circle cx="421.5" cy="1805.7" r="2.7"/><circle cx="540.4" cy="1775.2" r="2.7"/><circle cx="474.7" cy="1794.8" r="2.7"/><circle cx="572.1" cy="1766.2" r="2.7"/><circle cx="401" cy="1806.8" r="2.7"/><circle cx="413.1" cy="1804.8" r="2.7"/><circle cx="510" cy="1786.5" r="2.7"/><circle cx="445" cy="1803.2" r="2.7"/><circle cx="471.1" cy="1797.7" r="2.7"/><circle cx="561.7" cy="1766.3" r="2.7"/><circle cx="460.5" cy="1798.5" r="2.7"/><circle cx="408.2" cy="1807.8" r="2.7"/><circle cx="424.6" cy="1806.9" r="2.7"/><circle cx="498.4" cy="1792.1" r="2.7"/><circle cx="537.7" cy="1778.3" r="2.7"/><circle cx="534.6" cy="1781.2" r="2.7"/><circle cx="483.4" cy="1792.3" r="2.7"/><circle cx="441.9" cy="1802.7" r="2.7"/><circle cx="422" cy="1804.2" r="2.7"/><circle cx="439" cy="1801.2" r="2.7"/><circle cx="434.9" cy="1803.8" r="2.7"/><circle cx="561.4" cy="1765.5" r="2.7"/><circle cx="472" cy="1797.2" r="2.7"/><circle cx="419.9" cy="1805.2" r="2.7"/><circle cx="513.2" cy="1785" r="2.7"/><circle cx="480.8" cy="1793.4" r="2.7"/><circle cx="404.2" cy="1807.2" r="2.7"/><circle cx="574.4" cy="1763" r="2.7"/><circle cx="568.4" cy="1766.3" r="2.7"/><circle cx="446" cy="1805.7" r="2.7"/><circle cx="548.1" cy="1770.6" r="2.7"/><circle cx="480.5" cy="1794.1" r="2.7"/><circle cx="519.6" cy="1783" r="2.7"/><circle cx="516" cy="1782.8" r="2.7"/><circle cx="530" cy="1780.9" r="2.7"/><circle cx="477.8" cy="1793" r="2.7"/><circle cx="425.2" cy="1804.9" r="2.7"/><circle cx="543" cy="1777.7" r="2.7"/><circle cx="477.8" cy="1791.3" r="2.7"/><circle cx="478.1" cy="1794.6" r="2.7"/><circle cx="534.9" cy="1779.8" r="2.7"/><circle cx="521.7" cy="1781.2" r="2.7"/><circle cx="576" cy="1763.1" r="2.7"/><circle cx="468.4" cy="1797.3" r="2.7"/><circle cx="512.6" cy="1784.6" r="2.7"/><circle cx="414" cy="1808.5" r="2.7"/><circle cx="419.1" cy="1804.1" r="2.7"/><circle cx="444.6" cy="1802.3" r="2.7"/><circle cx="449.1" cy="1800.1" r="2.7"/><circle cx="478.9" cy="1792.5" r="2.7"/><circle cx="440" cy="1801.9" r="2.7"/><circle cx="566.6" cy="1764.7" r="2.7"/><circle cx="475.6" cy="1796.2" r="2.7"/><circle cx="467.4" cy="1794.7" r="2.7"/><circle cx="560.5" cy="1766.9" r="2.7"/><circle cx="541.4" cy="1776.2" r="2.7"/><circle cx="536.9" cy="1781" r="2.7"/><circle cx="562.6" cy="1764.8" r="2.7"/><circle cx="530.8" cy="1781.8" r="2.7"/><circle cx="453.7" cy="1796.9" r="2.7"/><circle cx="571.1" cy="1764.4" r="2.7"/><circle cx="403.9" cy="1807.6" r="2.7"/><circle cx="559.6" cy="1768" r="2.7"/><circle cx="474.1" cy="1794.3" r="2.7"/><circle cx="459.4" cy="1795.5" r="2.7"/><circle cx="483.9" cy="1790.4" r="2.7"/><circle cx="470.6" cy="1798.2" r="2.7"/><circle cx="553" cy="1769.8" r="2.7"/><circle cx="543.3" cy="1774.3" r="2.7"/><circle cx="532.7" cy="1781.1" r="2.7"/><circle cx="440.7" cy="1800.9" r="2.7"/><circle cx="477.7" cy="1793.2" r="2.7"/><circle cx="412.4" cy="1805" r="2.7"/><circle cx="531.9" cy="1781.7" r="2.7"/><circle cx="406.5" cy="1810.4" r="2.7"/><circle cx="469.9" cy="1795" r="2.7"/><circle cx="426" cy="1805.3" r="2.7"/><circle cx="551.5" cy="1771.5" r="2.7"/><circle cx="563.4" cy="1769.4" r="2.7"/><circle cx="450.8" cy="1796.5" r="2.7"/><circle cx="555.2" cy="1769" r="2.7"/><circle cx="430.9" cy="1804.9" r="2.7"/><circle cx="526.3" cy="1779.2" r="2.7"/><circle cx="443.9" cy="1802" r="2.7"/><circle cx="478.7" cy="1794.4" r="2.7"/><circle cx="508.4" cy="1787.3" r="2.7"/><circle cx="461.9" cy="1797.1" r="2.7"/><circle cx="434.4" cy="1803.8" r="2.7"/><circle cx="504.2" cy="1786.4" r="2.7"/><circle cx="541.1" cy="1777.9" r="2.7"/><circle cx="577.3" cy="1762.2" r="2.7"/><circle cx="456.7" cy="1798.4" r="2.7"/><circle cx="445.1" cy="1799" r="2.7"/><circle cx="412.7" cy="1809.2" r="2.7"/><circle cx="435.6" cy="1804.6" r="2.7"/><circle cx="403.6" cy="1809.1" r="2.7"/><circle cx="443.7" cy="1800.4" r="2.7"/><circle cx="529" cy="1780.2" r="2.7"/><circle cx="419.5" cy="1808.5" r="2.7"/><circle cx="514.7" cy="1785.6" r="2.7"/><circle cx="451.8" cy="1798.6" r="2.7"/><circle cx="440" cy="1802.2" r="2.7"/><circle cx="485.6" cy="1792.5" r="2.7"/><circle cx="477.1" cy="1794.2" r="2.7"/><circle cx="479" cy="1792.6" r="2.7"/><circle cx="420" cy="1807.9" r="2.7"/><circle cx="500.1" cy="1789.3" r="2.7"/><circle cx="560.5" cy="1766.8" r="2.7"/><circle cx="400.7" cy="1805.7" r="2.7"/><circle cx="413.5" cy="1805.8" r="2.7"/><circle cx="503.9" cy="1787.4" r="2.7"/><circle cx="456" cy="1800.4" r="2.7"/><circle cx="444.1" cy="1800.8" r="2.7"/><circle cx="575.8" cy="1764" r="2.7"/><circle cx="454.2" cy="1799.7" r="2.7"/><circle cx="563.8" cy="1765" r="2.7"/><circle cx="509.4" cy="1781.7" r="2.7"/><circle cx="404.4" cy="1805.9" r="2.7"/><circle cx="446.6" cy="1798.7" r="2.7"/><circle cx="412.6" cy="1806.6" r="2.7"/><circle cx="495.3" cy="1790.2" r="2.7"/><circle cx="561.6" cy="1768.9" r="2.7"/><circle cx="408.4" cy="1807.2" r="2.7"/><circle cx="404" cy="1806" r="2.7"/><circle cx="404.2" cy="1811.2" r="2.7"/><circle cx="447.9" cy="1801.1" r="2.7"/><circle cx="428.8" cy="1803.9" r="2.7"/><circle cx="572.3" cy="1763.1" r="2.7"/><circle cx="537.7" cy="1776.4" r="2.7"/><circle cx="567.1" cy="1766" r="2.7"/><circle cx="502.8" cy="1788.3" r="2.7"/><circle cx="546" cy="1776.2" r="2.7"/><circle cx="525.9" cy="1783.2" r="2.7"/><circle cx="451.3" cy="1801.3" r="2.7"/><circle cx="515.8" cy="1786.1" r="2.7"/><circle cx="450.8" cy="1799.7" r="2.7"/><circle cx="482.1" cy="1792.5" r="2.7"/><circle cx="546.3" cy="1773.5" r="2.7"/><circle cx="438.5" cy="1800.6" r="2.7"/><circle cx="430.3" cy="1803.8" r="2.7"/><circle cx="551.4" cy="1769.7" r="2.7"/><circle cx="481.9" cy="1794.3" r="2.7"/><circle cx="430.1" cy="1804.1" r="2.7"/><circle cx="455.9" cy="1796.3" r="2.7"/><circle cx="449.2" cy="1800.5" r="2.7"/><circle cx="559.4" cy="1769.6" r="2.7"/><circle cx="483.6" cy="1790.1" r="2.7"/><circle cx="563.7" cy="1765" r="2.7"/><circle cx="483.2" cy="1793" r="2.7"/><circle cx="567.2" cy="1763.1" r="2.7"/><circle cx="563.1" cy="1765.6" r="2.7"/><circle cx="500.6" cy="1788.4" r="2.7"/><circle cx="539.8" cy="1775.9" r="2.7"/><circle cx="450.4" cy="1800.7" r="2.7"/><circle cx="419.7" cy="1806.7" r="2.7"/><circle cx="507.2" cy="1784.7" r="2.7"/><circle cx="408.9" cy="1807.3" r="2.7"/><circle cx="482.7" cy="1794.7" r="2.7"/><circle cx="510" cy="1785.6" r="2.7"/><circle cx="536.4" cy="1779.4" r="2.7"/><circle cx="559.5" cy="1768.5" r="2.7"/></g>
<line x1="102.8" y1="1798.8" x2="622" y2="1585.9" stroke="#58595b" stroke-width="4.4"/>
<line x1="102.8" y1="1885.5" x2="622" y2="1754.8" stroke="#9e8a7c" stroke-width="4.4"/>
<rect x="102.8" y="1558" width="519.2" height="373.8" fill="none" stroke="#000" stroke-width="2.4"/>
<line x1="96.5" y1="1931.8" x2="102.8" y2="1931.8" stroke="#000" stroke-width="2.2"/>
<text x="85.2" y="1940.7" font-size="30" text-anchor="end" font-weight="normal" font-style="normal" fill="#000" >0</text>
<line x1="96.5" y1="1857.1" x2="102.8" y2="1857.1" stroke="#000" stroke-width="2.2"/>
<text x="85.2" y="1866" font-size="30" text-anchor="end" font-weight="normal" font-style="normal" fill="#000" >5</text>
<line x1="96.5" y1="1782.4" x2="102.8" y2="1782.4" stroke="#000" stroke-width="2.2"/>
<text x="85.2" y="1791.3" font-size="30" text-anchor="end" font-weight="normal" font-style="normal" fill="#000" >10</text>
<line x1="96.5" y1="1707.7" x2="102.8" y2="1707.7" stroke="#000" stroke-width="2.2"/>
<text x="85.2" y="1716.6" font-size="30" text-anchor="end" font-weight="normal" font-style="normal" fill="#000" >15</text>
<line x1="96.5" y1="1633" x2="102.8" y2="1633" stroke="#000" stroke-width="2.2"/>
<text x="85.2" y="1641.9" font-size="30" text-anchor="end" font-weight="normal" font-style="normal" fill="#000" >20</text>
<line x1="96.5" y1="1558.3" x2="102.8" y2="1558.3" stroke="#000" stroke-width="2.2"/>
<text x="85.2" y="1567.2" font-size="30" text-anchor="end" font-weight="normal" font-style="normal" fill="#000" >25</text>
<line x1="102.8" y1="1931.8" x2="102.8" y2="1938.8" stroke="#000" stroke-width="2.2"/>
<line x1="189.3" y1="1931.8" x2="189.3" y2="1938.8" stroke="#000" stroke-width="2.2"/>
<line x1="275.9" y1="1931.8" x2="275.9" y2="1938.8" stroke="#000" stroke-width="2.2"/>
<line x1="362.4" y1="1931.8" x2="362.4" y2="1938.8" stroke="#000" stroke-width="2.2"/>
<line x1="448.9" y1="1931.8" x2="448.9" y2="1938.8" stroke="#000" stroke-width="2.2"/>
<line x1="535.4" y1="1931.8" x2="535.4" y2="1938.8" stroke="#000" stroke-width="2.2"/>
<line x1="622" y1="1931.8" x2="622" y2="1938.8" stroke="#000" stroke-width="2.2"/>
<text x="102.8" y="1971.3" font-size="30" text-anchor="middle" font-weight="normal" font-style="normal" fill="#000" >0.0029</text>
<text x="275.9" y="1971.3" font-size="30" text-anchor="middle" font-weight="normal" font-style="normal" fill="#000" >0.0031</text>
<text x="448.9" y="1971.3" font-size="30" text-anchor="middle" font-weight="normal" font-style="normal" fill="#000" >0.0033</text>
<text x="361" y="2021" font-size="29" text-anchor="middle">1/<tspan font-style="italic">T</tspan> (K<tspan font-size="18" dy="-12">−1</tspan><tspan dy="12">)</tspan></text>
<text transform="translate(24 1747.6) rotate(-90)" font-size="29" text-anchor="middle">ln <tspan font-style="italic">K</tspan><tspan font-size="20" dy="7">A</tspan></text>
<text x="158" y="1684.1" font-size="29" font-weight="bold" font-style="italic" fill="#5a5b5d">K</text>
<text x="177" y="1691.2" font-size="21" font-weight="bold" fill="#5a5b5d">A <tspan font-size="20.5">(M--&gt;D)</tspan></text>
<text x="441.5" y="1731.2" font-size="29" font-weight="bold" font-style="italic" fill="#9e8a7c">K</text>
<text x="461" y="1740.4" font-size="21" font-weight="bold" fill="#9e8a7c">A <tspan font-size="20.5">(D--&gt;T)</tspan></text>
<text x="9" y="1555.2" font-size="41" text-anchor="start" font-weight="bold" font-style="normal" fill="#000" >f</text>
<rect x="845.8" y="1580.8" width="8.4" height="8.4" fill="#5a5a5a" stroke="#3a3a3a" stroke-width="1.2"/>
<rect x="925.8" y="1587.3" width="8.4" height="8.4" fill="#5a5a5a" stroke="#3a3a3a" stroke-width="1.2"/>
<rect x="1008.3" y="1590.8" width="8.4" height="8.4" fill="#5a5a5a" stroke="#3a3a3a" stroke-width="1.2"/>
<rect x="1050.8" y="1594.3" width="8.4" height="8.4" fill="#5a5a5a" stroke="#3a3a3a" stroke-width="1.2"/>
<rect x="1075.8" y="1599.3" width="8.4" height="8.4" fill="#5a5a5a" stroke="#3a3a3a" stroke-width="1.2"/>
<rect x="1093.3" y="1595.8" width="8.4" height="8.4" fill="#5a5a5a" stroke="#3a3a3a" stroke-width="1.2"/>
<rect x="1128.3" y="1599.8" width="8.4" height="8.4" fill="#5a5a5a" stroke="#3a3a3a" stroke-width="1.2"/>
<rect x="1154.3" y="1604.8" width="8.4" height="8.4" fill="#5a5a5a" stroke="#3a3a3a" stroke-width="1.2"/>
<rect x="845.8" y="1652.3" width="8.4" height="8.4" fill="#8f7b6e" stroke="#3a3a3a" stroke-width="1.2"/>
<rect x="1050.8" y="1670.8" width="8.4" height="8.4" fill="#8f7b6e" stroke="#3a3a3a" stroke-width="1.2"/>
<rect x="1093.3" y="1669.8" width="8.4" height="8.4" fill="#8f7b6e" stroke="#3a3a3a" stroke-width="1.2"/>
<rect x="1128.3" y="1673.3" width="8.4" height="8.4" fill="#8f7b6e" stroke="#3a3a3a" stroke-width="1.2"/>
<rect x="1154.3" y="1671.8" width="8.4" height="8.4" fill="#8f7b6e" stroke="#3a3a3a" stroke-width="1.2"/>
<rect x="1180.8" y="1669.8" width="8.4" height="8.4" fill="#8f7b6e" stroke="#3a3a3a" stroke-width="1.2"/>
<rect x="1225.8" y="1670.8" width="8.4" height="8.4" fill="#8f7b6e" stroke="#3a3a3a" stroke-width="1.2"/>
<rect x="1272.3" y="1667.3" width="8.4" height="8.4" fill="#8f7b6e" stroke="#3a3a3a" stroke-width="1.2"/>
<rect x="845.8" y="1798.3" width="8.4" height="8.4" fill="#b8915e" stroke="#3a3a3a" stroke-width="1.2"/>
<rect x="1050.8" y="1849.8" width="8.4" height="8.4" fill="#b8915e" stroke="#3a3a3a" stroke-width="1.2"/>
<rect x="1093.3" y="1854.8" width="8.4" height="8.4" fill="#b8915e" stroke="#3a3a3a" stroke-width="1.2"/>
<rect x="1128.3" y="1864.3" width="8.4" height="8.4" fill="#b8915e" stroke="#3a3a3a" stroke-width="1.2"/>
<rect x="1154.3" y="1868.3" width="8.4" height="8.4" fill="#b8915e" stroke="#3a3a3a" stroke-width="1.2"/>
<rect x="1180.8" y="1874.3" width="8.4" height="8.4" fill="#b8915e" stroke="#3a3a3a" stroke-width="1.2"/>
<rect x="1225.8" y="1877.3" width="8.4" height="8.4" fill="#b8915e" stroke="#3a3a3a" stroke-width="1.2"/>
<rect x="1272.3" y="1885.8" width="8.4" height="8.4" fill="#b8915e" stroke="#3a3a3a" stroke-width="1.2"/>
<line x1="783.9" y1="1580.7" x2="1304" y2="1617.4" stroke="#58595b" stroke-width="4.4"/>
<line x1="783.9" y1="1659.4" x2="1304" y2="1679" stroke="#9e8a7c" stroke-width="4.4"/>
<line x1="783.9" y1="1792.5" x2="1304" y2="1900.5" stroke="#c79e66" stroke-width="4.4"/>
<rect x="783.9" y="1556.6" width="520.1" height="374.2" fill="none" stroke="#000" stroke-width="2.4"/>
<line x1="777.2" y1="1931.1" x2="783.9" y2="1931.1" stroke="#000" stroke-width="2.0"/>
<line x1="777.2" y1="1914.1" x2="783.9" y2="1914.1" stroke="#000" stroke-width="2.0"/>
<line x1="777.2" y1="1897.1" x2="783.9" y2="1897.1" stroke="#000" stroke-width="2.0"/>
<line x1="777.2" y1="1880.1" x2="783.9" y2="1880.1" stroke="#000" stroke-width="2.0"/>
<line x1="777.2" y1="1863.1" x2="783.9" y2="1863.1" stroke="#000" stroke-width="2.0"/>
<line x1="777.2" y1="1846.1" x2="783.9" y2="1846.1" stroke="#000" stroke-width="2.0"/>
<line x1="777.2" y1="1829.1" x2="783.9" y2="1829.1" stroke="#000" stroke-width="2.0"/>
<line x1="777.2" y1="1812.1" x2="783.9" y2="1812.1" stroke="#000" stroke-width="2.0"/>
<line x1="777.2" y1="1795.1" x2="783.9" y2="1795.1" stroke="#000" stroke-width="2.0"/>
<line x1="777.2" y1="1778.1" x2="783.9" y2="1778.1" stroke="#000" stroke-width="2.0"/>
<line x1="777.2" y1="1761.1" x2="783.9" y2="1761.1" stroke="#000" stroke-width="2.0"/>
<line x1="777.2" y1="1744.1" x2="783.9" y2="1744.1" stroke="#000" stroke-width="2.0"/>
<line x1="777.2" y1="1727.1" x2="783.9" y2="1727.1" stroke="#000" stroke-width="2.0"/>
<line x1="777.2" y1="1710.1" x2="783.9" y2="1710.1" stroke="#000" stroke-width="2.0"/>
<line x1="777.2" y1="1693.1" x2="783.9" y2="1693.1" stroke="#000" stroke-width="2.0"/>
<line x1="777.2" y1="1676.1" x2="783.9" y2="1676.1" stroke="#000" stroke-width="2.0"/>
<line x1="777.2" y1="1659.1" x2="783.9" y2="1659.1" stroke="#000" stroke-width="2.0"/>
<line x1="777.2" y1="1642.1" x2="783.9" y2="1642.1" stroke="#000" stroke-width="2.0"/>
<line x1="777.2" y1="1625.1" x2="783.9" y2="1625.1" stroke="#000" stroke-width="2.0"/>
<line x1="777.2" y1="1608.1" x2="783.9" y2="1608.1" stroke="#000" stroke-width="2.0"/>
<line x1="777.2" y1="1591.1" x2="783.9" y2="1591.1" stroke="#000" stroke-width="2.0"/>
<line x1="777.2" y1="1574.1" x2="783.9" y2="1574.1" stroke="#000" stroke-width="2.0"/>
<line x1="777.2" y1="1557.1" x2="783.9" y2="1557.1" stroke="#000" stroke-width="2.0"/>
<text x="765.3" y="1922.5" font-size="30" text-anchor="end" font-weight="normal" font-style="normal" fill="#000" >−12</text>
<text x="765.3" y="1871.5" font-size="30" text-anchor="end" font-weight="normal" font-style="normal" fill="#000" >−9</text>
<text x="765.3" y="1820.5" font-size="30" text-anchor="end" font-weight="normal" font-style="normal" fill="#000" >−6</text>
<text x="765.3" y="1769.5" font-size="30" text-anchor="end" font-weight="normal" font-style="normal" fill="#000" >−3</text>
<text x="765.3" y="1718.5" font-size="30" text-anchor="end" font-weight="normal" font-style="normal" fill="#000" >0</text>
<text x="765.3" y="1667.5" font-size="30" text-anchor="end" font-weight="normal" font-style="normal" fill="#000" >3</text>
<text x="765.3" y="1616.5" font-size="30" text-anchor="end" font-weight="normal" font-style="normal" fill="#000" >6</text>
<text x="765.3" y="1565.5" font-size="30" text-anchor="end" font-weight="normal" font-style="normal" fill="#000" >9</text>
<line x1="783.9" y1="1930.8" x2="783.9" y2="1937.8" stroke="#000" stroke-width="2.2"/>
<text x="783.9" y="1971.3" font-size="30" text-anchor="middle" font-weight="normal" font-style="normal" fill="#000" >0.0032</text>
<line x1="932.3" y1="1930.8" x2="932.3" y2="1937.8" stroke="#000" stroke-width="2.2"/>
<text x="932.3" y="1971.3" font-size="30" text-anchor="middle" font-weight="normal" font-style="normal" fill="#000" >0.0033</text>
<line x1="1080.7" y1="1930.8" x2="1080.7" y2="1937.8" stroke="#000" stroke-width="2.2"/>
<text x="1080.7" y="1971.3" font-size="30" text-anchor="middle" font-weight="normal" font-style="normal" fill="#000" >0.0034</text>
<line x1="1229.1" y1="1930.8" x2="1229.1" y2="1937.8" stroke="#000" stroke-width="2.2"/>
<text x="1229.1" y="1971.3" font-size="30" text-anchor="middle" font-weight="normal" font-style="normal" fill="#000" >0.0035</text>
<text x="1042.5" y="2021" font-size="29" text-anchor="middle">1/<tspan font-style="italic">T</tspan> (K<tspan font-size="18" dy="-12">−1</tspan><tspan dy="12">)</tspan></text>
<text transform="translate(697 1747.5) rotate(-90)" font-size="29" text-anchor="middle">ln <tspan font-style="italic">k</tspan>/<tspan font-style="italic">T</tspan></text>
<text x="822" y="1626.8" font-size="29" font-weight="bold" font-style="italic" fill="#5a5b5d">k</text>
<text x="836.5" y="1635" font-size="21" font-weight="bold" fill="#5a5b5d">assoc-D</text>
<text x="1002.5" y="1714.5" font-size="29" font-weight="bold" font-style="italic" fill="#9e8a7c">k</text>
<text x="1017" y="1722.5" font-size="21" font-weight="bold" fill="#9e8a7c">assoc-T</text>
<text x="1197.5" y="1852" font-size="29" font-weight="bold" font-style="italic" fill="#c79e66">k</text>
<text x="1212" y="1860" font-size="21" font-weight="bold" fill="#c79e66">diss-T</text>
<text x="674" y="1555" font-size="41" text-anchor="start" font-weight="bold" font-style="normal" fill="#000" >g</text>
</svg>
</body></html>
